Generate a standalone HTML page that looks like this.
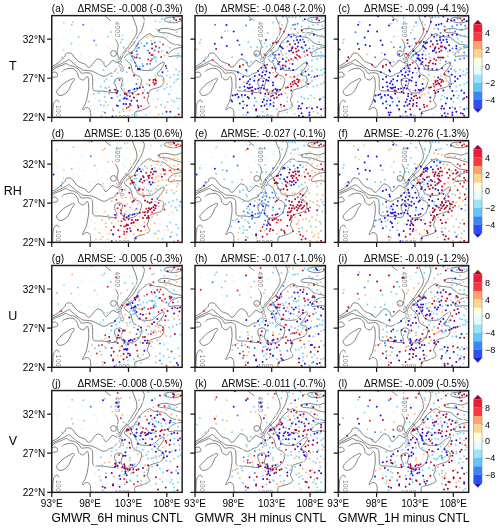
<!DOCTYPE html><html><head><meta charset="utf-8"><style>html,body{margin:0;padding:0;background:#fff;}svg{display:block;}</style></head><body>
<svg width="500" height="529" viewBox="0 0 500 529" font-family="'Liberation Sans', Arial, sans-serif">
<rect width="500" height="529" fill="#fff"/>
<defs>
<g id="cont"><path d="M52.65 -1.00C52.78 -0.73 52.85 -0.07 53.45 0.60C54.05 1.27 55.28 2.23 56.25 3.00C57.22 3.77 58.75 4.83 59.25 5.20M63.45 23.30C63.65 23.60 64.25 24.40 64.65 25.10C65.05 25.80 65.55 26.58 65.85 27.50C66.15 28.42 66.47 29.57 66.45 30.60C66.43 31.63 65.93 32.68 65.75 33.70C65.57 34.72 65.28 35.70 65.35 36.70C65.42 37.70 65.88 38.82 66.15 39.70C66.42 40.58 66.62 41.57 66.95 42.00C67.28 42.43 67.75 42.63 68.15 42.30C68.55 41.97 68.82 40.88 69.35 40.00C69.88 39.12 70.48 38.02 71.35 37.00C72.22 35.98 73.68 34.87 74.55 33.90C75.42 32.93 75.88 32.12 76.55 31.20C77.22 30.28 77.87 29.43 78.55 28.40C79.23 27.37 80.02 26.02 80.65 25.00C81.28 23.98 81.78 23.20 82.35 22.30C82.92 21.40 83.60 20.50 84.05 19.60C84.50 18.70 84.88 17.92 85.05 16.90C85.22 15.88 85.17 14.63 85.05 13.50C84.93 12.37 84.68 11.23 84.35 10.10C84.02 8.97 83.50 7.83 83.05 6.70C82.60 5.57 82.05 4.38 81.65 3.30C81.25 2.22 80.87 0.92 80.65 0.20C80.43 -0.52 80.40 -0.80 80.35 -1.00M-0.65 51.10C-0.38 50.98 0.23 50.73 0.95 50.40C1.67 50.07 2.77 49.60 3.65 49.10C4.53 48.60 5.37 48.07 6.25 47.40C7.13 46.73 8.07 45.93 8.95 45.10C9.83 44.27 10.83 43.12 11.55 42.40C12.27 41.68 12.85 41.45 13.25 40.80C13.65 40.15 13.57 39.05 13.95 38.50C14.33 37.95 14.83 37.67 15.55 37.50C16.27 37.33 17.37 37.25 18.25 37.50C19.13 37.75 20.00 38.17 20.85 39.00C21.70 39.83 22.35 41.33 23.35 42.50C24.35 43.67 25.55 45.13 26.85 46.00C28.15 46.87 29.95 47.20 31.15 47.70C32.35 48.20 33.28 48.37 34.05 49.00C34.82 49.63 35.10 51.08 35.75 51.50C36.40 51.92 37.17 51.92 37.95 51.50C38.73 51.08 39.60 49.98 40.45 49.00C41.30 48.02 42.20 46.53 43.05 45.60C43.90 44.67 44.70 43.68 45.55 43.40C46.40 43.12 47.30 43.53 48.15 43.90C49.00 44.27 49.95 44.75 50.65 45.60C51.35 46.45 51.92 48.13 52.35 49.00C52.78 49.87 52.82 50.52 53.25 50.80C53.68 51.08 54.38 51.00 54.95 50.70C55.52 50.40 56.08 49.53 56.65 49.00C57.22 48.47 57.82 48.10 58.35 47.50C58.88 46.90 59.25 45.82 59.85 45.40C60.45 44.98 61.22 44.82 61.95 45.00C62.68 45.18 63.50 46.18 64.25 46.50C65.00 46.82 65.82 47.02 66.45 46.90C67.08 46.78 67.57 46.28 68.05 45.80C68.53 45.32 68.95 44.75 69.35 44.00C69.75 43.25 70.05 42.08 70.45 41.30C70.85 40.52 71.22 40.05 71.75 39.30C72.28 38.55 73.05 37.55 73.65 36.80C74.25 36.05 74.70 35.43 75.35 34.80C76.00 34.17 76.90 33.63 77.55 33.00C78.20 32.37 78.62 31.65 79.25 31.00C79.88 30.35 80.67 29.98 81.35 29.10C82.03 28.22 82.68 26.83 83.35 25.70C84.02 24.57 84.67 23.43 85.35 22.30C86.03 21.17 86.77 20.03 87.45 18.90C88.13 17.77 88.88 16.63 89.45 15.50C90.02 14.37 90.45 13.23 90.85 12.10C91.25 10.97 91.57 9.83 91.85 8.70C92.13 7.57 92.48 6.32 92.55 5.30C92.62 4.28 92.60 3.45 92.25 2.60C91.90 1.75 90.80 0.80 90.45 0.20C90.10 -0.40 90.20 -0.80 90.15 -1.00M-0.65 53.30C-0.38 53.15 0.02 52.88 0.95 52.40C1.88 51.92 3.62 51.07 4.95 50.40C6.28 49.73 7.62 49.07 8.95 48.40C10.28 47.73 11.85 47.00 12.95 46.40C14.05 45.80 14.78 45.18 15.55 44.80C16.32 44.42 17.00 44.05 17.55 44.10C18.10 44.15 18.40 44.65 18.85 45.10C19.30 45.55 19.70 46.33 20.25 46.80C20.80 47.27 21.33 47.25 22.15 47.90C22.97 48.55 24.08 49.88 25.15 50.70C26.22 51.52 27.55 52.17 28.55 52.80C29.55 53.43 30.02 54.15 31.15 54.50C32.28 54.85 33.93 54.75 35.35 54.90C36.77 55.05 38.23 55.03 39.65 55.40C41.07 55.77 42.58 56.53 43.85 57.10C45.12 57.67 46.12 58.23 47.25 58.80C48.38 59.37 49.52 60.22 50.65 60.50C51.78 60.78 53.05 60.78 54.05 60.50C55.05 60.22 55.77 59.30 56.65 58.80C57.53 58.30 58.48 57.80 59.35 57.50C60.22 57.20 61.18 57.42 61.85 57.00C62.52 56.58 62.80 55.72 63.35 55.00C63.90 54.28 64.85 53.08 65.15 52.70M-0.65 55.50C-0.38 55.32 0.23 54.92 0.95 54.40C1.67 53.88 2.65 52.95 3.65 52.40C4.65 51.85 5.85 51.55 6.95 51.10C8.05 50.65 9.15 50.20 10.25 49.70C11.35 49.20 12.67 48.32 13.55 48.10C14.43 47.88 14.88 48.13 15.55 48.40C16.22 48.67 16.77 49.37 17.55 49.70C18.33 50.03 19.55 50.23 20.25 50.40C20.95 50.57 20.93 50.37 21.75 50.70C22.57 51.03 24.15 51.70 25.15 52.40C26.15 53.10 27.03 54.05 27.75 54.90C28.47 55.75 28.75 57.07 29.45 57.50C30.15 57.93 30.97 57.57 31.95 57.50C32.93 57.43 34.22 57.03 35.35 57.10C36.48 57.17 37.90 57.42 38.75 57.90C39.60 58.38 40.08 58.93 40.45 60.00C40.82 61.07 40.87 62.60 40.95 64.30C41.03 66.00 40.88 68.57 40.95 70.20C41.02 71.83 40.87 73.23 41.35 74.10C41.83 74.97 42.72 75.18 43.85 75.40C44.98 75.62 46.73 75.33 48.15 75.40C49.57 75.47 51.08 75.67 52.35 75.80C53.62 75.93 54.75 76.05 55.75 76.20C56.75 76.35 57.25 76.57 58.35 76.70C59.45 76.83 61.27 77.12 62.35 77.00C63.43 76.88 64.43 76.75 64.85 76.00C65.27 75.25 65.10 73.58 64.85 72.50C64.60 71.42 63.68 70.50 63.35 69.50C63.02 68.50 62.85 67.42 62.85 66.50C62.85 65.58 62.77 64.67 63.35 64.00C63.93 63.33 65.27 62.67 66.35 62.50C67.43 62.33 69.10 62.50 69.85 63.00C70.60 63.50 70.85 64.50 70.85 65.50C70.85 66.50 70.10 67.92 69.85 69.00C69.60 70.08 69.18 71.00 69.35 72.00C69.52 73.00 70.18 74.17 70.85 75.00C71.52 75.83 72.43 76.58 73.35 77.00C74.27 77.42 75.18 77.50 76.35 77.50C77.52 77.50 79.18 77.25 80.35 77.00C81.52 76.75 82.43 76.50 83.35 76.00C84.27 75.50 85.10 74.75 85.85 74.00C86.60 73.25 87.27 72.58 87.85 71.50C88.43 70.42 89.02 68.75 89.35 67.50C89.68 66.25 89.93 64.87 89.85 64.00C89.77 63.13 89.27 62.85 88.85 62.30C88.43 61.75 88.10 61.17 87.35 60.70C86.60 60.23 85.25 60.00 84.35 59.50C83.45 59.00 82.55 58.30 81.95 57.70C81.35 57.10 81.05 56.60 80.75 55.90C80.45 55.20 80.35 54.40 80.15 53.50C79.95 52.60 79.85 51.40 79.55 50.50C79.25 49.60 78.85 48.80 78.35 48.10C77.85 47.40 77.25 46.90 76.55 46.30C75.85 45.70 74.80 45.08 74.15 44.50C73.50 43.92 72.82 43.37 72.65 42.80C72.48 42.23 72.70 41.72 73.15 41.10C73.60 40.48 74.48 39.77 75.35 39.10C76.22 38.43 77.25 37.80 78.35 37.10C79.45 36.40 81.12 35.58 81.95 34.90C82.78 34.22 82.88 33.73 83.35 33.00C83.82 32.27 84.30 31.37 84.75 30.50C85.20 29.63 85.60 28.60 86.05 27.80C86.50 27.00 86.88 26.38 87.45 25.70C88.02 25.02 88.77 24.32 89.45 23.70C90.13 23.08 90.87 22.57 91.55 22.00C92.23 21.43 92.87 20.82 93.55 20.30C94.23 19.78 94.97 19.23 95.65 18.90C96.33 18.57 97.03 18.33 97.65 18.30C98.27 18.27 98.77 18.37 99.35 18.70C99.93 19.03 100.20 19.92 101.15 20.30C102.10 20.68 103.75 20.82 105.05 21.00C106.35 21.18 107.78 21.25 108.95 21.40C110.12 21.55 111.13 21.55 112.05 21.90C112.97 22.25 113.63 22.87 114.45 23.50C115.27 24.13 116.15 25.05 116.95 25.70C117.75 26.35 118.40 26.92 119.25 27.40C120.10 27.88 120.92 28.32 122.05 28.60C123.18 28.88 125.02 28.92 126.05 29.10C127.08 29.28 127.37 29.40 128.25 29.70C129.13 30.00 130.83 30.70 131.35 30.90M73.85 33.00C74.18 33.30 75.10 34.08 75.85 34.80C76.60 35.52 77.73 36.38 78.35 37.30C78.97 38.22 79.05 39.30 79.55 40.30C80.05 41.30 80.75 42.20 81.35 43.30C81.95 44.40 82.55 45.80 83.15 46.90C83.75 48.00 84.45 49.00 84.95 49.90C85.45 50.80 85.55 51.60 86.15 52.30C86.75 53.00 87.75 53.70 88.55 54.10C89.35 54.50 90.15 54.58 90.95 54.70C91.75 54.82 92.45 54.77 93.35 54.80C94.25 54.83 95.18 54.98 96.35 54.90C97.52 54.82 99.27 54.67 100.35 54.30C101.43 53.93 101.85 53.50 102.85 52.70C103.85 51.90 105.27 50.37 106.35 49.50C107.43 48.63 108.43 48.03 109.35 47.50C110.27 46.97 111.35 46.13 111.85 46.30C112.35 46.47 112.60 47.55 112.35 48.50C112.10 49.45 111.02 50.92 110.35 52.00C109.68 53.08 109.10 54.12 108.35 55.00C107.60 55.88 106.32 56.67 105.85 57.30C105.38 57.93 105.38 58.38 105.55 58.80C105.72 59.22 106.12 59.50 106.85 59.80C107.58 60.10 109.15 60.22 109.95 60.60C110.75 60.98 111.30 61.32 111.65 62.10C112.00 62.88 112.17 64.20 112.05 65.30C111.93 66.40 111.42 67.80 110.95 68.70C110.48 69.60 110.10 70.13 109.25 70.70C108.40 71.27 107.20 71.63 105.85 72.10C104.50 72.57 102.47 73.02 101.15 73.50C99.83 73.98 98.65 74.33 97.95 75.00C97.25 75.67 97.13 76.58 96.95 77.50C96.77 78.42 97.12 79.33 96.85 80.50C96.58 81.67 95.35 83.33 95.35 84.50C95.35 85.67 96.43 86.50 96.85 87.50C97.27 88.50 98.10 89.67 97.85 90.50C97.60 91.33 96.27 91.97 95.35 92.50C94.43 93.03 93.43 93.28 92.35 93.70C91.27 94.12 90.02 94.67 88.85 95.00C87.68 95.33 86.30 95.42 85.35 95.70C84.40 95.98 83.55 96.07 83.15 96.70C82.75 97.33 82.98 98.53 82.95 99.50C82.92 100.47 82.95 102.00 82.95 102.50M10.25 56.00C10.47 55.78 11.00 55.08 11.55 54.70C12.10 54.32 12.77 53.98 13.55 53.70C14.33 53.42 15.37 53.17 16.25 53.00C17.13 52.83 17.93 52.67 18.85 52.70C19.77 52.73 20.83 52.75 21.75 53.20C22.67 53.65 23.63 54.55 24.35 55.40C25.07 56.25 25.63 57.25 26.05 58.30C26.47 59.35 26.28 60.77 26.85 61.70C27.42 62.63 28.60 63.47 29.45 63.90C30.30 64.33 31.25 64.52 31.95 64.30C32.65 64.08 33.15 63.17 33.65 62.60C34.15 62.03 34.52 61.05 34.95 60.90C35.38 60.75 35.93 60.93 36.25 61.70C36.57 62.47 36.72 64.03 36.85 65.50C36.98 66.97 37.08 69.00 37.05 70.50C37.02 72.00 36.85 73.00 36.65 74.50C36.45 76.00 36.15 77.83 35.85 79.50C35.55 81.17 35.27 83.00 34.85 84.50C34.43 86.00 33.93 87.25 33.35 88.50C32.77 89.75 31.77 91.08 31.35 92.00C30.93 92.92 30.68 93.75 30.85 94.00C31.02 94.25 31.93 93.78 32.35 93.50C32.77 93.22 32.77 92.55 33.35 92.30C33.93 92.05 35.10 91.80 35.85 92.00C36.60 92.20 37.35 92.75 37.85 93.50C38.35 94.25 38.68 95.50 38.85 96.50C39.02 97.50 38.77 98.50 38.85 99.50C38.93 100.50 39.27 102.00 39.35 102.50M-0.65 56.80C-0.38 56.83 0.35 57.07 0.95 57.00C1.55 56.93 2.28 56.35 2.95 56.40C3.62 56.45 4.45 56.82 4.95 57.30C5.45 57.78 5.88 58.68 5.95 59.30C6.02 59.92 5.73 60.67 5.35 61.00C4.97 61.33 4.27 61.18 3.65 61.30C3.03 61.42 2.37 61.57 1.65 61.70C0.93 61.83 -0.27 62.03 -0.65 62.10M5.35 77.50C4.93 76.78 4.52 76.33 4.85 75.50C5.18 74.67 6.27 73.67 7.35 72.50C8.43 71.33 10.08 69.57 11.35 68.50C12.62 67.43 13.80 66.80 14.95 66.10C16.10 65.40 17.27 64.82 18.25 64.30C19.23 63.78 20.13 63.17 20.85 63.00C21.57 62.83 22.33 62.97 22.55 63.30C22.77 63.63 22.60 64.22 22.15 65.00C21.70 65.78 20.57 66.75 19.85 68.00C19.13 69.25 18.60 71.08 17.85 72.50C17.10 73.92 16.43 75.37 15.35 76.50C14.27 77.63 12.68 78.75 11.35 79.30C10.02 79.85 8.35 80.10 7.35 79.80C6.35 79.50 5.77 78.22 5.35 77.50ZM0.95 102.50C0.95 102.17 0.92 101.85 0.95 100.50C0.98 99.15 1.07 96.18 1.15 94.40C1.23 92.62 1.25 91.03 1.45 89.80C1.65 88.57 1.92 87.80 2.35 87.00C2.78 86.20 3.48 85.38 4.05 85.00C4.62 84.62 5.28 84.60 5.75 84.70C6.22 84.80 6.62 85.22 6.85 85.60C7.08 85.98 7.10 86.77 7.15 87.00M131.35 0.50C131.00 0.50 129.87 0.45 129.25 0.50C128.63 0.55 128.43 0.68 127.65 0.80C126.87 0.92 125.85 1.07 124.55 1.20C123.25 1.33 121.28 1.47 119.85 1.60C118.42 1.73 117.05 1.80 115.95 2.00C114.85 2.20 113.83 2.47 113.25 2.80C112.67 3.13 112.48 3.62 112.45 4.00C112.42 4.38 112.47 4.72 113.05 5.10C113.63 5.48 114.82 5.97 115.95 6.30C117.08 6.63 118.55 6.97 119.85 7.10C121.15 7.23 122.58 7.23 123.75 7.10C124.92 6.97 125.93 6.63 126.85 6.30C127.77 5.97 128.50 5.40 129.25 5.10C130.00 4.80 131.00 4.60 131.35 4.50M131.35 12.20C131.00 12.25 130.12 12.25 129.25 12.50C128.38 12.75 127.20 13.37 126.15 13.70C125.10 14.03 124.13 14.50 122.95 14.50C121.77 14.50 120.35 13.97 119.05 13.70C117.75 13.43 116.45 13.03 115.15 12.90C113.85 12.77 112.42 12.77 111.25 12.90C110.08 13.03 108.98 13.37 108.15 13.70C107.32 14.03 106.47 14.47 106.25 14.90C106.03 15.33 106.25 15.95 106.85 16.30C107.45 16.65 108.68 16.83 109.85 17.00C111.02 17.17 112.60 17.18 113.85 17.30C115.10 17.42 116.18 17.42 117.35 17.70C118.52 17.98 119.68 18.55 120.85 19.00C122.02 19.45 123.10 20.03 124.35 20.40C125.60 20.77 127.18 20.85 128.35 21.20C129.52 21.55 130.85 22.28 131.35 22.50M131.35 31.70C130.52 31.80 127.90 31.97 126.35 32.30C124.80 32.63 123.33 33.10 122.05 33.70C120.77 34.30 119.50 35.15 118.65 35.90C117.80 36.65 117.28 37.43 116.95 38.20C116.62 38.97 116.47 40.03 116.65 40.50C116.83 40.97 117.25 41.00 118.05 41.00C118.85 41.00 120.12 40.63 121.45 40.50C122.78 40.37 124.40 40.15 126.05 40.20C127.70 40.25 130.47 40.70 131.35 40.80" fill="none" stroke="#6b6b6b" stroke-width="0.85" stroke-linejoin="round"/><circle cx="61.75" cy="37.90" r="2.9" fill="none" stroke="#6b6b6b" stroke-width="0.85"/><text transform="translate(65.55,14.00) rotate(90)" font-size="6.3" letter-spacing="0.5" text-anchor="middle" dy="2.27" fill="#7a7a7a">4000</text><text transform="translate(68.65,48.80) rotate(72)" font-size="6.0" letter-spacing="0.5" text-anchor="middle" dy="2.16" fill="#7a7a7a">3000</text><text transform="translate(6.95,95.50) rotate(90)" font-size="6.5" letter-spacing="0.5" text-anchor="middle" dy="2.34" fill="#7a7a7a">100</text><text transform="translate(70.65,100.80) rotate(0)" font-size="6.0" letter-spacing="0.5" text-anchor="middle" dy="2.16" fill="#7a7a7a">1000</text></g>
</defs>
<clipPath id="cp0"><rect x="51.75" y="15.60" width="130.4" height="101.8"/></clipPath>
<g clip-path="url(#cp0)">
<use href="#cont" transform="translate(51.75,15.60)"/>
<g transform="translate(51.75,15.60)"><path fill="#dcf8fd" d="M51.2 8.2a1.0 1.0 0 1 0 2.0 0a1.0 1.0 0 1 0 -2.0 0M16.8 16.3a1.0 1.0 0 1 0 2.0 0a1.0 1.0 0 1 0 -2.0 0M38.2 15.7a1.0 1.0 0 1 0 2.0 0a1.0 1.0 0 1 0 -2.0 0M26.5 29.3a1.0 1.0 0 1 0 2.0 0a1.0 1.0 0 1 0 -2.0 0M55.2 31.6a1.0 1.0 0 1 0 2.0 0a1.0 1.0 0 1 0 -2.0 0M0.5 34.2a1.0 1.0 0 1 0 2.0 0a1.0 1.0 0 1 0 -2.0 0M28.1 38.8a1.0 1.0 0 1 0 2.0 0a1.0 1.0 0 1 0 -2.0 0M36.9 41.7a1.0 1.0 0 1 0 2.0 0a1.0 1.0 0 1 0 -2.0 0M42.2 41.7a1.0 1.0 0 1 0 2.0 0a1.0 1.0 0 1 0 -2.0 0M54.5 39.1a1.0 1.0 0 1 0 2.0 0a1.0 1.0 0 1 0 -2.0 0M48.0 49.5a1.0 1.0 0 1 0 2.0 0a1.0 1.0 0 1 0 -2.0 0M66.8 8.2a1.0 1.0 0 1 0 2.0 0a1.0 1.0 0 1 0 -2.0 0M72.0 18.6a1.0 1.0 0 1 0 2.0 0a1.0 1.0 0 1 0 -2.0 0M74.7 34.2a1.0 1.0 0 1 0 2.0 0a1.0 1.0 0 1 0 -2.0 0M91.6 5.6a1.0 1.0 0 1 0 2.0 0a1.0 1.0 0 1 0 -2.0 0M111.1 9.5a1.0 1.0 0 1 0 2.0 0a1.0 1.0 0 1 0 -2.0 0M118.8 12.1a1.0 1.0 0 1 0 2.0 0a1.0 1.0 0 1 0 -2.0 0M125.3 22.5a1.0 1.0 0 1 0 2.0 0a1.0 1.0 0 1 0 -2.0 0M120.2 26.4a1.0 1.0 0 1 0 2.0 0a1.0 1.0 0 1 0 -2.0 0M114.9 30.3a1.0 1.0 0 1 0 2.0 0a1.0 1.0 0 1 0 -2.0 0M122.8 34.2a1.0 1.0 0 1 0 2.0 0a1.0 1.0 0 1 0 -2.0 0M118.8 45.9a1.0 1.0 0 1 0 2.0 0a1.0 1.0 0 1 0 -2.0 0M72.0 43.3a1.0 1.0 0 1 0 2.0 0a1.0 1.0 0 1 0 -2.0 0M75.9 48.5a1.0 1.0 0 1 0 2.0 0a1.0 1.0 0 1 0 -2.0 0M68.2 39.4a1.0 1.0 0 1 0 2.0 0a1.0 1.0 0 1 0 -2.0 0M56.4 65.1a1.0 1.0 0 1 0 2.0 0a1.0 1.0 0 1 0 -2.0 0M44.8 100.8a1.0 1.0 0 1 0 2.0 0a1.0 1.0 0 1 0 -2.0 0M62.9 87.8a1.0 1.0 0 1 0 2.0 0a1.0 1.0 0 1 0 -2.0 0M38.2 79.4a1.0 1.0 0 1 0 2.0 0a1.0 1.0 0 1 0 -2.0 0M42.2 64.4a1.0 1.0 0 1 0 2.0 0a1.0 1.0 0 1 0 -2.0 0M44.8 59.2a1.0 1.0 0 1 0 2.0 0a1.0 1.0 0 1 0 -2.0 0M38.2 90.4a1.0 1.0 0 1 0 2.0 0a1.0 1.0 0 1 0 -2.0 0M42.2 82.6a1.0 1.0 0 1 0 2.0 0a1.0 1.0 0 1 0 -2.0 0M53.8 93.0a1.0 1.0 0 1 0 2.0 0a1.0 1.0 0 1 0 -2.0 0M44.8 93.0a1.0 1.0 0 1 0 2.0 0a1.0 1.0 0 1 0 -2.0 0M35.7 95.6a1.0 1.0 0 1 0 2.0 0a1.0 1.0 0 1 0 -2.0 0M40.8 70.9a1.0 1.0 0 1 0 2.0 0a1.0 1.0 0 1 0 -2.0 0M118.8 74.8a1.0 1.0 0 1 0 2.0 0a1.0 1.0 0 1 0 -2.0 0M122.8 77.4a1.0 1.0 0 1 0 2.0 0a1.0 1.0 0 1 0 -2.0 0M126.7 69.6a1.0 1.0 0 1 0 2.0 0a1.0 1.0 0 1 0 -2.0 0M107.2 81.3a1.0 1.0 0 1 0 2.0 0a1.0 1.0 0 1 0 -2.0 0M100.7 83.9a1.0 1.0 0 1 0 2.0 0a1.0 1.0 0 1 0 -2.0 0M96.8 89.1a1.0 1.0 0 1 0 2.0 0a1.0 1.0 0 1 0 -2.0 0M118.8 90.4a1.0 1.0 0 1 0 2.0 0a1.0 1.0 0 1 0 -2.0 0M126.7 89.1a1.0 1.0 0 1 0 2.0 0a1.0 1.0 0 1 0 -2.0 0M94.2 56.6a1.0 1.0 0 1 0 2.0 0a1.0 1.0 0 1 0 -2.0 0M116.2 100.8a1.0 1.0 0 1 0 2.0 0a1.0 1.0 0 1 0 -2.0 0M70.4 1.7a1.0 1.0 0 1 0 2.0 0a1.0 1.0 0 1 0 -2.0 0M73.7 3.1a1.0 1.0 0 1 0 2.0 0a1.0 1.0 0 1 0 -2.0 0M96.0 2.0a1.0 1.0 0 1 0 2.0 0a1.0 1.0 0 1 0 -2.0 0M54.8 5.4a1.0 1.0 0 1 0 2.0 0a1.0 1.0 0 1 0 -2.0 0M114.0 11.2a1.0 1.0 0 1 0 2.0 0a1.0 1.0 0 1 0 -2.0 0M8.7 14.5a1.0 1.0 0 1 0 2.0 0a1.0 1.0 0 1 0 -2.0 0M80.3 15.2a1.0 1.0 0 1 0 2.0 0a1.0 1.0 0 1 0 -2.0 0M91.6 14.4a1.0 1.0 0 1 0 2.0 0a1.0 1.0 0 1 0 -2.0 0M86.5 20.0a1.0 1.0 0 1 0 2.0 0a1.0 1.0 0 1 0 -2.0 0M105.6 18.9a1.0 1.0 0 1 0 2.0 0a1.0 1.0 0 1 0 -2.0 0M11.0 23.0a1.0 1.0 0 1 0 2.0 0a1.0 1.0 0 1 0 -2.0 0M75.3 24.6a1.0 1.0 0 1 0 2.0 0a1.0 1.0 0 1 0 -2.0 0M83.2 24.1a1.0 1.0 0 1 0 2.0 0a1.0 1.0 0 1 0 -2.0 0M121.0 30.0a1.0 1.0 0 1 0 2.0 0a1.0 1.0 0 1 0 -2.0 0M70.8 38.6a1.0 1.0 0 1 0 2.0 0a1.0 1.0 0 1 0 -2.0 0M105.9 39.0a1.0 1.0 0 1 0 2.0 0a1.0 1.0 0 1 0 -2.0 0M115.5 39.3a1.0 1.0 0 1 0 2.0 0a1.0 1.0 0 1 0 -2.0 0M63.5 43.3a1.0 1.0 0 1 0 2.0 0a1.0 1.0 0 1 0 -2.0 0M114.8 43.7a1.0 1.0 0 1 0 2.0 0a1.0 1.0 0 1 0 -2.0 0M45.4 52.1a1.0 1.0 0 1 0 2.0 0a1.0 1.0 0 1 0 -2.0 0M55.0 52.3a1.0 1.0 0 1 0 2.0 0a1.0 1.0 0 1 0 -2.0 0M61.0 51.1a1.0 1.0 0 1 0 2.0 0a1.0 1.0 0 1 0 -2.0 0M110.6 53.6a1.0 1.0 0 1 0 2.0 0a1.0 1.0 0 1 0 -2.0 0M45.8 62.5a1.0 1.0 0 1 0 2.0 0a1.0 1.0 0 1 0 -2.0 0M82.4 62.6a1.0 1.0 0 1 0 2.0 0a1.0 1.0 0 1 0 -2.0 0M88.9 62.5a1.0 1.0 0 1 0 2.0 0a1.0 1.0 0 1 0 -2.0 0M74.9 66.2a1.0 1.0 0 1 0 2.0 0a1.0 1.0 0 1 0 -2.0 0M78.7 64.6a1.0 1.0 0 1 0 2.0 0a1.0 1.0 0 1 0 -2.0 0M116.6 64.6a1.0 1.0 0 1 0 2.0 0a1.0 1.0 0 1 0 -2.0 0M124.8 74.3a1.0 1.0 0 1 0 2.0 0a1.0 1.0 0 1 0 -2.0 0M89.1 85.0a1.0 1.0 0 1 0 2.0 0a1.0 1.0 0 1 0 -2.0 0M109.4 84.8a1.0 1.0 0 1 0 2.0 0a1.0 1.0 0 1 0 -2.0 0M124.5 85.6a1.0 1.0 0 1 0 2.0 0a1.0 1.0 0 1 0 -2.0 0M40.7 98.7a1.0 1.0 0 1 0 2.0 0a1.0 1.0 0 1 0 -2.0 0"/><path fill="#fdf8d8" d="M29.2 15.7a1.0 1.0 0 1 0 2.0 0a1.0 1.0 0 1 0 -2.0 0M31.1 30.0a1.0 1.0 0 1 0 2.0 0a1.0 1.0 0 1 0 -2.0 0M5.1 24.1a1.0 1.0 0 1 0 2.0 0a1.0 1.0 0 1 0 -2.0 0M4.5 27.4a1.0 1.0 0 1 0 2.0 0a1.0 1.0 0 1 0 -2.0 0M20.0 32.9a1.0 1.0 0 1 0 2.0 0a1.0 1.0 0 1 0 -2.0 0M46.0 39.1a1.0 1.0 0 1 0 2.0 0a1.0 1.0 0 1 0 -2.0 0M59.7 21.2a1.0 1.0 0 1 0 2.0 0a1.0 1.0 0 1 0 -2.0 0M96.8 8.2a1.0 1.0 0 1 0 2.0 0a1.0 1.0 0 1 0 -2.0 0M60.3 56.6a1.0 1.0 0 1 0 2.0 0a1.0 1.0 0 1 0 -2.0 0M57.8 89.1a1.0 1.0 0 1 0 2.0 0a1.0 1.0 0 1 0 -2.0 0M65.6 18.7a1.0 1.0 0 1 0 2.0 0a1.0 1.0 0 1 0 -2.0 0M37.3 29.6a1.0 1.0 0 1 0 2.0 0a1.0 1.0 0 1 0 -2.0 0M123.2 28.1a1.0 1.0 0 1 0 2.0 0a1.0 1.0 0 1 0 -2.0 0M121.3 56.4a1.0 1.0 0 1 0 2.0 0a1.0 1.0 0 1 0 -2.0 0M41.0 89.0a1.0 1.0 0 1 0 2.0 0a1.0 1.0 0 1 0 -2.0 0M92.2 89.8a1.0 1.0 0 1 0 2.0 0a1.0 1.0 0 1 0 -2.0 0M74.3 95.0a1.0 1.0 0 1 0 2.0 0a1.0 1.0 0 1 0 -2.0 0M97.1 97.9a1.0 1.0 0 1 0 2.0 0a1.0 1.0 0 1 0 -2.0 0"/><path fill="#9fe3f7" d="M53.8 72.9a1.0 1.0 0 1 0 2.0 0a1.0 1.0 0 1 0 -2.0 0M48.7 74.8a1.0 1.0 0 1 0 2.0 0a1.0 1.0 0 1 0 -2.0 0M11.1 7.1a1.0 1.0 0 1 0 2.0 0a1.0 1.0 0 1 0 -2.0 0M102.7 5.6a1.0 1.0 0 1 0 2.0 0a1.0 1.0 0 1 0 -2.0 0M107.2 6.4a1.0 1.0 0 1 0 2.0 0a1.0 1.0 0 1 0 -2.0 0M69.5 19.9a1.0 1.0 0 1 0 2.0 0a1.0 1.0 0 1 0 -2.0 0M111.6 18.5a1.0 1.0 0 1 0 2.0 0a1.0 1.0 0 1 0 -2.0 0M114.8 20.9a1.0 1.0 0 1 0 2.0 0a1.0 1.0 0 1 0 -2.0 0M10.8 34.2a1.0 1.0 0 1 0 2.0 0a1.0 1.0 0 1 0 -2.0 0M64.9 57.7a1.0 1.0 0 1 0 2.0 0a1.0 1.0 0 1 0 -2.0 0M69.7 62.4a1.0 1.0 0 1 0 2.0 0a1.0 1.0 0 1 0 -2.0 0M114.2 60.0a1.0 1.0 0 1 0 2.0 0a1.0 1.0 0 1 0 -2.0 0M60.9 67.1a1.0 1.0 0 1 0 2.0 0a1.0 1.0 0 1 0 -2.0 0M88.9 69.1a1.0 1.0 0 1 0 2.0 0a1.0 1.0 0 1 0 -2.0 0M114.0 72.0a1.0 1.0 0 1 0 2.0 0a1.0 1.0 0 1 0 -2.0 0M104.9 83.4a1.0 1.0 0 1 0 2.0 0a1.0 1.0 0 1 0 -2.0 0M118.9 85.0a1.0 1.0 0 1 0 2.0 0a1.0 1.0 0 1 0 -2.0 0M55.1 89.7a1.0 1.0 0 1 0 2.0 0a1.0 1.0 0 1 0 -2.0 0M79.8 99.2a1.0 1.0 0 1 0 2.0 0a1.0 1.0 0 1 0 -2.0 0M84.0 99.7a1.0 1.0 0 1 0 2.0 0a1.0 1.0 0 1 0 -2.0 0M93.4 99.5a1.0 1.0 0 1 0 2.0 0a1.0 1.0 0 1 0 -2.0 0"/><path fill="#fdd28f" d="M49.9 96.2a1.0 1.0 0 1 0 2.0 0a1.0 1.0 0 1 0 -2.0 0"/><path fill="#80d3f7" d="M19.0 9.1a1.0 1.0 0 1 0 2.0 0a1.0 1.0 0 1 0 -2.0 0M58.4 16.3a1.0 1.0 0 1 0 2.0 0a1.0 1.0 0 1 0 -2.0 0M25.9 21.6a1.0 1.0 0 1 0 2.0 0a1.0 1.0 0 1 0 -2.0 0M18.8 28.0a1.0 1.0 0 1 0 2.0 0a1.0 1.0 0 1 0 -2.0 0M43.4 29.4a1.0 1.0 0 1 0 2.0 0a1.0 1.0 0 1 0 -2.0 0M20.0 40.0a1.0 1.0 0 1 0 2.0 0a1.0 1.0 0 1 0 -2.0 0M51.2 47.2a1.0 1.0 0 1 0 2.0 0a1.0 1.0 0 1 0 -2.0 0M63.6 46.5a1.0 1.0 0 1 0 2.0 0a1.0 1.0 0 1 0 -2.0 0M117.6 5.6a1.0 1.0 0 1 0 2.0 0a1.0 1.0 0 1 0 -2.0 0M113.7 3.0a1.0 1.0 0 1 0 2.0 0a1.0 1.0 0 1 0 -2.0 0M109.1 3.3a1.0 1.0 0 1 0 2.0 0a1.0 1.0 0 1 0 -2.0 0M69.5 23.8a1.0 1.0 0 1 0 2.0 0a1.0 1.0 0 1 0 -2.0 0M68.2 27.0a1.0 1.0 0 1 0 2.0 0a1.0 1.0 0 1 0 -2.0 0M70.8 31.6a1.0 1.0 0 1 0 2.0 0a1.0 1.0 0 1 0 -2.0 0M88.3 27.7a1.0 1.0 0 1 0 2.0 0a1.0 1.0 0 1 0 -2.0 0M84.4 32.9a1.0 1.0 0 1 0 2.0 0a1.0 1.0 0 1 0 -2.0 0M98.7 25.1a1.0 1.0 0 1 0 2.0 0a1.0 1.0 0 1 0 -2.0 0M107.2 26.4a1.0 1.0 0 1 0 2.0 0a1.0 1.0 0 1 0 -2.0 0M109.1 35.5a1.0 1.0 0 1 0 2.0 0a1.0 1.0 0 1 0 -2.0 0M101.3 41.3a1.0 1.0 0 1 0 2.0 0a1.0 1.0 0 1 0 -2.0 0M103.2 41.3a1.0 1.0 0 1 0 2.0 0a1.0 1.0 0 1 0 -2.0 0M101.9 42.6a1.0 1.0 0 1 0 2.0 0a1.0 1.0 0 1 0 -2.0 0M77.9 44.6a1.0 1.0 0 1 0 2.0 0a1.0 1.0 0 1 0 -2.0 0M89.6 48.5a1.0 1.0 0 1 0 2.0 0a1.0 1.0 0 1 0 -2.0 0M110.4 47.2a1.0 1.0 0 1 0 2.0 0a1.0 1.0 0 1 0 -2.0 0M87.0 51.1a1.0 1.0 0 1 0 2.0 0a1.0 1.0 0 1 0 -2.0 0M103.2 45.9a1.0 1.0 0 1 0 2.0 0a1.0 1.0 0 1 0 -2.0 0M124.7 42.0a1.0 1.0 0 1 0 2.0 0a1.0 1.0 0 1 0 -2.0 0M125.3 38.1a1.0 1.0 0 1 0 2.0 0a1.0 1.0 0 1 0 -2.0 0M116.9 32.2a1.0 1.0 0 1 0 2.0 0a1.0 1.0 0 1 0 -2.0 0M127.9 40.7a1.0 1.0 0 1 0 2.0 0a1.0 1.0 0 1 0 -2.0 0M50.6 54.3a1.0 1.0 0 1 0 2.0 0a1.0 1.0 0 1 0 -2.0 0M59.0 60.5a1.0 1.0 0 1 0 2.0 0a1.0 1.0 0 1 0 -2.0 0M53.8 63.7a1.0 1.0 0 1 0 2.0 0a1.0 1.0 0 1 0 -2.0 0M51.9 65.7a1.0 1.0 0 1 0 2.0 0a1.0 1.0 0 1 0 -2.0 0M62.9 65.1a1.0 1.0 0 1 0 2.0 0a1.0 1.0 0 1 0 -2.0 0M48.0 70.9a1.0 1.0 0 1 0 2.0 0a1.0 1.0 0 1 0 -2.0 0M52.5 72.2a1.0 1.0 0 1 0 2.0 0a1.0 1.0 0 1 0 -2.0 0M56.4 71.6a1.0 1.0 0 1 0 2.0 0a1.0 1.0 0 1 0 -2.0 0M63.6 76.1a1.0 1.0 0 1 0 2.0 0a1.0 1.0 0 1 0 -2.0 0M40.8 78.1a1.0 1.0 0 1 0 2.0 0a1.0 1.0 0 1 0 -2.0 0M46.0 77.4a1.0 1.0 0 1 0 2.0 0a1.0 1.0 0 1 0 -2.0 0M56.4 78.1a1.0 1.0 0 1 0 2.0 0a1.0 1.0 0 1 0 -2.0 0M51.9 81.3a1.0 1.0 0 1 0 2.0 0a1.0 1.0 0 1 0 -2.0 0M46.7 85.2a1.0 1.0 0 1 0 2.0 0a1.0 1.0 0 1 0 -2.0 0M48.0 89.1a1.0 1.0 0 1 0 2.0 0a1.0 1.0 0 1 0 -2.0 0M51.2 89.8a1.0 1.0 0 1 0 2.0 0a1.0 1.0 0 1 0 -2.0 0M36.3 85.8a1.0 1.0 0 1 0 2.0 0a1.0 1.0 0 1 0 -2.0 0M60.3 93.7a1.0 1.0 0 1 0 2.0 0a1.0 1.0 0 1 0 -2.0 0M48.7 100.2a1.0 1.0 0 1 0 2.0 0a1.0 1.0 0 1 0 -2.0 0M97.4 54.0a1.0 1.0 0 1 0 2.0 0a1.0 1.0 0 1 0 -2.0 0M100.7 52.7a1.0 1.0 0 1 0 2.0 0a1.0 1.0 0 1 0 -2.0 0M123.4 54.0a1.0 1.0 0 1 0 2.0 0a1.0 1.0 0 1 0 -2.0 0M126.7 55.9a1.0 1.0 0 1 0 2.0 0a1.0 1.0 0 1 0 -2.0 0M105.8 56.6a1.0 1.0 0 1 0 2.0 0a1.0 1.0 0 1 0 -2.0 0M74.0 56.6a1.0 1.0 0 1 0 2.0 0a1.0 1.0 0 1 0 -2.0 0M69.5 55.3a1.0 1.0 0 1 0 2.0 0a1.0 1.0 0 1 0 -2.0 0M69.5 66.4a1.0 1.0 0 1 0 2.0 0a1.0 1.0 0 1 0 -2.0 0M70.1 69.6a1.0 1.0 0 1 0 2.0 0a1.0 1.0 0 1 0 -2.0 0M80.5 74.2a1.0 1.0 0 1 0 2.0 0a1.0 1.0 0 1 0 -2.0 0M72.0 81.3a1.0 1.0 0 1 0 2.0 0a1.0 1.0 0 1 0 -2.0 0M67.5 79.4a1.0 1.0 0 1 0 2.0 0a1.0 1.0 0 1 0 -2.0 0M64.9 80.7a1.0 1.0 0 1 0 2.0 0a1.0 1.0 0 1 0 -2.0 0M67.5 84.6a1.0 1.0 0 1 0 2.0 0a1.0 1.0 0 1 0 -2.0 0M75.3 83.9a1.0 1.0 0 1 0 2.0 0a1.0 1.0 0 1 0 -2.0 0M70.1 93.7a1.0 1.0 0 1 0 2.0 0a1.0 1.0 0 1 0 -2.0 0M70.8 95.6a1.0 1.0 0 1 0 2.0 0a1.0 1.0 0 1 0 -2.0 0M83.1 96.9a1.0 1.0 0 1 0 2.0 0a1.0 1.0 0 1 0 -2.0 0M94.2 68.3a1.0 1.0 0 1 0 2.0 0a1.0 1.0 0 1 0 -2.0 0M91.6 74.8a1.0 1.0 0 1 0 2.0 0a1.0 1.0 0 1 0 -2.0 0M104.6 74.8a1.0 1.0 0 1 0 2.0 0a1.0 1.0 0 1 0 -2.0 0M107.2 60.5a1.0 1.0 0 1 0 2.0 0a1.0 1.0 0 1 0 -2.0 0M111.7 73.5a1.0 1.0 0 1 0 2.0 0a1.0 1.0 0 1 0 -2.0 0M117.6 70.9a1.0 1.0 0 1 0 2.0 0a1.0 1.0 0 1 0 -2.0 0M121.4 67.0a1.0 1.0 0 1 0 2.0 0a1.0 1.0 0 1 0 -2.0 0M123.4 64.4a1.0 1.0 0 1 0 2.0 0a1.0 1.0 0 1 0 -2.0 0M125.3 63.1a1.0 1.0 0 1 0 2.0 0a1.0 1.0 0 1 0 -2.0 0M117.6 61.8a1.0 1.0 0 1 0 2.0 0a1.0 1.0 0 1 0 -2.0 0M121.4 59.2a1.0 1.0 0 1 0 2.0 0a1.0 1.0 0 1 0 -2.0 0M125.3 59.2a1.0 1.0 0 1 0 2.0 0a1.0 1.0 0 1 0 -2.0 0M116.2 78.7a1.0 1.0 0 1 0 2.0 0a1.0 1.0 0 1 0 -2.0 0M124.1 82.6a1.0 1.0 0 1 0 2.0 0a1.0 1.0 0 1 0 -2.0 0M126.7 83.2a1.0 1.0 0 1 0 2.0 0a1.0 1.0 0 1 0 -2.0 0M121.4 85.8a1.0 1.0 0 1 0 2.0 0a1.0 1.0 0 1 0 -2.0 0M114.9 86.5a1.0 1.0 0 1 0 2.0 0a1.0 1.0 0 1 0 -2.0 0M108.4 89.1a1.0 1.0 0 1 0 2.0 0a1.0 1.0 0 1 0 -2.0 0M109.8 98.2a1.0 1.0 0 1 0 2.0 0a1.0 1.0 0 1 0 -2.0 0M125.3 93.0a1.0 1.0 0 1 0 2.0 0a1.0 1.0 0 1 0 -2.0 0M122.8 100.8a1.0 1.0 0 1 0 2.0 0a1.0 1.0 0 1 0 -2.0 0"/><path fill="#fdbb84" d="M20.0 6.6a1.0 1.0 0 1 0 2.0 0a1.0 1.0 0 1 0 -2.0 0M55.2 21.2a1.0 1.0 0 1 0 2.0 0a1.0 1.0 0 1 0 -2.0 0M9.4 41.7a1.0 1.0 0 1 0 2.0 0a1.0 1.0 0 1 0 -2.0 0M120.2 6.3a1.0 1.0 0 1 0 2.0 0a1.0 1.0 0 1 0 -2.0 0M103.9 14.0a1.0 1.0 0 1 0 2.0 0a1.0 1.0 0 1 0 -2.0 0M124.1 16.6a1.0 1.0 0 1 0 2.0 0a1.0 1.0 0 1 0 -2.0 0M77.2 28.4a1.0 1.0 0 1 0 2.0 0a1.0 1.0 0 1 0 -2.0 0M80.5 26.4a1.0 1.0 0 1 0 2.0 0a1.0 1.0 0 1 0 -2.0 0M88.3 16.0a1.0 1.0 0 1 0 2.0 0a1.0 1.0 0 1 0 -2.0 0M94.2 21.2a1.0 1.0 0 1 0 2.0 0a1.0 1.0 0 1 0 -2.0 0M98.1 19.9a1.0 1.0 0 1 0 2.0 0a1.0 1.0 0 1 0 -2.0 0M100.7 21.9a1.0 1.0 0 1 0 2.0 0a1.0 1.0 0 1 0 -2.0 0M111.7 40.0a1.0 1.0 0 1 0 2.0 0a1.0 1.0 0 1 0 -2.0 0M53.2 86.5a1.0 1.0 0 1 0 2.0 0a1.0 1.0 0 1 0 -2.0 0M60.3 95.0a1.0 1.0 0 1 0 2.0 0a1.0 1.0 0 1 0 -2.0 0M70.8 52.1a1.0 1.0 0 1 0 2.0 0a1.0 1.0 0 1 0 -2.0 0M114.9 55.3a1.0 1.0 0 1 0 2.0 0a1.0 1.0 0 1 0 -2.0 0M85.1 63.7a1.0 1.0 0 1 0 2.0 0a1.0 1.0 0 1 0 -2.0 0M71.4 73.5a1.0 1.0 0 1 0 2.0 0a1.0 1.0 0 1 0 -2.0 0M83.8 79.4a1.0 1.0 0 1 0 2.0 0a1.0 1.0 0 1 0 -2.0 0M77.2 95.0a1.0 1.0 0 1 0 2.0 0a1.0 1.0 0 1 0 -2.0 0M66.8 96.9a1.0 1.0 0 1 0 2.0 0a1.0 1.0 0 1 0 -2.0 0M85.7 93.0a1.0 1.0 0 1 0 2.0 0a1.0 1.0 0 1 0 -2.0 0M103.2 60.5a1.0 1.0 0 1 0 2.0 0a1.0 1.0 0 1 0 -2.0 0M109.8 64.4a1.0 1.0 0 1 0 2.0 0a1.0 1.0 0 1 0 -2.0 0M111.1 67.0a1.0 1.0 0 1 0 2.0 0a1.0 1.0 0 1 0 -2.0 0M114.3 68.3a1.0 1.0 0 1 0 2.0 0a1.0 1.0 0 1 0 -2.0 0M103.2 91.7a1.0 1.0 0 1 0 2.0 0a1.0 1.0 0 1 0 -2.0 0M112.3 91.7a1.0 1.0 0 1 0 2.0 0a1.0 1.0 0 1 0 -2.0 0M105.8 98.8a1.0 1.0 0 1 0 2.0 0a1.0 1.0 0 1 0 -2.0 0"/><path fill="#3c8af4" d="M94.2 27.7a1.0 1.0 0 1 0 2.0 0a1.0 1.0 0 1 0 -2.0 0"/><path fill="#3a7ff2" d="M30.5 9.2a1.0 1.0 0 1 0 2.0 0a1.0 1.0 0 1 0 -2.0 0M41.5 24.8a1.0 1.0 0 1 0 2.0 0a1.0 1.0 0 1 0 -2.0 0M121.4 3.3a1.0 1.0 0 1 0 2.0 0a1.0 1.0 0 1 0 -2.0 0M106.5 14.7a1.0 1.0 0 1 0 2.0 0a1.0 1.0 0 1 0 -2.0 0M85.1 28.4a1.0 1.0 0 1 0 2.0 0a1.0 1.0 0 1 0 -2.0 0M83.8 30.3a1.0 1.0 0 1 0 2.0 0a1.0 1.0 0 1 0 -2.0 0M86.3 32.2a1.0 1.0 0 1 0 2.0 0a1.0 1.0 0 1 0 -2.0 0M91.6 30.3a1.0 1.0 0 1 0 2.0 0a1.0 1.0 0 1 0 -2.0 0M101.9 27.0a1.0 1.0 0 1 0 2.0 0a1.0 1.0 0 1 0 -2.0 0M106.5 32.2a1.0 1.0 0 1 0 2.0 0a1.0 1.0 0 1 0 -2.0 0M95.4 34.8a1.0 1.0 0 1 0 2.0 0a1.0 1.0 0 1 0 -2.0 0M101.9 34.8a1.0 1.0 0 1 0 2.0 0a1.0 1.0 0 1 0 -2.0 0M99.3 43.3a1.0 1.0 0 1 0 2.0 0a1.0 1.0 0 1 0 -2.0 0M83.8 35.5a1.0 1.0 0 1 0 2.0 0a1.0 1.0 0 1 0 -2.0 0M84.4 38.8a1.0 1.0 0 1 0 2.0 0a1.0 1.0 0 1 0 -2.0 0M79.8 40.7a1.0 1.0 0 1 0 2.0 0a1.0 1.0 0 1 0 -2.0 0M87.0 42.6a1.0 1.0 0 1 0 2.0 0a1.0 1.0 0 1 0 -2.0 0M82.4 47.2a1.0 1.0 0 1 0 2.0 0a1.0 1.0 0 1 0 -2.0 0M94.2 48.5a1.0 1.0 0 1 0 2.0 0a1.0 1.0 0 1 0 -2.0 0M97.4 48.2a1.0 1.0 0 1 0 2.0 0a1.0 1.0 0 1 0 -2.0 0M90.2 50.4a1.0 1.0 0 1 0 2.0 0a1.0 1.0 0 1 0 -2.0 0M83.1 50.4a1.0 1.0 0 1 0 2.0 0a1.0 1.0 0 1 0 -2.0 0M52.3 97.2a1.0 1.0 0 1 0 2.0 0a1.0 1.0 0 1 0 -2.0 0M86.3 54.0a1.0 1.0 0 1 0 2.0 0a1.0 1.0 0 1 0 -2.0 0M113.7 52.7a1.0 1.0 0 1 0 2.0 0a1.0 1.0 0 1 0 -2.0 0M83.8 68.3a1.0 1.0 0 1 0 2.0 0a1.0 1.0 0 1 0 -2.0 0M77.2 74.8a1.0 1.0 0 1 0 2.0 0a1.0 1.0 0 1 0 -2.0 0M70.8 83.2a1.0 1.0 0 1 0 2.0 0a1.0 1.0 0 1 0 -2.0 0M66.8 85.2a1.0 1.0 0 1 0 2.0 0a1.0 1.0 0 1 0 -2.0 0M65.5 90.4a1.0 1.0 0 1 0 2.0 0a1.0 1.0 0 1 0 -2.0 0"/><path fill="#ee2531" d="M120.8 2.0a1.0 1.0 0 1 0 2.0 0a1.0 1.0 0 1 0 -2.0 0M110.4 29.0a1.0 1.0 0 1 0 2.0 0a1.0 1.0 0 1 0 -2.0 0M105.8 36.1a1.0 1.0 0 1 0 2.0 0a1.0 1.0 0 1 0 -2.0 0M100.0 39.4a1.0 1.0 0 1 0 2.0 0a1.0 1.0 0 1 0 -2.0 0M98.7 39.4a1.0 1.0 0 1 0 2.0 0a1.0 1.0 0 1 0 -2.0 0M108.4 41.3a1.0 1.0 0 1 0 2.0 0a1.0 1.0 0 1 0 -2.0 0M81.8 42.0a1.0 1.0 0 1 0 2.0 0a1.0 1.0 0 1 0 -2.0 0M95.4 43.9a1.0 1.0 0 1 0 2.0 0a1.0 1.0 0 1 0 -2.0 0M98.1 45.2a1.0 1.0 0 1 0 2.0 0a1.0 1.0 0 1 0 -2.0 0M63.6 77.4a1.0 1.0 0 1 0 2.0 0a1.0 1.0 0 1 0 -2.0 0M66.8 64.4a1.0 1.0 0 1 0 2.0 0a1.0 1.0 0 1 0 -2.0 0M90.2 71.6a1.0 1.0 0 1 0 2.0 0a1.0 1.0 0 1 0 -2.0 0M74.7 80.0a1.0 1.0 0 1 0 2.0 0a1.0 1.0 0 1 0 -2.0 0M90.2 77.4a1.0 1.0 0 1 0 2.0 0a1.0 1.0 0 1 0 -2.0 0M94.8 77.4a1.0 1.0 0 1 0 2.0 0a1.0 1.0 0 1 0 -2.0 0M91.6 82.0a1.0 1.0 0 1 0 2.0 0a1.0 1.0 0 1 0 -2.0 0M77.9 89.8a1.0 1.0 0 1 0 2.0 0a1.0 1.0 0 1 0 -2.0 0M75.9 91.1a1.0 1.0 0 1 0 2.0 0a1.0 1.0 0 1 0 -2.0 0M74.0 92.3a1.0 1.0 0 1 0 2.0 0a1.0 1.0 0 1 0 -2.0 0M85.1 89.8a1.0 1.0 0 1 0 2.0 0a1.0 1.0 0 1 0 -2.0 0M88.3 90.4a1.0 1.0 0 1 0 2.0 0a1.0 1.0 0 1 0 -2.0 0M96.8 64.4a1.0 1.0 0 1 0 2.0 0a1.0 1.0 0 1 0 -2.0 0M103.2 67.7a1.0 1.0 0 1 0 2.0 0a1.0 1.0 0 1 0 -2.0 0M96.8 69.6a1.0 1.0 0 1 0 2.0 0a1.0 1.0 0 1 0 -2.0 0"/><path fill="#a8072e" d="M123.4 4.6a1.0 1.0 0 1 0 2.0 0a1.0 1.0 0 1 0 -2.0 0M127.3 3.7a1.0 1.0 0 1 0 2.0 0a1.0 1.0 0 1 0 -2.0 0M99.3 28.4a1.0 1.0 0 1 0 2.0 0a1.0 1.0 0 1 0 -2.0 0M103.2 30.9a1.0 1.0 0 1 0 2.0 0a1.0 1.0 0 1 0 -2.0 0M99.3 32.9a1.0 1.0 0 1 0 2.0 0a1.0 1.0 0 1 0 -2.0 0M96.8 37.4a1.0 1.0 0 1 0 2.0 0a1.0 1.0 0 1 0 -2.0 0M114.3 36.8a1.0 1.0 0 1 0 2.0 0a1.0 1.0 0 1 0 -2.0 0M79.2 37.4a1.0 1.0 0 1 0 2.0 0a1.0 1.0 0 1 0 -2.0 0M83.8 42.0a1.0 1.0 0 1 0 2.0 0a1.0 1.0 0 1 0 -2.0 0M113.0 50.4a1.0 1.0 0 1 0 2.0 0a1.0 1.0 0 1 0 -2.0 0M57.1 74.8a1.0 1.0 0 1 0 2.0 0a1.0 1.0 0 1 0 -2.0 0M76.6 52.1a1.0 1.0 0 1 0 2.0 0a1.0 1.0 0 1 0 -2.0 0M81.2 59.9a1.0 1.0 0 1 0 2.0 0a1.0 1.0 0 1 0 -2.0 0M64.2 77.4a1.0 1.0 0 1 0 2.0 0a1.0 1.0 0 1 0 -2.0 0M72.0 78.1a1.0 1.0 0 1 0 2.0 0a1.0 1.0 0 1 0 -2.0 0M73.3 78.7a1.0 1.0 0 1 0 2.0 0a1.0 1.0 0 1 0 -2.0 0M77.2 80.7a1.0 1.0 0 1 0 2.0 0a1.0 1.0 0 1 0 -2.0 0M79.8 78.1a1.0 1.0 0 1 0 2.0 0a1.0 1.0 0 1 0 -2.0 0M81.2 82.0a1.0 1.0 0 1 0 2.0 0a1.0 1.0 0 1 0 -2.0 0M85.7 78.7a1.0 1.0 0 1 0 2.0 0a1.0 1.0 0 1 0 -2.0 0M100.7 64.4a1.0 1.0 0 1 0 2.0 0a1.0 1.0 0 1 0 -2.0 0M102.6 63.7a1.0 1.0 0 1 0 2.0 0a1.0 1.0 0 1 0 -2.0 0M103.2 65.1a1.0 1.0 0 1 0 2.0 0a1.0 1.0 0 1 0 -2.0 0M100.7 67.0a1.0 1.0 0 1 0 2.0 0a1.0 1.0 0 1 0 -2.0 0M101.9 69.0a1.0 1.0 0 1 0 2.0 0a1.0 1.0 0 1 0 -2.0 0M126.0 98.8a1.0 1.0 0 1 0 2.0 0a1.0 1.0 0 1 0 -2.0 0"/><path fill="#2412d8" d="M62.3 74.2a1.0 1.0 0 1 0 2.0 0a1.0 1.0 0 1 0 -2.0 0M59.0 82.3a1.0 1.0 0 1 0 2.0 0a1.0 1.0 0 1 0 -2.0 0M59.7 100.8a1.0 1.0 0 1 0 2.0 0a1.0 1.0 0 1 0 -2.0 0M85.1 53.4a1.0 1.0 0 1 0 2.0 0a1.0 1.0 0 1 0 -2.0 0M87.0 53.4a1.0 1.0 0 1 0 2.0 0a1.0 1.0 0 1 0 -2.0 0M109.8 56.6a1.0 1.0 0 1 0 2.0 0a1.0 1.0 0 1 0 -2.0 0M84.4 72.9a1.0 1.0 0 1 0 2.0 0a1.0 1.0 0 1 0 -2.0 0M87.0 72.2a1.0 1.0 0 1 0 2.0 0a1.0 1.0 0 1 0 -2.0 0M81.8 73.5a1.0 1.0 0 1 0 2.0 0a1.0 1.0 0 1 0 -2.0 0M75.9 75.5a1.0 1.0 0 1 0 2.0 0a1.0 1.0 0 1 0 -2.0 0M64.9 75.5a1.0 1.0 0 1 0 2.0 0a1.0 1.0 0 1 0 -2.0 0M72.0 82.6a1.0 1.0 0 1 0 2.0 0a1.0 1.0 0 1 0 -2.0 0M74.0 83.2a1.0 1.0 0 1 0 2.0 0a1.0 1.0 0 1 0 -2.0 0M78.6 85.2a1.0 1.0 0 1 0 2.0 0a1.0 1.0 0 1 0 -2.0 0M70.8 88.5a1.0 1.0 0 1 0 2.0 0a1.0 1.0 0 1 0 -2.0 0M73.3 88.5a1.0 1.0 0 1 0 2.0 0a1.0 1.0 0 1 0 -2.0 0M77.2 88.5a1.0 1.0 0 1 0 2.0 0a1.0 1.0 0 1 0 -2.0 0M84.4 85.2a1.0 1.0 0 1 0 2.0 0a1.0 1.0 0 1 0 -2.0 0M85.7 91.7a1.0 1.0 0 1 0 2.0 0a1.0 1.0 0 1 0 -2.0 0M64.2 89.8a1.0 1.0 0 1 0 2.0 0a1.0 1.0 0 1 0 -2.0 0M113.7 96.2a1.0 1.0 0 1 0 2.0 0a1.0 1.0 0 1 0 -2.0 0M117.6 96.2a1.0 1.0 0 1 0 2.0 0a1.0 1.0 0 1 0 -2.0 0"/></g>
</g>
<rect x="51.75" y="15.60" width="130.4" height="101.8" fill="none" stroke="#1a1a1a" stroke-width="1.45"/>
<path d="M47.15 39.09H51.75M47.15 78.25H51.75M47.15 117.40H51.75M51.75 117.40V122.00M90.10 117.40V122.00M128.46 117.40V122.00M166.81 117.40V122.00" stroke="#1a1a1a" stroke-width="1.2" fill="none"/>
<text x="51.85" y="12.10" font-size="10">(a)</text>
<text x="182.65" y="12.10" font-size="10" text-anchor="end">ΔRMSE: -0.008 (-0.3%)</text>
<text x="45.15" y="42.69" font-size="10" text-anchor="end">32°N</text>
<text x="45.15" y="81.85" font-size="10" text-anchor="end">27°N</text>
<text x="45.15" y="121.00" font-size="10" text-anchor="end">22°N</text>
<clipPath id="cp1"><rect x="195.00" y="15.60" width="130.4" height="101.8"/></clipPath>
<g clip-path="url(#cp1)">
<use href="#cont" transform="translate(195.00,15.60)"/>
<g transform="translate(195.00,15.60)"><path fill="#dcf8fd" d="M16.6 16.6a1.0 1.0 0 1 0 2.0 0a1.0 1.0 0 1 0 -2.0 0M58.2 16.0a1.0 1.0 0 1 0 2.0 0a1.0 1.0 0 1 0 -2.0 0M26.3 29.6a1.0 1.0 0 1 0 2.0 0a1.0 1.0 0 1 0 -2.0 0M53.6 86.5a1.0 1.0 0 1 0 2.0 0a1.0 1.0 0 1 0 -2.0 0M56.2 93.0a1.0 1.0 0 1 0 2.0 0a1.0 1.0 0 1 0 -2.0 0M43.2 94.3a1.0 1.0 0 1 0 2.0 0a1.0 1.0 0 1 0 -2.0 0M38.0 89.1a1.0 1.0 0 1 0 2.0 0a1.0 1.0 0 1 0 -2.0 0M40.6 73.5a1.0 1.0 0 1 0 2.0 0a1.0 1.0 0 1 0 -2.0 0M45.8 59.2a1.0 1.0 0 1 0 2.0 0a1.0 1.0 0 1 0 -2.0 0M60.1 68.3a1.0 1.0 0 1 0 2.0 0a1.0 1.0 0 1 0 -2.0 0M97.8 83.9a1.0 1.0 0 1 0 2.0 0a1.0 1.0 0 1 0 -2.0 0M103.0 77.4a1.0 1.0 0 1 0 2.0 0a1.0 1.0 0 1 0 -2.0 0M118.6 77.4a1.0 1.0 0 1 0 2.0 0a1.0 1.0 0 1 0 -2.0 0M122.5 87.8a1.0 1.0 0 1 0 2.0 0a1.0 1.0 0 1 0 -2.0 0M109.5 95.6a1.0 1.0 0 1 0 2.0 0a1.0 1.0 0 1 0 -2.0 0M92.6 93.0a1.0 1.0 0 1 0 2.0 0a1.0 1.0 0 1 0 -2.0 0M119.9 64.4a1.0 1.0 0 1 0 2.0 0a1.0 1.0 0 1 0 -2.0 0M96.5 56.6a1.0 1.0 0 1 0 2.0 0a1.0 1.0 0 1 0 -2.0 0M78.8 3.1a1.0 1.0 0 1 0 2.0 0a1.0 1.0 0 1 0 -2.0 0M46.4 11.1a1.0 1.0 0 1 0 2.0 0a1.0 1.0 0 1 0 -2.0 0M83.0 9.9a1.0 1.0 0 1 0 2.0 0a1.0 1.0 0 1 0 -2.0 0M109.5 16.8a1.0 1.0 0 1 0 2.0 0a1.0 1.0 0 1 0 -2.0 0M119.5 15.1a1.0 1.0 0 1 0 2.0 0a1.0 1.0 0 1 0 -2.0 0M82.6 20.3a1.0 1.0 0 1 0 2.0 0a1.0 1.0 0 1 0 -2.0 0M61.8 23.4a1.0 1.0 0 1 0 2.0 0a1.0 1.0 0 1 0 -2.0 0M74.4 23.7a1.0 1.0 0 1 0 2.0 0a1.0 1.0 0 1 0 -2.0 0M23.5 28.4a1.0 1.0 0 1 0 2.0 0a1.0 1.0 0 1 0 -2.0 0M105.7 38.4a1.0 1.0 0 1 0 2.0 0a1.0 1.0 0 1 0 -2.0 0M31.1 43.4a1.0 1.0 0 1 0 2.0 0a1.0 1.0 0 1 0 -2.0 0M66.2 44.1a1.0 1.0 0 1 0 2.0 0a1.0 1.0 0 1 0 -2.0 0M71.1 42.7a1.0 1.0 0 1 0 2.0 0a1.0 1.0 0 1 0 -2.0 0M42.8 47.9a1.0 1.0 0 1 0 2.0 0a1.0 1.0 0 1 0 -2.0 0M61.8 47.3a1.0 1.0 0 1 0 2.0 0a1.0 1.0 0 1 0 -2.0 0M65.7 47.2a1.0 1.0 0 1 0 2.0 0a1.0 1.0 0 1 0 -2.0 0M78.8 48.3a1.0 1.0 0 1 0 2.0 0a1.0 1.0 0 1 0 -2.0 0M102.7 48.2a1.0 1.0 0 1 0 2.0 0a1.0 1.0 0 1 0 -2.0 0M121.1 47.1a1.0 1.0 0 1 0 2.0 0a1.0 1.0 0 1 0 -2.0 0M107.0 51.3a1.0 1.0 0 1 0 2.0 0a1.0 1.0 0 1 0 -2.0 0M119.3 52.1a1.0 1.0 0 1 0 2.0 0a1.0 1.0 0 1 0 -2.0 0M125.1 51.6a1.0 1.0 0 1 0 2.0 0a1.0 1.0 0 1 0 -2.0 0M93.7 57.4a1.0 1.0 0 1 0 2.0 0a1.0 1.0 0 1 0 -2.0 0M118.6 56.6a1.0 1.0 0 1 0 2.0 0a1.0 1.0 0 1 0 -2.0 0M41.7 60.2a1.0 1.0 0 1 0 2.0 0a1.0 1.0 0 1 0 -2.0 0M107.8 60.8a1.0 1.0 0 1 0 2.0 0a1.0 1.0 0 1 0 -2.0 0M126.0 62.0a1.0 1.0 0 1 0 2.0 0a1.0 1.0 0 1 0 -2.0 0M75.2 65.0a1.0 1.0 0 1 0 2.0 0a1.0 1.0 0 1 0 -2.0 0M87.6 65.1a1.0 1.0 0 1 0 2.0 0a1.0 1.0 0 1 0 -2.0 0M91.6 67.0a1.0 1.0 0 1 0 2.0 0a1.0 1.0 0 1 0 -2.0 0M45.7 74.4a1.0 1.0 0 1 0 2.0 0a1.0 1.0 0 1 0 -2.0 0M87.3 75.2a1.0 1.0 0 1 0 2.0 0a1.0 1.0 0 1 0 -2.0 0M92.5 74.3a1.0 1.0 0 1 0 2.0 0a1.0 1.0 0 1 0 -2.0 0M92.9 78.8a1.0 1.0 0 1 0 2.0 0a1.0 1.0 0 1 0 -2.0 0M101.9 80.6a1.0 1.0 0 1 0 2.0 0a1.0 1.0 0 1 0 -2.0 0M123.1 80.8a1.0 1.0 0 1 0 2.0 0a1.0 1.0 0 1 0 -2.0 0M115.1 85.5a1.0 1.0 0 1 0 2.0 0a1.0 1.0 0 1 0 -2.0 0M125.6 87.4a1.0 1.0 0 1 0 2.0 0a1.0 1.0 0 1 0 -2.0 0M96.4 93.7a1.0 1.0 0 1 0 2.0 0a1.0 1.0 0 1 0 -2.0 0M41.2 98.9a1.0 1.0 0 1 0 2.0 0a1.0 1.0 0 1 0 -2.0 0M59.1 97.8a1.0 1.0 0 1 0 2.0 0a1.0 1.0 0 1 0 -2.0 0M65.1 99.3a1.0 1.0 0 1 0 2.0 0a1.0 1.0 0 1 0 -2.0 0M87.0 97.4a1.0 1.0 0 1 0 2.0 0a1.0 1.0 0 1 0 -2.0 0M110.4 99.6a1.0 1.0 0 1 0 2.0 0a1.0 1.0 0 1 0 -2.0 0"/><path fill="#fdf8d8" d="M28.2 38.8a1.0 1.0 0 1 0 2.0 0a1.0 1.0 0 1 0 -2.0 0M41.9 41.7a1.0 1.0 0 1 0 2.0 0a1.0 1.0 0 1 0 -2.0 0M54.9 21.2a1.0 1.0 0 1 0 2.0 0a1.0 1.0 0 1 0 -2.0 0M59.4 21.2a1.0 1.0 0 1 0 2.0 0a1.0 1.0 0 1 0 -2.0 0M65.7 6.6a1.0 1.0 0 1 0 2.0 0a1.0 1.0 0 1 0 -2.0 0M120.4 26.0a1.0 1.0 0 1 0 2.0 0a1.0 1.0 0 1 0 -2.0 0M124.2 23.6a1.0 1.0 0 1 0 2.0 0a1.0 1.0 0 1 0 -2.0 0M64.3 29.3a1.0 1.0 0 1 0 2.0 0a1.0 1.0 0 1 0 -2.0 0M78.9 29.8a1.0 1.0 0 1 0 2.0 0a1.0 1.0 0 1 0 -2.0 0M63.5 32.7a1.0 1.0 0 1 0 2.0 0a1.0 1.0 0 1 0 -2.0 0M124.3 46.9a1.0 1.0 0 1 0 2.0 0a1.0 1.0 0 1 0 -2.0 0M72.5 69.7a1.0 1.0 0 1 0 2.0 0a1.0 1.0 0 1 0 -2.0 0M121.2 75.6a1.0 1.0 0 1 0 2.0 0a1.0 1.0 0 1 0 -2.0 0M120.2 80.1a1.0 1.0 0 1 0 2.0 0a1.0 1.0 0 1 0 -2.0 0M114.0 88.8a1.0 1.0 0 1 0 2.0 0a1.0 1.0 0 1 0 -2.0 0"/><path fill="#9fe3f7" d="M65.3 9.7a1.0 1.0 0 1 0 2.0 0a1.0 1.0 0 1 0 -2.0 0M31.9 15.1a1.0 1.0 0 1 0 2.0 0a1.0 1.0 0 1 0 -2.0 0M112.2 25.0a1.0 1.0 0 1 0 2.0 0a1.0 1.0 0 1 0 -2.0 0M74.3 29.7a1.0 1.0 0 1 0 2.0 0a1.0 1.0 0 1 0 -2.0 0M115.8 51.1a1.0 1.0 0 1 0 2.0 0a1.0 1.0 0 1 0 -2.0 0M55.8 58.1a1.0 1.0 0 1 0 2.0 0a1.0 1.0 0 1 0 -2.0 0M56.6 62.3a1.0 1.0 0 1 0 2.0 0a1.0 1.0 0 1 0 -2.0 0M105.5 70.2a1.0 1.0 0 1 0 2.0 0a1.0 1.0 0 1 0 -2.0 0M73.7 75.4a1.0 1.0 0 1 0 2.0 0a1.0 1.0 0 1 0 -2.0 0M88.8 93.7a1.0 1.0 0 1 0 2.0 0a1.0 1.0 0 1 0 -2.0 0M47.0 99.5a1.0 1.0 0 1 0 2.0 0a1.0 1.0 0 1 0 -2.0 0M91.0 96.9a1.0 1.0 0 1 0 2.0 0a1.0 1.0 0 1 0 -2.0 0M98.6 98.5a1.0 1.0 0 1 0 2.0 0a1.0 1.0 0 1 0 -2.0 0"/><path fill="#80d3f7" d="M29.2 15.7a1.0 1.0 0 1 0 2.0 0a1.0 1.0 0 1 0 -2.0 0M3.9 27.4a1.0 1.0 0 1 0 2.0 0a1.0 1.0 0 1 0 -2.0 0M52.3 26.4a1.0 1.0 0 1 0 2.0 0a1.0 1.0 0 1 0 -2.0 0M54.9 31.6a1.0 1.0 0 1 0 2.0 0a1.0 1.0 0 1 0 -2.0 0M61.1 31.3a1.0 1.0 0 1 0 2.0 0a1.0 1.0 0 1 0 -2.0 0M36.1 41.7a1.0 1.0 0 1 0 2.0 0a1.0 1.0 0 1 0 -2.0 0M54.9 46.2a1.0 1.0 0 1 0 2.0 0a1.0 1.0 0 1 0 -2.0 0M63.4 12.1a1.0 1.0 0 1 0 2.0 0a1.0 1.0 0 1 0 -2.0 0M93.2 1.7a1.0 1.0 0 1 0 2.0 0a1.0 1.0 0 1 0 -2.0 0M96.5 1.4a1.0 1.0 0 1 0 2.0 0a1.0 1.0 0 1 0 -2.0 0M99.8 1.7a1.0 1.0 0 1 0 2.0 0a1.0 1.0 0 1 0 -2.0 0M104.3 1.0a1.0 1.0 0 1 0 2.0 0a1.0 1.0 0 1 0 -2.0 0M106.9 5.0a1.0 1.0 0 1 0 2.0 0a1.0 1.0 0 1 0 -2.0 0M112.8 5.0a1.0 1.0 0 1 0 2.0 0a1.0 1.0 0 1 0 -2.0 0M116.0 4.3a1.0 1.0 0 1 0 2.0 0a1.0 1.0 0 1 0 -2.0 0M125.8 3.0a1.0 1.0 0 1 0 2.0 0a1.0 1.0 0 1 0 -2.0 0M127.7 5.6a1.0 1.0 0 1 0 2.0 0a1.0 1.0 0 1 0 -2.0 0M77.0 6.9a1.0 1.0 0 1 0 2.0 0a1.0 1.0 0 1 0 -2.0 0M83.5 6.9a1.0 1.0 0 1 0 2.0 0a1.0 1.0 0 1 0 -2.0 0M91.9 6.3a1.0 1.0 0 1 0 2.0 0a1.0 1.0 0 1 0 -2.0 0M105.6 10.8a1.0 1.0 0 1 0 2.0 0a1.0 1.0 0 1 0 -2.0 0M112.8 11.4a1.0 1.0 0 1 0 2.0 0a1.0 1.0 0 1 0 -2.0 0M117.3 9.5a1.0 1.0 0 1 0 2.0 0a1.0 1.0 0 1 0 -2.0 0M121.9 8.8a1.0 1.0 0 1 0 2.0 0a1.0 1.0 0 1 0 -2.0 0M126.4 10.2a1.0 1.0 0 1 0 2.0 0a1.0 1.0 0 1 0 -2.0 0M71.8 17.3a1.0 1.0 0 1 0 2.0 0a1.0 1.0 0 1 0 -2.0 0M101.7 17.3a1.0 1.0 0 1 0 2.0 0a1.0 1.0 0 1 0 -2.0 0M110.8 14.0a1.0 1.0 0 1 0 2.0 0a1.0 1.0 0 1 0 -2.0 0M122.5 14.0a1.0 1.0 0 1 0 2.0 0a1.0 1.0 0 1 0 -2.0 0M116.0 16.0a1.0 1.0 0 1 0 2.0 0a1.0 1.0 0 1 0 -2.0 0M109.5 19.9a1.0 1.0 0 1 0 2.0 0a1.0 1.0 0 1 0 -2.0 0M113.4 19.2a1.0 1.0 0 1 0 2.0 0a1.0 1.0 0 1 0 -2.0 0M121.2 20.5a1.0 1.0 0 1 0 2.0 0a1.0 1.0 0 1 0 -2.0 0M125.8 19.9a1.0 1.0 0 1 0 2.0 0a1.0 1.0 0 1 0 -2.0 0M87.4 27.0a1.0 1.0 0 1 0 2.0 0a1.0 1.0 0 1 0 -2.0 0M90.6 26.4a1.0 1.0 0 1 0 2.0 0a1.0 1.0 0 1 0 -2.0 0M117.3 30.3a1.0 1.0 0 1 0 2.0 0a1.0 1.0 0 1 0 -2.0 0M117.3 32.9a1.0 1.0 0 1 0 2.0 0a1.0 1.0 0 1 0 -2.0 0M121.2 32.2a1.0 1.0 0 1 0 2.0 0a1.0 1.0 0 1 0 -2.0 0M125.1 30.9a1.0 1.0 0 1 0 2.0 0a1.0 1.0 0 1 0 -2.0 0M127.7 30.3a1.0 1.0 0 1 0 2.0 0a1.0 1.0 0 1 0 -2.0 0M66.6 31.6a1.0 1.0 0 1 0 2.0 0a1.0 1.0 0 1 0 -2.0 0M70.5 30.9a1.0 1.0 0 1 0 2.0 0a1.0 1.0 0 1 0 -2.0 0M80.9 34.8a1.0 1.0 0 1 0 2.0 0a1.0 1.0 0 1 0 -2.0 0M84.8 35.5a1.0 1.0 0 1 0 2.0 0a1.0 1.0 0 1 0 -2.0 0M108.9 40.7a1.0 1.0 0 1 0 2.0 0a1.0 1.0 0 1 0 -2.0 0M90.0 38.1a1.0 1.0 0 1 0 2.0 0a1.0 1.0 0 1 0 -2.0 0M74.4 39.4a1.0 1.0 0 1 0 2.0 0a1.0 1.0 0 1 0 -2.0 0M74.4 40.7a1.0 1.0 0 1 0 2.0 0a1.0 1.0 0 1 0 -2.0 0M90.6 42.0a1.0 1.0 0 1 0 2.0 0a1.0 1.0 0 1 0 -2.0 0M97.1 44.6a1.0 1.0 0 1 0 2.0 0a1.0 1.0 0 1 0 -2.0 0M101.7 44.6a1.0 1.0 0 1 0 2.0 0a1.0 1.0 0 1 0 -2.0 0M118.6 40.7a1.0 1.0 0 1 0 2.0 0a1.0 1.0 0 1 0 -2.0 0M121.2 43.3a1.0 1.0 0 1 0 2.0 0a1.0 1.0 0 1 0 -2.0 0M125.1 42.0a1.0 1.0 0 1 0 2.0 0a1.0 1.0 0 1 0 -2.0 0M126.4 39.4a1.0 1.0 0 1 0 2.0 0a1.0 1.0 0 1 0 -2.0 0M119.9 36.8a1.0 1.0 0 1 0 2.0 0a1.0 1.0 0 1 0 -2.0 0M116.0 44.6a1.0 1.0 0 1 0 2.0 0a1.0 1.0 0 1 0 -2.0 0M125.1 36.8a1.0 1.0 0 1 0 2.0 0a1.0 1.0 0 1 0 -2.0 0M123.1 26.4a1.0 1.0 0 1 0 2.0 0a1.0 1.0 0 1 0 -2.0 0M65.3 25.1a1.0 1.0 0 1 0 2.0 0a1.0 1.0 0 1 0 -2.0 0M51.0 55.9a1.0 1.0 0 1 0 2.0 0a1.0 1.0 0 1 0 -2.0 0M47.8 66.7a1.0 1.0 0 1 0 2.0 0a1.0 1.0 0 1 0 -2.0 0M62.7 76.1a1.0 1.0 0 1 0 2.0 0a1.0 1.0 0 1 0 -2.0 0M41.9 82.6a1.0 1.0 0 1 0 2.0 0a1.0 1.0 0 1 0 -2.0 0M46.4 81.3a1.0 1.0 0 1 0 2.0 0a1.0 1.0 0 1 0 -2.0 0M48.4 89.1a1.0 1.0 0 1 0 2.0 0a1.0 1.0 0 1 0 -2.0 0M60.1 85.8a1.0 1.0 0 1 0 2.0 0a1.0 1.0 0 1 0 -2.0 0M50.3 99.5a1.0 1.0 0 1 0 2.0 0a1.0 1.0 0 1 0 -2.0 0M90.0 52.1a1.0 1.0 0 1 0 2.0 0a1.0 1.0 0 1 0 -2.0 0M100.4 54.0a1.0 1.0 0 1 0 2.0 0a1.0 1.0 0 1 0 -2.0 0M105.6 54.6a1.0 1.0 0 1 0 2.0 0a1.0 1.0 0 1 0 -2.0 0M112.1 53.4a1.0 1.0 0 1 0 2.0 0a1.0 1.0 0 1 0 -2.0 0M116.0 55.3a1.0 1.0 0 1 0 2.0 0a1.0 1.0 0 1 0 -2.0 0M121.2 54.0a1.0 1.0 0 1 0 2.0 0a1.0 1.0 0 1 0 -2.0 0M125.1 54.6a1.0 1.0 0 1 0 2.0 0a1.0 1.0 0 1 0 -2.0 0M127.7 53.4a1.0 1.0 0 1 0 2.0 0a1.0 1.0 0 1 0 -2.0 0M101.7 59.9a1.0 1.0 0 1 0 2.0 0a1.0 1.0 0 1 0 -2.0 0M106.9 57.2a1.0 1.0 0 1 0 2.0 0a1.0 1.0 0 1 0 -2.0 0M110.8 60.5a1.0 1.0 0 1 0 2.0 0a1.0 1.0 0 1 0 -2.0 0M115.4 61.8a1.0 1.0 0 1 0 2.0 0a1.0 1.0 0 1 0 -2.0 0M123.8 59.9a1.0 1.0 0 1 0 2.0 0a1.0 1.0 0 1 0 -2.0 0M126.4 59.2a1.0 1.0 0 1 0 2.0 0a1.0 1.0 0 1 0 -2.0 0M128.4 57.2a1.0 1.0 0 1 0 2.0 0a1.0 1.0 0 1 0 -2.0 0M109.5 66.4a1.0 1.0 0 1 0 2.0 0a1.0 1.0 0 1 0 -2.0 0M110.8 70.9a1.0 1.0 0 1 0 2.0 0a1.0 1.0 0 1 0 -2.0 0M116.0 65.7a1.0 1.0 0 1 0 2.0 0a1.0 1.0 0 1 0 -2.0 0M117.3 70.9a1.0 1.0 0 1 0 2.0 0a1.0 1.0 0 1 0 -2.0 0M121.2 69.6a1.0 1.0 0 1 0 2.0 0a1.0 1.0 0 1 0 -2.0 0M125.1 68.3a1.0 1.0 0 1 0 2.0 0a1.0 1.0 0 1 0 -2.0 0M127.7 67.0a1.0 1.0 0 1 0 2.0 0a1.0 1.0 0 1 0 -2.0 0M69.2 80.7a1.0 1.0 0 1 0 2.0 0a1.0 1.0 0 1 0 -2.0 0M72.4 82.6a1.0 1.0 0 1 0 2.0 0a1.0 1.0 0 1 0 -2.0 0M73.8 90.4a1.0 1.0 0 1 0 2.0 0a1.0 1.0 0 1 0 -2.0 0M91.3 82.0a1.0 1.0 0 1 0 2.0 0a1.0 1.0 0 1 0 -2.0 0M95.2 89.1a1.0 1.0 0 1 0 2.0 0a1.0 1.0 0 1 0 -2.0 0M101.7 86.5a1.0 1.0 0 1 0 2.0 0a1.0 1.0 0 1 0 -2.0 0M105.6 81.3a1.0 1.0 0 1 0 2.0 0a1.0 1.0 0 1 0 -2.0 0M108.2 82.6a1.0 1.0 0 1 0 2.0 0a1.0 1.0 0 1 0 -2.0 0M112.1 83.2a1.0 1.0 0 1 0 2.0 0a1.0 1.0 0 1 0 -2.0 0M114.7 80.0a1.0 1.0 0 1 0 2.0 0a1.0 1.0 0 1 0 -2.0 0M125.1 82.6a1.0 1.0 0 1 0 2.0 0a1.0 1.0 0 1 0 -2.0 0M127.7 81.3a1.0 1.0 0 1 0 2.0 0a1.0 1.0 0 1 0 -2.0 0M113.4 91.7a1.0 1.0 0 1 0 2.0 0a1.0 1.0 0 1 0 -2.0 0M121.9 97.6a1.0 1.0 0 1 0 2.0 0a1.0 1.0 0 1 0 -2.0 0M125.1 100.2a1.0 1.0 0 1 0 2.0 0a1.0 1.0 0 1 0 -2.0 0M66.6 96.2a1.0 1.0 0 1 0 2.0 0a1.0 1.0 0 1 0 -2.0 0M71.8 98.8a1.0 1.0 0 1 0 2.0 0a1.0 1.0 0 1 0 -2.0 0M80.9 93.7a1.0 1.0 0 1 0 2.0 0a1.0 1.0 0 1 0 -2.0 0"/><path fill="#fdbb84" d="M4.8 24.2a1.0 1.0 0 1 0 2.0 0a1.0 1.0 0 1 0 -2.0 0M0.6 33.9a1.0 1.0 0 1 0 2.0 0a1.0 1.0 0 1 0 -2.0 0M9.4 41.7a1.0 1.0 0 1 0 2.0 0a1.0 1.0 0 1 0 -2.0 0M19.8 40.0a1.0 1.0 0 1 0 2.0 0a1.0 1.0 0 1 0 -2.0 0M86.1 9.5a1.0 1.0 0 1 0 2.0 0a1.0 1.0 0 1 0 -2.0 0M95.2 12.8a1.0 1.0 0 1 0 2.0 0a1.0 1.0 0 1 0 -2.0 0M68.6 27.7a1.0 1.0 0 1 0 2.0 0a1.0 1.0 0 1 0 -2.0 0M91.3 30.9a1.0 1.0 0 1 0 2.0 0a1.0 1.0 0 1 0 -2.0 0M74.4 35.5a1.0 1.0 0 1 0 2.0 0a1.0 1.0 0 1 0 -2.0 0M82.2 34.2a1.0 1.0 0 1 0 2.0 0a1.0 1.0 0 1 0 -2.0 0M86.8 39.4a1.0 1.0 0 1 0 2.0 0a1.0 1.0 0 1 0 -2.0 0M85.4 37.4a1.0 1.0 0 1 0 2.0 0a1.0 1.0 0 1 0 -2.0 0M67.9 38.1a1.0 1.0 0 1 0 2.0 0a1.0 1.0 0 1 0 -2.0 0M83.5 42.6a1.0 1.0 0 1 0 2.0 0a1.0 1.0 0 1 0 -2.0 0M88.1 49.1a1.0 1.0 0 1 0 2.0 0a1.0 1.0 0 1 0 -2.0 0M93.9 47.8a1.0 1.0 0 1 0 2.0 0a1.0 1.0 0 1 0 -2.0 0M112.8 50.4a1.0 1.0 0 1 0 2.0 0a1.0 1.0 0 1 0 -2.0 0M77.0 57.2a1.0 1.0 0 1 0 2.0 0a1.0 1.0 0 1 0 -2.0 0M84.8 63.1a1.0 1.0 0 1 0 2.0 0a1.0 1.0 0 1 0 -2.0 0M93.9 61.1a1.0 1.0 0 1 0 2.0 0a1.0 1.0 0 1 0 -2.0 0M95.9 61.8a1.0 1.0 0 1 0 2.0 0a1.0 1.0 0 1 0 -2.0 0M104.3 65.7a1.0 1.0 0 1 0 2.0 0a1.0 1.0 0 1 0 -2.0 0M106.9 64.4a1.0 1.0 0 1 0 2.0 0a1.0 1.0 0 1 0 -2.0 0M114.1 67.7a1.0 1.0 0 1 0 2.0 0a1.0 1.0 0 1 0 -2.0 0M86.8 72.2a1.0 1.0 0 1 0 2.0 0a1.0 1.0 0 1 0 -2.0 0M89.4 77.4a1.0 1.0 0 1 0 2.0 0a1.0 1.0 0 1 0 -2.0 0M85.4 91.7a1.0 1.0 0 1 0 2.0 0a1.0 1.0 0 1 0 -2.0 0M91.3 85.8a1.0 1.0 0 1 0 2.0 0a1.0 1.0 0 1 0 -2.0 0M118.6 82.6a1.0 1.0 0 1 0 2.0 0a1.0 1.0 0 1 0 -2.0 0M127.7 93.0a1.0 1.0 0 1 0 2.0 0a1.0 1.0 0 1 0 -2.0 0M117.3 96.2a1.0 1.0 0 1 0 2.0 0a1.0 1.0 0 1 0 -2.0 0M82.9 97.6a1.0 1.0 0 1 0 2.0 0a1.0 1.0 0 1 0 -2.0 0"/><path fill="#3c8af4" d="M54.2 4.3a1.0 1.0 0 1 0 2.0 0a1.0 1.0 0 1 0 -2.0 0M19.2 9.2a1.0 1.0 0 1 0 2.0 0a1.0 1.0 0 1 0 -2.0 0M50.0 9.8a1.0 1.0 0 1 0 2.0 0a1.0 1.0 0 1 0 -2.0 0M43.5 29.4a1.0 1.0 0 1 0 2.0 0a1.0 1.0 0 1 0 -2.0 0M60.1 38.8a1.0 1.0 0 1 0 2.0 0a1.0 1.0 0 1 0 -2.0 0M8.1 45.2a1.0 1.0 0 1 0 2.0 0a1.0 1.0 0 1 0 -2.0 0M51.0 47.2a1.0 1.0 0 1 0 2.0 0a1.0 1.0 0 1 0 -2.0 0M86.8 1.0a1.0 1.0 0 1 0 2.0 0a1.0 1.0 0 1 0 -2.0 0M97.1 9.5a1.0 1.0 0 1 0 2.0 0a1.0 1.0 0 1 0 -2.0 0M99.1 8.8a1.0 1.0 0 1 0 2.0 0a1.0 1.0 0 1 0 -2.0 0M101.7 8.2a1.0 1.0 0 1 0 2.0 0a1.0 1.0 0 1 0 -2.0 0M99.1 13.4a1.0 1.0 0 1 0 2.0 0a1.0 1.0 0 1 0 -2.0 0M97.8 19.9a1.0 1.0 0 1 0 2.0 0a1.0 1.0 0 1 0 -2.0 0M100.4 21.9a1.0 1.0 0 1 0 2.0 0a1.0 1.0 0 1 0 -2.0 0M97.8 25.1a1.0 1.0 0 1 0 2.0 0a1.0 1.0 0 1 0 -2.0 0M106.9 23.8a1.0 1.0 0 1 0 2.0 0a1.0 1.0 0 1 0 -2.0 0M106.9 32.9a1.0 1.0 0 1 0 2.0 0a1.0 1.0 0 1 0 -2.0 0M113.4 32.9a1.0 1.0 0 1 0 2.0 0a1.0 1.0 0 1 0 -2.0 0M79.6 39.4a1.0 1.0 0 1 0 2.0 0a1.0 1.0 0 1 0 -2.0 0M77.0 38.8a1.0 1.0 0 1 0 2.0 0a1.0 1.0 0 1 0 -2.0 0M78.3 42.6a1.0 1.0 0 1 0 2.0 0a1.0 1.0 0 1 0 -2.0 0M77.0 45.2a1.0 1.0 0 1 0 2.0 0a1.0 1.0 0 1 0 -2.0 0M43.8 71.6a1.0 1.0 0 1 0 2.0 0a1.0 1.0 0 1 0 -2.0 0M49.1 74.5a1.0 1.0 0 1 0 2.0 0a1.0 1.0 0 1 0 -2.0 0M58.8 82.3a1.0 1.0 0 1 0 2.0 0a1.0 1.0 0 1 0 -2.0 0M58.2 89.8a1.0 1.0 0 1 0 2.0 0a1.0 1.0 0 1 0 -2.0 0M77.6 74.2a1.0 1.0 0 1 0 2.0 0a1.0 1.0 0 1 0 -2.0 0M77.6 87.2a1.0 1.0 0 1 0 2.0 0a1.0 1.0 0 1 0 -2.0 0M70.5 88.5a1.0 1.0 0 1 0 2.0 0a1.0 1.0 0 1 0 -2.0 0"/><path fill="#ee2531" d="M16.6 44.6a1.0 1.0 0 1 0 2.0 0a1.0 1.0 0 1 0 -2.0 0M33.1 49.1a1.0 1.0 0 1 0 2.0 0a1.0 1.0 0 1 0 -2.0 0M47.1 49.1a1.0 1.0 0 1 0 2.0 0a1.0 1.0 0 1 0 -2.0 0M121.2 2.3a1.0 1.0 0 1 0 2.0 0a1.0 1.0 0 1 0 -2.0 0M84.8 13.4a1.0 1.0 0 1 0 2.0 0a1.0 1.0 0 1 0 -2.0 0M88.1 16.0a1.0 1.0 0 1 0 2.0 0a1.0 1.0 0 1 0 -2.0 0M82.2 25.7a1.0 1.0 0 1 0 2.0 0a1.0 1.0 0 1 0 -2.0 0M114.7 36.8a1.0 1.0 0 1 0 2.0 0a1.0 1.0 0 1 0 -2.0 0M101.1 39.4a1.0 1.0 0 1 0 2.0 0a1.0 1.0 0 1 0 -2.0 0M100.4 42.6a1.0 1.0 0 1 0 2.0 0a1.0 1.0 0 1 0 -2.0 0M104.3 42.0a1.0 1.0 0 1 0 2.0 0a1.0 1.0 0 1 0 -2.0 0M108.2 36.1a1.0 1.0 0 1 0 2.0 0a1.0 1.0 0 1 0 -2.0 0M111.4 39.4a1.0 1.0 0 1 0 2.0 0a1.0 1.0 0 1 0 -2.0 0M69.2 39.4a1.0 1.0 0 1 0 2.0 0a1.0 1.0 0 1 0 -2.0 0M92.6 44.6a1.0 1.0 0 1 0 2.0 0a1.0 1.0 0 1 0 -2.0 0M95.2 43.3a1.0 1.0 0 1 0 2.0 0a1.0 1.0 0 1 0 -2.0 0M71.1 49.1a1.0 1.0 0 1 0 2.0 0a1.0 1.0 0 1 0 -2.0 0M43.8 51.7a1.0 1.0 0 1 0 2.0 0a1.0 1.0 0 1 0 -2.0 0M90.0 59.2a1.0 1.0 0 1 0 2.0 0a1.0 1.0 0 1 0 -2.0 0M90.0 72.2a1.0 1.0 0 1 0 2.0 0a1.0 1.0 0 1 0 -2.0 0M94.6 68.3a1.0 1.0 0 1 0 2.0 0a1.0 1.0 0 1 0 -2.0 0M100.4 68.3a1.0 1.0 0 1 0 2.0 0a1.0 1.0 0 1 0 -2.0 0M97.1 69.0a1.0 1.0 0 1 0 2.0 0a1.0 1.0 0 1 0 -2.0 0"/><path fill="#a8072e" d="M20.1 33.3a1.0 1.0 0 1 0 2.0 0a1.0 1.0 0 1 0 -2.0 0M43.8 50.4a1.0 1.0 0 1 0 2.0 0a1.0 1.0 0 1 0 -2.0 0M123.1 5.0a1.0 1.0 0 1 0 2.0 0a1.0 1.0 0 1 0 -2.0 0M105.6 14.7a1.0 1.0 0 1 0 2.0 0a1.0 1.0 0 1 0 -2.0 0M77.0 27.7a1.0 1.0 0 1 0 2.0 0a1.0 1.0 0 1 0 -2.0 0M80.2 27.0a1.0 1.0 0 1 0 2.0 0a1.0 1.0 0 1 0 -2.0 0M99.1 28.4a1.0 1.0 0 1 0 2.0 0a1.0 1.0 0 1 0 -2.0 0M93.9 29.0a1.0 1.0 0 1 0 2.0 0a1.0 1.0 0 1 0 -2.0 0M95.9 32.9a1.0 1.0 0 1 0 2.0 0a1.0 1.0 0 1 0 -2.0 0M99.8 32.9a1.0 1.0 0 1 0 2.0 0a1.0 1.0 0 1 0 -2.0 0M97.1 36.8a1.0 1.0 0 1 0 2.0 0a1.0 1.0 0 1 0 -2.0 0M100.4 36.1a1.0 1.0 0 1 0 2.0 0a1.0 1.0 0 1 0 -2.0 0M102.4 34.8a1.0 1.0 0 1 0 2.0 0a1.0 1.0 0 1 0 -2.0 0M103.0 40.7a1.0 1.0 0 1 0 2.0 0a1.0 1.0 0 1 0 -2.0 0M99.1 42.0a1.0 1.0 0 1 0 2.0 0a1.0 1.0 0 1 0 -2.0 0M86.8 49.8a1.0 1.0 0 1 0 2.0 0a1.0 1.0 0 1 0 -2.0 0M89.4 50.4a1.0 1.0 0 1 0 2.0 0a1.0 1.0 0 1 0 -2.0 0M55.6 74.8a1.0 1.0 0 1 0 2.0 0a1.0 1.0 0 1 0 -2.0 0M56.8 75.1a1.0 1.0 0 1 0 2.0 0a1.0 1.0 0 1 0 -2.0 0M60.1 95.0a1.0 1.0 0 1 0 2.0 0a1.0 1.0 0 1 0 -2.0 0M76.4 52.1a1.0 1.0 0 1 0 2.0 0a1.0 1.0 0 1 0 -2.0 0M80.9 59.9a1.0 1.0 0 1 0 2.0 0a1.0 1.0 0 1 0 -2.0 0M79.6 61.1a1.0 1.0 0 1 0 2.0 0a1.0 1.0 0 1 0 -2.0 0M98.4 61.1a1.0 1.0 0 1 0 2.0 0a1.0 1.0 0 1 0 -2.0 0M105.6 58.6a1.0 1.0 0 1 0 2.0 0a1.0 1.0 0 1 0 -2.0 0M71.1 74.2a1.0 1.0 0 1 0 2.0 0a1.0 1.0 0 1 0 -2.0 0M76.4 75.5a1.0 1.0 0 1 0 2.0 0a1.0 1.0 0 1 0 -2.0 0M84.1 74.2a1.0 1.0 0 1 0 2.0 0a1.0 1.0 0 1 0 -2.0 0M91.9 71.6a1.0 1.0 0 1 0 2.0 0a1.0 1.0 0 1 0 -2.0 0M96.5 66.4a1.0 1.0 0 1 0 2.0 0a1.0 1.0 0 1 0 -2.0 0M98.4 65.1a1.0 1.0 0 1 0 2.0 0a1.0 1.0 0 1 0 -2.0 0M101.1 63.7a1.0 1.0 0 1 0 2.0 0a1.0 1.0 0 1 0 -2.0 0M103.0 64.4a1.0 1.0 0 1 0 2.0 0a1.0 1.0 0 1 0 -2.0 0M102.4 66.4a1.0 1.0 0 1 0 2.0 0a1.0 1.0 0 1 0 -2.0 0M99.1 67.7a1.0 1.0 0 1 0 2.0 0a1.0 1.0 0 1 0 -2.0 0M95.2 70.9a1.0 1.0 0 1 0 2.0 0a1.0 1.0 0 1 0 -2.0 0M101.7 70.2a1.0 1.0 0 1 0 2.0 0a1.0 1.0 0 1 0 -2.0 0M112.1 68.3a1.0 1.0 0 1 0 2.0 0a1.0 1.0 0 1 0 -2.0 0M95.2 74.8a1.0 1.0 0 1 0 2.0 0a1.0 1.0 0 1 0 -2.0 0M64.6 77.4a1.0 1.0 0 1 0 2.0 0a1.0 1.0 0 1 0 -2.0 0M72.4 78.7a1.0 1.0 0 1 0 2.0 0a1.0 1.0 0 1 0 -2.0 0M75.1 80.7a1.0 1.0 0 1 0 2.0 0a1.0 1.0 0 1 0 -2.0 0M80.2 78.1a1.0 1.0 0 1 0 2.0 0a1.0 1.0 0 1 0 -2.0 0M82.9 79.4a1.0 1.0 0 1 0 2.0 0a1.0 1.0 0 1 0 -2.0 0M78.3 82.6a1.0 1.0 0 1 0 2.0 0a1.0 1.0 0 1 0 -2.0 0M80.9 82.0a1.0 1.0 0 1 0 2.0 0a1.0 1.0 0 1 0 -2.0 0M71.1 93.7a1.0 1.0 0 1 0 2.0 0a1.0 1.0 0 1 0 -2.0 0M84.8 89.1a1.0 1.0 0 1 0 2.0 0a1.0 1.0 0 1 0 -2.0 0M88.1 90.4a1.0 1.0 0 1 0 2.0 0a1.0 1.0 0 1 0 -2.0 0"/><path fill="#2412d8" d="M30.5 9.5a1.0 1.0 0 1 0 2.0 0a1.0 1.0 0 1 0 -2.0 0M37.7 16.0a1.0 1.0 0 1 0 2.0 0a1.0 1.0 0 1 0 -2.0 0M25.7 21.9a1.0 1.0 0 1 0 2.0 0a1.0 1.0 0 1 0 -2.0 0M41.6 24.8a1.0 1.0 0 1 0 2.0 0a1.0 1.0 0 1 0 -2.0 0M18.8 28.1a1.0 1.0 0 1 0 2.0 0a1.0 1.0 0 1 0 -2.0 0M30.8 30.3a1.0 1.0 0 1 0 2.0 0a1.0 1.0 0 1 0 -2.0 0M45.8 39.0a1.0 1.0 0 1 0 2.0 0a1.0 1.0 0 1 0 -2.0 0M108.9 3.7a1.0 1.0 0 1 0 2.0 0a1.0 1.0 0 1 0 -2.0 0M120.6 3.7a1.0 1.0 0 1 0 2.0 0a1.0 1.0 0 1 0 -2.0 0M92.6 19.2a1.0 1.0 0 1 0 2.0 0a1.0 1.0 0 1 0 -2.0 0M95.2 21.2a1.0 1.0 0 1 0 2.0 0a1.0 1.0 0 1 0 -2.0 0M104.3 20.5a1.0 1.0 0 1 0 2.0 0a1.0 1.0 0 1 0 -2.0 0M117.9 19.2a1.0 1.0 0 1 0 2.0 0a1.0 1.0 0 1 0 -2.0 0M69.9 24.4a1.0 1.0 0 1 0 2.0 0a1.0 1.0 0 1 0 -2.0 0M84.1 30.3a1.0 1.0 0 1 0 2.0 0a1.0 1.0 0 1 0 -2.0 0M85.4 31.6a1.0 1.0 0 1 0 2.0 0a1.0 1.0 0 1 0 -2.0 0M86.8 32.9a1.0 1.0 0 1 0 2.0 0a1.0 1.0 0 1 0 -2.0 0M91.9 25.7a1.0 1.0 0 1 0 2.0 0a1.0 1.0 0 1 0 -2.0 0M101.1 24.4a1.0 1.0 0 1 0 2.0 0a1.0 1.0 0 1 0 -2.0 0M104.3 24.4a1.0 1.0 0 1 0 2.0 0a1.0 1.0 0 1 0 -2.0 0M108.2 26.4a1.0 1.0 0 1 0 2.0 0a1.0 1.0 0 1 0 -2.0 0M102.4 27.0a1.0 1.0 0 1 0 2.0 0a1.0 1.0 0 1 0 -2.0 0M96.5 31.6a1.0 1.0 0 1 0 2.0 0a1.0 1.0 0 1 0 -2.0 0M101.7 30.9a1.0 1.0 0 1 0 2.0 0a1.0 1.0 0 1 0 -2.0 0M105.6 31.6a1.0 1.0 0 1 0 2.0 0a1.0 1.0 0 1 0 -2.0 0M109.5 29.6a1.0 1.0 0 1 0 2.0 0a1.0 1.0 0 1 0 -2.0 0M110.8 34.8a1.0 1.0 0 1 0 2.0 0a1.0 1.0 0 1 0 -2.0 0M93.2 35.5a1.0 1.0 0 1 0 2.0 0a1.0 1.0 0 1 0 -2.0 0M95.2 34.8a1.0 1.0 0 1 0 2.0 0a1.0 1.0 0 1 0 -2.0 0M82.9 38.8a1.0 1.0 0 1 0 2.0 0a1.0 1.0 0 1 0 -2.0 0M86.8 43.3a1.0 1.0 0 1 0 2.0 0a1.0 1.0 0 1 0 -2.0 0M90.0 45.9a1.0 1.0 0 1 0 2.0 0a1.0 1.0 0 1 0 -2.0 0M83.5 46.5a1.0 1.0 0 1 0 2.0 0a1.0 1.0 0 1 0 -2.0 0M82.2 48.5a1.0 1.0 0 1 0 2.0 0a1.0 1.0 0 1 0 -2.0 0M68.6 49.8a1.0 1.0 0 1 0 2.0 0a1.0 1.0 0 1 0 -2.0 0M96.5 48.5a1.0 1.0 0 1 0 2.0 0a1.0 1.0 0 1 0 -2.0 0M110.8 47.8a1.0 1.0 0 1 0 2.0 0a1.0 1.0 0 1 0 -2.0 0M50.3 54.3a1.0 1.0 0 1 0 2.0 0a1.0 1.0 0 1 0 -2.0 0M41.9 56.6a1.0 1.0 0 1 0 2.0 0a1.0 1.0 0 1 0 -2.0 0M62.1 55.3a1.0 1.0 0 1 0 2.0 0a1.0 1.0 0 1 0 -2.0 0M63.4 59.2a1.0 1.0 0 1 0 2.0 0a1.0 1.0 0 1 0 -2.0 0M58.8 60.5a1.0 1.0 0 1 0 2.0 0a1.0 1.0 0 1 0 -2.0 0M47.1 61.1a1.0 1.0 0 1 0 2.0 0a1.0 1.0 0 1 0 -2.0 0M43.8 63.7a1.0 1.0 0 1 0 2.0 0a1.0 1.0 0 1 0 -2.0 0M54.2 63.7a1.0 1.0 0 1 0 2.0 0a1.0 1.0 0 1 0 -2.0 0M58.2 65.1a1.0 1.0 0 1 0 2.0 0a1.0 1.0 0 1 0 -2.0 0M62.7 64.4a1.0 1.0 0 1 0 2.0 0a1.0 1.0 0 1 0 -2.0 0M52.3 65.7a1.0 1.0 0 1 0 2.0 0a1.0 1.0 0 1 0 -2.0 0M51.0 67.7a1.0 1.0 0 1 0 2.0 0a1.0 1.0 0 1 0 -2.0 0M53.6 69.0a1.0 1.0 0 1 0 2.0 0a1.0 1.0 0 1 0 -2.0 0M51.7 72.2a1.0 1.0 0 1 0 2.0 0a1.0 1.0 0 1 0 -2.0 0M48.4 70.9a1.0 1.0 0 1 0 2.0 0a1.0 1.0 0 1 0 -2.0 0M56.2 71.6a1.0 1.0 0 1 0 2.0 0a1.0 1.0 0 1 0 -2.0 0M52.9 72.9a1.0 1.0 0 1 0 2.0 0a1.0 1.0 0 1 0 -2.0 0M54.2 72.2a1.0 1.0 0 1 0 2.0 0a1.0 1.0 0 1 0 -2.0 0M59.4 73.5a1.0 1.0 0 1 0 2.0 0a1.0 1.0 0 1 0 -2.0 0M62.1 72.9a1.0 1.0 0 1 0 2.0 0a1.0 1.0 0 1 0 -2.0 0M56.2 78.1a1.0 1.0 0 1 0 2.0 0a1.0 1.0 0 1 0 -2.0 0M36.7 80.0a1.0 1.0 0 1 0 2.0 0a1.0 1.0 0 1 0 -2.0 0M39.3 79.4a1.0 1.0 0 1 0 2.0 0a1.0 1.0 0 1 0 -2.0 0M41.2 78.7a1.0 1.0 0 1 0 2.0 0a1.0 1.0 0 1 0 -2.0 0M42.6 81.3a1.0 1.0 0 1 0 2.0 0a1.0 1.0 0 1 0 -2.0 0M45.8 79.4a1.0 1.0 0 1 0 2.0 0a1.0 1.0 0 1 0 -2.0 0M49.1 79.4a1.0 1.0 0 1 0 2.0 0a1.0 1.0 0 1 0 -2.0 0M51.7 81.3a1.0 1.0 0 1 0 2.0 0a1.0 1.0 0 1 0 -2.0 0M52.9 82.6a1.0 1.0 0 1 0 2.0 0a1.0 1.0 0 1 0 -2.0 0M35.4 84.6a1.0 1.0 0 1 0 2.0 0a1.0 1.0 0 1 0 -2.0 0M36.1 85.8a1.0 1.0 0 1 0 2.0 0a1.0 1.0 0 1 0 -2.0 0M43.8 87.8a1.0 1.0 0 1 0 2.0 0a1.0 1.0 0 1 0 -2.0 0M47.1 85.8a1.0 1.0 0 1 0 2.0 0a1.0 1.0 0 1 0 -2.0 0M51.0 89.8a1.0 1.0 0 1 0 2.0 0a1.0 1.0 0 1 0 -2.0 0M47.1 92.3a1.0 1.0 0 1 0 2.0 0a1.0 1.0 0 1 0 -2.0 0M60.1 93.7a1.0 1.0 0 1 0 2.0 0a1.0 1.0 0 1 0 -2.0 0M51.7 96.9a1.0 1.0 0 1 0 2.0 0a1.0 1.0 0 1 0 -2.0 0M61.4 100.8a1.0 1.0 0 1 0 2.0 0a1.0 1.0 0 1 0 -2.0 0M65.3 52.1a1.0 1.0 0 1 0 2.0 0a1.0 1.0 0 1 0 -2.0 0M69.9 52.1a1.0 1.0 0 1 0 2.0 0a1.0 1.0 0 1 0 -2.0 0M79.6 53.0a1.0 1.0 0 1 0 2.0 0a1.0 1.0 0 1 0 -2.0 0M84.8 53.7a1.0 1.0 0 1 0 2.0 0a1.0 1.0 0 1 0 -2.0 0M86.8 52.7a1.0 1.0 0 1 0 2.0 0a1.0 1.0 0 1 0 -2.0 0M93.2 53.0a1.0 1.0 0 1 0 2.0 0a1.0 1.0 0 1 0 -2.0 0M97.1 54.3a1.0 1.0 0 1 0 2.0 0a1.0 1.0 0 1 0 -2.0 0M109.5 55.9a1.0 1.0 0 1 0 2.0 0a1.0 1.0 0 1 0 -2.0 0M66.6 56.6a1.0 1.0 0 1 0 2.0 0a1.0 1.0 0 1 0 -2.0 0M70.5 55.9a1.0 1.0 0 1 0 2.0 0a1.0 1.0 0 1 0 -2.0 0M73.8 57.2a1.0 1.0 0 1 0 2.0 0a1.0 1.0 0 1 0 -2.0 0M112.8 59.2a1.0 1.0 0 1 0 2.0 0a1.0 1.0 0 1 0 -2.0 0M118.6 61.1a1.0 1.0 0 1 0 2.0 0a1.0 1.0 0 1 0 -2.0 0M121.2 60.5a1.0 1.0 0 1 0 2.0 0a1.0 1.0 0 1 0 -2.0 0M65.9 60.5a1.0 1.0 0 1 0 2.0 0a1.0 1.0 0 1 0 -2.0 0M69.2 59.2a1.0 1.0 0 1 0 2.0 0a1.0 1.0 0 1 0 -2.0 0M73.1 61.8a1.0 1.0 0 1 0 2.0 0a1.0 1.0 0 1 0 -2.0 0M67.2 65.7a1.0 1.0 0 1 0 2.0 0a1.0 1.0 0 1 0 -2.0 0M70.5 64.4a1.0 1.0 0 1 0 2.0 0a1.0 1.0 0 1 0 -2.0 0M72.4 65.1a1.0 1.0 0 1 0 2.0 0a1.0 1.0 0 1 0 -2.0 0M77.0 67.0a1.0 1.0 0 1 0 2.0 0a1.0 1.0 0 1 0 -2.0 0M77.0 69.6a1.0 1.0 0 1 0 2.0 0a1.0 1.0 0 1 0 -2.0 0M66.6 69.6a1.0 1.0 0 1 0 2.0 0a1.0 1.0 0 1 0 -2.0 0M65.3 72.2a1.0 1.0 0 1 0 2.0 0a1.0 1.0 0 1 0 -2.0 0M67.9 72.9a1.0 1.0 0 1 0 2.0 0a1.0 1.0 0 1 0 -2.0 0M79.6 73.5a1.0 1.0 0 1 0 2.0 0a1.0 1.0 0 1 0 -2.0 0M80.9 74.8a1.0 1.0 0 1 0 2.0 0a1.0 1.0 0 1 0 -2.0 0M81.6 74.2a1.0 1.0 0 1 0 2.0 0a1.0 1.0 0 1 0 -2.0 0M69.2 78.1a1.0 1.0 0 1 0 2.0 0a1.0 1.0 0 1 0 -2.0 0M77.0 80.0a1.0 1.0 0 1 0 2.0 0a1.0 1.0 0 1 0 -2.0 0M85.4 78.7a1.0 1.0 0 1 0 2.0 0a1.0 1.0 0 1 0 -2.0 0M66.6 86.5a1.0 1.0 0 1 0 2.0 0a1.0 1.0 0 1 0 -2.0 0M67.9 83.9a1.0 1.0 0 1 0 2.0 0a1.0 1.0 0 1 0 -2.0 0M71.1 85.2a1.0 1.0 0 1 0 2.0 0a1.0 1.0 0 1 0 -2.0 0M74.4 84.6a1.0 1.0 0 1 0 2.0 0a1.0 1.0 0 1 0 -2.0 0M74.4 88.5a1.0 1.0 0 1 0 2.0 0a1.0 1.0 0 1 0 -2.0 0M68.6 89.8a1.0 1.0 0 1 0 2.0 0a1.0 1.0 0 1 0 -2.0 0M65.3 90.4a1.0 1.0 0 1 0 2.0 0a1.0 1.0 0 1 0 -2.0 0M77.6 90.4a1.0 1.0 0 1 0 2.0 0a1.0 1.0 0 1 0 -2.0 0M123.8 83.9a1.0 1.0 0 1 0 2.0 0a1.0 1.0 0 1 0 -2.0 0M106.2 87.8a1.0 1.0 0 1 0 2.0 0a1.0 1.0 0 1 0 -2.0 0M103.0 90.4a1.0 1.0 0 1 0 2.0 0a1.0 1.0 0 1 0 -2.0 0M102.4 93.0a1.0 1.0 0 1 0 2.0 0a1.0 1.0 0 1 0 -2.0 0M104.9 93.0a1.0 1.0 0 1 0 2.0 0a1.0 1.0 0 1 0 -2.0 0M110.8 92.3a1.0 1.0 0 1 0 2.0 0a1.0 1.0 0 1 0 -2.0 0M116.0 93.0a1.0 1.0 0 1 0 2.0 0a1.0 1.0 0 1 0 -2.0 0M121.2 91.7a1.0 1.0 0 1 0 2.0 0a1.0 1.0 0 1 0 -2.0 0M125.1 93.7a1.0 1.0 0 1 0 2.0 0a1.0 1.0 0 1 0 -2.0 0M105.6 97.6a1.0 1.0 0 1 0 2.0 0a1.0 1.0 0 1 0 -2.0 0M113.4 96.9a1.0 1.0 0 1 0 2.0 0a1.0 1.0 0 1 0 -2.0 0M103.0 100.2a1.0 1.0 0 1 0 2.0 0a1.0 1.0 0 1 0 -2.0 0M106.9 100.8a1.0 1.0 0 1 0 2.0 0a1.0 1.0 0 1 0 -2.0 0M113.4 99.5a1.0 1.0 0 1 0 2.0 0a1.0 1.0 0 1 0 -2.0 0"/></g>
</g>
<rect x="195.00" y="15.60" width="130.4" height="101.8" fill="none" stroke="#1a1a1a" stroke-width="1.45"/>
<path d="M190.40 39.09H195.00M190.40 78.25H195.00M190.40 117.40H195.00M195.00 117.40V122.00M233.35 117.40V122.00M271.71 117.40V122.00M310.06 117.40V122.00" stroke="#1a1a1a" stroke-width="1.2" fill="none"/>
<text x="195.10" y="12.10" font-size="10">(b)</text>
<text x="325.90" y="12.10" font-size="10" text-anchor="end">ΔRMSE: -0.048 (-2.0%)</text>
<clipPath id="cp2"><rect x="338.25" y="15.60" width="130.4" height="101.8"/></clipPath>
<g clip-path="url(#cp2)">
<use href="#cont" transform="translate(338.25,15.60)"/>
<g transform="translate(338.25,15.60)"><path fill="#dcf8fd" d="M57.9 16.0a1.0 1.0 0 1 0 2.0 0a1.0 1.0 0 1 0 -2.0 0M59.2 21.2a1.0 1.0 0 1 0 2.0 0a1.0 1.0 0 1 0 -2.0 0M41.6 41.7a1.0 1.0 0 1 0 2.0 0a1.0 1.0 0 1 0 -2.0 0M66.0 5.2a1.0 1.0 0 1 0 2.0 0a1.0 1.0 0 1 0 -2.0 0M77.9 10.5a1.0 1.0 0 1 0 2.0 0a1.0 1.0 0 1 0 -2.0 0M22.4 25.0a1.0 1.0 0 1 0 2.0 0a1.0 1.0 0 1 0 -2.0 0M119.9 25.3a1.0 1.0 0 1 0 2.0 0a1.0 1.0 0 1 0 -2.0 0M63.7 37.1a1.0 1.0 0 1 0 2.0 0a1.0 1.0 0 1 0 -2.0 0M101.3 39.4a1.0 1.0 0 1 0 2.0 0a1.0 1.0 0 1 0 -2.0 0M106.6 38.9a1.0 1.0 0 1 0 2.0 0a1.0 1.0 0 1 0 -2.0 0M106.6 43.0a1.0 1.0 0 1 0 2.0 0a1.0 1.0 0 1 0 -2.0 0M59.1 52.2a1.0 1.0 0 1 0 2.0 0a1.0 1.0 0 1 0 -2.0 0M82.5 57.6a1.0 1.0 0 1 0 2.0 0a1.0 1.0 0 1 0 -2.0 0M88.9 56.5a1.0 1.0 0 1 0 2.0 0a1.0 1.0 0 1 0 -2.0 0M96.2 57.7a1.0 1.0 0 1 0 2.0 0a1.0 1.0 0 1 0 -2.0 0M42.5 60.2a1.0 1.0 0 1 0 2.0 0a1.0 1.0 0 1 0 -2.0 0M58.9 69.1a1.0 1.0 0 1 0 2.0 0a1.0 1.0 0 1 0 -2.0 0M55.8 84.7a1.0 1.0 0 1 0 2.0 0a1.0 1.0 0 1 0 -2.0 0M96.8 94.5a1.0 1.0 0 1 0 2.0 0a1.0 1.0 0 1 0 -2.0 0M63.3 97.3a1.0 1.0 0 1 0 2.0 0a1.0 1.0 0 1 0 -2.0 0M86.8 97.4a1.0 1.0 0 1 0 2.0 0a1.0 1.0 0 1 0 -2.0 0M93.7 99.1a1.0 1.0 0 1 0 2.0 0a1.0 1.0 0 1 0 -2.0 0"/><path fill="#fdf8d8" d="M57.9 27.7a1.0 1.0 0 1 0 2.0 0a1.0 1.0 0 1 0 -2.0 0M69.6 12.1a1.0 1.0 0 1 0 2.0 0a1.0 1.0 0 1 0 -2.0 0M80.1 18.7a1.0 1.0 0 1 0 2.0 0a1.0 1.0 0 1 0 -2.0 0M72.8 25.9a1.0 1.0 0 1 0 2.0 0a1.0 1.0 0 1 0 -2.0 0M29.2 34.6a1.0 1.0 0 1 0 2.0 0a1.0 1.0 0 1 0 -2.0 0M123.5 33.3a1.0 1.0 0 1 0 2.0 0a1.0 1.0 0 1 0 -2.0 0M123.2 62.4a1.0 1.0 0 1 0 2.0 0a1.0 1.0 0 1 0 -2.0 0M87.8 65.5a1.0 1.0 0 1 0 2.0 0a1.0 1.0 0 1 0 -2.0 0M92.5 65.4a1.0 1.0 0 1 0 2.0 0a1.0 1.0 0 1 0 -2.0 0"/><path fill="#9fe3f7" d="M73.5 14.3a1.0 1.0 0 1 0 2.0 0a1.0 1.0 0 1 0 -2.0 0M72.7 29.7a1.0 1.0 0 1 0 2.0 0a1.0 1.0 0 1 0 -2.0 0M42.7 37.5a1.0 1.0 0 1 0 2.0 0a1.0 1.0 0 1 0 -2.0 0M114.8 39.3a1.0 1.0 0 1 0 2.0 0a1.0 1.0 0 1 0 -2.0 0M100.8 47.8a1.0 1.0 0 1 0 2.0 0a1.0 1.0 0 1 0 -2.0 0M117.1 75.4a1.0 1.0 0 1 0 2.0 0a1.0 1.0 0 1 0 -2.0 0M74.3 99.3a1.0 1.0 0 1 0 2.0 0a1.0 1.0 0 1 0 -2.0 0"/><path fill="#80d3f7" d="M20.2 6.6a1.0 1.0 0 1 0 2.0 0a1.0 1.0 0 1 0 -2.0 0M51.4 8.2a1.0 1.0 0 1 0 2.0 0a1.0 1.0 0 1 0 -2.0 0M4.6 24.2a1.0 1.0 0 1 0 2.0 0a1.0 1.0 0 1 0 -2.0 0M52.1 26.4a1.0 1.0 0 1 0 2.0 0a1.0 1.0 0 1 0 -2.0 0M54.6 46.2a1.0 1.0 0 1 0 2.0 0a1.0 1.0 0 1 0 -2.0 0M64.4 2.3a1.0 1.0 0 1 0 2.0 0a1.0 1.0 0 1 0 -2.0 0M96.2 1.4a1.0 1.0 0 1 0 2.0 0a1.0 1.0 0 1 0 -2.0 0M99.5 2.0a1.0 1.0 0 1 0 2.0 0a1.0 1.0 0 1 0 -2.0 0M83.2 6.9a1.0 1.0 0 1 0 2.0 0a1.0 1.0 0 1 0 -2.0 0M71.6 17.3a1.0 1.0 0 1 0 2.0 0a1.0 1.0 0 1 0 -2.0 0M110.6 14.0a1.0 1.0 0 1 0 2.0 0a1.0 1.0 0 1 0 -2.0 0M67.6 8.2a1.0 1.0 0 1 0 2.0 0a1.0 1.0 0 1 0 -2.0 0M120.9 20.5a1.0 1.0 0 1 0 2.0 0a1.0 1.0 0 1 0 -2.0 0M125.5 19.9a1.0 1.0 0 1 0 2.0 0a1.0 1.0 0 1 0 -2.0 0M120.9 32.2a1.0 1.0 0 1 0 2.0 0a1.0 1.0 0 1 0 -2.0 0M127.4 30.3a1.0 1.0 0 1 0 2.0 0a1.0 1.0 0 1 0 -2.0 0M66.4 31.6a1.0 1.0 0 1 0 2.0 0a1.0 1.0 0 1 0 -2.0 0M80.6 34.8a1.0 1.0 0 1 0 2.0 0a1.0 1.0 0 1 0 -2.0 0M84.6 35.5a1.0 1.0 0 1 0 2.0 0a1.0 1.0 0 1 0 -2.0 0M108.6 40.7a1.0 1.0 0 1 0 2.0 0a1.0 1.0 0 1 0 -2.0 0M89.8 38.1a1.0 1.0 0 1 0 2.0 0a1.0 1.0 0 1 0 -2.0 0M74.1 40.7a1.0 1.0 0 1 0 2.0 0a1.0 1.0 0 1 0 -2.0 0M90.4 42.0a1.0 1.0 0 1 0 2.0 0a1.0 1.0 0 1 0 -2.0 0M101.4 44.6a1.0 1.0 0 1 0 2.0 0a1.0 1.0 0 1 0 -2.0 0M118.4 40.7a1.0 1.0 0 1 0 2.0 0a1.0 1.0 0 1 0 -2.0 0M126.1 39.4a1.0 1.0 0 1 0 2.0 0a1.0 1.0 0 1 0 -2.0 0M119.6 36.8a1.0 1.0 0 1 0 2.0 0a1.0 1.0 0 1 0 -2.0 0M122.9 26.4a1.0 1.0 0 1 0 2.0 0a1.0 1.0 0 1 0 -2.0 0M113.1 23.8a1.0 1.0 0 1 0 2.0 0a1.0 1.0 0 1 0 -2.0 0M118.4 23.1a1.0 1.0 0 1 0 2.0 0a1.0 1.0 0 1 0 -2.0 0M46.2 80.7a1.0 1.0 0 1 0 2.0 0a1.0 1.0 0 1 0 -2.0 0M58.6 82.3a1.0 1.0 0 1 0 2.0 0a1.0 1.0 0 1 0 -2.0 0M48.1 89.1a1.0 1.0 0 1 0 2.0 0a1.0 1.0 0 1 0 -2.0 0M115.1 54.3a1.0 1.0 0 1 0 2.0 0a1.0 1.0 0 1 0 -2.0 0M116.4 55.9a1.0 1.0 0 1 0 2.0 0a1.0 1.0 0 1 0 -2.0 0M120.9 54.0a1.0 1.0 0 1 0 2.0 0a1.0 1.0 0 1 0 -2.0 0M124.2 55.3a1.0 1.0 0 1 0 2.0 0a1.0 1.0 0 1 0 -2.0 0M127.4 53.4a1.0 1.0 0 1 0 2.0 0a1.0 1.0 0 1 0 -2.0 0M77.4 57.2a1.0 1.0 0 1 0 2.0 0a1.0 1.0 0 1 0 -2.0 0M89.8 59.2a1.0 1.0 0 1 0 2.0 0a1.0 1.0 0 1 0 -2.0 0M101.4 59.9a1.0 1.0 0 1 0 2.0 0a1.0 1.0 0 1 0 -2.0 0M110.6 60.5a1.0 1.0 0 1 0 2.0 0a1.0 1.0 0 1 0 -2.0 0M123.6 59.2a1.0 1.0 0 1 0 2.0 0a1.0 1.0 0 1 0 -2.0 0M126.1 59.2a1.0 1.0 0 1 0 2.0 0a1.0 1.0 0 1 0 -2.0 0M128.1 57.2a1.0 1.0 0 1 0 2.0 0a1.0 1.0 0 1 0 -2.0 0M109.2 67.0a1.0 1.0 0 1 0 2.0 0a1.0 1.0 0 1 0 -2.0 0M113.8 67.7a1.0 1.0 0 1 0 2.0 0a1.0 1.0 0 1 0 -2.0 0M117.1 70.9a1.0 1.0 0 1 0 2.0 0a1.0 1.0 0 1 0 -2.0 0M120.9 69.6a1.0 1.0 0 1 0 2.0 0a1.0 1.0 0 1 0 -2.0 0M124.9 68.3a1.0 1.0 0 1 0 2.0 0a1.0 1.0 0 1 0 -2.0 0M127.4 67.0a1.0 1.0 0 1 0 2.0 0a1.0 1.0 0 1 0 -2.0 0M89.1 77.4a1.0 1.0 0 1 0 2.0 0a1.0 1.0 0 1 0 -2.0 0M102.8 80.0a1.0 1.0 0 1 0 2.0 0a1.0 1.0 0 1 0 -2.0 0M105.4 81.3a1.0 1.0 0 1 0 2.0 0a1.0 1.0 0 1 0 -2.0 0M101.4 83.9a1.0 1.0 0 1 0 2.0 0a1.0 1.0 0 1 0 -2.0 0M118.4 82.6a1.0 1.0 0 1 0 2.0 0a1.0 1.0 0 1 0 -2.0 0M113.1 91.7a1.0 1.0 0 1 0 2.0 0a1.0 1.0 0 1 0 -2.0 0M127.4 93.0a1.0 1.0 0 1 0 2.0 0a1.0 1.0 0 1 0 -2.0 0M119.6 80.0a1.0 1.0 0 1 0 2.0 0a1.0 1.0 0 1 0 -2.0 0M111.2 72.9a1.0 1.0 0 1 0 2.0 0a1.0 1.0 0 1 0 -2.0 0"/><path fill="#fdbb84" d="M54.6 21.2a1.0 1.0 0 1 0 2.0 0a1.0 1.0 0 1 0 -2.0 0M3.7 27.4a1.0 1.0 0 1 0 2.0 0a1.0 1.0 0 1 0 -2.0 0M28.0 38.8a1.0 1.0 0 1 0 2.0 0a1.0 1.0 0 1 0 -2.0 0M19.6 40.0a1.0 1.0 0 1 0 2.0 0a1.0 1.0 0 1 0 -2.0 0M85.9 9.5a1.0 1.0 0 1 0 2.0 0a1.0 1.0 0 1 0 -2.0 0M94.9 12.8a1.0 1.0 0 1 0 2.0 0a1.0 1.0 0 1 0 -2.0 0M74.8 10.8a1.0 1.0 0 1 0 2.0 0a1.0 1.0 0 1 0 -2.0 0M81.9 33.5a1.0 1.0 0 1 0 2.0 0a1.0 1.0 0 1 0 -2.0 0M108.6 36.1a1.0 1.0 0 1 0 2.0 0a1.0 1.0 0 1 0 -2.0 0M113.8 36.8a1.0 1.0 0 1 0 2.0 0a1.0 1.0 0 1 0 -2.0 0M86.5 39.4a1.0 1.0 0 1 0 2.0 0a1.0 1.0 0 1 0 -2.0 0M112.5 50.4a1.0 1.0 0 1 0 2.0 0a1.0 1.0 0 1 0 -2.0 0M59.9 95.0a1.0 1.0 0 1 0 2.0 0a1.0 1.0 0 1 0 -2.0 0M105.4 54.6a1.0 1.0 0 1 0 2.0 0a1.0 1.0 0 1 0 -2.0 0M84.6 63.1a1.0 1.0 0 1 0 2.0 0a1.0 1.0 0 1 0 -2.0 0M94.9 61.1a1.0 1.0 0 1 0 2.0 0a1.0 1.0 0 1 0 -2.0 0M106.6 62.4a1.0 1.0 0 1 0 2.0 0a1.0 1.0 0 1 0 -2.0 0M70.9 74.2a1.0 1.0 0 1 0 2.0 0a1.0 1.0 0 1 0 -2.0 0M107.3 65.1a1.0 1.0 0 1 0 2.0 0a1.0 1.0 0 1 0 -2.0 0M80.0 78.1a1.0 1.0 0 1 0 2.0 0a1.0 1.0 0 1 0 -2.0 0M82.6 79.4a1.0 1.0 0 1 0 2.0 0a1.0 1.0 0 1 0 -2.0 0M85.2 78.7a1.0 1.0 0 1 0 2.0 0a1.0 1.0 0 1 0 -2.0 0M120.9 91.7a1.0 1.0 0 1 0 2.0 0a1.0 1.0 0 1 0 -2.0 0M114.4 86.5a1.0 1.0 0 1 0 2.0 0a1.0 1.0 0 1 0 -2.0 0"/><path fill="#3c8af4" d="M16.3 16.6a1.0 1.0 0 1 0 2.0 0a1.0 1.0 0 1 0 -2.0 0M54.6 31.6a1.0 1.0 0 1 0 2.0 0a1.0 1.0 0 1 0 -2.0 0M60.9 31.3a1.0 1.0 0 1 0 2.0 0a1.0 1.0 0 1 0 -2.0 0M35.8 41.7a1.0 1.0 0 1 0 2.0 0a1.0 1.0 0 1 0 -2.0 0M63.1 12.1a1.0 1.0 0 1 0 2.0 0a1.0 1.0 0 1 0 -2.0 0M93.0 1.7a1.0 1.0 0 1 0 2.0 0a1.0 1.0 0 1 0 -2.0 0M118.4 3.0a1.0 1.0 0 1 0 2.0 0a1.0 1.0 0 1 0 -2.0 0M76.8 6.9a1.0 1.0 0 1 0 2.0 0a1.0 1.0 0 1 0 -2.0 0M98.9 13.4a1.0 1.0 0 1 0 2.0 0a1.0 1.0 0 1 0 -2.0 0M105.4 10.8a1.0 1.0 0 1 0 2.0 0a1.0 1.0 0 1 0 -2.0 0M113.1 10.8a1.0 1.0 0 1 0 2.0 0a1.0 1.0 0 1 0 -2.0 0M117.7 9.5a1.0 1.0 0 1 0 2.0 0a1.0 1.0 0 1 0 -2.0 0M121.6 8.8a1.0 1.0 0 1 0 2.0 0a1.0 1.0 0 1 0 -2.0 0M126.1 10.2a1.0 1.0 0 1 0 2.0 0a1.0 1.0 0 1 0 -2.0 0M101.4 17.3a1.0 1.0 0 1 0 2.0 0a1.0 1.0 0 1 0 -2.0 0M122.2 14.0a1.0 1.0 0 1 0 2.0 0a1.0 1.0 0 1 0 -2.0 0M115.8 16.0a1.0 1.0 0 1 0 2.0 0a1.0 1.0 0 1 0 -2.0 0M97.6 19.9a1.0 1.0 0 1 0 2.0 0a1.0 1.0 0 1 0 -2.0 0M75.4 23.1a1.0 1.0 0 1 0 2.0 0a1.0 1.0 0 1 0 -2.0 0M113.1 32.9a1.0 1.0 0 1 0 2.0 0a1.0 1.0 0 1 0 -2.0 0M124.9 30.9a1.0 1.0 0 1 0 2.0 0a1.0 1.0 0 1 0 -2.0 0M74.1 39.4a1.0 1.0 0 1 0 2.0 0a1.0 1.0 0 1 0 -2.0 0M76.8 45.2a1.0 1.0 0 1 0 2.0 0a1.0 1.0 0 1 0 -2.0 0M106.6 45.9a1.0 1.0 0 1 0 2.0 0a1.0 1.0 0 1 0 -2.0 0M110.6 47.8a1.0 1.0 0 1 0 2.0 0a1.0 1.0 0 1 0 -2.0 0M120.9 43.3a1.0 1.0 0 1 0 2.0 0a1.0 1.0 0 1 0 -2.0 0M124.9 42.6a1.0 1.0 0 1 0 2.0 0a1.0 1.0 0 1 0 -2.0 0M115.8 44.6a1.0 1.0 0 1 0 2.0 0a1.0 1.0 0 1 0 -2.0 0M124.9 36.8a1.0 1.0 0 1 0 2.0 0a1.0 1.0 0 1 0 -2.0 0M41.6 82.6a1.0 1.0 0 1 0 2.0 0a1.0 1.0 0 1 0 -2.0 0M53.4 86.5a1.0 1.0 0 1 0 2.0 0a1.0 1.0 0 1 0 -2.0 0M85.2 53.4a1.0 1.0 0 1 0 2.0 0a1.0 1.0 0 1 0 -2.0 0M111.9 53.4a1.0 1.0 0 1 0 2.0 0a1.0 1.0 0 1 0 -2.0 0M123.6 83.9a1.0 1.0 0 1 0 2.0 0a1.0 1.0 0 1 0 -2.0 0"/><path fill="#ee2531" d="M120.9 3.0a1.0 1.0 0 1 0 2.0 0a1.0 1.0 0 1 0 -2.0 0M84.6 13.4a1.0 1.0 0 1 0 2.0 0a1.0 1.0 0 1 0 -2.0 0M87.8 16.0a1.0 1.0 0 1 0 2.0 0a1.0 1.0 0 1 0 -2.0 0M68.3 27.7a1.0 1.0 0 1 0 2.0 0a1.0 1.0 0 1 0 -2.0 0M81.9 25.7a1.0 1.0 0 1 0 2.0 0a1.0 1.0 0 1 0 -2.0 0M91.1 30.9a1.0 1.0 0 1 0 2.0 0a1.0 1.0 0 1 0 -2.0 0M68.9 39.4a1.0 1.0 0 1 0 2.0 0a1.0 1.0 0 1 0 -2.0 0M86.5 43.3a1.0 1.0 0 1 0 2.0 0a1.0 1.0 0 1 0 -2.0 0M94.9 43.3a1.0 1.0 0 1 0 2.0 0a1.0 1.0 0 1 0 -2.0 0M96.9 44.6a1.0 1.0 0 1 0 2.0 0a1.0 1.0 0 1 0 -2.0 0M73.5 47.2a1.0 1.0 0 1 0 2.0 0a1.0 1.0 0 1 0 -2.0 0M43.6 51.7a1.0 1.0 0 1 0 2.0 0a1.0 1.0 0 1 0 -2.0 0M96.2 65.1a1.0 1.0 0 1 0 2.0 0a1.0 1.0 0 1 0 -2.0 0M94.3 68.3a1.0 1.0 0 1 0 2.0 0a1.0 1.0 0 1 0 -2.0 0M94.9 70.9a1.0 1.0 0 1 0 2.0 0a1.0 1.0 0 1 0 -2.0 0M104.1 65.7a1.0 1.0 0 1 0 2.0 0a1.0 1.0 0 1 0 -2.0 0M111.9 68.3a1.0 1.0 0 1 0 2.0 0a1.0 1.0 0 1 0 -2.0 0M87.8 90.4a1.0 1.0 0 1 0 2.0 0a1.0 1.0 0 1 0 -2.0 0M91.1 85.8a1.0 1.0 0 1 0 2.0 0a1.0 1.0 0 1 0 -2.0 0M108.6 98.2a1.0 1.0 0 1 0 2.0 0a1.0 1.0 0 1 0 -2.0 0"/><path fill="#a8072e" d="M19.8 33.3a1.0 1.0 0 1 0 2.0 0a1.0 1.0 0 1 0 -2.0 0M0.3 33.9a1.0 1.0 0 1 0 2.0 0a1.0 1.0 0 1 0 -2.0 0M9.1 41.7a1.0 1.0 0 1 0 2.0 0a1.0 1.0 0 1 0 -2.0 0M7.9 45.2a1.0 1.0 0 1 0 2.0 0a1.0 1.0 0 1 0 -2.0 0M32.8 49.1a1.0 1.0 0 1 0 2.0 0a1.0 1.0 0 1 0 -2.0 0M43.6 50.4a1.0 1.0 0 1 0 2.0 0a1.0 1.0 0 1 0 -2.0 0M46.9 49.1a1.0 1.0 0 1 0 2.0 0a1.0 1.0 0 1 0 -2.0 0M122.9 5.0a1.0 1.0 0 1 0 2.0 0a1.0 1.0 0 1 0 -2.0 0M105.4 14.7a1.0 1.0 0 1 0 2.0 0a1.0 1.0 0 1 0 -2.0 0M76.8 27.7a1.0 1.0 0 1 0 2.0 0a1.0 1.0 0 1 0 -2.0 0M80.0 27.0a1.0 1.0 0 1 0 2.0 0a1.0 1.0 0 1 0 -2.0 0M98.2 28.4a1.0 1.0 0 1 0 2.0 0a1.0 1.0 0 1 0 -2.0 0M93.6 29.0a1.0 1.0 0 1 0 2.0 0a1.0 1.0 0 1 0 -2.0 0M96.2 31.6a1.0 1.0 0 1 0 2.0 0a1.0 1.0 0 1 0 -2.0 0M99.5 32.9a1.0 1.0 0 1 0 2.0 0a1.0 1.0 0 1 0 -2.0 0M101.4 30.9a1.0 1.0 0 1 0 2.0 0a1.0 1.0 0 1 0 -2.0 0M102.8 30.9a1.0 1.0 0 1 0 2.0 0a1.0 1.0 0 1 0 -2.0 0M96.9 36.8a1.0 1.0 0 1 0 2.0 0a1.0 1.0 0 1 0 -2.0 0M100.1 36.1a1.0 1.0 0 1 0 2.0 0a1.0 1.0 0 1 0 -2.0 0M102.1 34.8a1.0 1.0 0 1 0 2.0 0a1.0 1.0 0 1 0 -2.0 0M100.8 42.0a1.0 1.0 0 1 0 2.0 0a1.0 1.0 0 1 0 -2.0 0M102.8 42.0a1.0 1.0 0 1 0 2.0 0a1.0 1.0 0 1 0 -2.0 0M98.9 42.0a1.0 1.0 0 1 0 2.0 0a1.0 1.0 0 1 0 -2.0 0M104.1 42.0a1.0 1.0 0 1 0 2.0 0a1.0 1.0 0 1 0 -2.0 0M67.0 38.1a1.0 1.0 0 1 0 2.0 0a1.0 1.0 0 1 0 -2.0 0M91.1 45.2a1.0 1.0 0 1 0 2.0 0a1.0 1.0 0 1 0 -2.0 0M89.8 47.2a1.0 1.0 0 1 0 2.0 0a1.0 1.0 0 1 0 -2.0 0M70.9 49.1a1.0 1.0 0 1 0 2.0 0a1.0 1.0 0 1 0 -2.0 0M86.5 49.8a1.0 1.0 0 1 0 2.0 0a1.0 1.0 0 1 0 -2.0 0M89.1 50.4a1.0 1.0 0 1 0 2.0 0a1.0 1.0 0 1 0 -2.0 0M93.6 47.8a1.0 1.0 0 1 0 2.0 0a1.0 1.0 0 1 0 -2.0 0M55.3 74.8a1.0 1.0 0 1 0 2.0 0a1.0 1.0 0 1 0 -2.0 0M56.6 75.1a1.0 1.0 0 1 0 2.0 0a1.0 1.0 0 1 0 -2.0 0M76.1 52.7a1.0 1.0 0 1 0 2.0 0a1.0 1.0 0 1 0 -2.0 0M80.6 59.9a1.0 1.0 0 1 0 2.0 0a1.0 1.0 0 1 0 -2.0 0M105.4 58.6a1.0 1.0 0 1 0 2.0 0a1.0 1.0 0 1 0 -2.0 0M89.8 72.2a1.0 1.0 0 1 0 2.0 0a1.0 1.0 0 1 0 -2.0 0M91.7 71.6a1.0 1.0 0 1 0 2.0 0a1.0 1.0 0 1 0 -2.0 0M96.2 66.4a1.0 1.0 0 1 0 2.0 0a1.0 1.0 0 1 0 -2.0 0M98.2 65.1a1.0 1.0 0 1 0 2.0 0a1.0 1.0 0 1 0 -2.0 0M100.8 63.7a1.0 1.0 0 1 0 2.0 0a1.0 1.0 0 1 0 -2.0 0M102.8 64.4a1.0 1.0 0 1 0 2.0 0a1.0 1.0 0 1 0 -2.0 0M102.1 66.4a1.0 1.0 0 1 0 2.0 0a1.0 1.0 0 1 0 -2.0 0M100.1 68.3a1.0 1.0 0 1 0 2.0 0a1.0 1.0 0 1 0 -2.0 0M98.9 67.7a1.0 1.0 0 1 0 2.0 0a1.0 1.0 0 1 0 -2.0 0M96.9 69.0a1.0 1.0 0 1 0 2.0 0a1.0 1.0 0 1 0 -2.0 0M101.4 70.2a1.0 1.0 0 1 0 2.0 0a1.0 1.0 0 1 0 -2.0 0M94.9 74.8a1.0 1.0 0 1 0 2.0 0a1.0 1.0 0 1 0 -2.0 0M64.4 77.4a1.0 1.0 0 1 0 2.0 0a1.0 1.0 0 1 0 -2.0 0M72.2 78.7a1.0 1.0 0 1 0 2.0 0a1.0 1.0 0 1 0 -2.0 0M74.8 80.7a1.0 1.0 0 1 0 2.0 0a1.0 1.0 0 1 0 -2.0 0M76.8 80.0a1.0 1.0 0 1 0 2.0 0a1.0 1.0 0 1 0 -2.0 0M78.1 82.6a1.0 1.0 0 1 0 2.0 0a1.0 1.0 0 1 0 -2.0 0M80.6 82.0a1.0 1.0 0 1 0 2.0 0a1.0 1.0 0 1 0 -2.0 0M74.1 84.6a1.0 1.0 0 1 0 2.0 0a1.0 1.0 0 1 0 -2.0 0M73.5 90.4a1.0 1.0 0 1 0 2.0 0a1.0 1.0 0 1 0 -2.0 0M70.9 93.7a1.0 1.0 0 1 0 2.0 0a1.0 1.0 0 1 0 -2.0 0M77.4 90.4a1.0 1.0 0 1 0 2.0 0a1.0 1.0 0 1 0 -2.0 0M84.6 89.1a1.0 1.0 0 1 0 2.0 0a1.0 1.0 0 1 0 -2.0 0M85.2 91.7a1.0 1.0 0 1 0 2.0 0a1.0 1.0 0 1 0 -2.0 0M124.9 82.6a1.0 1.0 0 1 0 2.0 0a1.0 1.0 0 1 0 -2.0 0M124.9 100.2a1.0 1.0 0 1 0 2.0 0a1.0 1.0 0 1 0 -2.0 0M123.6 98.2a1.0 1.0 0 1 0 2.0 0a1.0 1.0 0 1 0 -2.0 0"/><path fill="#2412d8" d="M38.8 0.7a1.0 1.0 0 1 0 2.0 0a1.0 1.0 0 1 0 -2.0 0M54.0 4.3a1.0 1.0 0 1 0 2.0 0a1.0 1.0 0 1 0 -2.0 0M18.9 9.2a1.0 1.0 0 1 0 2.0 0a1.0 1.0 0 1 0 -2.0 0M30.6 9.5a1.0 1.0 0 1 0 2.0 0a1.0 1.0 0 1 0 -2.0 0M49.7 9.8a1.0 1.0 0 1 0 2.0 0a1.0 1.0 0 1 0 -2.0 0M28.9 15.7a1.0 1.0 0 1 0 2.0 0a1.0 1.0 0 1 0 -2.0 0M37.8 16.0a1.0 1.0 0 1 0 2.0 0a1.0 1.0 0 1 0 -2.0 0M25.4 21.9a1.0 1.0 0 1 0 2.0 0a1.0 1.0 0 1 0 -2.0 0M41.4 24.8a1.0 1.0 0 1 0 2.0 0a1.0 1.0 0 1 0 -2.0 0M18.5 28.1a1.0 1.0 0 1 0 2.0 0a1.0 1.0 0 1 0 -2.0 0M26.3 29.4a1.0 1.0 0 1 0 2.0 0a1.0 1.0 0 1 0 -2.0 0M30.6 30.3a1.0 1.0 0 1 0 2.0 0a1.0 1.0 0 1 0 -2.0 0M43.2 29.4a1.0 1.0 0 1 0 2.0 0a1.0 1.0 0 1 0 -2.0 0M45.6 39.0a1.0 1.0 0 1 0 2.0 0a1.0 1.0 0 1 0 -2.0 0M59.9 38.8a1.0 1.0 0 1 0 2.0 0a1.0 1.0 0 1 0 -2.0 0M50.8 47.2a1.0 1.0 0 1 0 2.0 0a1.0 1.0 0 1 0 -2.0 0M85.9 1.0a1.0 1.0 0 1 0 2.0 0a1.0 1.0 0 1 0 -2.0 0M104.1 1.0a1.0 1.0 0 1 0 2.0 0a1.0 1.0 0 1 0 -2.0 0M108.6 3.7a1.0 1.0 0 1 0 2.0 0a1.0 1.0 0 1 0 -2.0 0M111.9 5.0a1.0 1.0 0 1 0 2.0 0a1.0 1.0 0 1 0 -2.0 0M115.1 4.3a1.0 1.0 0 1 0 2.0 0a1.0 1.0 0 1 0 -2.0 0M124.9 3.7a1.0 1.0 0 1 0 2.0 0a1.0 1.0 0 1 0 -2.0 0M127.4 5.6a1.0 1.0 0 1 0 2.0 0a1.0 1.0 0 1 0 -2.0 0M107.9 5.6a1.0 1.0 0 1 0 2.0 0a1.0 1.0 0 1 0 -2.0 0M91.7 6.3a1.0 1.0 0 1 0 2.0 0a1.0 1.0 0 1 0 -2.0 0M96.9 9.5a1.0 1.0 0 1 0 2.0 0a1.0 1.0 0 1 0 -2.0 0M99.5 8.8a1.0 1.0 0 1 0 2.0 0a1.0 1.0 0 1 0 -2.0 0M102.1 8.2a1.0 1.0 0 1 0 2.0 0a1.0 1.0 0 1 0 -2.0 0M92.4 19.2a1.0 1.0 0 1 0 2.0 0a1.0 1.0 0 1 0 -2.0 0M94.9 21.2a1.0 1.0 0 1 0 2.0 0a1.0 1.0 0 1 0 -2.0 0M100.8 21.9a1.0 1.0 0 1 0 2.0 0a1.0 1.0 0 1 0 -2.0 0M104.1 20.5a1.0 1.0 0 1 0 2.0 0a1.0 1.0 0 1 0 -2.0 0M109.2 19.9a1.0 1.0 0 1 0 2.0 0a1.0 1.0 0 1 0 -2.0 0M113.1 19.2a1.0 1.0 0 1 0 2.0 0a1.0 1.0 0 1 0 -2.0 0M117.7 19.2a1.0 1.0 0 1 0 2.0 0a1.0 1.0 0 1 0 -2.0 0M68.3 24.4a1.0 1.0 0 1 0 2.0 0a1.0 1.0 0 1 0 -2.0 0M84.6 26.4a1.0 1.0 0 1 0 2.0 0a1.0 1.0 0 1 0 -2.0 0M86.5 27.7a1.0 1.0 0 1 0 2.0 0a1.0 1.0 0 1 0 -2.0 0M87.8 27.0a1.0 1.0 0 1 0 2.0 0a1.0 1.0 0 1 0 -2.0 0M83.9 30.3a1.0 1.0 0 1 0 2.0 0a1.0 1.0 0 1 0 -2.0 0M85.2 31.6a1.0 1.0 0 1 0 2.0 0a1.0 1.0 0 1 0 -2.0 0M86.5 32.9a1.0 1.0 0 1 0 2.0 0a1.0 1.0 0 1 0 -2.0 0M91.7 25.7a1.0 1.0 0 1 0 2.0 0a1.0 1.0 0 1 0 -2.0 0M97.6 25.1a1.0 1.0 0 1 0 2.0 0a1.0 1.0 0 1 0 -2.0 0M100.8 24.4a1.0 1.0 0 1 0 2.0 0a1.0 1.0 0 1 0 -2.0 0M104.1 24.4a1.0 1.0 0 1 0 2.0 0a1.0 1.0 0 1 0 -2.0 0M107.3 23.8a1.0 1.0 0 1 0 2.0 0a1.0 1.0 0 1 0 -2.0 0M107.9 26.4a1.0 1.0 0 1 0 2.0 0a1.0 1.0 0 1 0 -2.0 0M102.1 27.0a1.0 1.0 0 1 0 2.0 0a1.0 1.0 0 1 0 -2.0 0M95.6 32.9a1.0 1.0 0 1 0 2.0 0a1.0 1.0 0 1 0 -2.0 0M105.4 31.6a1.0 1.0 0 1 0 2.0 0a1.0 1.0 0 1 0 -2.0 0M106.6 32.9a1.0 1.0 0 1 0 2.0 0a1.0 1.0 0 1 0 -2.0 0M109.9 29.6a1.0 1.0 0 1 0 2.0 0a1.0 1.0 0 1 0 -2.0 0M110.6 34.8a1.0 1.0 0 1 0 2.0 0a1.0 1.0 0 1 0 -2.0 0M117.1 30.3a1.0 1.0 0 1 0 2.0 0a1.0 1.0 0 1 0 -2.0 0M117.1 32.9a1.0 1.0 0 1 0 2.0 0a1.0 1.0 0 1 0 -2.0 0M70.2 30.9a1.0 1.0 0 1 0 2.0 0a1.0 1.0 0 1 0 -2.0 0M74.1 35.5a1.0 1.0 0 1 0 2.0 0a1.0 1.0 0 1 0 -2.0 0M93.6 35.5a1.0 1.0 0 1 0 2.0 0a1.0 1.0 0 1 0 -2.0 0M94.9 34.8a1.0 1.0 0 1 0 2.0 0a1.0 1.0 0 1 0 -2.0 0M83.2 38.8a1.0 1.0 0 1 0 2.0 0a1.0 1.0 0 1 0 -2.0 0M79.4 39.4a1.0 1.0 0 1 0 2.0 0a1.0 1.0 0 1 0 -2.0 0M76.8 38.1a1.0 1.0 0 1 0 2.0 0a1.0 1.0 0 1 0 -2.0 0M78.1 42.6a1.0 1.0 0 1 0 2.0 0a1.0 1.0 0 1 0 -2.0 0M83.2 42.6a1.0 1.0 0 1 0 2.0 0a1.0 1.0 0 1 0 -2.0 0M83.2 46.5a1.0 1.0 0 1 0 2.0 0a1.0 1.0 0 1 0 -2.0 0M81.9 48.5a1.0 1.0 0 1 0 2.0 0a1.0 1.0 0 1 0 -2.0 0M68.3 49.8a1.0 1.0 0 1 0 2.0 0a1.0 1.0 0 1 0 -2.0 0M96.2 48.5a1.0 1.0 0 1 0 2.0 0a1.0 1.0 0 1 0 -2.0 0M79.4 43.3a1.0 1.0 0 1 0 2.0 0a1.0 1.0 0 1 0 -2.0 0M80.6 44.6a1.0 1.0 0 1 0 2.0 0a1.0 1.0 0 1 0 -2.0 0M50.1 54.3a1.0 1.0 0 1 0 2.0 0a1.0 1.0 0 1 0 -2.0 0M50.8 55.9a1.0 1.0 0 1 0 2.0 0a1.0 1.0 0 1 0 -2.0 0M41.6 56.6a1.0 1.0 0 1 0 2.0 0a1.0 1.0 0 1 0 -2.0 0M61.8 55.3a1.0 1.0 0 1 0 2.0 0a1.0 1.0 0 1 0 -2.0 0M63.1 59.2a1.0 1.0 0 1 0 2.0 0a1.0 1.0 0 1 0 -2.0 0M58.6 60.5a1.0 1.0 0 1 0 2.0 0a1.0 1.0 0 1 0 -2.0 0M46.9 61.1a1.0 1.0 0 1 0 2.0 0a1.0 1.0 0 1 0 -2.0 0M43.6 63.7a1.0 1.0 0 1 0 2.0 0a1.0 1.0 0 1 0 -2.0 0M54.0 63.7a1.0 1.0 0 1 0 2.0 0a1.0 1.0 0 1 0 -2.0 0M57.9 65.1a1.0 1.0 0 1 0 2.0 0a1.0 1.0 0 1 0 -2.0 0M62.4 64.4a1.0 1.0 0 1 0 2.0 0a1.0 1.0 0 1 0 -2.0 0M52.1 65.7a1.0 1.0 0 1 0 2.0 0a1.0 1.0 0 1 0 -2.0 0M47.5 66.7a1.0 1.0 0 1 0 2.0 0a1.0 1.0 0 1 0 -2.0 0M50.8 67.7a1.0 1.0 0 1 0 2.0 0a1.0 1.0 0 1 0 -2.0 0M53.4 69.0a1.0 1.0 0 1 0 2.0 0a1.0 1.0 0 1 0 -2.0 0M51.4 72.2a1.0 1.0 0 1 0 2.0 0a1.0 1.0 0 1 0 -2.0 0M48.1 70.9a1.0 1.0 0 1 0 2.0 0a1.0 1.0 0 1 0 -2.0 0M43.6 71.6a1.0 1.0 0 1 0 2.0 0a1.0 1.0 0 1 0 -2.0 0M55.9 71.6a1.0 1.0 0 1 0 2.0 0a1.0 1.0 0 1 0 -2.0 0M52.7 72.9a1.0 1.0 0 1 0 2.0 0a1.0 1.0 0 1 0 -2.0 0M54.0 72.2a1.0 1.0 0 1 0 2.0 0a1.0 1.0 0 1 0 -2.0 0M59.2 73.5a1.0 1.0 0 1 0 2.0 0a1.0 1.0 0 1 0 -2.0 0M61.8 72.9a1.0 1.0 0 1 0 2.0 0a1.0 1.0 0 1 0 -2.0 0M62.4 76.1a1.0 1.0 0 1 0 2.0 0a1.0 1.0 0 1 0 -2.0 0M48.8 74.5a1.0 1.0 0 1 0 2.0 0a1.0 1.0 0 1 0 -2.0 0M55.9 78.1a1.0 1.0 0 1 0 2.0 0a1.0 1.0 0 1 0 -2.0 0M36.4 80.0a1.0 1.0 0 1 0 2.0 0a1.0 1.0 0 1 0 -2.0 0M39.1 79.4a1.0 1.0 0 1 0 2.0 0a1.0 1.0 0 1 0 -2.0 0M41.0 78.7a1.0 1.0 0 1 0 2.0 0a1.0 1.0 0 1 0 -2.0 0M42.3 81.3a1.0 1.0 0 1 0 2.0 0a1.0 1.0 0 1 0 -2.0 0M45.6 79.4a1.0 1.0 0 1 0 2.0 0a1.0 1.0 0 1 0 -2.0 0M48.8 79.4a1.0 1.0 0 1 0 2.0 0a1.0 1.0 0 1 0 -2.0 0M51.4 81.3a1.0 1.0 0 1 0 2.0 0a1.0 1.0 0 1 0 -2.0 0M52.7 82.6a1.0 1.0 0 1 0 2.0 0a1.0 1.0 0 1 0 -2.0 0M35.1 84.6a1.0 1.0 0 1 0 2.0 0a1.0 1.0 0 1 0 -2.0 0M35.8 85.8a1.0 1.0 0 1 0 2.0 0a1.0 1.0 0 1 0 -2.0 0M43.6 87.8a1.0 1.0 0 1 0 2.0 0a1.0 1.0 0 1 0 -2.0 0M46.9 85.8a1.0 1.0 0 1 0 2.0 0a1.0 1.0 0 1 0 -2.0 0M50.8 89.8a1.0 1.0 0 1 0 2.0 0a1.0 1.0 0 1 0 -2.0 0M57.9 89.8a1.0 1.0 0 1 0 2.0 0a1.0 1.0 0 1 0 -2.0 0M59.9 85.8a1.0 1.0 0 1 0 2.0 0a1.0 1.0 0 1 0 -2.0 0M46.9 92.3a1.0 1.0 0 1 0 2.0 0a1.0 1.0 0 1 0 -2.0 0M59.9 93.7a1.0 1.0 0 1 0 2.0 0a1.0 1.0 0 1 0 -2.0 0M51.4 96.9a1.0 1.0 0 1 0 2.0 0a1.0 1.0 0 1 0 -2.0 0M49.4 96.9a1.0 1.0 0 1 0 2.0 0a1.0 1.0 0 1 0 -2.0 0M50.1 99.5a1.0 1.0 0 1 0 2.0 0a1.0 1.0 0 1 0 -2.0 0M61.1 100.8a1.0 1.0 0 1 0 2.0 0a1.0 1.0 0 1 0 -2.0 0M65.1 52.7a1.0 1.0 0 1 0 2.0 0a1.0 1.0 0 1 0 -2.0 0M69.6 52.7a1.0 1.0 0 1 0 2.0 0a1.0 1.0 0 1 0 -2.0 0M80.0 53.0a1.0 1.0 0 1 0 2.0 0a1.0 1.0 0 1 0 -2.0 0M89.1 53.0a1.0 1.0 0 1 0 2.0 0a1.0 1.0 0 1 0 -2.0 0M93.0 53.4a1.0 1.0 0 1 0 2.0 0a1.0 1.0 0 1 0 -2.0 0M97.6 54.0a1.0 1.0 0 1 0 2.0 0a1.0 1.0 0 1 0 -2.0 0M102.8 52.7a1.0 1.0 0 1 0 2.0 0a1.0 1.0 0 1 0 -2.0 0M109.2 55.9a1.0 1.0 0 1 0 2.0 0a1.0 1.0 0 1 0 -2.0 0M66.4 56.6a1.0 1.0 0 1 0 2.0 0a1.0 1.0 0 1 0 -2.0 0M70.2 55.9a1.0 1.0 0 1 0 2.0 0a1.0 1.0 0 1 0 -2.0 0M73.5 57.2a1.0 1.0 0 1 0 2.0 0a1.0 1.0 0 1 0 -2.0 0M80.0 61.1a1.0 1.0 0 1 0 2.0 0a1.0 1.0 0 1 0 -2.0 0M98.9 61.8a1.0 1.0 0 1 0 2.0 0a1.0 1.0 0 1 0 -2.0 0M112.5 59.2a1.0 1.0 0 1 0 2.0 0a1.0 1.0 0 1 0 -2.0 0M115.8 61.1a1.0 1.0 0 1 0 2.0 0a1.0 1.0 0 1 0 -2.0 0M118.4 63.1a1.0 1.0 0 1 0 2.0 0a1.0 1.0 0 1 0 -2.0 0M120.9 60.5a1.0 1.0 0 1 0 2.0 0a1.0 1.0 0 1 0 -2.0 0M65.7 60.5a1.0 1.0 0 1 0 2.0 0a1.0 1.0 0 1 0 -2.0 0M68.9 59.2a1.0 1.0 0 1 0 2.0 0a1.0 1.0 0 1 0 -2.0 0M72.9 61.8a1.0 1.0 0 1 0 2.0 0a1.0 1.0 0 1 0 -2.0 0M67.0 65.7a1.0 1.0 0 1 0 2.0 0a1.0 1.0 0 1 0 -2.0 0M70.2 64.4a1.0 1.0 0 1 0 2.0 0a1.0 1.0 0 1 0 -2.0 0M72.2 65.1a1.0 1.0 0 1 0 2.0 0a1.0 1.0 0 1 0 -2.0 0M76.8 67.0a1.0 1.0 0 1 0 2.0 0a1.0 1.0 0 1 0 -2.0 0M76.8 69.6a1.0 1.0 0 1 0 2.0 0a1.0 1.0 0 1 0 -2.0 0M66.4 69.6a1.0 1.0 0 1 0 2.0 0a1.0 1.0 0 1 0 -2.0 0M65.1 72.2a1.0 1.0 0 1 0 2.0 0a1.0 1.0 0 1 0 -2.0 0M67.6 72.9a1.0 1.0 0 1 0 2.0 0a1.0 1.0 0 1 0 -2.0 0M76.1 74.8a1.0 1.0 0 1 0 2.0 0a1.0 1.0 0 1 0 -2.0 0M79.4 74.2a1.0 1.0 0 1 0 2.0 0a1.0 1.0 0 1 0 -2.0 0M80.6 74.8a1.0 1.0 0 1 0 2.0 0a1.0 1.0 0 1 0 -2.0 0M81.9 74.2a1.0 1.0 0 1 0 2.0 0a1.0 1.0 0 1 0 -2.0 0M83.2 68.3a1.0 1.0 0 1 0 2.0 0a1.0 1.0 0 1 0 -2.0 0M83.9 72.9a1.0 1.0 0 1 0 2.0 0a1.0 1.0 0 1 0 -2.0 0M110.6 70.9a1.0 1.0 0 1 0 2.0 0a1.0 1.0 0 1 0 -2.0 0M115.8 65.7a1.0 1.0 0 1 0 2.0 0a1.0 1.0 0 1 0 -2.0 0M68.9 78.1a1.0 1.0 0 1 0 2.0 0a1.0 1.0 0 1 0 -2.0 0M68.9 80.7a1.0 1.0 0 1 0 2.0 0a1.0 1.0 0 1 0 -2.0 0M72.2 82.6a1.0 1.0 0 1 0 2.0 0a1.0 1.0 0 1 0 -2.0 0M66.4 86.5a1.0 1.0 0 1 0 2.0 0a1.0 1.0 0 1 0 -2.0 0M67.6 83.9a1.0 1.0 0 1 0 2.0 0a1.0 1.0 0 1 0 -2.0 0M70.9 85.2a1.0 1.0 0 1 0 2.0 0a1.0 1.0 0 1 0 -2.0 0M74.1 88.5a1.0 1.0 0 1 0 2.0 0a1.0 1.0 0 1 0 -2.0 0M77.4 87.2a1.0 1.0 0 1 0 2.0 0a1.0 1.0 0 1 0 -2.0 0M70.2 88.5a1.0 1.0 0 1 0 2.0 0a1.0 1.0 0 1 0 -2.0 0M68.3 89.8a1.0 1.0 0 1 0 2.0 0a1.0 1.0 0 1 0 -2.0 0M65.1 90.4a1.0 1.0 0 1 0 2.0 0a1.0 1.0 0 1 0 -2.0 0M91.1 82.0a1.0 1.0 0 1 0 2.0 0a1.0 1.0 0 1 0 -2.0 0M96.2 77.4a1.0 1.0 0 1 0 2.0 0a1.0 1.0 0 1 0 -2.0 0M98.9 76.1a1.0 1.0 0 1 0 2.0 0a1.0 1.0 0 1 0 -2.0 0M107.9 82.6a1.0 1.0 0 1 0 2.0 0a1.0 1.0 0 1 0 -2.0 0M111.9 83.2a1.0 1.0 0 1 0 2.0 0a1.0 1.0 0 1 0 -2.0 0M114.4 80.0a1.0 1.0 0 1 0 2.0 0a1.0 1.0 0 1 0 -2.0 0M127.4 81.3a1.0 1.0 0 1 0 2.0 0a1.0 1.0 0 1 0 -2.0 0M106.6 87.8a1.0 1.0 0 1 0 2.0 0a1.0 1.0 0 1 0 -2.0 0M102.8 90.4a1.0 1.0 0 1 0 2.0 0a1.0 1.0 0 1 0 -2.0 0M102.1 93.0a1.0 1.0 0 1 0 2.0 0a1.0 1.0 0 1 0 -2.0 0M104.7 93.0a1.0 1.0 0 1 0 2.0 0a1.0 1.0 0 1 0 -2.0 0M110.6 92.3a1.0 1.0 0 1 0 2.0 0a1.0 1.0 0 1 0 -2.0 0M115.8 93.0a1.0 1.0 0 1 0 2.0 0a1.0 1.0 0 1 0 -2.0 0M124.9 93.7a1.0 1.0 0 1 0 2.0 0a1.0 1.0 0 1 0 -2.0 0M105.4 97.6a1.0 1.0 0 1 0 2.0 0a1.0 1.0 0 1 0 -2.0 0M113.1 96.9a1.0 1.0 0 1 0 2.0 0a1.0 1.0 0 1 0 -2.0 0M117.1 96.2a1.0 1.0 0 1 0 2.0 0a1.0 1.0 0 1 0 -2.0 0M121.6 97.6a1.0 1.0 0 1 0 2.0 0a1.0 1.0 0 1 0 -2.0 0M102.8 100.2a1.0 1.0 0 1 0 2.0 0a1.0 1.0 0 1 0 -2.0 0M106.6 100.8a1.0 1.0 0 1 0 2.0 0a1.0 1.0 0 1 0 -2.0 0M113.1 99.5a1.0 1.0 0 1 0 2.0 0a1.0 1.0 0 1 0 -2.0 0M66.4 96.2a1.0 1.0 0 1 0 2.0 0a1.0 1.0 0 1 0 -2.0 0M71.6 98.8a1.0 1.0 0 1 0 2.0 0a1.0 1.0 0 1 0 -2.0 0M80.6 93.7a1.0 1.0 0 1 0 2.0 0a1.0 1.0 0 1 0 -2.0 0M82.6 97.6a1.0 1.0 0 1 0 2.0 0a1.0 1.0 0 1 0 -2.0 0M122.2 74.8a1.0 1.0 0 1 0 2.0 0a1.0 1.0 0 1 0 -2.0 0M124.9 77.4a1.0 1.0 0 1 0 2.0 0a1.0 1.0 0 1 0 -2.0 0M104.1 74.8a1.0 1.0 0 1 0 2.0 0a1.0 1.0 0 1 0 -2.0 0M113.1 75.5a1.0 1.0 0 1 0 2.0 0a1.0 1.0 0 1 0 -2.0 0"/></g>
</g>
<rect x="338.25" y="15.60" width="130.4" height="101.8" fill="none" stroke="#1a1a1a" stroke-width="1.45"/>
<path d="M333.65 39.09H338.25M333.65 78.25H338.25M333.65 117.40H338.25M338.25 117.40V122.00M376.60 117.40V122.00M414.96 117.40V122.00M453.31 117.40V122.00" stroke="#1a1a1a" stroke-width="1.2" fill="none"/>
<text x="338.35" y="12.10" font-size="10">(c)</text>
<text x="469.15" y="12.10" font-size="10" text-anchor="end">ΔRMSE: -0.099 (-4.1%)</text>
<text x="12.8" y="69.80" font-size="12.5" text-anchor="middle">T</text>
<path d="M473.6 24.30L477.80 20.00L482.0 24.30Z" fill="#a3002a"/><rect x="473.6" y="24.30" width="8.40" height="8.44" fill="#ee1b34"/><rect x="473.6" y="32.69" width="8.40" height="8.44" fill="#f43b3e"/><rect x="473.6" y="41.08" width="8.40" height="8.44" fill="#fca66a"/><rect x="473.6" y="49.47" width="8.40" height="8.44" fill="#fdd591"/><rect x="473.6" y="57.86" width="8.40" height="8.44" fill="#fffde2"/><rect x="473.6" y="66.25" width="8.40" height="8.44" fill="#e4fbff"/><rect x="473.6" y="74.64" width="8.40" height="8.44" fill="#9ae5f8"/><rect x="473.6" y="83.03" width="8.40" height="8.44" fill="#66c6f7"/><rect x="473.6" y="91.42" width="8.40" height="8.44" fill="#3a86f5"/><rect x="473.6" y="99.81" width="8.40" height="8.44" fill="#2a4ff3"/><path d="M473.6 108.20L477.80 112.60L482.0 108.20Z" fill="#1f0fd6"/>
<path d="M473.6 24.30L477.80 20.00L482.0 24.30V108.20L477.80 112.60L473.6 108.20Z" fill="none" stroke="#777" stroke-width="0.5"/>
<path d="M482.0 32.69h1.6" stroke="#999" stroke-width="0.7"/>
<text x="484.9" y="35.94" font-size="9">4</text>
<path d="M482.0 49.47h1.6" stroke="#999" stroke-width="0.7"/>
<text x="484.9" y="52.72" font-size="9">2</text>
<path d="M482.0 66.25h1.6" stroke="#999" stroke-width="0.7"/>
<text x="484.9" y="69.50" font-size="9">0</text>
<path d="M482.0 83.03h1.6" stroke="#999" stroke-width="0.7"/>
<text x="484.9" y="86.28" font-size="9">−2</text>
<path d="M482.0 99.81h1.6" stroke="#999" stroke-width="0.7"/>
<text x="484.9" y="103.06" font-size="9">−4</text>
<clipPath id="cp3"><rect x="51.75" y="140.55" width="130.4" height="101.8"/></clipPath>
<g clip-path="url(#cp3)">
<use href="#cont" transform="translate(51.75,140.55)"/>
<g transform="translate(51.75,140.55)"><path fill="#dcf8fd" d="M29.4 15.8a1.0 1.0 0 1 0 2.0 0a1.0 1.0 0 1 0 -2.0 0M25.9 21.9a1.0 1.0 0 1 0 2.0 0a1.0 1.0 0 1 0 -2.0 0M5.1 24.2a1.0 1.0 0 1 0 2.0 0a1.0 1.0 0 1 0 -2.0 0M4.2 27.5a1.0 1.0 0 1 0 2.0 0a1.0 1.0 0 1 0 -2.0 0M26.5 29.7a1.0 1.0 0 1 0 2.0 0a1.0 1.0 0 1 0 -2.0 0M31.1 30.3a1.0 1.0 0 1 0 2.0 0a1.0 1.0 0 1 0 -2.0 0M20.3 33.3a1.0 1.0 0 1 0 2.0 0a1.0 1.0 0 1 0 -2.0 0M28.5 38.8a1.0 1.0 0 1 0 2.0 0a1.0 1.0 0 1 0 -2.0 0M36.3 41.8a1.0 1.0 0 1 0 2.0 0a1.0 1.0 0 1 0 -2.0 0M42.2 41.8a1.0 1.0 0 1 0 2.0 0a1.0 1.0 0 1 0 -2.0 0M46.0 39.1a1.0 1.0 0 1 0 2.0 0a1.0 1.0 0 1 0 -2.0 0M55.2 31.6a1.0 1.0 0 1 0 2.0 0a1.0 1.0 0 1 0 -2.0 0M44.1 29.4a1.0 1.0 0 1 0 2.0 0a1.0 1.0 0 1 0 -2.0 0M54.5 38.8a1.0 1.0 0 1 0 2.0 0a1.0 1.0 0 1 0 -2.0 0M51.2 47.2a1.0 1.0 0 1 0 2.0 0a1.0 1.0 0 1 0 -2.0 0M96.8 8.2a1.0 1.0 0 1 0 2.0 0a1.0 1.0 0 1 0 -2.0 0M72.0 26.4a1.0 1.0 0 1 0 2.0 0a1.0 1.0 0 1 0 -2.0 0M43.4 71.6a1.0 1.0 0 1 0 2.0 0a1.0 1.0 0 1 0 -2.0 0M38.2 79.4a1.0 1.0 0 1 0 2.0 0a1.0 1.0 0 1 0 -2.0 0M42.2 82.6a1.0 1.0 0 1 0 2.0 0a1.0 1.0 0 1 0 -2.0 0M35.7 85.9a1.0 1.0 0 1 0 2.0 0a1.0 1.0 0 1 0 -2.0 0M107.2 83.9a1.0 1.0 0 1 0 2.0 0a1.0 1.0 0 1 0 -2.0 0M111.1 89.1a1.0 1.0 0 1 0 2.0 0a1.0 1.0 0 1 0 -2.0 0M116.2 74.8a1.0 1.0 0 1 0 2.0 0a1.0 1.0 0 1 0 -2.0 0M121.4 73.5a1.0 1.0 0 1 0 2.0 0a1.0 1.0 0 1 0 -2.0 0M64.1 2.5a1.0 1.0 0 1 0 2.0 0a1.0 1.0 0 1 0 -2.0 0M74.7 7.3a1.0 1.0 0 1 0 2.0 0a1.0 1.0 0 1 0 -2.0 0M73.9 18.6a1.0 1.0 0 1 0 2.0 0a1.0 1.0 0 1 0 -2.0 0M80.2 19.3a1.0 1.0 0 1 0 2.0 0a1.0 1.0 0 1 0 -2.0 0M107.7 21.3a1.0 1.0 0 1 0 2.0 0a1.0 1.0 0 1 0 -2.0 0M70.4 23.5a1.0 1.0 0 1 0 2.0 0a1.0 1.0 0 1 0 -2.0 0M106.8 27.7a1.0 1.0 0 1 0 2.0 0a1.0 1.0 0 1 0 -2.0 0M87.3 59.9a1.0 1.0 0 1 0 2.0 0a1.0 1.0 0 1 0 -2.0 0M105.7 70.8a1.0 1.0 0 1 0 2.0 0a1.0 1.0 0 1 0 -2.0 0M97.4 80.0a1.0 1.0 0 1 0 2.0 0a1.0 1.0 0 1 0 -2.0 0M97.4 93.3a1.0 1.0 0 1 0 2.0 0a1.0 1.0 0 1 0 -2.0 0M111.8 94.9a1.0 1.0 0 1 0 2.0 0a1.0 1.0 0 1 0 -2.0 0"/><path fill="#fdf8d8" d="M30.5 9.3a1.0 1.0 0 1 0 2.0 0a1.0 1.0 0 1 0 -2.0 0M16.8 16.7a1.0 1.0 0 1 0 2.0 0a1.0 1.0 0 1 0 -2.0 0M52.5 26.4a1.0 1.0 0 1 0 2.0 0a1.0 1.0 0 1 0 -2.0 0M58.4 16.0a1.0 1.0 0 1 0 2.0 0a1.0 1.0 0 1 0 -2.0 0M55.2 46.2a1.0 1.0 0 1 0 2.0 0a1.0 1.0 0 1 0 -2.0 0M77.2 13.4a1.0 1.0 0 1 0 2.0 0a1.0 1.0 0 1 0 -2.0 0M85.1 8.2a1.0 1.0 0 1 0 2.0 0a1.0 1.0 0 1 0 -2.0 0M90.2 16.0a1.0 1.0 0 1 0 2.0 0a1.0 1.0 0 1 0 -2.0 0M118.8 12.1a1.0 1.0 0 1 0 2.0 0a1.0 1.0 0 1 0 -2.0 0M74.7 31.6a1.0 1.0 0 1 0 2.0 0a1.0 1.0 0 1 0 -2.0 0M50.6 54.3a1.0 1.0 0 1 0 2.0 0a1.0 1.0 0 1 0 -2.0 0M52.5 65.8a1.0 1.0 0 1 0 2.0 0a1.0 1.0 0 1 0 -2.0 0M48.0 89.1a1.0 1.0 0 1 0 2.0 0a1.0 1.0 0 1 0 -2.0 0M46.0 77.4a1.0 1.0 0 1 0 2.0 0a1.0 1.0 0 1 0 -2.0 0M51.2 89.8a1.0 1.0 0 1 0 2.0 0a1.0 1.0 0 1 0 -2.0 0M53.8 93.0a1.0 1.0 0 1 0 2.0 0a1.0 1.0 0 1 0 -2.0 0M108.4 77.4a1.0 1.0 0 1 0 2.0 0a1.0 1.0 0 1 0 -2.0 0M113.7 80.0a1.0 1.0 0 1 0 2.0 0a1.0 1.0 0 1 0 -2.0 0M98.1 83.9a1.0 1.0 0 1 0 2.0 0a1.0 1.0 0 1 0 -2.0 0M100.7 96.9a1.0 1.0 0 1 0 2.0 0a1.0 1.0 0 1 0 -2.0 0M87.9 1.3a1.0 1.0 0 1 0 2.0 0a1.0 1.0 0 1 0 -2.0 0M64.3 5.2a1.0 1.0 0 1 0 2.0 0a1.0 1.0 0 1 0 -2.0 0M120.7 7.7a1.0 1.0 0 1 0 2.0 0a1.0 1.0 0 1 0 -2.0 0M38.4 11.2a1.0 1.0 0 1 0 2.0 0a1.0 1.0 0 1 0 -2.0 0M61.8 10.0a1.0 1.0 0 1 0 2.0 0a1.0 1.0 0 1 0 -2.0 0M70.2 16.5a1.0 1.0 0 1 0 2.0 0a1.0 1.0 0 1 0 -2.0 0M28.1 20.0a1.0 1.0 0 1 0 2.0 0a1.0 1.0 0 1 0 -2.0 0M88.9 20.0a1.0 1.0 0 1 0 2.0 0a1.0 1.0 0 1 0 -2.0 0M79.5 24.2a1.0 1.0 0 1 0 2.0 0a1.0 1.0 0 1 0 -2.0 0M87.0 25.1a1.0 1.0 0 1 0 2.0 0a1.0 1.0 0 1 0 -2.0 0M66.4 34.3a1.0 1.0 0 1 0 2.0 0a1.0 1.0 0 1 0 -2.0 0M116.5 44.4a1.0 1.0 0 1 0 2.0 0a1.0 1.0 0 1 0 -2.0 0M126.2 49.0a1.0 1.0 0 1 0 2.0 0a1.0 1.0 0 1 0 -2.0 0M95.7 56.2a1.0 1.0 0 1 0 2.0 0a1.0 1.0 0 1 0 -2.0 0M124.4 56.2a1.0 1.0 0 1 0 2.0 0a1.0 1.0 0 1 0 -2.0 0M69.3 60.9a1.0 1.0 0 1 0 2.0 0a1.0 1.0 0 1 0 -2.0 0M41.3 65.1a1.0 1.0 0 1 0 2.0 0a1.0 1.0 0 1 0 -2.0 0M79.0 69.3a1.0 1.0 0 1 0 2.0 0a1.0 1.0 0 1 0 -2.0 0M40.7 75.4a1.0 1.0 0 1 0 2.0 0a1.0 1.0 0 1 0 -2.0 0M118.6 76.0a1.0 1.0 0 1 0 2.0 0a1.0 1.0 0 1 0 -2.0 0M63.9 83.5a1.0 1.0 0 1 0 2.0 0a1.0 1.0 0 1 0 -2.0 0M103.3 89.8a1.0 1.0 0 1 0 2.0 0a1.0 1.0 0 1 0 -2.0 0M40.7 93.1a1.0 1.0 0 1 0 2.0 0a1.0 1.0 0 1 0 -2.0 0M77.3 94.2a1.0 1.0 0 1 0 2.0 0a1.0 1.0 0 1 0 -2.0 0M93.1 93.1a1.0 1.0 0 1 0 2.0 0a1.0 1.0 0 1 0 -2.0 0M107.4 92.8a1.0 1.0 0 1 0 2.0 0a1.0 1.0 0 1 0 -2.0 0"/><path fill="#fdd28f" d="M36.4 1.7a1.0 1.0 0 1 0 2.0 0a1.0 1.0 0 1 0 -2.0 0M74.9 2.7a1.0 1.0 0 1 0 2.0 0a1.0 1.0 0 1 0 -2.0 0M98.1 4.9a1.0 1.0 0 1 0 2.0 0a1.0 1.0 0 1 0 -2.0 0M3.9 9.6a1.0 1.0 0 1 0 2.0 0a1.0 1.0 0 1 0 -2.0 0M87.2 10.3a1.0 1.0 0 1 0 2.0 0a1.0 1.0 0 1 0 -2.0 0M110.7 15.7a1.0 1.0 0 1 0 2.0 0a1.0 1.0 0 1 0 -2.0 0M11.1 29.4a1.0 1.0 0 1 0 2.0 0a1.0 1.0 0 1 0 -2.0 0M10.8 37.7a1.0 1.0 0 1 0 2.0 0a1.0 1.0 0 1 0 -2.0 0M101.5 39.0a1.0 1.0 0 1 0 2.0 0a1.0 1.0 0 1 0 -2.0 0M50.5 43.1a1.0 1.0 0 1 0 2.0 0a1.0 1.0 0 1 0 -2.0 0M123.4 50.7a1.0 1.0 0 1 0 2.0 0a1.0 1.0 0 1 0 -2.0 0M82.8 57.1a1.0 1.0 0 1 0 2.0 0a1.0 1.0 0 1 0 -2.0 0M109.4 60.8a1.0 1.0 0 1 0 2.0 0a1.0 1.0 0 1 0 -2.0 0M52.3 71.3a1.0 1.0 0 1 0 2.0 0a1.0 1.0 0 1 0 -2.0 0M73.7 70.7a1.0 1.0 0 1 0 2.0 0a1.0 1.0 0 1 0 -2.0 0M118.9 72.0a1.0 1.0 0 1 0 2.0 0a1.0 1.0 0 1 0 -2.0 0M86.5 76.5a1.0 1.0 0 1 0 2.0 0a1.0 1.0 0 1 0 -2.0 0M82.5 85.3a1.0 1.0 0 1 0 2.0 0a1.0 1.0 0 1 0 -2.0 0M42.7 88.1a1.0 1.0 0 1 0 2.0 0a1.0 1.0 0 1 0 -2.0 0M93.0 89.7a1.0 1.0 0 1 0 2.0 0a1.0 1.0 0 1 0 -2.0 0M115.4 89.7a1.0 1.0 0 1 0 2.0 0a1.0 1.0 0 1 0 -2.0 0M57.0 93.2a1.0 1.0 0 1 0 2.0 0a1.0 1.0 0 1 0 -2.0 0M43.1 98.9a1.0 1.0 0 1 0 2.0 0a1.0 1.0 0 1 0 -2.0 0M54.8 98.7a1.0 1.0 0 1 0 2.0 0a1.0 1.0 0 1 0 -2.0 0M72.7 97.6a1.0 1.0 0 1 0 2.0 0a1.0 1.0 0 1 0 -2.0 0M105.4 97.9a1.0 1.0 0 1 0 2.0 0a1.0 1.0 0 1 0 -2.0 0"/><path fill="#80d3f7" d="M41.9 24.9a1.0 1.0 0 1 0 2.0 0a1.0 1.0 0 1 0 -2.0 0M19.0 28.1a1.0 1.0 0 1 0 2.0 0a1.0 1.0 0 1 0 -2.0 0M9.4 41.8a1.0 1.0 0 1 0 2.0 0a1.0 1.0 0 1 0 -2.0 0M63.6 12.1a1.0 1.0 0 1 0 2.0 0a1.0 1.0 0 1 0 -2.0 0M72.0 3.0a1.0 1.0 0 1 0 2.0 0a1.0 1.0 0 1 0 -2.0 0M68.2 7.6a1.0 1.0 0 1 0 2.0 0a1.0 1.0 0 1 0 -2.0 0M108.4 5.0a1.0 1.0 0 1 0 2.0 0a1.0 1.0 0 1 0 -2.0 0M92.2 25.8a1.0 1.0 0 1 0 2.0 0a1.0 1.0 0 1 0 -2.0 0M101.9 27.1a1.0 1.0 0 1 0 2.0 0a1.0 1.0 0 1 0 -2.0 0M90.2 29.0a1.0 1.0 0 1 0 2.0 0a1.0 1.0 0 1 0 -2.0 0M94.2 39.4a1.0 1.0 0 1 0 2.0 0a1.0 1.0 0 1 0 -2.0 0M96.1 43.3a1.0 1.0 0 1 0 2.0 0a1.0 1.0 0 1 0 -2.0 0M84.4 34.2a1.0 1.0 0 1 0 2.0 0a1.0 1.0 0 1 0 -2.0 0M81.8 38.1a1.0 1.0 0 1 0 2.0 0a1.0 1.0 0 1 0 -2.0 0M83.8 38.1a1.0 1.0 0 1 0 2.0 0a1.0 1.0 0 1 0 -2.0 0M83.1 44.0a1.0 1.0 0 1 0 2.0 0a1.0 1.0 0 1 0 -2.0 0M81.8 45.3a1.0 1.0 0 1 0 2.0 0a1.0 1.0 0 1 0 -2.0 0M85.7 47.2a1.0 1.0 0 1 0 2.0 0a1.0 1.0 0 1 0 -2.0 0M72.0 49.8a1.0 1.0 0 1 0 2.0 0a1.0 1.0 0 1 0 -2.0 0M94.2 49.2a1.0 1.0 0 1 0 2.0 0a1.0 1.0 0 1 0 -2.0 0M96.1 50.5a1.0 1.0 0 1 0 2.0 0a1.0 1.0 0 1 0 -2.0 0M103.2 48.5a1.0 1.0 0 1 0 2.0 0a1.0 1.0 0 1 0 -2.0 0M125.3 43.3a1.0 1.0 0 1 0 2.0 0a1.0 1.0 0 1 0 -2.0 0M113.7 44.6a1.0 1.0 0 1 0 2.0 0a1.0 1.0 0 1 0 -2.0 0M62.3 65.1a1.0 1.0 0 1 0 2.0 0a1.0 1.0 0 1 0 -2.0 0M56.4 78.1a1.0 1.0 0 1 0 2.0 0a1.0 1.0 0 1 0 -2.0 0M113.7 52.1a1.0 1.0 0 1 0 2.0 0a1.0 1.0 0 1 0 -2.0 0M121.4 52.8a1.0 1.0 0 1 0 2.0 0a1.0 1.0 0 1 0 -2.0 0M113.0 63.8a1.0 1.0 0 1 0 2.0 0a1.0 1.0 0 1 0 -2.0 0M116.2 61.8a1.0 1.0 0 1 0 2.0 0a1.0 1.0 0 1 0 -2.0 0M120.2 60.5a1.0 1.0 0 1 0 2.0 0a1.0 1.0 0 1 0 -2.0 0M124.1 59.2a1.0 1.0 0 1 0 2.0 0a1.0 1.0 0 1 0 -2.0 0M118.8 65.8a1.0 1.0 0 1 0 2.0 0a1.0 1.0 0 1 0 -2.0 0M122.8 67.0a1.0 1.0 0 1 0 2.0 0a1.0 1.0 0 1 0 -2.0 0M126.7 65.1a1.0 1.0 0 1 0 2.0 0a1.0 1.0 0 1 0 -2.0 0M124.1 69.6a1.0 1.0 0 1 0 2.0 0a1.0 1.0 0 1 0 -2.0 0M77.2 67.0a1.0 1.0 0 1 0 2.0 0a1.0 1.0 0 1 0 -2.0 0M105.8 65.8a1.0 1.0 0 1 0 2.0 0a1.0 1.0 0 1 0 -2.0 0M105.8 90.4a1.0 1.0 0 1 0 2.0 0a1.0 1.0 0 1 0 -2.0 0M117.6 82.0a1.0 1.0 0 1 0 2.0 0a1.0 1.0 0 1 0 -2.0 0M123.4 83.9a1.0 1.0 0 1 0 2.0 0a1.0 1.0 0 1 0 -2.0 0M114.3 85.9a1.0 1.0 0 1 0 2.0 0a1.0 1.0 0 1 0 -2.0 0M125.3 87.8a1.0 1.0 0 1 0 2.0 0a1.0 1.0 0 1 0 -2.0 0M118.8 91.8a1.0 1.0 0 1 0 2.0 0a1.0 1.0 0 1 0 -2.0 0M124.1 94.3a1.0 1.0 0 1 0 2.0 0a1.0 1.0 0 1 0 -2.0 0M121.4 100.8a1.0 1.0 0 1 0 2.0 0a1.0 1.0 0 1 0 -2.0 0M101.9 93.0a1.0 1.0 0 1 0 2.0 0a1.0 1.0 0 1 0 -2.0 0M109.8 98.2a1.0 1.0 0 1 0 2.0 0a1.0 1.0 0 1 0 -2.0 0"/><path fill="#fdbb84" d="M20.7 6.7a1.0 1.0 0 1 0 2.0 0a1.0 1.0 0 1 0 -2.0 0M49.9 9.8a1.0 1.0 0 1 0 2.0 0a1.0 1.0 0 1 0 -2.0 0M51.9 8.2a1.0 1.0 0 1 0 2.0 0a1.0 1.0 0 1 0 -2.0 0M55.2 21.2a1.0 1.0 0 1 0 2.0 0a1.0 1.0 0 1 0 -2.0 0M59.7 21.2a1.0 1.0 0 1 0 2.0 0a1.0 1.0 0 1 0 -2.0 0M113.7 5.6a1.0 1.0 0 1 0 2.0 0a1.0 1.0 0 1 0 -2.0 0M116.2 3.0a1.0 1.0 0 1 0 2.0 0a1.0 1.0 0 1 0 -2.0 0M118.8 3.7a1.0 1.0 0 1 0 2.0 0a1.0 1.0 0 1 0 -2.0 0M117.6 4.3a1.0 1.0 0 1 0 2.0 0a1.0 1.0 0 1 0 -2.0 0M105.2 19.9a1.0 1.0 0 1 0 2.0 0a1.0 1.0 0 1 0 -2.0 0M111.1 18.6a1.0 1.0 0 1 0 2.0 0a1.0 1.0 0 1 0 -2.0 0M113.7 19.9a1.0 1.0 0 1 0 2.0 0a1.0 1.0 0 1 0 -2.0 0M117.6 19.3a1.0 1.0 0 1 0 2.0 0a1.0 1.0 0 1 0 -2.0 0M121.4 18.0a1.0 1.0 0 1 0 2.0 0a1.0 1.0 0 1 0 -2.0 0M125.3 18.6a1.0 1.0 0 1 0 2.0 0a1.0 1.0 0 1 0 -2.0 0M125.3 23.8a1.0 1.0 0 1 0 2.0 0a1.0 1.0 0 1 0 -2.0 0M121.4 25.1a1.0 1.0 0 1 0 2.0 0a1.0 1.0 0 1 0 -2.0 0M116.2 25.1a1.0 1.0 0 1 0 2.0 0a1.0 1.0 0 1 0 -2.0 0M108.4 24.5a1.0 1.0 0 1 0 2.0 0a1.0 1.0 0 1 0 -2.0 0M104.6 23.8a1.0 1.0 0 1 0 2.0 0a1.0 1.0 0 1 0 -2.0 0M97.4 19.9a1.0 1.0 0 1 0 2.0 0a1.0 1.0 0 1 0 -2.0 0M98.7 25.1a1.0 1.0 0 1 0 2.0 0a1.0 1.0 0 1 0 -2.0 0M94.2 27.8a1.0 1.0 0 1 0 2.0 0a1.0 1.0 0 1 0 -2.0 0M101.9 42.0a1.0 1.0 0 1 0 2.0 0a1.0 1.0 0 1 0 -2.0 0M103.2 36.8a1.0 1.0 0 1 0 2.0 0a1.0 1.0 0 1 0 -2.0 0M105.8 35.5a1.0 1.0 0 1 0 2.0 0a1.0 1.0 0 1 0 -2.0 0M108.4 33.6a1.0 1.0 0 1 0 2.0 0a1.0 1.0 0 1 0 -2.0 0M113.0 32.9a1.0 1.0 0 1 0 2.0 0a1.0 1.0 0 1 0 -2.0 0M116.2 30.3a1.0 1.0 0 1 0 2.0 0a1.0 1.0 0 1 0 -2.0 0M118.8 31.6a1.0 1.0 0 1 0 2.0 0a1.0 1.0 0 1 0 -2.0 0M121.4 30.3a1.0 1.0 0 1 0 2.0 0a1.0 1.0 0 1 0 -2.0 0M126.7 31.6a1.0 1.0 0 1 0 2.0 0a1.0 1.0 0 1 0 -2.0 0M126.7 35.5a1.0 1.0 0 1 0 2.0 0a1.0 1.0 0 1 0 -2.0 0M122.8 35.5a1.0 1.0 0 1 0 2.0 0a1.0 1.0 0 1 0 -2.0 0M120.2 33.6a1.0 1.0 0 1 0 2.0 0a1.0 1.0 0 1 0 -2.0 0M116.9 36.8a1.0 1.0 0 1 0 2.0 0a1.0 1.0 0 1 0 -2.0 0M113.7 39.4a1.0 1.0 0 1 0 2.0 0a1.0 1.0 0 1 0 -2.0 0M109.8 39.4a1.0 1.0 0 1 0 2.0 0a1.0 1.0 0 1 0 -2.0 0M105.8 40.8a1.0 1.0 0 1 0 2.0 0a1.0 1.0 0 1 0 -2.0 0M105.2 45.3a1.0 1.0 0 1 0 2.0 0a1.0 1.0 0 1 0 -2.0 0M91.6 47.2a1.0 1.0 0 1 0 2.0 0a1.0 1.0 0 1 0 -2.0 0M69.5 40.1a1.0 1.0 0 1 0 2.0 0a1.0 1.0 0 1 0 -2.0 0M66.8 44.6a1.0 1.0 0 1 0 2.0 0a1.0 1.0 0 1 0 -2.0 0M75.9 38.1a1.0 1.0 0 1 0 2.0 0a1.0 1.0 0 1 0 -2.0 0M77.2 35.5a1.0 1.0 0 1 0 2.0 0a1.0 1.0 0 1 0 -2.0 0M98.7 50.5a1.0 1.0 0 1 0 2.0 0a1.0 1.0 0 1 0 -2.0 0M109.1 47.2a1.0 1.0 0 1 0 2.0 0a1.0 1.0 0 1 0 -2.0 0M113.7 49.8a1.0 1.0 0 1 0 2.0 0a1.0 1.0 0 1 0 -2.0 0M118.8 42.0a1.0 1.0 0 1 0 2.0 0a1.0 1.0 0 1 0 -2.0 0M121.4 39.4a1.0 1.0 0 1 0 2.0 0a1.0 1.0 0 1 0 -2.0 0M127.9 40.8a1.0 1.0 0 1 0 2.0 0a1.0 1.0 0 1 0 -2.0 0M118.8 49.8a1.0 1.0 0 1 0 2.0 0a1.0 1.0 0 1 0 -2.0 0M124.1 45.9a1.0 1.0 0 1 0 2.0 0a1.0 1.0 0 1 0 -2.0 0M62.9 55.3a1.0 1.0 0 1 0 2.0 0a1.0 1.0 0 1 0 -2.0 0M59.0 60.5a1.0 1.0 0 1 0 2.0 0a1.0 1.0 0 1 0 -2.0 0M55.2 74.8a1.0 1.0 0 1 0 2.0 0a1.0 1.0 0 1 0 -2.0 0M63.6 76.1a1.0 1.0 0 1 0 2.0 0a1.0 1.0 0 1 0 -2.0 0M49.3 79.4a1.0 1.0 0 1 0 2.0 0a1.0 1.0 0 1 0 -2.0 0M53.2 82.6a1.0 1.0 0 1 0 2.0 0a1.0 1.0 0 1 0 -2.0 0M59.0 82.4a1.0 1.0 0 1 0 2.0 0a1.0 1.0 0 1 0 -2.0 0M53.2 86.5a1.0 1.0 0 1 0 2.0 0a1.0 1.0 0 1 0 -2.0 0M46.7 92.4a1.0 1.0 0 1 0 2.0 0a1.0 1.0 0 1 0 -2.0 0M60.3 95.0a1.0 1.0 0 1 0 2.0 0a1.0 1.0 0 1 0 -2.0 0M49.9 96.3a1.0 1.0 0 1 0 2.0 0a1.0 1.0 0 1 0 -2.0 0M48.0 98.9a1.0 1.0 0 1 0 2.0 0a1.0 1.0 0 1 0 -2.0 0M85.7 53.4a1.0 1.0 0 1 0 2.0 0a1.0 1.0 0 1 0 -2.0 0M90.2 52.8a1.0 1.0 0 1 0 2.0 0a1.0 1.0 0 1 0 -2.0 0M96.8 52.8a1.0 1.0 0 1 0 2.0 0a1.0 1.0 0 1 0 -2.0 0M107.2 54.0a1.0 1.0 0 1 0 2.0 0a1.0 1.0 0 1 0 -2.0 0M69.5 57.3a1.0 1.0 0 1 0 2.0 0a1.0 1.0 0 1 0 -2.0 0M73.3 56.6a1.0 1.0 0 1 0 2.0 0a1.0 1.0 0 1 0 -2.0 0M77.9 57.3a1.0 1.0 0 1 0 2.0 0a1.0 1.0 0 1 0 -2.0 0M85.1 63.1a1.0 1.0 0 1 0 2.0 0a1.0 1.0 0 1 0 -2.0 0M103.2 61.2a1.0 1.0 0 1 0 2.0 0a1.0 1.0 0 1 0 -2.0 0M109.8 65.8a1.0 1.0 0 1 0 2.0 0a1.0 1.0 0 1 0 -2.0 0M74.7 63.8a1.0 1.0 0 1 0 2.0 0a1.0 1.0 0 1 0 -2.0 0M82.4 69.6a1.0 1.0 0 1 0 2.0 0a1.0 1.0 0 1 0 -2.0 0M99.3 76.8a1.0 1.0 0 1 0 2.0 0a1.0 1.0 0 1 0 -2.0 0M104.6 74.8a1.0 1.0 0 1 0 2.0 0a1.0 1.0 0 1 0 -2.0 0M65.5 80.7a1.0 1.0 0 1 0 2.0 0a1.0 1.0 0 1 0 -2.0 0M85.7 90.4a1.0 1.0 0 1 0 2.0 0a1.0 1.0 0 1 0 -2.0 0M91.6 82.0a1.0 1.0 0 1 0 2.0 0a1.0 1.0 0 1 0 -2.0 0M87.7 93.7a1.0 1.0 0 1 0 2.0 0a1.0 1.0 0 1 0 -2.0 0M81.2 93.7a1.0 1.0 0 1 0 2.0 0a1.0 1.0 0 1 0 -2.0 0M101.9 82.6a1.0 1.0 0 1 0 2.0 0a1.0 1.0 0 1 0 -2.0 0M103.2 93.0a1.0 1.0 0 1 0 2.0 0a1.0 1.0 0 1 0 -2.0 0M96.8 90.4a1.0 1.0 0 1 0 2.0 0a1.0 1.0 0 1 0 -2.0 0"/><path fill="#3c8af4" d="M38.0 15.8a1.0 1.0 0 1 0 2.0 0a1.0 1.0 0 1 0 -2.0 0M8.4 45.3a1.0 1.0 0 1 0 2.0 0a1.0 1.0 0 1 0 -2.0 0M106.5 14.8a1.0 1.0 0 1 0 2.0 0a1.0 1.0 0 1 0 -2.0 0M85.1 28.4a1.0 1.0 0 1 0 2.0 0a1.0 1.0 0 1 0 -2.0 0M82.4 47.2a1.0 1.0 0 1 0 2.0 0a1.0 1.0 0 1 0 -2.0 0M104.6 57.9a1.0 1.0 0 1 0 2.0 0a1.0 1.0 0 1 0 -2.0 0M127.9 61.2a1.0 1.0 0 1 0 2.0 0a1.0 1.0 0 1 0 -2.0 0M83.8 68.3a1.0 1.0 0 1 0 2.0 0a1.0 1.0 0 1 0 -2.0 0M72.0 73.5a1.0 1.0 0 1 0 2.0 0a1.0 1.0 0 1 0 -2.0 0M77.2 74.2a1.0 1.0 0 1 0 2.0 0a1.0 1.0 0 1 0 -2.0 0M84.4 72.9a1.0 1.0 0 1 0 2.0 0a1.0 1.0 0 1 0 -2.0 0M117.6 96.3a1.0 1.0 0 1 0 2.0 0a1.0 1.0 0 1 0 -2.0 0"/><path fill="#ee2531" d="M38.9 0.7a1.0 1.0 0 1 0 2.0 0a1.0 1.0 0 1 0 -2.0 0M125.3 3.7a1.0 1.0 0 1 0 2.0 0a1.0 1.0 0 1 0 -2.0 0M127.9 5.0a1.0 1.0 0 1 0 2.0 0a1.0 1.0 0 1 0 -2.0 0M120.8 2.0a1.0 1.0 0 1 0 2.0 0a1.0 1.0 0 1 0 -2.0 0M93.5 32.3a1.0 1.0 0 1 0 2.0 0a1.0 1.0 0 1 0 -2.0 0M99.3 37.5a1.0 1.0 0 1 0 2.0 0a1.0 1.0 0 1 0 -2.0 0M90.2 35.5a1.0 1.0 0 1 0 2.0 0a1.0 1.0 0 1 0 -2.0 0M89.6 42.0a1.0 1.0 0 1 0 2.0 0a1.0 1.0 0 1 0 -2.0 0M110.4 28.4a1.0 1.0 0 1 0 2.0 0a1.0 1.0 0 1 0 -2.0 0M112.3 29.7a1.0 1.0 0 1 0 2.0 0a1.0 1.0 0 1 0 -2.0 0M111.7 33.6a1.0 1.0 0 1 0 2.0 0a1.0 1.0 0 1 0 -2.0 0M117.6 29.7a1.0 1.0 0 1 0 2.0 0a1.0 1.0 0 1 0 -2.0 0M125.3 28.4a1.0 1.0 0 1 0 2.0 0a1.0 1.0 0 1 0 -2.0 0M77.9 43.3a1.0 1.0 0 1 0 2.0 0a1.0 1.0 0 1 0 -2.0 0M90.2 49.2a1.0 1.0 0 1 0 2.0 0a1.0 1.0 0 1 0 -2.0 0M63.6 59.2a1.0 1.0 0 1 0 2.0 0a1.0 1.0 0 1 0 -2.0 0M62.9 77.4a1.0 1.0 0 1 0 2.0 0a1.0 1.0 0 1 0 -2.0 0M58.4 89.8a1.0 1.0 0 1 0 2.0 0a1.0 1.0 0 1 0 -2.0 0M64.9 52.8a1.0 1.0 0 1 0 2.0 0a1.0 1.0 0 1 0 -2.0 0M90.9 56.0a1.0 1.0 0 1 0 2.0 0a1.0 1.0 0 1 0 -2.0 0M105.8 62.5a1.0 1.0 0 1 0 2.0 0a1.0 1.0 0 1 0 -2.0 0M66.8 64.4a1.0 1.0 0 1 0 2.0 0a1.0 1.0 0 1 0 -2.0 0M68.2 69.6a1.0 1.0 0 1 0 2.0 0a1.0 1.0 0 1 0 -2.0 0M64.9 67.7a1.0 1.0 0 1 0 2.0 0a1.0 1.0 0 1 0 -2.0 0M68.2 72.9a1.0 1.0 0 1 0 2.0 0a1.0 1.0 0 1 0 -2.0 0M90.2 71.6a1.0 1.0 0 1 0 2.0 0a1.0 1.0 0 1 0 -2.0 0M93.5 68.3a1.0 1.0 0 1 0 2.0 0a1.0 1.0 0 1 0 -2.0 0M99.3 71.6a1.0 1.0 0 1 0 2.0 0a1.0 1.0 0 1 0 -2.0 0M111.7 69.0a1.0 1.0 0 1 0 2.0 0a1.0 1.0 0 1 0 -2.0 0M72.0 79.4a1.0 1.0 0 1 0 2.0 0a1.0 1.0 0 1 0 -2.0 0M81.2 82.0a1.0 1.0 0 1 0 2.0 0a1.0 1.0 0 1 0 -2.0 0M68.8 80.7a1.0 1.0 0 1 0 2.0 0a1.0 1.0 0 1 0 -2.0 0M68.2 85.2a1.0 1.0 0 1 0 2.0 0a1.0 1.0 0 1 0 -2.0 0M71.4 85.9a1.0 1.0 0 1 0 2.0 0a1.0 1.0 0 1 0 -2.0 0M77.2 87.8a1.0 1.0 0 1 0 2.0 0a1.0 1.0 0 1 0 -2.0 0M71.4 91.1a1.0 1.0 0 1 0 2.0 0a1.0 1.0 0 1 0 -2.0 0M88.3 90.4a1.0 1.0 0 1 0 2.0 0a1.0 1.0 0 1 0 -2.0 0M71.4 93.7a1.0 1.0 0 1 0 2.0 0a1.0 1.0 0 1 0 -2.0 0M125.3 100.2a1.0 1.0 0 1 0 2.0 0a1.0 1.0 0 1 0 -2.0 0"/><path fill="#a8072e" d="M121.4 3.0a1.0 1.0 0 1 0 2.0 0a1.0 1.0 0 1 0 -2.0 0M123.4 5.0a1.0 1.0 0 1 0 2.0 0a1.0 1.0 0 1 0 -2.0 0M101.3 31.0a1.0 1.0 0 1 0 2.0 0a1.0 1.0 0 1 0 -2.0 0M103.2 31.0a1.0 1.0 0 1 0 2.0 0a1.0 1.0 0 1 0 -2.0 0M98.1 31.6a1.0 1.0 0 1 0 2.0 0a1.0 1.0 0 1 0 -2.0 0M96.8 34.9a1.0 1.0 0 1 0 2.0 0a1.0 1.0 0 1 0 -2.0 0M95.4 35.5a1.0 1.0 0 1 0 2.0 0a1.0 1.0 0 1 0 -2.0 0M100.0 33.6a1.0 1.0 0 1 0 2.0 0a1.0 1.0 0 1 0 -2.0 0M96.1 37.5a1.0 1.0 0 1 0 2.0 0a1.0 1.0 0 1 0 -2.0 0M91.6 40.1a1.0 1.0 0 1 0 2.0 0a1.0 1.0 0 1 0 -2.0 0M109.1 36.2a1.0 1.0 0 1 0 2.0 0a1.0 1.0 0 1 0 -2.0 0M111.1 29.7a1.0 1.0 0 1 0 2.0 0a1.0 1.0 0 1 0 -2.0 0M82.4 34.9a1.0 1.0 0 1 0 2.0 0a1.0 1.0 0 1 0 -2.0 0M79.2 40.1a1.0 1.0 0 1 0 2.0 0a1.0 1.0 0 1 0 -2.0 0M79.8 42.0a1.0 1.0 0 1 0 2.0 0a1.0 1.0 0 1 0 -2.0 0M81.2 42.0a1.0 1.0 0 1 0 2.0 0a1.0 1.0 0 1 0 -2.0 0M87.0 48.5a1.0 1.0 0 1 0 2.0 0a1.0 1.0 0 1 0 -2.0 0M85.7 49.8a1.0 1.0 0 1 0 2.0 0a1.0 1.0 0 1 0 -2.0 0M69.5 49.2a1.0 1.0 0 1 0 2.0 0a1.0 1.0 0 1 0 -2.0 0M61.0 86.3a1.0 1.0 0 1 0 2.0 0a1.0 1.0 0 1 0 -2.0 0M76.6 52.1a1.0 1.0 0 1 0 2.0 0a1.0 1.0 0 1 0 -2.0 0M81.2 59.9a1.0 1.0 0 1 0 2.0 0a1.0 1.0 0 1 0 -2.0 0M79.8 61.2a1.0 1.0 0 1 0 2.0 0a1.0 1.0 0 1 0 -2.0 0M92.2 59.9a1.0 1.0 0 1 0 2.0 0a1.0 1.0 0 1 0 -2.0 0M94.8 61.2a1.0 1.0 0 1 0 2.0 0a1.0 1.0 0 1 0 -2.0 0M96.8 62.5a1.0 1.0 0 1 0 2.0 0a1.0 1.0 0 1 0 -2.0 0M98.7 61.8a1.0 1.0 0 1 0 2.0 0a1.0 1.0 0 1 0 -2.0 0M99.3 58.6a1.0 1.0 0 1 0 2.0 0a1.0 1.0 0 1 0 -2.0 0M72.0 65.1a1.0 1.0 0 1 0 2.0 0a1.0 1.0 0 1 0 -2.0 0M92.2 71.6a1.0 1.0 0 1 0 2.0 0a1.0 1.0 0 1 0 -2.0 0M96.1 67.7a1.0 1.0 0 1 0 2.0 0a1.0 1.0 0 1 0 -2.0 0M97.4 69.0a1.0 1.0 0 1 0 2.0 0a1.0 1.0 0 1 0 -2.0 0M98.7 67.7a1.0 1.0 0 1 0 2.0 0a1.0 1.0 0 1 0 -2.0 0M100.7 66.4a1.0 1.0 0 1 0 2.0 0a1.0 1.0 0 1 0 -2.0 0M101.9 64.4a1.0 1.0 0 1 0 2.0 0a1.0 1.0 0 1 0 -2.0 0M103.2 65.1a1.0 1.0 0 1 0 2.0 0a1.0 1.0 0 1 0 -2.0 0M102.6 67.7a1.0 1.0 0 1 0 2.0 0a1.0 1.0 0 1 0 -2.0 0M101.3 69.6a1.0 1.0 0 1 0 2.0 0a1.0 1.0 0 1 0 -2.0 0M95.4 70.3a1.0 1.0 0 1 0 2.0 0a1.0 1.0 0 1 0 -2.0 0M94.8 71.6a1.0 1.0 0 1 0 2.0 0a1.0 1.0 0 1 0 -2.0 0M92.2 74.8a1.0 1.0 0 1 0 2.0 0a1.0 1.0 0 1 0 -2.0 0M95.4 75.5a1.0 1.0 0 1 0 2.0 0a1.0 1.0 0 1 0 -2.0 0M96.1 77.4a1.0 1.0 0 1 0 2.0 0a1.0 1.0 0 1 0 -2.0 0M94.2 77.4a1.0 1.0 0 1 0 2.0 0a1.0 1.0 0 1 0 -2.0 0M71.4 75.5a1.0 1.0 0 1 0 2.0 0a1.0 1.0 0 1 0 -2.0 0M74.0 76.8a1.0 1.0 0 1 0 2.0 0a1.0 1.0 0 1 0 -2.0 0M75.9 78.8a1.0 1.0 0 1 0 2.0 0a1.0 1.0 0 1 0 -2.0 0M79.2 79.4a1.0 1.0 0 1 0 2.0 0a1.0 1.0 0 1 0 -2.0 0M83.1 79.4a1.0 1.0 0 1 0 2.0 0a1.0 1.0 0 1 0 -2.0 0M85.1 79.4a1.0 1.0 0 1 0 2.0 0a1.0 1.0 0 1 0 -2.0 0M90.2 77.4a1.0 1.0 0 1 0 2.0 0a1.0 1.0 0 1 0 -2.0 0M80.5 82.0a1.0 1.0 0 1 0 2.0 0a1.0 1.0 0 1 0 -2.0 0M78.6 82.6a1.0 1.0 0 1 0 2.0 0a1.0 1.0 0 1 0 -2.0 0M74.0 83.9a1.0 1.0 0 1 0 2.0 0a1.0 1.0 0 1 0 -2.0 0M73.3 85.2a1.0 1.0 0 1 0 2.0 0a1.0 1.0 0 1 0 -2.0 0M75.3 84.6a1.0 1.0 0 1 0 2.0 0a1.0 1.0 0 1 0 -2.0 0M74.7 88.5a1.0 1.0 0 1 0 2.0 0a1.0 1.0 0 1 0 -2.0 0M74.0 91.1a1.0 1.0 0 1 0 2.0 0a1.0 1.0 0 1 0 -2.0 0M65.5 89.8a1.0 1.0 0 1 0 2.0 0a1.0 1.0 0 1 0 -2.0 0M66.8 96.3a1.0 1.0 0 1 0 2.0 0a1.0 1.0 0 1 0 -2.0 0M85.1 89.1a1.0 1.0 0 1 0 2.0 0a1.0 1.0 0 1 0 -2.0 0M91.6 85.9a1.0 1.0 0 1 0 2.0 0a1.0 1.0 0 1 0 -2.0 0"/><path fill="#2412d8" d="M0.8 34.0a1.0 1.0 0 1 0 2.0 0a1.0 1.0 0 1 0 -2.0 0M84.4 30.3a1.0 1.0 0 1 0 2.0 0a1.0 1.0 0 1 0 -2.0 0M87.0 28.4a1.0 1.0 0 1 0 2.0 0a1.0 1.0 0 1 0 -2.0 0M88.3 31.0a1.0 1.0 0 1 0 2.0 0a1.0 1.0 0 1 0 -2.0 0M99.3 28.4a1.0 1.0 0 1 0 2.0 0a1.0 1.0 0 1 0 -2.0 0M90.9 36.8a1.0 1.0 0 1 0 2.0 0a1.0 1.0 0 1 0 -2.0 0M88.3 38.8a1.0 1.0 0 1 0 2.0 0a1.0 1.0 0 1 0 -2.0 0M87.0 40.8a1.0 1.0 0 1 0 2.0 0a1.0 1.0 0 1 0 -2.0 0M96.8 41.4a1.0 1.0 0 1 0 2.0 0a1.0 1.0 0 1 0 -2.0 0M100.0 42.0a1.0 1.0 0 1 0 2.0 0a1.0 1.0 0 1 0 -2.0 0M98.1 44.0a1.0 1.0 0 1 0 2.0 0a1.0 1.0 0 1 0 -2.0 0M62.3 74.2a1.0 1.0 0 1 0 2.0 0a1.0 1.0 0 1 0 -2.0 0M60.3 93.7a1.0 1.0 0 1 0 2.0 0a1.0 1.0 0 1 0 -2.0 0M59.0 100.8a1.0 1.0 0 1 0 2.0 0a1.0 1.0 0 1 0 -2.0 0M75.9 75.5a1.0 1.0 0 1 0 2.0 0a1.0 1.0 0 1 0 -2.0 0M79.8 74.2a1.0 1.0 0 1 0 2.0 0a1.0 1.0 0 1 0 -2.0 0M81.8 73.5a1.0 1.0 0 1 0 2.0 0a1.0 1.0 0 1 0 -2.0 0M87.0 72.2a1.0 1.0 0 1 0 2.0 0a1.0 1.0 0 1 0 -2.0 0M70.8 78.1a1.0 1.0 0 1 0 2.0 0a1.0 1.0 0 1 0 -2.0 0M77.9 90.4a1.0 1.0 0 1 0 2.0 0a1.0 1.0 0 1 0 -2.0 0M83.1 97.6a1.0 1.0 0 1 0 2.0 0a1.0 1.0 0 1 0 -2.0 0"/></g>
</g>
<rect x="51.75" y="140.55" width="130.4" height="101.8" fill="none" stroke="#1a1a1a" stroke-width="1.45"/>
<path d="M47.15 164.04H51.75M47.15 203.20H51.75M47.15 242.35H51.75M51.75 242.35V246.95M90.10 242.35V246.95M128.46 242.35V246.95M166.81 242.35V246.95" stroke="#1a1a1a" stroke-width="1.2" fill="none"/>
<text x="51.85" y="137.05" font-size="10">(d)</text>
<text x="182.65" y="137.05" font-size="10" text-anchor="end">ΔRMSE: 0.135 (0.6%)</text>
<text x="45.15" y="167.64" font-size="10" text-anchor="end">32°N</text>
<text x="45.15" y="206.80" font-size="10" text-anchor="end">27°N</text>
<text x="45.15" y="245.95" font-size="10" text-anchor="end">22°N</text>
<clipPath id="cp4"><rect x="195.00" y="140.55" width="130.4" height="101.8"/></clipPath>
<g clip-path="url(#cp4)">
<use href="#cont" transform="translate(195.00,140.55)"/>
<g transform="translate(195.00,140.55)"><path fill="#dcf8fd" d="M19.2 9.3a1.0 1.0 0 1 0 2.0 0a1.0 1.0 0 1 0 -2.0 0M30.5 9.5a1.0 1.0 0 1 0 2.0 0a1.0 1.0 0 1 0 -2.0 0M29.2 15.8a1.0 1.0 0 1 0 2.0 0a1.0 1.0 0 1 0 -2.0 0M16.6 16.7a1.0 1.0 0 1 0 2.0 0a1.0 1.0 0 1 0 -2.0 0M58.2 16.0a1.0 1.0 0 1 0 2.0 0a1.0 1.0 0 1 0 -2.0 0M4.8 24.2a1.0 1.0 0 1 0 2.0 0a1.0 1.0 0 1 0 -2.0 0M43.5 29.4a1.0 1.0 0 1 0 2.0 0a1.0 1.0 0 1 0 -2.0 0M52.3 26.4a1.0 1.0 0 1 0 2.0 0a1.0 1.0 0 1 0 -2.0 0M54.2 38.8a1.0 1.0 0 1 0 2.0 0a1.0 1.0 0 1 0 -2.0 0M41.9 41.8a1.0 1.0 0 1 0 2.0 0a1.0 1.0 0 1 0 -2.0 0M77.0 13.4a1.0 1.0 0 1 0 2.0 0a1.0 1.0 0 1 0 -2.0 0M71.8 19.9a1.0 1.0 0 1 0 2.0 0a1.0 1.0 0 1 0 -2.0 0M90.0 17.3a1.0 1.0 0 1 0 2.0 0a1.0 1.0 0 1 0 -2.0 0M100.4 19.9a1.0 1.0 0 1 0 2.0 0a1.0 1.0 0 1 0 -2.0 0M118.6 9.5a1.0 1.0 0 1 0 2.0 0a1.0 1.0 0 1 0 -2.0 0M123.8 10.8a1.0 1.0 0 1 0 2.0 0a1.0 1.0 0 1 0 -2.0 0M116.0 43.3a1.0 1.0 0 1 0 2.0 0a1.0 1.0 0 1 0 -2.0 0M109.5 47.2a1.0 1.0 0 1 0 2.0 0a1.0 1.0 0 1 0 -2.0 0M60.1 85.9a1.0 1.0 0 1 0 2.0 0a1.0 1.0 0 1 0 -2.0 0M56.2 93.0a1.0 1.0 0 1 0 2.0 0a1.0 1.0 0 1 0 -2.0 0M74.0 2.3a1.0 1.0 0 1 0 2.0 0a1.0 1.0 0 1 0 -2.0 0M110.4 1.5a1.0 1.0 0 1 0 2.0 0a1.0 1.0 0 1 0 -2.0 0M60.7 7.3a1.0 1.0 0 1 0 2.0 0a1.0 1.0 0 1 0 -2.0 0M63.6 6.0a1.0 1.0 0 1 0 2.0 0a1.0 1.0 0 1 0 -2.0 0M98.3 13.7a1.0 1.0 0 1 0 2.0 0a1.0 1.0 0 1 0 -2.0 0M69.5 18.3a1.0 1.0 0 1 0 2.0 0a1.0 1.0 0 1 0 -2.0 0M10.2 24.0a1.0 1.0 0 1 0 2.0 0a1.0 1.0 0 1 0 -2.0 0M64.2 24.3a1.0 1.0 0 1 0 2.0 0a1.0 1.0 0 1 0 -2.0 0M82.8 24.8a1.0 1.0 0 1 0 2.0 0a1.0 1.0 0 1 0 -2.0 0M87.3 24.0a1.0 1.0 0 1 0 2.0 0a1.0 1.0 0 1 0 -2.0 0M56.7 42.7a1.0 1.0 0 1 0 2.0 0a1.0 1.0 0 1 0 -2.0 0M66.2 41.7a1.0 1.0 0 1 0 2.0 0a1.0 1.0 0 1 0 -2.0 0M72.9 47.9a1.0 1.0 0 1 0 2.0 0a1.0 1.0 0 1 0 -2.0 0M56.1 53.0a1.0 1.0 0 1 0 2.0 0a1.0 1.0 0 1 0 -2.0 0M41.4 55.4a1.0 1.0 0 1 0 2.0 0a1.0 1.0 0 1 0 -2.0 0M118.5 58.0a1.0 1.0 0 1 0 2.0 0a1.0 1.0 0 1 0 -2.0 0M78.8 64.8a1.0 1.0 0 1 0 2.0 0a1.0 1.0 0 1 0 -2.0 0M74.2 69.4a1.0 1.0 0 1 0 2.0 0a1.0 1.0 0 1 0 -2.0 0M100.8 73.7a1.0 1.0 0 1 0 2.0 0a1.0 1.0 0 1 0 -2.0 0M87.4 83.8a1.0 1.0 0 1 0 2.0 0a1.0 1.0 0 1 0 -2.0 0M57.0 88.4a1.0 1.0 0 1 0 2.0 0a1.0 1.0 0 1 0 -2.0 0M116.3 88.4a1.0 1.0 0 1 0 2.0 0a1.0 1.0 0 1 0 -2.0 0M93.7 93.8a1.0 1.0 0 1 0 2.0 0a1.0 1.0 0 1 0 -2.0 0M89.0 97.1a1.0 1.0 0 1 0 2.0 0a1.0 1.0 0 1 0 -2.0 0M102.6 97.3a1.0 1.0 0 1 0 2.0 0a1.0 1.0 0 1 0 -2.0 0"/><path fill="#fdf8d8" d="M54.9 21.2a1.0 1.0 0 1 0 2.0 0a1.0 1.0 0 1 0 -2.0 0M59.4 21.2a1.0 1.0 0 1 0 2.0 0a1.0 1.0 0 1 0 -2.0 0M57.5 27.8a1.0 1.0 0 1 0 2.0 0a1.0 1.0 0 1 0 -2.0 0M105.5 2.2a1.0 1.0 0 1 0 2.0 0a1.0 1.0 0 1 0 -2.0 0M8.8 7.2a1.0 1.0 0 1 0 2.0 0a1.0 1.0 0 1 0 -2.0 0M82.3 9.8a1.0 1.0 0 1 0 2.0 0a1.0 1.0 0 1 0 -2.0 0M51.8 14.1a1.0 1.0 0 1 0 2.0 0a1.0 1.0 0 1 0 -2.0 0M70.5 28.2a1.0 1.0 0 1 0 2.0 0a1.0 1.0 0 1 0 -2.0 0M73.3 29.3a1.0 1.0 0 1 0 2.0 0a1.0 1.0 0 1 0 -2.0 0M9.1 38.6a1.0 1.0 0 1 0 2.0 0a1.0 1.0 0 1 0 -2.0 0M74.0 42.9a1.0 1.0 0 1 0 2.0 0a1.0 1.0 0 1 0 -2.0 0M64.1 46.6a1.0 1.0 0 1 0 2.0 0a1.0 1.0 0 1 0 -2.0 0M124.1 46.0a1.0 1.0 0 1 0 2.0 0a1.0 1.0 0 1 0 -2.0 0M60.1 70.4a1.0 1.0 0 1 0 2.0 0a1.0 1.0 0 1 0 -2.0 0M88.0 76.1a1.0 1.0 0 1 0 2.0 0a1.0 1.0 0 1 0 -2.0 0M97.0 79.4a1.0 1.0 0 1 0 2.0 0a1.0 1.0 0 1 0 -2.0 0M116.5 80.4a1.0 1.0 0 1 0 2.0 0a1.0 1.0 0 1 0 -2.0 0M84.4 94.8a1.0 1.0 0 1 0 2.0 0a1.0 1.0 0 1 0 -2.0 0M93.8 96.5a1.0 1.0 0 1 0 2.0 0a1.0 1.0 0 1 0 -2.0 0"/><path fill="#fdd28f" d="M114.2 11.5a1.0 1.0 0 1 0 2.0 0a1.0 1.0 0 1 0 -2.0 0M110.8 24.2a1.0 1.0 0 1 0 2.0 0a1.0 1.0 0 1 0 -2.0 0M106.3 50.8a1.0 1.0 0 1 0 2.0 0a1.0 1.0 0 1 0 -2.0 0M111.3 50.9a1.0 1.0 0 1 0 2.0 0a1.0 1.0 0 1 0 -2.0 0M54.7 60.6a1.0 1.0 0 1 0 2.0 0a1.0 1.0 0 1 0 -2.0 0M121.2 74.5a1.0 1.0 0 1 0 2.0 0a1.0 1.0 0 1 0 -2.0 0M68.5 90.2a1.0 1.0 0 1 0 2.0 0a1.0 1.0 0 1 0 -2.0 0M42.4 92.3a1.0 1.0 0 1 0 2.0 0a1.0 1.0 0 1 0 -2.0 0M100.7 93.1a1.0 1.0 0 1 0 2.0 0a1.0 1.0 0 1 0 -2.0 0M42.1 98.6a1.0 1.0 0 1 0 2.0 0a1.0 1.0 0 1 0 -2.0 0M60.8 97.7a1.0 1.0 0 1 0 2.0 0a1.0 1.0 0 1 0 -2.0 0"/><path fill="#80d3f7" d="M54.2 4.3a1.0 1.0 0 1 0 2.0 0a1.0 1.0 0 1 0 -2.0 0M25.7 21.9a1.0 1.0 0 1 0 2.0 0a1.0 1.0 0 1 0 -2.0 0M3.9 27.5a1.0 1.0 0 1 0 2.0 0a1.0 1.0 0 1 0 -2.0 0M26.6 29.4a1.0 1.0 0 1 0 2.0 0a1.0 1.0 0 1 0 -2.0 0M54.9 31.6a1.0 1.0 0 1 0 2.0 0a1.0 1.0 0 1 0 -2.0 0M61.1 31.4a1.0 1.0 0 1 0 2.0 0a1.0 1.0 0 1 0 -2.0 0M20.1 33.3a1.0 1.0 0 1 0 2.0 0a1.0 1.0 0 1 0 -2.0 0M28.2 38.8a1.0 1.0 0 1 0 2.0 0a1.0 1.0 0 1 0 -2.0 0M36.1 41.8a1.0 1.0 0 1 0 2.0 0a1.0 1.0 0 1 0 -2.0 0M45.8 39.1a1.0 1.0 0 1 0 2.0 0a1.0 1.0 0 1 0 -2.0 0M43.8 50.5a1.0 1.0 0 1 0 2.0 0a1.0 1.0 0 1 0 -2.0 0M47.1 49.2a1.0 1.0 0 1 0 2.0 0a1.0 1.0 0 1 0 -2.0 0M51.0 47.2a1.0 1.0 0 1 0 2.0 0a1.0 1.0 0 1 0 -2.0 0M54.9 46.2a1.0 1.0 0 1 0 2.0 0a1.0 1.0 0 1 0 -2.0 0M63.4 12.1a1.0 1.0 0 1 0 2.0 0a1.0 1.0 0 1 0 -2.0 0M86.8 1.1a1.0 1.0 0 1 0 2.0 0a1.0 1.0 0 1 0 -2.0 0M93.2 1.8a1.0 1.0 0 1 0 2.0 0a1.0 1.0 0 1 0 -2.0 0M96.5 1.5a1.0 1.0 0 1 0 2.0 0a1.0 1.0 0 1 0 -2.0 0M99.1 1.8a1.0 1.0 0 1 0 2.0 0a1.0 1.0 0 1 0 -2.0 0M108.2 5.0a1.0 1.0 0 1 0 2.0 0a1.0 1.0 0 1 0 -2.0 0M112.8 5.0a1.0 1.0 0 1 0 2.0 0a1.0 1.0 0 1 0 -2.0 0M83.5 6.9a1.0 1.0 0 1 0 2.0 0a1.0 1.0 0 1 0 -2.0 0M86.1 8.9a1.0 1.0 0 1 0 2.0 0a1.0 1.0 0 1 0 -2.0 0M91.9 6.3a1.0 1.0 0 1 0 2.0 0a1.0 1.0 0 1 0 -2.0 0M97.1 9.5a1.0 1.0 0 1 0 2.0 0a1.0 1.0 0 1 0 -2.0 0M99.1 8.9a1.0 1.0 0 1 0 2.0 0a1.0 1.0 0 1 0 -2.0 0M101.7 8.2a1.0 1.0 0 1 0 2.0 0a1.0 1.0 0 1 0 -2.0 0M110.8 14.1a1.0 1.0 0 1 0 2.0 0a1.0 1.0 0 1 0 -2.0 0M113.4 19.3a1.0 1.0 0 1 0 2.0 0a1.0 1.0 0 1 0 -2.0 0M91.9 26.4a1.0 1.0 0 1 0 2.0 0a1.0 1.0 0 1 0 -2.0 0M94.6 21.2a1.0 1.0 0 1 0 2.0 0a1.0 1.0 0 1 0 -2.0 0M106.9 26.4a1.0 1.0 0 1 0 2.0 0a1.0 1.0 0 1 0 -2.0 0M99.1 28.4a1.0 1.0 0 1 0 2.0 0a1.0 1.0 0 1 0 -2.0 0M93.2 43.3a1.0 1.0 0 1 0 2.0 0a1.0 1.0 0 1 0 -2.0 0M81.6 33.6a1.0 1.0 0 1 0 2.0 0a1.0 1.0 0 1 0 -2.0 0M86.1 42.7a1.0 1.0 0 1 0 2.0 0a1.0 1.0 0 1 0 -2.0 0M103.0 45.9a1.0 1.0 0 1 0 2.0 0a1.0 1.0 0 1 0 -2.0 0M105.6 44.0a1.0 1.0 0 1 0 2.0 0a1.0 1.0 0 1 0 -2.0 0M125.1 43.3a1.0 1.0 0 1 0 2.0 0a1.0 1.0 0 1 0 -2.0 0M66.6 31.6a1.0 1.0 0 1 0 2.0 0a1.0 1.0 0 1 0 -2.0 0M69.2 24.5a1.0 1.0 0 1 0 2.0 0a1.0 1.0 0 1 0 -2.0 0M69.9 31.6a1.0 1.0 0 1 0 2.0 0a1.0 1.0 0 1 0 -2.0 0M71.8 36.8a1.0 1.0 0 1 0 2.0 0a1.0 1.0 0 1 0 -2.0 0M50.3 54.3a1.0 1.0 0 1 0 2.0 0a1.0 1.0 0 1 0 -2.0 0M51.0 56.0a1.0 1.0 0 1 0 2.0 0a1.0 1.0 0 1 0 -2.0 0M43.8 51.7a1.0 1.0 0 1 0 2.0 0a1.0 1.0 0 1 0 -2.0 0M58.8 60.5a1.0 1.0 0 1 0 2.0 0a1.0 1.0 0 1 0 -2.0 0M47.1 61.2a1.0 1.0 0 1 0 2.0 0a1.0 1.0 0 1 0 -2.0 0M51.0 67.7a1.0 1.0 0 1 0 2.0 0a1.0 1.0 0 1 0 -2.0 0M53.6 69.0a1.0 1.0 0 1 0 2.0 0a1.0 1.0 0 1 0 -2.0 0M52.9 72.9a1.0 1.0 0 1 0 2.0 0a1.0 1.0 0 1 0 -2.0 0M49.1 74.6a1.0 1.0 0 1 0 2.0 0a1.0 1.0 0 1 0 -2.0 0M36.7 80.0a1.0 1.0 0 1 0 2.0 0a1.0 1.0 0 1 0 -2.0 0M39.3 79.4a1.0 1.0 0 1 0 2.0 0a1.0 1.0 0 1 0 -2.0 0M41.2 78.8a1.0 1.0 0 1 0 2.0 0a1.0 1.0 0 1 0 -2.0 0M45.8 77.4a1.0 1.0 0 1 0 2.0 0a1.0 1.0 0 1 0 -2.0 0M49.1 79.4a1.0 1.0 0 1 0 2.0 0a1.0 1.0 0 1 0 -2.0 0M51.7 81.3a1.0 1.0 0 1 0 2.0 0a1.0 1.0 0 1 0 -2.0 0M52.9 82.6a1.0 1.0 0 1 0 2.0 0a1.0 1.0 0 1 0 -2.0 0M58.8 82.4a1.0 1.0 0 1 0 2.0 0a1.0 1.0 0 1 0 -2.0 0M35.4 85.9a1.0 1.0 0 1 0 2.0 0a1.0 1.0 0 1 0 -2.0 0M43.8 87.8a1.0 1.0 0 1 0 2.0 0a1.0 1.0 0 1 0 -2.0 0M47.1 85.9a1.0 1.0 0 1 0 2.0 0a1.0 1.0 0 1 0 -2.0 0M48.4 89.1a1.0 1.0 0 1 0 2.0 0a1.0 1.0 0 1 0 -2.0 0M51.0 89.8a1.0 1.0 0 1 0 2.0 0a1.0 1.0 0 1 0 -2.0 0M47.1 92.4a1.0 1.0 0 1 0 2.0 0a1.0 1.0 0 1 0 -2.0 0M51.7 96.9a1.0 1.0 0 1 0 2.0 0a1.0 1.0 0 1 0 -2.0 0M80.2 53.0a1.0 1.0 0 1 0 2.0 0a1.0 1.0 0 1 0 -2.0 0M82.9 57.3a1.0 1.0 0 1 0 2.0 0a1.0 1.0 0 1 0 -2.0 0M77.0 69.6a1.0 1.0 0 1 0 2.0 0a1.0 1.0 0 1 0 -2.0 0M82.9 97.6a1.0 1.0 0 1 0 2.0 0a1.0 1.0 0 1 0 -2.0 0M123.8 81.3a1.0 1.0 0 1 0 2.0 0a1.0 1.0 0 1 0 -2.0 0M126.4 70.9a1.0 1.0 0 1 0 2.0 0a1.0 1.0 0 1 0 -2.0 0M114.7 85.9a1.0 1.0 0 1 0 2.0 0a1.0 1.0 0 1 0 -2.0 0M106.2 87.2a1.0 1.0 0 1 0 2.0 0a1.0 1.0 0 1 0 -2.0 0M125.1 90.4a1.0 1.0 0 1 0 2.0 0a1.0 1.0 0 1 0 -2.0 0M121.2 64.4a1.0 1.0 0 1 0 2.0 0a1.0 1.0 0 1 0 -2.0 0M126.4 61.8a1.0 1.0 0 1 0 2.0 0a1.0 1.0 0 1 0 -2.0 0M127.7 64.4a1.0 1.0 0 1 0 2.0 0a1.0 1.0 0 1 0 -2.0 0"/><path fill="#fdbb84" d="M20.4 6.7a1.0 1.0 0 1 0 2.0 0a1.0 1.0 0 1 0 -2.0 0M50.0 9.8a1.0 1.0 0 1 0 2.0 0a1.0 1.0 0 1 0 -2.0 0M116.0 3.7a1.0 1.0 0 1 0 2.0 0a1.0 1.0 0 1 0 -2.0 0M117.3 5.0a1.0 1.0 0 1 0 2.0 0a1.0 1.0 0 1 0 -2.0 0M95.2 12.8a1.0 1.0 0 1 0 2.0 0a1.0 1.0 0 1 0 -2.0 0M103.0 14.1a1.0 1.0 0 1 0 2.0 0a1.0 1.0 0 1 0 -2.0 0M121.2 18.0a1.0 1.0 0 1 0 2.0 0a1.0 1.0 0 1 0 -2.0 0M123.8 16.7a1.0 1.0 0 1 0 2.0 0a1.0 1.0 0 1 0 -2.0 0M117.9 19.3a1.0 1.0 0 1 0 2.0 0a1.0 1.0 0 1 0 -2.0 0M121.2 25.1a1.0 1.0 0 1 0 2.0 0a1.0 1.0 0 1 0 -2.0 0M116.0 23.2a1.0 1.0 0 1 0 2.0 0a1.0 1.0 0 1 0 -2.0 0M77.6 45.9a1.0 1.0 0 1 0 2.0 0a1.0 1.0 0 1 0 -2.0 0M105.6 35.5a1.0 1.0 0 1 0 2.0 0a1.0 1.0 0 1 0 -2.0 0M108.2 31.6a1.0 1.0 0 1 0 2.0 0a1.0 1.0 0 1 0 -2.0 0M116.0 30.3a1.0 1.0 0 1 0 2.0 0a1.0 1.0 0 1 0 -2.0 0M119.2 31.6a1.0 1.0 0 1 0 2.0 0a1.0 1.0 0 1 0 -2.0 0M116.6 36.8a1.0 1.0 0 1 0 2.0 0a1.0 1.0 0 1 0 -2.0 0M113.4 39.4a1.0 1.0 0 1 0 2.0 0a1.0 1.0 0 1 0 -2.0 0M119.9 42.0a1.0 1.0 0 1 0 2.0 0a1.0 1.0 0 1 0 -2.0 0M125.1 35.5a1.0 1.0 0 1 0 2.0 0a1.0 1.0 0 1 0 -2.0 0M125.1 39.4a1.0 1.0 0 1 0 2.0 0a1.0 1.0 0 1 0 -2.0 0M123.1 31.6a1.0 1.0 0 1 0 2.0 0a1.0 1.0 0 1 0 -2.0 0M108.9 42.0a1.0 1.0 0 1 0 2.0 0a1.0 1.0 0 1 0 -2.0 0M121.2 45.9a1.0 1.0 0 1 0 2.0 0a1.0 1.0 0 1 0 -2.0 0M49.7 96.3a1.0 1.0 0 1 0 2.0 0a1.0 1.0 0 1 0 -2.0 0M85.4 53.4a1.0 1.0 0 1 0 2.0 0a1.0 1.0 0 1 0 -2.0 0M89.4 53.0a1.0 1.0 0 1 0 2.0 0a1.0 1.0 0 1 0 -2.0 0M96.5 52.8a1.0 1.0 0 1 0 2.0 0a1.0 1.0 0 1 0 -2.0 0M99.1 52.8a1.0 1.0 0 1 0 2.0 0a1.0 1.0 0 1 0 -2.0 0M109.5 56.0a1.0 1.0 0 1 0 2.0 0a1.0 1.0 0 1 0 -2.0 0M113.4 52.8a1.0 1.0 0 1 0 2.0 0a1.0 1.0 0 1 0 -2.0 0M121.2 54.0a1.0 1.0 0 1 0 2.0 0a1.0 1.0 0 1 0 -2.0 0M126.4 54.7a1.0 1.0 0 1 0 2.0 0a1.0 1.0 0 1 0 -2.0 0M109.5 61.8a1.0 1.0 0 1 0 2.0 0a1.0 1.0 0 1 0 -2.0 0M114.1 60.5a1.0 1.0 0 1 0 2.0 0a1.0 1.0 0 1 0 -2.0 0M117.3 61.8a1.0 1.0 0 1 0 2.0 0a1.0 1.0 0 1 0 -2.0 0M121.2 60.5a1.0 1.0 0 1 0 2.0 0a1.0 1.0 0 1 0 -2.0 0M125.1 59.2a1.0 1.0 0 1 0 2.0 0a1.0 1.0 0 1 0 -2.0 0M99.1 76.8a1.0 1.0 0 1 0 2.0 0a1.0 1.0 0 1 0 -2.0 0M80.9 93.7a1.0 1.0 0 1 0 2.0 0a1.0 1.0 0 1 0 -2.0 0M77.0 79.4a1.0 1.0 0 1 0 2.0 0a1.0 1.0 0 1 0 -2.0 0M101.7 82.6a1.0 1.0 0 1 0 2.0 0a1.0 1.0 0 1 0 -2.0 0M100.4 83.9a1.0 1.0 0 1 0 2.0 0a1.0 1.0 0 1 0 -2.0 0M103.0 80.0a1.0 1.0 0 1 0 2.0 0a1.0 1.0 0 1 0 -2.0 0M106.9 78.8a1.0 1.0 0 1 0 2.0 0a1.0 1.0 0 1 0 -2.0 0M110.1 78.1a1.0 1.0 0 1 0 2.0 0a1.0 1.0 0 1 0 -2.0 0M113.4 80.7a1.0 1.0 0 1 0 2.0 0a1.0 1.0 0 1 0 -2.0 0M116.0 76.8a1.0 1.0 0 1 0 2.0 0a1.0 1.0 0 1 0 -2.0 0M119.9 79.4a1.0 1.0 0 1 0 2.0 0a1.0 1.0 0 1 0 -2.0 0M125.1 83.3a1.0 1.0 0 1 0 2.0 0a1.0 1.0 0 1 0 -2.0 0M123.1 65.8a1.0 1.0 0 1 0 2.0 0a1.0 1.0 0 1 0 -2.0 0M119.9 86.5a1.0 1.0 0 1 0 2.0 0a1.0 1.0 0 1 0 -2.0 0M103.0 87.8a1.0 1.0 0 1 0 2.0 0a1.0 1.0 0 1 0 -2.0 0M110.8 90.4a1.0 1.0 0 1 0 2.0 0a1.0 1.0 0 1 0 -2.0 0M116.0 91.8a1.0 1.0 0 1 0 2.0 0a1.0 1.0 0 1 0 -2.0 0M118.6 94.3a1.0 1.0 0 1 0 2.0 0a1.0 1.0 0 1 0 -2.0 0M122.5 93.0a1.0 1.0 0 1 0 2.0 0a1.0 1.0 0 1 0 -2.0 0M117.3 96.3a1.0 1.0 0 1 0 2.0 0a1.0 1.0 0 1 0 -2.0 0M122.5 96.9a1.0 1.0 0 1 0 2.0 0a1.0 1.0 0 1 0 -2.0 0M114.1 100.2a1.0 1.0 0 1 0 2.0 0a1.0 1.0 0 1 0 -2.0 0M121.2 100.8a1.0 1.0 0 1 0 2.0 0a1.0 1.0 0 1 0 -2.0 0"/><path fill="#3c8af4" d="M41.6 24.9a1.0 1.0 0 1 0 2.0 0a1.0 1.0 0 1 0 -2.0 0M30.8 30.3a1.0 1.0 0 1 0 2.0 0a1.0 1.0 0 1 0 -2.0 0M9.4 41.8a1.0 1.0 0 1 0 2.0 0a1.0 1.0 0 1 0 -2.0 0M68.6 7.6a1.0 1.0 0 1 0 2.0 0a1.0 1.0 0 1 0 -2.0 0M105.6 14.8a1.0 1.0 0 1 0 2.0 0a1.0 1.0 0 1 0 -2.0 0M77.0 27.8a1.0 1.0 0 1 0 2.0 0a1.0 1.0 0 1 0 -2.0 0M86.8 28.4a1.0 1.0 0 1 0 2.0 0a1.0 1.0 0 1 0 -2.0 0M97.8 25.1a1.0 1.0 0 1 0 2.0 0a1.0 1.0 0 1 0 -2.0 0M104.3 24.5a1.0 1.0 0 1 0 2.0 0a1.0 1.0 0 1 0 -2.0 0M84.1 38.1a1.0 1.0 0 1 0 2.0 0a1.0 1.0 0 1 0 -2.0 0M69.9 39.4a1.0 1.0 0 1 0 2.0 0a1.0 1.0 0 1 0 -2.0 0M70.5 44.6a1.0 1.0 0 1 0 2.0 0a1.0 1.0 0 1 0 -2.0 0M82.2 47.9a1.0 1.0 0 1 0 2.0 0a1.0 1.0 0 1 0 -2.0 0M62.1 55.3a1.0 1.0 0 1 0 2.0 0a1.0 1.0 0 1 0 -2.0 0M63.4 59.2a1.0 1.0 0 1 0 2.0 0a1.0 1.0 0 1 0 -2.0 0M62.7 64.4a1.0 1.0 0 1 0 2.0 0a1.0 1.0 0 1 0 -2.0 0M52.3 65.8a1.0 1.0 0 1 0 2.0 0a1.0 1.0 0 1 0 -2.0 0M47.8 70.9a1.0 1.0 0 1 0 2.0 0a1.0 1.0 0 1 0 -2.0 0M51.7 72.2a1.0 1.0 0 1 0 2.0 0a1.0 1.0 0 1 0 -2.0 0M56.2 71.6a1.0 1.0 0 1 0 2.0 0a1.0 1.0 0 1 0 -2.0 0M59.4 73.5a1.0 1.0 0 1 0 2.0 0a1.0 1.0 0 1 0 -2.0 0M62.1 72.9a1.0 1.0 0 1 0 2.0 0a1.0 1.0 0 1 0 -2.0 0M62.7 76.1a1.0 1.0 0 1 0 2.0 0a1.0 1.0 0 1 0 -2.0 0M56.2 78.1a1.0 1.0 0 1 0 2.0 0a1.0 1.0 0 1 0 -2.0 0M53.6 86.5a1.0 1.0 0 1 0 2.0 0a1.0 1.0 0 1 0 -2.0 0M61.4 100.8a1.0 1.0 0 1 0 2.0 0a1.0 1.0 0 1 0 -2.0 0M65.3 52.1a1.0 1.0 0 1 0 2.0 0a1.0 1.0 0 1 0 -2.0 0M69.9 52.1a1.0 1.0 0 1 0 2.0 0a1.0 1.0 0 1 0 -2.0 0M76.4 52.1a1.0 1.0 0 1 0 2.0 0a1.0 1.0 0 1 0 -2.0 0M66.6 56.6a1.0 1.0 0 1 0 2.0 0a1.0 1.0 0 1 0 -2.0 0M70.5 56.0a1.0 1.0 0 1 0 2.0 0a1.0 1.0 0 1 0 -2.0 0M73.8 57.3a1.0 1.0 0 1 0 2.0 0a1.0 1.0 0 1 0 -2.0 0M77.6 57.3a1.0 1.0 0 1 0 2.0 0a1.0 1.0 0 1 0 -2.0 0M90.0 59.2a1.0 1.0 0 1 0 2.0 0a1.0 1.0 0 1 0 -2.0 0M106.9 59.2a1.0 1.0 0 1 0 2.0 0a1.0 1.0 0 1 0 -2.0 0M65.9 60.5a1.0 1.0 0 1 0 2.0 0a1.0 1.0 0 1 0 -2.0 0M69.2 59.2a1.0 1.0 0 1 0 2.0 0a1.0 1.0 0 1 0 -2.0 0M72.4 61.2a1.0 1.0 0 1 0 2.0 0a1.0 1.0 0 1 0 -2.0 0M65.9 64.4a1.0 1.0 0 1 0 2.0 0a1.0 1.0 0 1 0 -2.0 0M70.5 64.4a1.0 1.0 0 1 0 2.0 0a1.0 1.0 0 1 0 -2.0 0M72.4 65.1a1.0 1.0 0 1 0 2.0 0a1.0 1.0 0 1 0 -2.0 0M77.0 67.0a1.0 1.0 0 1 0 2.0 0a1.0 1.0 0 1 0 -2.0 0M66.6 69.6a1.0 1.0 0 1 0 2.0 0a1.0 1.0 0 1 0 -2.0 0M65.3 72.2a1.0 1.0 0 1 0 2.0 0a1.0 1.0 0 1 0 -2.0 0M71.1 75.5a1.0 1.0 0 1 0 2.0 0a1.0 1.0 0 1 0 -2.0 0M83.5 68.3a1.0 1.0 0 1 0 2.0 0a1.0 1.0 0 1 0 -2.0 0M86.8 72.2a1.0 1.0 0 1 0 2.0 0a1.0 1.0 0 1 0 -2.0 0M90.0 65.1a1.0 1.0 0 1 0 2.0 0a1.0 1.0 0 1 0 -2.0 0M114.1 67.0a1.0 1.0 0 1 0 2.0 0a1.0 1.0 0 1 0 -2.0 0M69.2 80.0a1.0 1.0 0 1 0 2.0 0a1.0 1.0 0 1 0 -2.0 0M74.4 84.6a1.0 1.0 0 1 0 2.0 0a1.0 1.0 0 1 0 -2.0 0M67.9 83.9a1.0 1.0 0 1 0 2.0 0a1.0 1.0 0 1 0 -2.0 0M70.5 88.5a1.0 1.0 0 1 0 2.0 0a1.0 1.0 0 1 0 -2.0 0M103.0 91.1a1.0 1.0 0 1 0 2.0 0a1.0 1.0 0 1 0 -2.0 0"/><path fill="#ee2531" d="M113.4 5.6a1.0 1.0 0 1 0 2.0 0a1.0 1.0 0 1 0 -2.0 0M127.7 5.0a1.0 1.0 0 1 0 2.0 0a1.0 1.0 0 1 0 -2.0 0M125.1 23.8a1.0 1.0 0 1 0 2.0 0a1.0 1.0 0 1 0 -2.0 0M84.8 49.2a1.0 1.0 0 1 0 2.0 0a1.0 1.0 0 1 0 -2.0 0M110.1 29.0a1.0 1.0 0 1 0 2.0 0a1.0 1.0 0 1 0 -2.0 0M112.1 32.9a1.0 1.0 0 1 0 2.0 0a1.0 1.0 0 1 0 -2.0 0M79.6 61.2a1.0 1.0 0 1 0 2.0 0a1.0 1.0 0 1 0 -2.0 0M91.3 56.0a1.0 1.0 0 1 0 2.0 0a1.0 1.0 0 1 0 -2.0 0M101.7 56.6a1.0 1.0 0 1 0 2.0 0a1.0 1.0 0 1 0 -2.0 0M76.4 74.8a1.0 1.0 0 1 0 2.0 0a1.0 1.0 0 1 0 -2.0 0M84.8 79.4a1.0 1.0 0 1 0 2.0 0a1.0 1.0 0 1 0 -2.0 0M82.2 79.4a1.0 1.0 0 1 0 2.0 0a1.0 1.0 0 1 0 -2.0 0M80.2 78.1a1.0 1.0 0 1 0 2.0 0a1.0 1.0 0 1 0 -2.0 0M71.8 80.7a1.0 1.0 0 1 0 2.0 0a1.0 1.0 0 1 0 -2.0 0M66.6 86.5a1.0 1.0 0 1 0 2.0 0a1.0 1.0 0 1 0 -2.0 0M73.8 90.4a1.0 1.0 0 1 0 2.0 0a1.0 1.0 0 1 0 -2.0 0M64.6 90.4a1.0 1.0 0 1 0 2.0 0a1.0 1.0 0 1 0 -2.0 0M71.1 93.7a1.0 1.0 0 1 0 2.0 0a1.0 1.0 0 1 0 -2.0 0M80.9 82.0a1.0 1.0 0 1 0 2.0 0a1.0 1.0 0 1 0 -2.0 0M97.1 90.4a1.0 1.0 0 1 0 2.0 0a1.0 1.0 0 1 0 -2.0 0M106.9 95.6a1.0 1.0 0 1 0 2.0 0a1.0 1.0 0 1 0 -2.0 0"/><path fill="#a8072e" d="M38.7 0.7a1.0 1.0 0 1 0 2.0 0a1.0 1.0 0 1 0 -2.0 0M51.7 8.2a1.0 1.0 0 1 0 2.0 0a1.0 1.0 0 1 0 -2.0 0M118.6 3.0a1.0 1.0 0 1 0 2.0 0a1.0 1.0 0 1 0 -2.0 0M121.2 2.0a1.0 1.0 0 1 0 2.0 0a1.0 1.0 0 1 0 -2.0 0M123.1 5.0a1.0 1.0 0 1 0 2.0 0a1.0 1.0 0 1 0 -2.0 0M125.1 3.7a1.0 1.0 0 1 0 2.0 0a1.0 1.0 0 1 0 -2.0 0M97.1 31.6a1.0 1.0 0 1 0 2.0 0a1.0 1.0 0 1 0 -2.0 0M93.2 32.3a1.0 1.0 0 1 0 2.0 0a1.0 1.0 0 1 0 -2.0 0M99.1 31.0a1.0 1.0 0 1 0 2.0 0a1.0 1.0 0 1 0 -2.0 0M101.7 31.0a1.0 1.0 0 1 0 2.0 0a1.0 1.0 0 1 0 -2.0 0M103.0 31.0a1.0 1.0 0 1 0 2.0 0a1.0 1.0 0 1 0 -2.0 0M95.9 34.9a1.0 1.0 0 1 0 2.0 0a1.0 1.0 0 1 0 -2.0 0M95.2 35.5a1.0 1.0 0 1 0 2.0 0a1.0 1.0 0 1 0 -2.0 0M99.8 33.6a1.0 1.0 0 1 0 2.0 0a1.0 1.0 0 1 0 -2.0 0M97.8 35.5a1.0 1.0 0 1 0 2.0 0a1.0 1.0 0 1 0 -2.0 0M103.0 34.9a1.0 1.0 0 1 0 2.0 0a1.0 1.0 0 1 0 -2.0 0M100.4 37.5a1.0 1.0 0 1 0 2.0 0a1.0 1.0 0 1 0 -2.0 0M96.5 37.5a1.0 1.0 0 1 0 2.0 0a1.0 1.0 0 1 0 -2.0 0M91.3 42.0a1.0 1.0 0 1 0 2.0 0a1.0 1.0 0 1 0 -2.0 0M93.9 40.8a1.0 1.0 0 1 0 2.0 0a1.0 1.0 0 1 0 -2.0 0M97.8 40.1a1.0 1.0 0 1 0 2.0 0a1.0 1.0 0 1 0 -2.0 0M95.2 44.6a1.0 1.0 0 1 0 2.0 0a1.0 1.0 0 1 0 -2.0 0M90.0 44.6a1.0 1.0 0 1 0 2.0 0a1.0 1.0 0 1 0 -2.0 0M90.6 45.9a1.0 1.0 0 1 0 2.0 0a1.0 1.0 0 1 0 -2.0 0M87.4 48.5a1.0 1.0 0 1 0 2.0 0a1.0 1.0 0 1 0 -2.0 0M91.3 49.2a1.0 1.0 0 1 0 2.0 0a1.0 1.0 0 1 0 -2.0 0M82.2 34.9a1.0 1.0 0 1 0 2.0 0a1.0 1.0 0 1 0 -2.0 0M80.9 35.5a1.0 1.0 0 1 0 2.0 0a1.0 1.0 0 1 0 -2.0 0M78.3 39.4a1.0 1.0 0 1 0 2.0 0a1.0 1.0 0 1 0 -2.0 0M80.2 42.0a1.0 1.0 0 1 0 2.0 0a1.0 1.0 0 1 0 -2.0 0M81.6 42.7a1.0 1.0 0 1 0 2.0 0a1.0 1.0 0 1 0 -2.0 0M78.9 42.7a1.0 1.0 0 1 0 2.0 0a1.0 1.0 0 1 0 -2.0 0M101.7 39.4a1.0 1.0 0 1 0 2.0 0a1.0 1.0 0 1 0 -2.0 0M108.9 36.2a1.0 1.0 0 1 0 2.0 0a1.0 1.0 0 1 0 -2.0 0M114.1 35.5a1.0 1.0 0 1 0 2.0 0a1.0 1.0 0 1 0 -2.0 0M126.4 28.4a1.0 1.0 0 1 0 2.0 0a1.0 1.0 0 1 0 -2.0 0M60.1 95.0a1.0 1.0 0 1 0 2.0 0a1.0 1.0 0 1 0 -2.0 0M104.3 53.4a1.0 1.0 0 1 0 2.0 0a1.0 1.0 0 1 0 -2.0 0M106.9 54.7a1.0 1.0 0 1 0 2.0 0a1.0 1.0 0 1 0 -2.0 0M80.9 59.9a1.0 1.0 0 1 0 2.0 0a1.0 1.0 0 1 0 -2.0 0M93.2 60.5a1.0 1.0 0 1 0 2.0 0a1.0 1.0 0 1 0 -2.0 0M95.9 61.2a1.0 1.0 0 1 0 2.0 0a1.0 1.0 0 1 0 -2.0 0M99.1 58.6a1.0 1.0 0 1 0 2.0 0a1.0 1.0 0 1 0 -2.0 0M103.0 61.2a1.0 1.0 0 1 0 2.0 0a1.0 1.0 0 1 0 -2.0 0M105.6 61.8a1.0 1.0 0 1 0 2.0 0a1.0 1.0 0 1 0 -2.0 0M91.9 71.6a1.0 1.0 0 1 0 2.0 0a1.0 1.0 0 1 0 -2.0 0M93.2 67.7a1.0 1.0 0 1 0 2.0 0a1.0 1.0 0 1 0 -2.0 0M95.9 67.7a1.0 1.0 0 1 0 2.0 0a1.0 1.0 0 1 0 -2.0 0M94.6 64.4a1.0 1.0 0 1 0 2.0 0a1.0 1.0 0 1 0 -2.0 0M97.1 65.1a1.0 1.0 0 1 0 2.0 0a1.0 1.0 0 1 0 -2.0 0M98.4 67.7a1.0 1.0 0 1 0 2.0 0a1.0 1.0 0 1 0 -2.0 0M100.4 66.4a1.0 1.0 0 1 0 2.0 0a1.0 1.0 0 1 0 -2.0 0M101.7 64.4a1.0 1.0 0 1 0 2.0 0a1.0 1.0 0 1 0 -2.0 0M103.0 61.8a1.0 1.0 0 1 0 2.0 0a1.0 1.0 0 1 0 -2.0 0M103.6 65.8a1.0 1.0 0 1 0 2.0 0a1.0 1.0 0 1 0 -2.0 0M102.4 67.7a1.0 1.0 0 1 0 2.0 0a1.0 1.0 0 1 0 -2.0 0M101.1 69.6a1.0 1.0 0 1 0 2.0 0a1.0 1.0 0 1 0 -2.0 0M104.9 64.4a1.0 1.0 0 1 0 2.0 0a1.0 1.0 0 1 0 -2.0 0M105.6 68.3a1.0 1.0 0 1 0 2.0 0a1.0 1.0 0 1 0 -2.0 0M106.9 67.0a1.0 1.0 0 1 0 2.0 0a1.0 1.0 0 1 0 -2.0 0M108.2 65.1a1.0 1.0 0 1 0 2.0 0a1.0 1.0 0 1 0 -2.0 0M109.5 71.6a1.0 1.0 0 1 0 2.0 0a1.0 1.0 0 1 0 -2.0 0M112.1 68.3a1.0 1.0 0 1 0 2.0 0a1.0 1.0 0 1 0 -2.0 0M112.8 70.3a1.0 1.0 0 1 0 2.0 0a1.0 1.0 0 1 0 -2.0 0M110.8 63.1a1.0 1.0 0 1 0 2.0 0a1.0 1.0 0 1 0 -2.0 0M95.2 70.3a1.0 1.0 0 1 0 2.0 0a1.0 1.0 0 1 0 -2.0 0M93.9 71.6a1.0 1.0 0 1 0 2.0 0a1.0 1.0 0 1 0 -2.0 0M91.9 74.8a1.0 1.0 0 1 0 2.0 0a1.0 1.0 0 1 0 -2.0 0M95.2 75.5a1.0 1.0 0 1 0 2.0 0a1.0 1.0 0 1 0 -2.0 0M94.6 77.4a1.0 1.0 0 1 0 2.0 0a1.0 1.0 0 1 0 -2.0 0M97.8 74.2a1.0 1.0 0 1 0 2.0 0a1.0 1.0 0 1 0 -2.0 0M104.3 74.8a1.0 1.0 0 1 0 2.0 0a1.0 1.0 0 1 0 -2.0 0M93.9 79.4a1.0 1.0 0 1 0 2.0 0a1.0 1.0 0 1 0 -2.0 0M91.3 85.2a1.0 1.0 0 1 0 2.0 0a1.0 1.0 0 1 0 -2.0 0M88.1 90.4a1.0 1.0 0 1 0 2.0 0a1.0 1.0 0 1 0 -2.0 0M88.7 92.4a1.0 1.0 0 1 0 2.0 0a1.0 1.0 0 1 0 -2.0 0M85.4 89.1a1.0 1.0 0 1 0 2.0 0a1.0 1.0 0 1 0 -2.0 0M78.3 78.8a1.0 1.0 0 1 0 2.0 0a1.0 1.0 0 1 0 -2.0 0M76.4 79.4a1.0 1.0 0 1 0 2.0 0a1.0 1.0 0 1 0 -2.0 0M73.1 78.8a1.0 1.0 0 1 0 2.0 0a1.0 1.0 0 1 0 -2.0 0M73.8 83.9a1.0 1.0 0 1 0 2.0 0a1.0 1.0 0 1 0 -2.0 0M74.4 88.5a1.0 1.0 0 1 0 2.0 0a1.0 1.0 0 1 0 -2.0 0M77.0 89.8a1.0 1.0 0 1 0 2.0 0a1.0 1.0 0 1 0 -2.0 0M66.6 96.3a1.0 1.0 0 1 0 2.0 0a1.0 1.0 0 1 0 -2.0 0M121.2 69.6a1.0 1.0 0 1 0 2.0 0a1.0 1.0 0 1 0 -2.0 0M104.3 94.3a1.0 1.0 0 1 0 2.0 0a1.0 1.0 0 1 0 -2.0 0M105.6 98.9a1.0 1.0 0 1 0 2.0 0a1.0 1.0 0 1 0 -2.0 0M109.5 98.2a1.0 1.0 0 1 0 2.0 0a1.0 1.0 0 1 0 -2.0 0M125.1 100.2a1.0 1.0 0 1 0 2.0 0a1.0 1.0 0 1 0 -2.0 0"/><path fill="#2412d8" d="M37.7 16.0a1.0 1.0 0 1 0 2.0 0a1.0 1.0 0 1 0 -2.0 0M18.8 28.1a1.0 1.0 0 1 0 2.0 0a1.0 1.0 0 1 0 -2.0 0M0.6 34.0a1.0 1.0 0 1 0 2.0 0a1.0 1.0 0 1 0 -2.0 0M8.1 45.3a1.0 1.0 0 1 0 2.0 0a1.0 1.0 0 1 0 -2.0 0M87.4 27.1a1.0 1.0 0 1 0 2.0 0a1.0 1.0 0 1 0 -2.0 0M88.7 27.8a1.0 1.0 0 1 0 2.0 0a1.0 1.0 0 1 0 -2.0 0M101.7 27.1a1.0 1.0 0 1 0 2.0 0a1.0 1.0 0 1 0 -2.0 0M93.9 29.0a1.0 1.0 0 1 0 2.0 0a1.0 1.0 0 1 0 -2.0 0M91.3 36.8a1.0 1.0 0 1 0 2.0 0a1.0 1.0 0 1 0 -2.0 0M88.1 38.8a1.0 1.0 0 1 0 2.0 0a1.0 1.0 0 1 0 -2.0 0M89.4 40.8a1.0 1.0 0 1 0 2.0 0a1.0 1.0 0 1 0 -2.0 0M95.9 41.4a1.0 1.0 0 1 0 2.0 0a1.0 1.0 0 1 0 -2.0 0M99.8 42.0a1.0 1.0 0 1 0 2.0 0a1.0 1.0 0 1 0 -2.0 0M97.8 44.0a1.0 1.0 0 1 0 2.0 0a1.0 1.0 0 1 0 -2.0 0M84.8 34.2a1.0 1.0 0 1 0 2.0 0a1.0 1.0 0 1 0 -2.0 0M54.2 63.8a1.0 1.0 0 1 0 2.0 0a1.0 1.0 0 1 0 -2.0 0M58.2 65.1a1.0 1.0 0 1 0 2.0 0a1.0 1.0 0 1 0 -2.0 0M55.6 74.8a1.0 1.0 0 1 0 2.0 0a1.0 1.0 0 1 0 -2.0 0M56.8 75.1a1.0 1.0 0 1 0 2.0 0a1.0 1.0 0 1 0 -2.0 0M42.6 81.3a1.0 1.0 0 1 0 2.0 0a1.0 1.0 0 1 0 -2.0 0M60.1 93.7a1.0 1.0 0 1 0 2.0 0a1.0 1.0 0 1 0 -2.0 0M49.7 99.5a1.0 1.0 0 1 0 2.0 0a1.0 1.0 0 1 0 -2.0 0M67.2 65.8a1.0 1.0 0 1 0 2.0 0a1.0 1.0 0 1 0 -2.0 0M68.6 72.9a1.0 1.0 0 1 0 2.0 0a1.0 1.0 0 1 0 -2.0 0M79.6 74.2a1.0 1.0 0 1 0 2.0 0a1.0 1.0 0 1 0 -2.0 0M81.6 73.5a1.0 1.0 0 1 0 2.0 0a1.0 1.0 0 1 0 -2.0 0M71.1 84.6a1.0 1.0 0 1 0 2.0 0a1.0 1.0 0 1 0 -2.0 0M72.4 82.6a1.0 1.0 0 1 0 2.0 0a1.0 1.0 0 1 0 -2.0 0"/></g>
</g>
<rect x="195.00" y="140.55" width="130.4" height="101.8" fill="none" stroke="#1a1a1a" stroke-width="1.45"/>
<path d="M190.40 164.04H195.00M190.40 203.20H195.00M190.40 242.35H195.00M195.00 242.35V246.95M233.35 242.35V246.95M271.71 242.35V246.95M310.06 242.35V246.95" stroke="#1a1a1a" stroke-width="1.2" fill="none"/>
<text x="195.10" y="137.05" font-size="10">(e)</text>
<text x="325.90" y="137.05" font-size="10" text-anchor="end">ΔRMSE: -0.027 (-0.1%)</text>
<clipPath id="cp5"><rect x="338.25" y="140.55" width="130.4" height="101.8"/></clipPath>
<g clip-path="url(#cp5)">
<use href="#cont" transform="translate(338.25,140.55)"/>
<g transform="translate(338.25,140.55)"><path fill="#dcf8fd" d="M20.2 6.7a1.0 1.0 0 1 0 2.0 0a1.0 1.0 0 1 0 -2.0 0M30.2 9.5a1.0 1.0 0 1 0 2.0 0a1.0 1.0 0 1 0 -2.0 0M52.1 26.4a1.0 1.0 0 1 0 2.0 0a1.0 1.0 0 1 0 -2.0 0M59.2 21.2a1.0 1.0 0 1 0 2.0 0a1.0 1.0 0 1 0 -2.0 0M79.4 10.8a1.0 1.0 0 1 0 2.0 0a1.0 1.0 0 1 0 -2.0 0M71.6 10.8a1.0 1.0 0 1 0 2.0 0a1.0 1.0 0 1 0 -2.0 0M89.8 13.4a1.0 1.0 0 1 0 2.0 0a1.0 1.0 0 1 0 -2.0 0M106.6 19.9a1.0 1.0 0 1 0 2.0 0a1.0 1.0 0 1 0 -2.0 0M122.2 12.1a1.0 1.0 0 1 0 2.0 0a1.0 1.0 0 1 0 -2.0 0M120.9 26.4a1.0 1.0 0 1 0 2.0 0a1.0 1.0 0 1 0 -2.0 0M48.1 89.1a1.0 1.0 0 1 0 2.0 0a1.0 1.0 0 1 0 -2.0 0M83.4 5.5a1.0 1.0 0 1 0 2.0 0a1.0 1.0 0 1 0 -2.0 0M125.9 10.1a1.0 1.0 0 1 0 2.0 0a1.0 1.0 0 1 0 -2.0 0M61.7 15.6a1.0 1.0 0 1 0 2.0 0a1.0 1.0 0 1 0 -2.0 0M32.1 38.6a1.0 1.0 0 1 0 2.0 0a1.0 1.0 0 1 0 -2.0 0M119.3 38.1a1.0 1.0 0 1 0 2.0 0a1.0 1.0 0 1 0 -2.0 0M64.9 43.9a1.0 1.0 0 1 0 2.0 0a1.0 1.0 0 1 0 -2.0 0M45.4 46.2a1.0 1.0 0 1 0 2.0 0a1.0 1.0 0 1 0 -2.0 0M60.6 50.9a1.0 1.0 0 1 0 2.0 0a1.0 1.0 0 1 0 -2.0 0M96.9 53.2a1.0 1.0 0 1 0 2.0 0a1.0 1.0 0 1 0 -2.0 0M124.1 51.7a1.0 1.0 0 1 0 2.0 0a1.0 1.0 0 1 0 -2.0 0M83.9 61.9a1.0 1.0 0 1 0 2.0 0a1.0 1.0 0 1 0 -2.0 0M120.7 61.6a1.0 1.0 0 1 0 2.0 0a1.0 1.0 0 1 0 -2.0 0M72.9 72.0a1.0 1.0 0 1 0 2.0 0a1.0 1.0 0 1 0 -2.0 0M114.8 74.0a1.0 1.0 0 1 0 2.0 0a1.0 1.0 0 1 0 -2.0 0M120.4 75.3a1.0 1.0 0 1 0 2.0 0a1.0 1.0 0 1 0 -2.0 0M96.9 79.7a1.0 1.0 0 1 0 2.0 0a1.0 1.0 0 1 0 -2.0 0M42.5 84.7a1.0 1.0 0 1 0 2.0 0a1.0 1.0 0 1 0 -2.0 0M88.4 85.4a1.0 1.0 0 1 0 2.0 0a1.0 1.0 0 1 0 -2.0 0"/><path fill="#fdf8d8" d="M57.9 16.0a1.0 1.0 0 1 0 2.0 0a1.0 1.0 0 1 0 -2.0 0M84.3 2.5a1.0 1.0 0 1 0 2.0 0a1.0 1.0 0 1 0 -2.0 0M109.6 6.7a1.0 1.0 0 1 0 2.0 0a1.0 1.0 0 1 0 -2.0 0M80.1 28.3a1.0 1.0 0 1 0 2.0 0a1.0 1.0 0 1 0 -2.0 0M73.0 42.4a1.0 1.0 0 1 0 2.0 0a1.0 1.0 0 1 0 -2.0 0M68.8 46.6a1.0 1.0 0 1 0 2.0 0a1.0 1.0 0 1 0 -2.0 0M46.2 56.3a1.0 1.0 0 1 0 2.0 0a1.0 1.0 0 1 0 -2.0 0M83.1 64.6a1.0 1.0 0 1 0 2.0 0a1.0 1.0 0 1 0 -2.0 0M123.5 65.2a1.0 1.0 0 1 0 2.0 0a1.0 1.0 0 1 0 -2.0 0M63.5 69.0a1.0 1.0 0 1 0 2.0 0a1.0 1.0 0 1 0 -2.0 0M102.4 72.0a1.0 1.0 0 1 0 2.0 0a1.0 1.0 0 1 0 -2.0 0M105.6 79.1a1.0 1.0 0 1 0 2.0 0a1.0 1.0 0 1 0 -2.0 0M105.4 85.2a1.0 1.0 0 1 0 2.0 0a1.0 1.0 0 1 0 -2.0 0M43.4 94.9a1.0 1.0 0 1 0 2.0 0a1.0 1.0 0 1 0 -2.0 0M56.1 93.6a1.0 1.0 0 1 0 2.0 0a1.0 1.0 0 1 0 -2.0 0M83.3 94.4a1.0 1.0 0 1 0 2.0 0a1.0 1.0 0 1 0 -2.0 0M110.2 94.3a1.0 1.0 0 1 0 2.0 0a1.0 1.0 0 1 0 -2.0 0"/><path fill="#fdd28f" d="M14.7 5.7a1.0 1.0 0 1 0 2.0 0a1.0 1.0 0 1 0 -2.0 0M24.4 4.6a1.0 1.0 0 1 0 2.0 0a1.0 1.0 0 1 0 -2.0 0M19.6 18.7a1.0 1.0 0 1 0 2.0 0a1.0 1.0 0 1 0 -2.0 0M78.5 24.2a1.0 1.0 0 1 0 2.0 0a1.0 1.0 0 1 0 -2.0 0M65.8 38.4a1.0 1.0 0 1 0 2.0 0a1.0 1.0 0 1 0 -2.0 0M74.3 36.7a1.0 1.0 0 1 0 2.0 0a1.0 1.0 0 1 0 -2.0 0M6.6 42.9a1.0 1.0 0 1 0 2.0 0a1.0 1.0 0 1 0 -2.0 0M64.7 49.0a1.0 1.0 0 1 0 2.0 0a1.0 1.0 0 1 0 -2.0 0M64.8 83.6a1.0 1.0 0 1 0 2.0 0a1.0 1.0 0 1 0 -2.0 0M74.6 98.0a1.0 1.0 0 1 0 2.0 0a1.0 1.0 0 1 0 -2.0 0M98.4 96.8a1.0 1.0 0 1 0 2.0 0a1.0 1.0 0 1 0 -2.0 0"/><path fill="#80d3f7" d="M16.3 16.7a1.0 1.0 0 1 0 2.0 0a1.0 1.0 0 1 0 -2.0 0M4.6 24.2a1.0 1.0 0 1 0 2.0 0a1.0 1.0 0 1 0 -2.0 0M3.7 27.5a1.0 1.0 0 1 0 2.0 0a1.0 1.0 0 1 0 -2.0 0M43.2 29.4a1.0 1.0 0 1 0 2.0 0a1.0 1.0 0 1 0 -2.0 0M54.6 31.6a1.0 1.0 0 1 0 2.0 0a1.0 1.0 0 1 0 -2.0 0M60.9 31.4a1.0 1.0 0 1 0 2.0 0a1.0 1.0 0 1 0 -2.0 0M35.8 41.8a1.0 1.0 0 1 0 2.0 0a1.0 1.0 0 1 0 -2.0 0M41.6 41.8a1.0 1.0 0 1 0 2.0 0a1.0 1.0 0 1 0 -2.0 0M45.6 39.1a1.0 1.0 0 1 0 2.0 0a1.0 1.0 0 1 0 -2.0 0M59.9 38.8a1.0 1.0 0 1 0 2.0 0a1.0 1.0 0 1 0 -2.0 0M50.8 47.2a1.0 1.0 0 1 0 2.0 0a1.0 1.0 0 1 0 -2.0 0M63.1 12.1a1.0 1.0 0 1 0 2.0 0a1.0 1.0 0 1 0 -2.0 0M71.6 3.0a1.0 1.0 0 1 0 2.0 0a1.0 1.0 0 1 0 -2.0 0M86.5 1.1a1.0 1.0 0 1 0 2.0 0a1.0 1.0 0 1 0 -2.0 0M93.0 1.8a1.0 1.0 0 1 0 2.0 0a1.0 1.0 0 1 0 -2.0 0M96.2 1.5a1.0 1.0 0 1 0 2.0 0a1.0 1.0 0 1 0 -2.0 0M99.5 2.0a1.0 1.0 0 1 0 2.0 0a1.0 1.0 0 1 0 -2.0 0M107.9 4.3a1.0 1.0 0 1 0 2.0 0a1.0 1.0 0 1 0 -2.0 0M114.4 5.6a1.0 1.0 0 1 0 2.0 0a1.0 1.0 0 1 0 -2.0 0M76.8 6.9a1.0 1.0 0 1 0 2.0 0a1.0 1.0 0 1 0 -2.0 0M85.2 7.6a1.0 1.0 0 1 0 2.0 0a1.0 1.0 0 1 0 -2.0 0M85.9 9.5a1.0 1.0 0 1 0 2.0 0a1.0 1.0 0 1 0 -2.0 0M91.7 6.3a1.0 1.0 0 1 0 2.0 0a1.0 1.0 0 1 0 -2.0 0M99.5 8.9a1.0 1.0 0 1 0 2.0 0a1.0 1.0 0 1 0 -2.0 0M102.1 8.2a1.0 1.0 0 1 0 2.0 0a1.0 1.0 0 1 0 -2.0 0M115.8 16.0a1.0 1.0 0 1 0 2.0 0a1.0 1.0 0 1 0 -2.0 0M125.5 18.6a1.0 1.0 0 1 0 2.0 0a1.0 1.0 0 1 0 -2.0 0M84.6 13.4a1.0 1.0 0 1 0 2.0 0a1.0 1.0 0 1 0 -2.0 0M87.8 16.0a1.0 1.0 0 1 0 2.0 0a1.0 1.0 0 1 0 -2.0 0M71.6 17.3a1.0 1.0 0 1 0 2.0 0a1.0 1.0 0 1 0 -2.0 0M104.1 23.8a1.0 1.0 0 1 0 2.0 0a1.0 1.0 0 1 0 -2.0 0M68.9 24.5a1.0 1.0 0 1 0 2.0 0a1.0 1.0 0 1 0 -2.0 0M75.4 23.2a1.0 1.0 0 1 0 2.0 0a1.0 1.0 0 1 0 -2.0 0M67.6 27.8a1.0 1.0 0 1 0 2.0 0a1.0 1.0 0 1 0 -2.0 0M69.6 31.6a1.0 1.0 0 1 0 2.0 0a1.0 1.0 0 1 0 -2.0 0M66.4 31.6a1.0 1.0 0 1 0 2.0 0a1.0 1.0 0 1 0 -2.0 0M120.9 31.6a1.0 1.0 0 1 0 2.0 0a1.0 1.0 0 1 0 -2.0 0M89.8 40.8a1.0 1.0 0 1 0 2.0 0a1.0 1.0 0 1 0 -2.0 0M84.6 44.0a1.0 1.0 0 1 0 2.0 0a1.0 1.0 0 1 0 -2.0 0M76.8 44.6a1.0 1.0 0 1 0 2.0 0a1.0 1.0 0 1 0 -2.0 0M126.8 48.5a1.0 1.0 0 1 0 2.0 0a1.0 1.0 0 1 0 -2.0 0M41.6 56.6a1.0 1.0 0 1 0 2.0 0a1.0 1.0 0 1 0 -2.0 0M43.6 63.8a1.0 1.0 0 1 0 2.0 0a1.0 1.0 0 1 0 -2.0 0M47.5 66.8a1.0 1.0 0 1 0 2.0 0a1.0 1.0 0 1 0 -2.0 0M50.8 67.7a1.0 1.0 0 1 0 2.0 0a1.0 1.0 0 1 0 -2.0 0M43.6 71.6a1.0 1.0 0 1 0 2.0 0a1.0 1.0 0 1 0 -2.0 0M62.4 76.1a1.0 1.0 0 1 0 2.0 0a1.0 1.0 0 1 0 -2.0 0M39.1 79.4a1.0 1.0 0 1 0 2.0 0a1.0 1.0 0 1 0 -2.0 0M46.2 80.7a1.0 1.0 0 1 0 2.0 0a1.0 1.0 0 1 0 -2.0 0M48.8 79.4a1.0 1.0 0 1 0 2.0 0a1.0 1.0 0 1 0 -2.0 0M58.6 82.4a1.0 1.0 0 1 0 2.0 0a1.0 1.0 0 1 0 -2.0 0M46.9 85.9a1.0 1.0 0 1 0 2.0 0a1.0 1.0 0 1 0 -2.0 0M50.8 89.8a1.0 1.0 0 1 0 2.0 0a1.0 1.0 0 1 0 -2.0 0M57.9 89.8a1.0 1.0 0 1 0 2.0 0a1.0 1.0 0 1 0 -2.0 0M51.4 96.9a1.0 1.0 0 1 0 2.0 0a1.0 1.0 0 1 0 -2.0 0M50.1 99.5a1.0 1.0 0 1 0 2.0 0a1.0 1.0 0 1 0 -2.0 0M80.0 53.0a1.0 1.0 0 1 0 2.0 0a1.0 1.0 0 1 0 -2.0 0M85.2 53.4a1.0 1.0 0 1 0 2.0 0a1.0 1.0 0 1 0 -2.0 0M106.6 54.7a1.0 1.0 0 1 0 2.0 0a1.0 1.0 0 1 0 -2.0 0M113.1 53.4a1.0 1.0 0 1 0 2.0 0a1.0 1.0 0 1 0 -2.0 0M82.6 56.6a1.0 1.0 0 1 0 2.0 0a1.0 1.0 0 1 0 -2.0 0M83.9 57.9a1.0 1.0 0 1 0 2.0 0a1.0 1.0 0 1 0 -2.0 0M94.9 61.2a1.0 1.0 0 1 0 2.0 0a1.0 1.0 0 1 0 -2.0 0M76.8 69.6a1.0 1.0 0 1 0 2.0 0a1.0 1.0 0 1 0 -2.0 0M86.5 72.2a1.0 1.0 0 1 0 2.0 0a1.0 1.0 0 1 0 -2.0 0M91.1 71.6a1.0 1.0 0 1 0 2.0 0a1.0 1.0 0 1 0 -2.0 0M94.9 64.4a1.0 1.0 0 1 0 2.0 0a1.0 1.0 0 1 0 -2.0 0M120.9 82.6a1.0 1.0 0 1 0 2.0 0a1.0 1.0 0 1 0 -2.0 0M106.0 87.8a1.0 1.0 0 1 0 2.0 0a1.0 1.0 0 1 0 -2.0 0M115.8 91.8a1.0 1.0 0 1 0 2.0 0a1.0 1.0 0 1 0 -2.0 0M122.2 93.0a1.0 1.0 0 1 0 2.0 0a1.0 1.0 0 1 0 -2.0 0M124.9 90.4a1.0 1.0 0 1 0 2.0 0a1.0 1.0 0 1 0 -2.0 0M126.1 69.6a1.0 1.0 0 1 0 2.0 0a1.0 1.0 0 1 0 -2.0 0M126.1 64.4a1.0 1.0 0 1 0 2.0 0a1.0 1.0 0 1 0 -2.0 0M102.8 91.8a1.0 1.0 0 1 0 2.0 0a1.0 1.0 0 1 0 -2.0 0"/><path fill="#fdbb84" d="M49.7 9.8a1.0 1.0 0 1 0 2.0 0a1.0 1.0 0 1 0 -2.0 0M51.4 8.2a1.0 1.0 0 1 0 2.0 0a1.0 1.0 0 1 0 -2.0 0M54.6 21.2a1.0 1.0 0 1 0 2.0 0a1.0 1.0 0 1 0 -2.0 0M16.3 44.6a1.0 1.0 0 1 0 2.0 0a1.0 1.0 0 1 0 -2.0 0M117.1 3.7a1.0 1.0 0 1 0 2.0 0a1.0 1.0 0 1 0 -2.0 0M118.4 4.3a1.0 1.0 0 1 0 2.0 0a1.0 1.0 0 1 0 -2.0 0M94.9 12.8a1.0 1.0 0 1 0 2.0 0a1.0 1.0 0 1 0 -2.0 0M98.9 13.4a1.0 1.0 0 1 0 2.0 0a1.0 1.0 0 1 0 -2.0 0M102.8 14.1a1.0 1.0 0 1 0 2.0 0a1.0 1.0 0 1 0 -2.0 0M108.6 14.1a1.0 1.0 0 1 0 2.0 0a1.0 1.0 0 1 0 -2.0 0M110.6 16.0a1.0 1.0 0 1 0 2.0 0a1.0 1.0 0 1 0 -2.0 0M120.9 18.0a1.0 1.0 0 1 0 2.0 0a1.0 1.0 0 1 0 -2.0 0M107.9 24.5a1.0 1.0 0 1 0 2.0 0a1.0 1.0 0 1 0 -2.0 0M113.1 23.2a1.0 1.0 0 1 0 2.0 0a1.0 1.0 0 1 0 -2.0 0M105.4 27.8a1.0 1.0 0 1 0 2.0 0a1.0 1.0 0 1 0 -2.0 0M111.9 30.3a1.0 1.0 0 1 0 2.0 0a1.0 1.0 0 1 0 -2.0 0M80.6 38.8a1.0 1.0 0 1 0 2.0 0a1.0 1.0 0 1 0 -2.0 0M79.4 39.4a1.0 1.0 0 1 0 2.0 0a1.0 1.0 0 1 0 -2.0 0M108.6 42.0a1.0 1.0 0 1 0 2.0 0a1.0 1.0 0 1 0 -2.0 0M114.4 42.0a1.0 1.0 0 1 0 2.0 0a1.0 1.0 0 1 0 -2.0 0M115.8 45.3a1.0 1.0 0 1 0 2.0 0a1.0 1.0 0 1 0 -2.0 0M107.9 47.2a1.0 1.0 0 1 0 2.0 0a1.0 1.0 0 1 0 -2.0 0M115.8 54.7a1.0 1.0 0 1 0 2.0 0a1.0 1.0 0 1 0 -2.0 0M120.9 52.8a1.0 1.0 0 1 0 2.0 0a1.0 1.0 0 1 0 -2.0 0M127.4 56.6a1.0 1.0 0 1 0 2.0 0a1.0 1.0 0 1 0 -2.0 0M117.1 61.8a1.0 1.0 0 1 0 2.0 0a1.0 1.0 0 1 0 -2.0 0M123.6 60.5a1.0 1.0 0 1 0 2.0 0a1.0 1.0 0 1 0 -2.0 0M98.9 76.8a1.0 1.0 0 1 0 2.0 0a1.0 1.0 0 1 0 -2.0 0M85.2 89.1a1.0 1.0 0 1 0 2.0 0a1.0 1.0 0 1 0 -2.0 0M84.6 79.4a1.0 1.0 0 1 0 2.0 0a1.0 1.0 0 1 0 -2.0 0M80.0 78.1a1.0 1.0 0 1 0 2.0 0a1.0 1.0 0 1 0 -2.0 0M76.8 89.8a1.0 1.0 0 1 0 2.0 0a1.0 1.0 0 1 0 -2.0 0M80.6 93.7a1.0 1.0 0 1 0 2.0 0a1.0 1.0 0 1 0 -2.0 0M108.6 78.1a1.0 1.0 0 1 0 2.0 0a1.0 1.0 0 1 0 -2.0 0M112.5 75.5a1.0 1.0 0 1 0 2.0 0a1.0 1.0 0 1 0 -2.0 0M117.1 78.8a1.0 1.0 0 1 0 2.0 0a1.0 1.0 0 1 0 -2.0 0M123.6 79.4a1.0 1.0 0 1 0 2.0 0a1.0 1.0 0 1 0 -2.0 0M114.4 85.9a1.0 1.0 0 1 0 2.0 0a1.0 1.0 0 1 0 -2.0 0M119.6 86.5a1.0 1.0 0 1 0 2.0 0a1.0 1.0 0 1 0 -2.0 0M102.8 87.8a1.0 1.0 0 1 0 2.0 0a1.0 1.0 0 1 0 -2.0 0M109.9 90.4a1.0 1.0 0 1 0 2.0 0a1.0 1.0 0 1 0 -2.0 0M118.4 94.3a1.0 1.0 0 1 0 2.0 0a1.0 1.0 0 1 0 -2.0 0M122.2 97.6a1.0 1.0 0 1 0 2.0 0a1.0 1.0 0 1 0 -2.0 0M113.8 100.2a1.0 1.0 0 1 0 2.0 0a1.0 1.0 0 1 0 -2.0 0M120.9 100.8a1.0 1.0 0 1 0 2.0 0a1.0 1.0 0 1 0 -2.0 0M119.6 65.8a1.0 1.0 0 1 0 2.0 0a1.0 1.0 0 1 0 -2.0 0"/><path fill="#3c8af4" d="M18.9 9.3a1.0 1.0 0 1 0 2.0 0a1.0 1.0 0 1 0 -2.0 0M19.8 33.3a1.0 1.0 0 1 0 2.0 0a1.0 1.0 0 1 0 -2.0 0M28.0 38.8a1.0 1.0 0 1 0 2.0 0a1.0 1.0 0 1 0 -2.0 0M54.6 46.2a1.0 1.0 0 1 0 2.0 0a1.0 1.0 0 1 0 -2.0 0M96.9 9.5a1.0 1.0 0 1 0 2.0 0a1.0 1.0 0 1 0 -2.0 0M92.4 19.3a1.0 1.0 0 1 0 2.0 0a1.0 1.0 0 1 0 -2.0 0M97.6 19.9a1.0 1.0 0 1 0 2.0 0a1.0 1.0 0 1 0 -2.0 0M81.9 26.4a1.0 1.0 0 1 0 2.0 0a1.0 1.0 0 1 0 -2.0 0M87.8 31.0a1.0 1.0 0 1 0 2.0 0a1.0 1.0 0 1 0 -2.0 0M97.6 25.1a1.0 1.0 0 1 0 2.0 0a1.0 1.0 0 1 0 -2.0 0M83.2 41.4a1.0 1.0 0 1 0 2.0 0a1.0 1.0 0 1 0 -2.0 0M95.6 41.4a1.0 1.0 0 1 0 2.0 0a1.0 1.0 0 1 0 -2.0 0M74.8 39.4a1.0 1.0 0 1 0 2.0 0a1.0 1.0 0 1 0 -2.0 0M68.9 43.3a1.0 1.0 0 1 0 2.0 0a1.0 1.0 0 1 0 -2.0 0M36.4 80.0a1.0 1.0 0 1 0 2.0 0a1.0 1.0 0 1 0 -2.0 0M41.0 78.8a1.0 1.0 0 1 0 2.0 0a1.0 1.0 0 1 0 -2.0 0M35.1 85.9a1.0 1.0 0 1 0 2.0 0a1.0 1.0 0 1 0 -2.0 0M102.8 91.1a1.0 1.0 0 1 0 2.0 0a1.0 1.0 0 1 0 -2.0 0"/><path fill="#ee2531" d="M124.9 3.7a1.0 1.0 0 1 0 2.0 0a1.0 1.0 0 1 0 -2.0 0M118.4 23.8a1.0 1.0 0 1 0 2.0 0a1.0 1.0 0 1 0 -2.0 0M124.9 23.8a1.0 1.0 0 1 0 2.0 0a1.0 1.0 0 1 0 -2.0 0M120.9 25.1a1.0 1.0 0 1 0 2.0 0a1.0 1.0 0 1 0 -2.0 0M102.8 34.9a1.0 1.0 0 1 0 2.0 0a1.0 1.0 0 1 0 -2.0 0M93.6 31.6a1.0 1.0 0 1 0 2.0 0a1.0 1.0 0 1 0 -2.0 0M110.6 34.9a1.0 1.0 0 1 0 2.0 0a1.0 1.0 0 1 0 -2.0 0M109.2 37.5a1.0 1.0 0 1 0 2.0 0a1.0 1.0 0 1 0 -2.0 0M124.9 31.0a1.0 1.0 0 1 0 2.0 0a1.0 1.0 0 1 0 -2.0 0M120.3 35.5a1.0 1.0 0 1 0 2.0 0a1.0 1.0 0 1 0 -2.0 0M126.1 39.4a1.0 1.0 0 1 0 2.0 0a1.0 1.0 0 1 0 -2.0 0M83.9 38.1a1.0 1.0 0 1 0 2.0 0a1.0 1.0 0 1 0 -2.0 0M89.8 36.2a1.0 1.0 0 1 0 2.0 0a1.0 1.0 0 1 0 -2.0 0M105.4 43.3a1.0 1.0 0 1 0 2.0 0a1.0 1.0 0 1 0 -2.0 0M118.4 40.8a1.0 1.0 0 1 0 2.0 0a1.0 1.0 0 1 0 -2.0 0M120.9 43.3a1.0 1.0 0 1 0 2.0 0a1.0 1.0 0 1 0 -2.0 0M124.9 42.0a1.0 1.0 0 1 0 2.0 0a1.0 1.0 0 1 0 -2.0 0M123.6 45.9a1.0 1.0 0 1 0 2.0 0a1.0 1.0 0 1 0 -2.0 0M110.6 49.8a1.0 1.0 0 1 0 2.0 0a1.0 1.0 0 1 0 -2.0 0M49.4 96.3a1.0 1.0 0 1 0 2.0 0a1.0 1.0 0 1 0 -2.0 0M109.2 60.5a1.0 1.0 0 1 0 2.0 0a1.0 1.0 0 1 0 -2.0 0M113.8 61.2a1.0 1.0 0 1 0 2.0 0a1.0 1.0 0 1 0 -2.0 0M120.3 57.3a1.0 1.0 0 1 0 2.0 0a1.0 1.0 0 1 0 -2.0 0M113.8 67.0a1.0 1.0 0 1 0 2.0 0a1.0 1.0 0 1 0 -2.0 0M115.8 65.1a1.0 1.0 0 1 0 2.0 0a1.0 1.0 0 1 0 -2.0 0"/><path fill="#a8072e" d="M38.4 0.7a1.0 1.0 0 1 0 2.0 0a1.0 1.0 0 1 0 -2.0 0M120.9 2.0a1.0 1.0 0 1 0 2.0 0a1.0 1.0 0 1 0 -2.0 0M122.9 5.0a1.0 1.0 0 1 0 2.0 0a1.0 1.0 0 1 0 -2.0 0M127.4 5.6a1.0 1.0 0 1 0 2.0 0a1.0 1.0 0 1 0 -2.0 0M84.6 31.6a1.0 1.0 0 1 0 2.0 0a1.0 1.0 0 1 0 -2.0 0M98.9 28.4a1.0 1.0 0 1 0 2.0 0a1.0 1.0 0 1 0 -2.0 0M101.4 27.1a1.0 1.0 0 1 0 2.0 0a1.0 1.0 0 1 0 -2.0 0M102.8 31.0a1.0 1.0 0 1 0 2.0 0a1.0 1.0 0 1 0 -2.0 0M100.8 31.0a1.0 1.0 0 1 0 2.0 0a1.0 1.0 0 1 0 -2.0 0M96.2 31.6a1.0 1.0 0 1 0 2.0 0a1.0 1.0 0 1 0 -2.0 0M95.6 33.6a1.0 1.0 0 1 0 2.0 0a1.0 1.0 0 1 0 -2.0 0M99.5 32.9a1.0 1.0 0 1 0 2.0 0a1.0 1.0 0 1 0 -2.0 0M94.9 35.5a1.0 1.0 0 1 0 2.0 0a1.0 1.0 0 1 0 -2.0 0M98.2 34.9a1.0 1.0 0 1 0 2.0 0a1.0 1.0 0 1 0 -2.0 0M100.1 35.5a1.0 1.0 0 1 0 2.0 0a1.0 1.0 0 1 0 -2.0 0M107.9 32.3a1.0 1.0 0 1 0 2.0 0a1.0 1.0 0 1 0 -2.0 0M109.9 29.0a1.0 1.0 0 1 0 2.0 0a1.0 1.0 0 1 0 -2.0 0M113.8 32.9a1.0 1.0 0 1 0 2.0 0a1.0 1.0 0 1 0 -2.0 0M113.8 38.8a1.0 1.0 0 1 0 2.0 0a1.0 1.0 0 1 0 -2.0 0M116.4 29.7a1.0 1.0 0 1 0 2.0 0a1.0 1.0 0 1 0 -2.0 0M118.4 31.6a1.0 1.0 0 1 0 2.0 0a1.0 1.0 0 1 0 -2.0 0M117.1 32.9a1.0 1.0 0 1 0 2.0 0a1.0 1.0 0 1 0 -2.0 0M127.4 30.3a1.0 1.0 0 1 0 2.0 0a1.0 1.0 0 1 0 -2.0 0M124.9 37.5a1.0 1.0 0 1 0 2.0 0a1.0 1.0 0 1 0 -2.0 0M81.9 34.2a1.0 1.0 0 1 0 2.0 0a1.0 1.0 0 1 0 -2.0 0M81.3 35.5a1.0 1.0 0 1 0 2.0 0a1.0 1.0 0 1 0 -2.0 0M82.6 33.6a1.0 1.0 0 1 0 2.0 0a1.0 1.0 0 1 0 -2.0 0M78.1 42.7a1.0 1.0 0 1 0 2.0 0a1.0 1.0 0 1 0 -2.0 0M80.0 42.0a1.0 1.0 0 1 0 2.0 0a1.0 1.0 0 1 0 -2.0 0M81.3 42.7a1.0 1.0 0 1 0 2.0 0a1.0 1.0 0 1 0 -2.0 0M93.0 40.8a1.0 1.0 0 1 0 2.0 0a1.0 1.0 0 1 0 -2.0 0M98.9 38.1a1.0 1.0 0 1 0 2.0 0a1.0 1.0 0 1 0 -2.0 0M100.1 39.4a1.0 1.0 0 1 0 2.0 0a1.0 1.0 0 1 0 -2.0 0M101.4 40.8a1.0 1.0 0 1 0 2.0 0a1.0 1.0 0 1 0 -2.0 0M99.5 42.0a1.0 1.0 0 1 0 2.0 0a1.0 1.0 0 1 0 -2.0 0M98.2 43.3a1.0 1.0 0 1 0 2.0 0a1.0 1.0 0 1 0 -2.0 0M96.2 44.6a1.0 1.0 0 1 0 2.0 0a1.0 1.0 0 1 0 -2.0 0M91.7 44.6a1.0 1.0 0 1 0 2.0 0a1.0 1.0 0 1 0 -2.0 0M89.1 45.9a1.0 1.0 0 1 0 2.0 0a1.0 1.0 0 1 0 -2.0 0M85.9 49.2a1.0 1.0 0 1 0 2.0 0a1.0 1.0 0 1 0 -2.0 0M90.4 48.5a1.0 1.0 0 1 0 2.0 0a1.0 1.0 0 1 0 -2.0 0M93.6 47.2a1.0 1.0 0 1 0 2.0 0a1.0 1.0 0 1 0 -2.0 0M102.8 45.9a1.0 1.0 0 1 0 2.0 0a1.0 1.0 0 1 0 -2.0 0M118.4 49.8a1.0 1.0 0 1 0 2.0 0a1.0 1.0 0 1 0 -2.0 0M102.8 49.8a1.0 1.0 0 1 0 2.0 0a1.0 1.0 0 1 0 -2.0 0M59.9 95.0a1.0 1.0 0 1 0 2.0 0a1.0 1.0 0 1 0 -2.0 0M93.0 53.4a1.0 1.0 0 1 0 2.0 0a1.0 1.0 0 1 0 -2.0 0M100.1 52.8a1.0 1.0 0 1 0 2.0 0a1.0 1.0 0 1 0 -2.0 0M104.1 53.4a1.0 1.0 0 1 0 2.0 0a1.0 1.0 0 1 0 -2.0 0M109.2 56.0a1.0 1.0 0 1 0 2.0 0a1.0 1.0 0 1 0 -2.0 0M125.5 54.0a1.0 1.0 0 1 0 2.0 0a1.0 1.0 0 1 0 -2.0 0M91.1 56.0a1.0 1.0 0 1 0 2.0 0a1.0 1.0 0 1 0 -2.0 0M98.9 58.6a1.0 1.0 0 1 0 2.0 0a1.0 1.0 0 1 0 -2.0 0M102.8 61.2a1.0 1.0 0 1 0 2.0 0a1.0 1.0 0 1 0 -2.0 0M106.6 61.8a1.0 1.0 0 1 0 2.0 0a1.0 1.0 0 1 0 -2.0 0M126.1 58.6a1.0 1.0 0 1 0 2.0 0a1.0 1.0 0 1 0 -2.0 0M76.1 74.8a1.0 1.0 0 1 0 2.0 0a1.0 1.0 0 1 0 -2.0 0M81.3 73.5a1.0 1.0 0 1 0 2.0 0a1.0 1.0 0 1 0 -2.0 0M93.6 67.7a1.0 1.0 0 1 0 2.0 0a1.0 1.0 0 1 0 -2.0 0M95.6 69.0a1.0 1.0 0 1 0 2.0 0a1.0 1.0 0 1 0 -2.0 0M97.6 65.8a1.0 1.0 0 1 0 2.0 0a1.0 1.0 0 1 0 -2.0 0M99.5 67.0a1.0 1.0 0 1 0 2.0 0a1.0 1.0 0 1 0 -2.0 0M101.4 64.4a1.0 1.0 0 1 0 2.0 0a1.0 1.0 0 1 0 -2.0 0M102.8 62.5a1.0 1.0 0 1 0 2.0 0a1.0 1.0 0 1 0 -2.0 0M103.4 65.8a1.0 1.0 0 1 0 2.0 0a1.0 1.0 0 1 0 -2.0 0M102.1 67.7a1.0 1.0 0 1 0 2.0 0a1.0 1.0 0 1 0 -2.0 0M100.8 69.6a1.0 1.0 0 1 0 2.0 0a1.0 1.0 0 1 0 -2.0 0M104.7 64.4a1.0 1.0 0 1 0 2.0 0a1.0 1.0 0 1 0 -2.0 0M105.4 68.3a1.0 1.0 0 1 0 2.0 0a1.0 1.0 0 1 0 -2.0 0M106.6 67.0a1.0 1.0 0 1 0 2.0 0a1.0 1.0 0 1 0 -2.0 0M107.9 65.1a1.0 1.0 0 1 0 2.0 0a1.0 1.0 0 1 0 -2.0 0M109.2 71.6a1.0 1.0 0 1 0 2.0 0a1.0 1.0 0 1 0 -2.0 0M110.6 68.3a1.0 1.0 0 1 0 2.0 0a1.0 1.0 0 1 0 -2.0 0M112.5 70.3a1.0 1.0 0 1 0 2.0 0a1.0 1.0 0 1 0 -2.0 0M110.6 63.1a1.0 1.0 0 1 0 2.0 0a1.0 1.0 0 1 0 -2.0 0M112.5 63.8a1.0 1.0 0 1 0 2.0 0a1.0 1.0 0 1 0 -2.0 0M94.9 70.3a1.0 1.0 0 1 0 2.0 0a1.0 1.0 0 1 0 -2.0 0M93.6 71.6a1.0 1.0 0 1 0 2.0 0a1.0 1.0 0 1 0 -2.0 0M91.7 74.8a1.0 1.0 0 1 0 2.0 0a1.0 1.0 0 1 0 -2.0 0M94.9 75.5a1.0 1.0 0 1 0 2.0 0a1.0 1.0 0 1 0 -2.0 0M94.3 77.4a1.0 1.0 0 1 0 2.0 0a1.0 1.0 0 1 0 -2.0 0M97.6 74.2a1.0 1.0 0 1 0 2.0 0a1.0 1.0 0 1 0 -2.0 0M104.1 74.8a1.0 1.0 0 1 0 2.0 0a1.0 1.0 0 1 0 -2.0 0M93.6 79.4a1.0 1.0 0 1 0 2.0 0a1.0 1.0 0 1 0 -2.0 0M91.1 82.0a1.0 1.0 0 1 0 2.0 0a1.0 1.0 0 1 0 -2.0 0M91.1 85.2a1.0 1.0 0 1 0 2.0 0a1.0 1.0 0 1 0 -2.0 0M87.8 90.4a1.0 1.0 0 1 0 2.0 0a1.0 1.0 0 1 0 -2.0 0M88.4 92.4a1.0 1.0 0 1 0 2.0 0a1.0 1.0 0 1 0 -2.0 0M72.9 78.8a1.0 1.0 0 1 0 2.0 0a1.0 1.0 0 1 0 -2.0 0M71.6 80.7a1.0 1.0 0 1 0 2.0 0a1.0 1.0 0 1 0 -2.0 0M73.5 83.9a1.0 1.0 0 1 0 2.0 0a1.0 1.0 0 1 0 -2.0 0M74.1 84.6a1.0 1.0 0 1 0 2.0 0a1.0 1.0 0 1 0 -2.0 0M74.1 88.5a1.0 1.0 0 1 0 2.0 0a1.0 1.0 0 1 0 -2.0 0M73.5 90.4a1.0 1.0 0 1 0 2.0 0a1.0 1.0 0 1 0 -2.0 0M70.9 93.7a1.0 1.0 0 1 0 2.0 0a1.0 1.0 0 1 0 -2.0 0M66.4 96.3a1.0 1.0 0 1 0 2.0 0a1.0 1.0 0 1 0 -2.0 0M96.2 90.4a1.0 1.0 0 1 0 2.0 0a1.0 1.0 0 1 0 -2.0 0M101.4 79.4a1.0 1.0 0 1 0 2.0 0a1.0 1.0 0 1 0 -2.0 0M102.8 82.6a1.0 1.0 0 1 0 2.0 0a1.0 1.0 0 1 0 -2.0 0M106.6 82.0a1.0 1.0 0 1 0 2.0 0a1.0 1.0 0 1 0 -2.0 0M124.9 83.3a1.0 1.0 0 1 0 2.0 0a1.0 1.0 0 1 0 -2.0 0M104.1 94.3a1.0 1.0 0 1 0 2.0 0a1.0 1.0 0 1 0 -2.0 0M106.6 95.6a1.0 1.0 0 1 0 2.0 0a1.0 1.0 0 1 0 -2.0 0M105.4 98.9a1.0 1.0 0 1 0 2.0 0a1.0 1.0 0 1 0 -2.0 0M109.2 98.2a1.0 1.0 0 1 0 2.0 0a1.0 1.0 0 1 0 -2.0 0M124.9 100.2a1.0 1.0 0 1 0 2.0 0a1.0 1.0 0 1 0 -2.0 0"/><path fill="#2412d8" d="M54.0 4.3a1.0 1.0 0 1 0 2.0 0a1.0 1.0 0 1 0 -2.0 0M28.9 15.8a1.0 1.0 0 1 0 2.0 0a1.0 1.0 0 1 0 -2.0 0M37.5 16.0a1.0 1.0 0 1 0 2.0 0a1.0 1.0 0 1 0 -2.0 0M25.4 21.9a1.0 1.0 0 1 0 2.0 0a1.0 1.0 0 1 0 -2.0 0M41.4 24.9a1.0 1.0 0 1 0 2.0 0a1.0 1.0 0 1 0 -2.0 0M18.5 28.1a1.0 1.0 0 1 0 2.0 0a1.0 1.0 0 1 0 -2.0 0M26.3 29.4a1.0 1.0 0 1 0 2.0 0a1.0 1.0 0 1 0 -2.0 0M30.6 30.3a1.0 1.0 0 1 0 2.0 0a1.0 1.0 0 1 0 -2.0 0M0.3 34.0a1.0 1.0 0 1 0 2.0 0a1.0 1.0 0 1 0 -2.0 0M9.1 41.8a1.0 1.0 0 1 0 2.0 0a1.0 1.0 0 1 0 -2.0 0M7.9 45.3a1.0 1.0 0 1 0 2.0 0a1.0 1.0 0 1 0 -2.0 0M43.6 50.5a1.0 1.0 0 1 0 2.0 0a1.0 1.0 0 1 0 -2.0 0M46.9 49.2a1.0 1.0 0 1 0 2.0 0a1.0 1.0 0 1 0 -2.0 0M111.9 5.0a1.0 1.0 0 1 0 2.0 0a1.0 1.0 0 1 0 -2.0 0M68.3 7.6a1.0 1.0 0 1 0 2.0 0a1.0 1.0 0 1 0 -2.0 0M94.9 21.2a1.0 1.0 0 1 0 2.0 0a1.0 1.0 0 1 0 -2.0 0M100.8 21.9a1.0 1.0 0 1 0 2.0 0a1.0 1.0 0 1 0 -2.0 0M76.8 27.8a1.0 1.0 0 1 0 2.0 0a1.0 1.0 0 1 0 -2.0 0M81.3 25.8a1.0 1.0 0 1 0 2.0 0a1.0 1.0 0 1 0 -2.0 0M84.6 28.4a1.0 1.0 0 1 0 2.0 0a1.0 1.0 0 1 0 -2.0 0M86.5 27.8a1.0 1.0 0 1 0 2.0 0a1.0 1.0 0 1 0 -2.0 0M87.8 27.1a1.0 1.0 0 1 0 2.0 0a1.0 1.0 0 1 0 -2.0 0M88.4 28.4a1.0 1.0 0 1 0 2.0 0a1.0 1.0 0 1 0 -2.0 0M86.5 30.3a1.0 1.0 0 1 0 2.0 0a1.0 1.0 0 1 0 -2.0 0M91.7 26.4a1.0 1.0 0 1 0 2.0 0a1.0 1.0 0 1 0 -2.0 0M93.6 29.0a1.0 1.0 0 1 0 2.0 0a1.0 1.0 0 1 0 -2.0 0M85.2 39.4a1.0 1.0 0 1 0 2.0 0a1.0 1.0 0 1 0 -2.0 0M87.8 36.8a1.0 1.0 0 1 0 2.0 0a1.0 1.0 0 1 0 -2.0 0M91.7 39.4a1.0 1.0 0 1 0 2.0 0a1.0 1.0 0 1 0 -2.0 0M88.4 43.3a1.0 1.0 0 1 0 2.0 0a1.0 1.0 0 1 0 -2.0 0M69.6 39.4a1.0 1.0 0 1 0 2.0 0a1.0 1.0 0 1 0 -2.0 0M74.1 45.3a1.0 1.0 0 1 0 2.0 0a1.0 1.0 0 1 0 -2.0 0M72.9 47.2a1.0 1.0 0 1 0 2.0 0a1.0 1.0 0 1 0 -2.0 0M68.9 49.2a1.0 1.0 0 1 0 2.0 0a1.0 1.0 0 1 0 -2.0 0M82.6 46.6a1.0 1.0 0 1 0 2.0 0a1.0 1.0 0 1 0 -2.0 0M81.9 48.5a1.0 1.0 0 1 0 2.0 0a1.0 1.0 0 1 0 -2.0 0M96.2 48.5a1.0 1.0 0 1 0 2.0 0a1.0 1.0 0 1 0 -2.0 0M98.9 49.8a1.0 1.0 0 1 0 2.0 0a1.0 1.0 0 1 0 -2.0 0M50.1 54.3a1.0 1.0 0 1 0 2.0 0a1.0 1.0 0 1 0 -2.0 0M50.8 56.0a1.0 1.0 0 1 0 2.0 0a1.0 1.0 0 1 0 -2.0 0M61.8 55.3a1.0 1.0 0 1 0 2.0 0a1.0 1.0 0 1 0 -2.0 0M63.1 59.2a1.0 1.0 0 1 0 2.0 0a1.0 1.0 0 1 0 -2.0 0M58.6 60.5a1.0 1.0 0 1 0 2.0 0a1.0 1.0 0 1 0 -2.0 0M46.9 61.2a1.0 1.0 0 1 0 2.0 0a1.0 1.0 0 1 0 -2.0 0M54.0 63.8a1.0 1.0 0 1 0 2.0 0a1.0 1.0 0 1 0 -2.0 0M57.9 65.1a1.0 1.0 0 1 0 2.0 0a1.0 1.0 0 1 0 -2.0 0M62.4 64.4a1.0 1.0 0 1 0 2.0 0a1.0 1.0 0 1 0 -2.0 0M52.1 65.8a1.0 1.0 0 1 0 2.0 0a1.0 1.0 0 1 0 -2.0 0M53.4 69.0a1.0 1.0 0 1 0 2.0 0a1.0 1.0 0 1 0 -2.0 0M51.4 72.2a1.0 1.0 0 1 0 2.0 0a1.0 1.0 0 1 0 -2.0 0M48.1 70.9a1.0 1.0 0 1 0 2.0 0a1.0 1.0 0 1 0 -2.0 0M55.9 71.6a1.0 1.0 0 1 0 2.0 0a1.0 1.0 0 1 0 -2.0 0M52.7 72.9a1.0 1.0 0 1 0 2.0 0a1.0 1.0 0 1 0 -2.0 0M54.0 72.2a1.0 1.0 0 1 0 2.0 0a1.0 1.0 0 1 0 -2.0 0M55.3 74.8a1.0 1.0 0 1 0 2.0 0a1.0 1.0 0 1 0 -2.0 0M56.6 75.1a1.0 1.0 0 1 0 2.0 0a1.0 1.0 0 1 0 -2.0 0M59.2 73.5a1.0 1.0 0 1 0 2.0 0a1.0 1.0 0 1 0 -2.0 0M61.8 72.9a1.0 1.0 0 1 0 2.0 0a1.0 1.0 0 1 0 -2.0 0M48.8 74.6a1.0 1.0 0 1 0 2.0 0a1.0 1.0 0 1 0 -2.0 0M55.9 78.1a1.0 1.0 0 1 0 2.0 0a1.0 1.0 0 1 0 -2.0 0M42.3 81.3a1.0 1.0 0 1 0 2.0 0a1.0 1.0 0 1 0 -2.0 0M45.6 77.4a1.0 1.0 0 1 0 2.0 0a1.0 1.0 0 1 0 -2.0 0M51.4 81.3a1.0 1.0 0 1 0 2.0 0a1.0 1.0 0 1 0 -2.0 0M52.7 82.6a1.0 1.0 0 1 0 2.0 0a1.0 1.0 0 1 0 -2.0 0M43.6 87.8a1.0 1.0 0 1 0 2.0 0a1.0 1.0 0 1 0 -2.0 0M53.4 86.5a1.0 1.0 0 1 0 2.0 0a1.0 1.0 0 1 0 -2.0 0M59.9 93.7a1.0 1.0 0 1 0 2.0 0a1.0 1.0 0 1 0 -2.0 0M61.1 100.8a1.0 1.0 0 1 0 2.0 0a1.0 1.0 0 1 0 -2.0 0M65.1 52.1a1.0 1.0 0 1 0 2.0 0a1.0 1.0 0 1 0 -2.0 0M69.6 52.1a1.0 1.0 0 1 0 2.0 0a1.0 1.0 0 1 0 -2.0 0M76.1 52.1a1.0 1.0 0 1 0 2.0 0a1.0 1.0 0 1 0 -2.0 0M66.4 56.6a1.0 1.0 0 1 0 2.0 0a1.0 1.0 0 1 0 -2.0 0M70.2 56.0a1.0 1.0 0 1 0 2.0 0a1.0 1.0 0 1 0 -2.0 0M73.5 57.3a1.0 1.0 0 1 0 2.0 0a1.0 1.0 0 1 0 -2.0 0M77.4 57.3a1.0 1.0 0 1 0 2.0 0a1.0 1.0 0 1 0 -2.0 0M80.6 59.9a1.0 1.0 0 1 0 2.0 0a1.0 1.0 0 1 0 -2.0 0M79.4 61.2a1.0 1.0 0 1 0 2.0 0a1.0 1.0 0 1 0 -2.0 0M89.8 59.2a1.0 1.0 0 1 0 2.0 0a1.0 1.0 0 1 0 -2.0 0M93.0 60.5a1.0 1.0 0 1 0 2.0 0a1.0 1.0 0 1 0 -2.0 0M105.4 57.9a1.0 1.0 0 1 0 2.0 0a1.0 1.0 0 1 0 -2.0 0M65.7 60.5a1.0 1.0 0 1 0 2.0 0a1.0 1.0 0 1 0 -2.0 0M68.9 59.2a1.0 1.0 0 1 0 2.0 0a1.0 1.0 0 1 0 -2.0 0M72.2 61.2a1.0 1.0 0 1 0 2.0 0a1.0 1.0 0 1 0 -2.0 0M74.8 63.1a1.0 1.0 0 1 0 2.0 0a1.0 1.0 0 1 0 -2.0 0M67.0 65.8a1.0 1.0 0 1 0 2.0 0a1.0 1.0 0 1 0 -2.0 0M65.7 64.4a1.0 1.0 0 1 0 2.0 0a1.0 1.0 0 1 0 -2.0 0M70.2 64.4a1.0 1.0 0 1 0 2.0 0a1.0 1.0 0 1 0 -2.0 0M72.2 65.1a1.0 1.0 0 1 0 2.0 0a1.0 1.0 0 1 0 -2.0 0M76.8 67.0a1.0 1.0 0 1 0 2.0 0a1.0 1.0 0 1 0 -2.0 0M66.4 69.6a1.0 1.0 0 1 0 2.0 0a1.0 1.0 0 1 0 -2.0 0M65.1 72.2a1.0 1.0 0 1 0 2.0 0a1.0 1.0 0 1 0 -2.0 0M68.3 72.9a1.0 1.0 0 1 0 2.0 0a1.0 1.0 0 1 0 -2.0 0M70.9 75.5a1.0 1.0 0 1 0 2.0 0a1.0 1.0 0 1 0 -2.0 0M79.4 74.2a1.0 1.0 0 1 0 2.0 0a1.0 1.0 0 1 0 -2.0 0M83.2 68.3a1.0 1.0 0 1 0 2.0 0a1.0 1.0 0 1 0 -2.0 0M89.8 65.1a1.0 1.0 0 1 0 2.0 0a1.0 1.0 0 1 0 -2.0 0M96.9 65.1a1.0 1.0 0 1 0 2.0 0a1.0 1.0 0 1 0 -2.0 0M81.9 79.4a1.0 1.0 0 1 0 2.0 0a1.0 1.0 0 1 0 -2.0 0M78.1 78.8a1.0 1.0 0 1 0 2.0 0a1.0 1.0 0 1 0 -2.0 0M76.1 79.4a1.0 1.0 0 1 0 2.0 0a1.0 1.0 0 1 0 -2.0 0M68.9 80.0a1.0 1.0 0 1 0 2.0 0a1.0 1.0 0 1 0 -2.0 0M70.9 84.6a1.0 1.0 0 1 0 2.0 0a1.0 1.0 0 1 0 -2.0 0M72.2 82.6a1.0 1.0 0 1 0 2.0 0a1.0 1.0 0 1 0 -2.0 0M67.6 83.9a1.0 1.0 0 1 0 2.0 0a1.0 1.0 0 1 0 -2.0 0M70.9 88.5a1.0 1.0 0 1 0 2.0 0a1.0 1.0 0 1 0 -2.0 0M64.4 90.4a1.0 1.0 0 1 0 2.0 0a1.0 1.0 0 1 0 -2.0 0M82.6 97.6a1.0 1.0 0 1 0 2.0 0a1.0 1.0 0 1 0 -2.0 0M85.9 83.3a1.0 1.0 0 1 0 2.0 0a1.0 1.0 0 1 0 -2.0 0M117.1 96.3a1.0 1.0 0 1 0 2.0 0a1.0 1.0 0 1 0 -2.0 0M122.2 68.3a1.0 1.0 0 1 0 2.0 0a1.0 1.0 0 1 0 -2.0 0"/></g>
</g>
<rect x="338.25" y="140.55" width="130.4" height="101.8" fill="none" stroke="#1a1a1a" stroke-width="1.45"/>
<path d="M333.65 164.04H338.25M333.65 203.20H338.25M333.65 242.35H338.25M338.25 242.35V246.95M376.60 242.35V246.95M414.96 242.35V246.95M453.31 242.35V246.95" stroke="#1a1a1a" stroke-width="1.2" fill="none"/>
<text x="338.35" y="137.05" font-size="10">(f)</text>
<text x="469.15" y="137.05" font-size="10" text-anchor="end">ΔRMSE: -0.276 (-1.3%)</text>
<text x="12.8" y="194.75" font-size="12.5" text-anchor="middle">RH</text>
<path d="M473.6 149.25L477.80 144.95L482.0 149.25Z" fill="#a3002a"/><rect x="473.6" y="149.25" width="8.40" height="8.44" fill="#ee1b34"/><rect x="473.6" y="157.64" width="8.40" height="8.44" fill="#f43b3e"/><rect x="473.6" y="166.03" width="8.40" height="8.44" fill="#fca66a"/><rect x="473.6" y="174.42" width="8.40" height="8.44" fill="#fdd591"/><rect x="473.6" y="182.81" width="8.40" height="8.44" fill="#fffde2"/><rect x="473.6" y="191.20" width="8.40" height="8.44" fill="#e4fbff"/><rect x="473.6" y="199.59" width="8.40" height="8.44" fill="#9ae5f8"/><rect x="473.6" y="207.98" width="8.40" height="8.44" fill="#66c6f7"/><rect x="473.6" y="216.37" width="8.40" height="8.44" fill="#3a86f5"/><rect x="473.6" y="224.76" width="8.40" height="8.44" fill="#2a4ff3"/><path d="M473.6 233.15L477.80 237.55L482.0 233.15Z" fill="#1f0fd6"/>
<path d="M473.6 149.25L477.80 144.95L482.0 149.25V233.15L477.80 237.55L473.6 233.15Z" fill="none" stroke="#777" stroke-width="0.5"/>
<path d="M482.0 157.64h1.6" stroke="#999" stroke-width="0.7"/>
<text x="484.9" y="160.89" font-size="9">4</text>
<path d="M482.0 174.42h1.6" stroke="#999" stroke-width="0.7"/>
<text x="484.9" y="177.67" font-size="9">2</text>
<path d="M482.0 191.20h1.6" stroke="#999" stroke-width="0.7"/>
<text x="484.9" y="194.45" font-size="9">0</text>
<path d="M482.0 207.98h1.6" stroke="#999" stroke-width="0.7"/>
<text x="484.9" y="211.23" font-size="9">−2</text>
<path d="M482.0 224.76h1.6" stroke="#999" stroke-width="0.7"/>
<text x="484.9" y="228.01" font-size="9">−4</text>
<clipPath id="cp6"><rect x="51.75" y="265.50" width="130.4" height="101.8"/></clipPath>
<g clip-path="url(#cp6)">
<use href="#cont" transform="translate(51.75,265.50)"/>
<g transform="translate(51.75,265.50)"><path fill="#dcf8fd" d="M16.7 16.4a1.0 1.0 0 1 0 2.0 0a1.0 1.0 0 1 0 -2.0 0M29.3 16.0a1.0 1.0 0 1 0 2.0 0a1.0 1.0 0 1 0 -2.0 0M37.8 16.0a1.0 1.0 0 1 0 2.0 0a1.0 1.0 0 1 0 -2.0 0M43.8 29.6a1.0 1.0 0 1 0 2.0 0a1.0 1.0 0 1 0 -2.0 0M26.4 29.6a1.0 1.0 0 1 0 2.0 0a1.0 1.0 0 1 0 -2.0 0M0.9 34.1a1.0 1.0 0 1 0 2.0 0a1.0 1.0 0 1 0 -2.0 0M28.0 38.7a1.0 1.0 0 1 0 2.0 0a1.0 1.0 0 1 0 -2.0 0M35.9 41.7a1.0 1.0 0 1 0 2.0 0a1.0 1.0 0 1 0 -2.0 0M41.8 41.7a1.0 1.0 0 1 0 2.0 0a1.0 1.0 0 1 0 -2.0 0M45.8 38.8a1.0 1.0 0 1 0 2.0 0a1.0 1.0 0 1 0 -2.0 0M95.4 12.9a1.0 1.0 0 1 0 2.0 0a1.0 1.0 0 1 0 -2.0 0M77.2 10.9a1.0 1.0 0 1 0 2.0 0a1.0 1.0 0 1 0 -2.0 0M87.7 13.5a1.0 1.0 0 1 0 2.0 0a1.0 1.0 0 1 0 -2.0 0M90.2 5.7a1.0 1.0 0 1 0 2.0 0a1.0 1.0 0 1 0 -2.0 0M107.2 39.5a1.0 1.0 0 1 0 2.0 0a1.0 1.0 0 1 0 -2.0 0M118.8 26.5a1.0 1.0 0 1 0 2.0 0a1.0 1.0 0 1 0 -2.0 0M124.1 26.5a1.0 1.0 0 1 0 2.0 0a1.0 1.0 0 1 0 -2.0 0M72.0 33.0a1.0 1.0 0 1 0 2.0 0a1.0 1.0 0 1 0 -2.0 0M44.8 98.3a1.0 1.0 0 1 0 2.0 0a1.0 1.0 0 1 0 -2.0 0M46.0 71.0a1.0 1.0 0 1 0 2.0 0a1.0 1.0 0 1 0 -2.0 0M43.4 64.5a1.0 1.0 0 1 0 2.0 0a1.0 1.0 0 1 0 -2.0 0M53.8 64.5a1.0 1.0 0 1 0 2.0 0a1.0 1.0 0 1 0 -2.0 0M38.2 90.5a1.0 1.0 0 1 0 2.0 0a1.0 1.0 0 1 0 -2.0 0M55.2 91.8a1.0 1.0 0 1 0 2.0 0a1.0 1.0 0 1 0 -2.0 0M120.2 80.1a1.0 1.0 0 1 0 2.0 0a1.0 1.0 0 1 0 -2.0 0M100.7 82.7a1.0 1.0 0 1 0 2.0 0a1.0 1.0 0 1 0 -2.0 0M108.4 82.7a1.0 1.0 0 1 0 2.0 0a1.0 1.0 0 1 0 -2.0 0M113.7 77.5a1.0 1.0 0 1 0 2.0 0a1.0 1.0 0 1 0 -2.0 0M98.1 90.5a1.0 1.0 0 1 0 2.0 0a1.0 1.0 0 1 0 -2.0 0M109.8 74.9a1.0 1.0 0 1 0 2.0 0a1.0 1.0 0 1 0 -2.0 0M122.8 87.9a1.0 1.0 0 1 0 2.0 0a1.0 1.0 0 1 0 -2.0 0M33.6 2.3a1.0 1.0 0 1 0 2.0 0a1.0 1.0 0 1 0 -2.0 0M84.4 3.0a1.0 1.0 0 1 0 2.0 0a1.0 1.0 0 1 0 -2.0 0M72.8 10.2a1.0 1.0 0 1 0 2.0 0a1.0 1.0 0 1 0 -2.0 0M119.8 10.4a1.0 1.0 0 1 0 2.0 0a1.0 1.0 0 1 0 -2.0 0M102.5 20.4a1.0 1.0 0 1 0 2.0 0a1.0 1.0 0 1 0 -2.0 0M92.4 24.1a1.0 1.0 0 1 0 2.0 0a1.0 1.0 0 1 0 -2.0 0M64.5 29.5a1.0 1.0 0 1 0 2.0 0a1.0 1.0 0 1 0 -2.0 0M49.7 32.8a1.0 1.0 0 1 0 2.0 0a1.0 1.0 0 1 0 -2.0 0M65.0 35.0a1.0 1.0 0 1 0 2.0 0a1.0 1.0 0 1 0 -2.0 0M1.5 38.6a1.0 1.0 0 1 0 2.0 0a1.0 1.0 0 1 0 -2.0 0M61.1 39.4a1.0 1.0 0 1 0 2.0 0a1.0 1.0 0 1 0 -2.0 0M101.7 46.8a1.0 1.0 0 1 0 2.0 0a1.0 1.0 0 1 0 -2.0 0M115.1 49.0a1.0 1.0 0 1 0 2.0 0a1.0 1.0 0 1 0 -2.0 0M119.2 51.5a1.0 1.0 0 1 0 2.0 0a1.0 1.0 0 1 0 -2.0 0M101.0 62.0a1.0 1.0 0 1 0 2.0 0a1.0 1.0 0 1 0 -2.0 0M64.3 66.6a1.0 1.0 0 1 0 2.0 0a1.0 1.0 0 1 0 -2.0 0M56.7 68.9a1.0 1.0 0 1 0 2.0 0a1.0 1.0 0 1 0 -2.0 0M43.3 73.8a1.0 1.0 0 1 0 2.0 0a1.0 1.0 0 1 0 -2.0 0M101.4 74.3a1.0 1.0 0 1 0 2.0 0a1.0 1.0 0 1 0 -2.0 0M120.4 75.7a1.0 1.0 0 1 0 2.0 0a1.0 1.0 0 1 0 -2.0 0M125.0 75.5a1.0 1.0 0 1 0 2.0 0a1.0 1.0 0 1 0 -2.0 0M116.6 78.3a1.0 1.0 0 1 0 2.0 0a1.0 1.0 0 1 0 -2.0 0M126.0 78.9a1.0 1.0 0 1 0 2.0 0a1.0 1.0 0 1 0 -2.0 0M45.9 83.7a1.0 1.0 0 1 0 2.0 0a1.0 1.0 0 1 0 -2.0 0M52.1 94.4a1.0 1.0 0 1 0 2.0 0a1.0 1.0 0 1 0 -2.0 0M113.9 93.2a1.0 1.0 0 1 0 2.0 0a1.0 1.0 0 1 0 -2.0 0M56.9 99.6a1.0 1.0 0 1 0 2.0 0a1.0 1.0 0 1 0 -2.0 0M70.8 97.1a1.0 1.0 0 1 0 2.0 0a1.0 1.0 0 1 0 -2.0 0M78.8 99.4a1.0 1.0 0 1 0 2.0 0a1.0 1.0 0 1 0 -2.0 0"/><path fill="#fdf8d8" d="M30.6 9.4a1.0 1.0 0 1 0 2.0 0a1.0 1.0 0 1 0 -2.0 0M20.0 33.2a1.0 1.0 0 1 0 2.0 0a1.0 1.0 0 1 0 -2.0 0M55.0 31.2a1.0 1.0 0 1 0 2.0 0a1.0 1.0 0 1 0 -2.0 0M46.2 5.2a1.0 1.0 0 1 0 2.0 0a1.0 1.0 0 1 0 -2.0 0M83.2 15.8a1.0 1.0 0 1 0 2.0 0a1.0 1.0 0 1 0 -2.0 0M69.8 20.0a1.0 1.0 0 1 0 2.0 0a1.0 1.0 0 1 0 -2.0 0M83.4 20.0a1.0 1.0 0 1 0 2.0 0a1.0 1.0 0 1 0 -2.0 0M65.2 24.2a1.0 1.0 0 1 0 2.0 0a1.0 1.0 0 1 0 -2.0 0M111.1 25.6a1.0 1.0 0 1 0 2.0 0a1.0 1.0 0 1 0 -2.0 0M47.8 52.0a1.0 1.0 0 1 0 2.0 0a1.0 1.0 0 1 0 -2.0 0M51.6 51.1a1.0 1.0 0 1 0 2.0 0a1.0 1.0 0 1 0 -2.0 0M73.9 53.5a1.0 1.0 0 1 0 2.0 0a1.0 1.0 0 1 0 -2.0 0M96.5 57.3a1.0 1.0 0 1 0 2.0 0a1.0 1.0 0 1 0 -2.0 0M64.6 61.8a1.0 1.0 0 1 0 2.0 0a1.0 1.0 0 1 0 -2.0 0M84.2 60.2a1.0 1.0 0 1 0 2.0 0a1.0 1.0 0 1 0 -2.0 0M91.7 60.1a1.0 1.0 0 1 0 2.0 0a1.0 1.0 0 1 0 -2.0 0M115.5 65.9a1.0 1.0 0 1 0 2.0 0a1.0 1.0 0 1 0 -2.0 0M69.0 70.2a1.0 1.0 0 1 0 2.0 0a1.0 1.0 0 1 0 -2.0 0M103.0 70.5a1.0 1.0 0 1 0 2.0 0a1.0 1.0 0 1 0 -2.0 0M77.9 82.8a1.0 1.0 0 1 0 2.0 0a1.0 1.0 0 1 0 -2.0 0M88.7 85.4a1.0 1.0 0 1 0 2.0 0a1.0 1.0 0 1 0 -2.0 0M121.2 83.9a1.0 1.0 0 1 0 2.0 0a1.0 1.0 0 1 0 -2.0 0M40.3 87.3a1.0 1.0 0 1 0 2.0 0a1.0 1.0 0 1 0 -2.0 0M46.1 90.4a1.0 1.0 0 1 0 2.0 0a1.0 1.0 0 1 0 -2.0 0M65.5 93.3a1.0 1.0 0 1 0 2.0 0a1.0 1.0 0 1 0 -2.0 0"/><path fill="#9fe3f7" d="M111.7 10.2a1.0 1.0 0 1 0 2.0 0a1.0 1.0 0 1 0 -2.0 0M11.2 19.6a1.0 1.0 0 1 0 2.0 0a1.0 1.0 0 1 0 -2.0 0M74.6 24.6a1.0 1.0 0 1 0 2.0 0a1.0 1.0 0 1 0 -2.0 0M89.2 23.0a1.0 1.0 0 1 0 2.0 0a1.0 1.0 0 1 0 -2.0 0M5.6 38.3a1.0 1.0 0 1 0 2.0 0a1.0 1.0 0 1 0 -2.0 0M70.1 37.5a1.0 1.0 0 1 0 2.0 0a1.0 1.0 0 1 0 -2.0 0M54.9 47.3a1.0 1.0 0 1 0 2.0 0a1.0 1.0 0 1 0 -2.0 0M100.8 51.1a1.0 1.0 0 1 0 2.0 0a1.0 1.0 0 1 0 -2.0 0M48.0 57.0a1.0 1.0 0 1 0 2.0 0a1.0 1.0 0 1 0 -2.0 0M74.8 60.1a1.0 1.0 0 1 0 2.0 0a1.0 1.0 0 1 0 -2.0 0M98.3 80.8a1.0 1.0 0 1 0 2.0 0a1.0 1.0 0 1 0 -2.0 0M111.4 79.1a1.0 1.0 0 1 0 2.0 0a1.0 1.0 0 1 0 -2.0 0M75.1 95.1a1.0 1.0 0 1 0 2.0 0a1.0 1.0 0 1 0 -2.0 0M88.3 97.4a1.0 1.0 0 1 0 2.0 0a1.0 1.0 0 1 0 -2.0 0"/><path fill="#80d3f7" d="M51.7 8.1a1.0 1.0 0 1 0 2.0 0a1.0 1.0 0 1 0 -2.0 0M58.3 16.4a1.0 1.0 0 1 0 2.0 0a1.0 1.0 0 1 0 -2.0 0M25.3 21.9a1.0 1.0 0 1 0 2.0 0a1.0 1.0 0 1 0 -2.0 0M4.2 27.5a1.0 1.0 0 1 0 2.0 0a1.0 1.0 0 1 0 -2.0 0M20.0 40.2a1.0 1.0 0 1 0 2.0 0a1.0 1.0 0 1 0 -2.0 0M51.0 47.3a1.0 1.0 0 1 0 2.0 0a1.0 1.0 0 1 0 -2.0 0M108.4 5.1a1.0 1.0 0 1 0 2.0 0a1.0 1.0 0 1 0 -2.0 0M113.0 2.4a1.0 1.0 0 1 0 2.0 0a1.0 1.0 0 1 0 -2.0 0M120.2 3.8a1.0 1.0 0 1 0 2.0 0a1.0 1.0 0 1 0 -2.0 0M123.4 5.1a1.0 1.0 0 1 0 2.0 0a1.0 1.0 0 1 0 -2.0 0M118.8 5.7a1.0 1.0 0 1 0 2.0 0a1.0 1.0 0 1 0 -2.0 0M99.3 8.9a1.0 1.0 0 1 0 2.0 0a1.0 1.0 0 1 0 -2.0 0M72.0 17.4a1.0 1.0 0 1 0 2.0 0a1.0 1.0 0 1 0 -2.0 0M79.8 18.1a1.0 1.0 0 1 0 2.0 0a1.0 1.0 0 1 0 -2.0 0M107.2 14.8a1.0 1.0 0 1 0 2.0 0a1.0 1.0 0 1 0 -2.0 0M116.2 15.4a1.0 1.0 0 1 0 2.0 0a1.0 1.0 0 1 0 -2.0 0M92.8 19.4a1.0 1.0 0 1 0 2.0 0a1.0 1.0 0 1 0 -2.0 0M113.7 23.2a1.0 1.0 0 1 0 2.0 0a1.0 1.0 0 1 0 -2.0 0M121.4 24.6a1.0 1.0 0 1 0 2.0 0a1.0 1.0 0 1 0 -2.0 0M91.6 30.4a1.0 1.0 0 1 0 2.0 0a1.0 1.0 0 1 0 -2.0 0M87.0 34.3a1.0 1.0 0 1 0 2.0 0a1.0 1.0 0 1 0 -2.0 0M78.6 35.6a1.0 1.0 0 1 0 2.0 0a1.0 1.0 0 1 0 -2.0 0M77.2 39.5a1.0 1.0 0 1 0 2.0 0a1.0 1.0 0 1 0 -2.0 0M87.7 38.9a1.0 1.0 0 1 0 2.0 0a1.0 1.0 0 1 0 -2.0 0M90.2 36.9a1.0 1.0 0 1 0 2.0 0a1.0 1.0 0 1 0 -2.0 0M94.2 36.9a1.0 1.0 0 1 0 2.0 0a1.0 1.0 0 1 0 -2.0 0M96.8 34.9a1.0 1.0 0 1 0 2.0 0a1.0 1.0 0 1 0 -2.0 0M101.9 35.6a1.0 1.0 0 1 0 2.0 0a1.0 1.0 0 1 0 -2.0 0M103.2 31.1a1.0 1.0 0 1 0 2.0 0a1.0 1.0 0 1 0 -2.0 0M105.8 33.0a1.0 1.0 0 1 0 2.0 0a1.0 1.0 0 1 0 -2.0 0M102.6 38.2a1.0 1.0 0 1 0 2.0 0a1.0 1.0 0 1 0 -2.0 0M103.2 40.8a1.0 1.0 0 1 0 2.0 0a1.0 1.0 0 1 0 -2.0 0M79.8 45.4a1.0 1.0 0 1 0 2.0 0a1.0 1.0 0 1 0 -2.0 0M77.2 45.4a1.0 1.0 0 1 0 2.0 0a1.0 1.0 0 1 0 -2.0 0M81.2 48.6a1.0 1.0 0 1 0 2.0 0a1.0 1.0 0 1 0 -2.0 0M79.2 49.2a1.0 1.0 0 1 0 2.0 0a1.0 1.0 0 1 0 -2.0 0M121.4 32.4a1.0 1.0 0 1 0 2.0 0a1.0 1.0 0 1 0 -2.0 0M116.2 39.5a1.0 1.0 0 1 0 2.0 0a1.0 1.0 0 1 0 -2.0 0M67.5 45.4a1.0 1.0 0 1 0 2.0 0a1.0 1.0 0 1 0 -2.0 0M50.6 54.4a1.0 1.0 0 1 0 2.0 0a1.0 1.0 0 1 0 -2.0 0M63.6 59.3a1.0 1.0 0 1 0 2.0 0a1.0 1.0 0 1 0 -2.0 0M58.4 65.1a1.0 1.0 0 1 0 2.0 0a1.0 1.0 0 1 0 -2.0 0M56.4 78.1a1.0 1.0 0 1 0 2.0 0a1.0 1.0 0 1 0 -2.0 0M42.2 82.7a1.0 1.0 0 1 0 2.0 0a1.0 1.0 0 1 0 -2.0 0M53.2 82.7a1.0 1.0 0 1 0 2.0 0a1.0 1.0 0 1 0 -2.0 0M47.3 85.9a1.0 1.0 0 1 0 2.0 0a1.0 1.0 0 1 0 -2.0 0M65.5 52.8a1.0 1.0 0 1 0 2.0 0a1.0 1.0 0 1 0 -2.0 0M85.7 53.4a1.0 1.0 0 1 0 2.0 0a1.0 1.0 0 1 0 -2.0 0M109.1 54.8a1.0 1.0 0 1 0 2.0 0a1.0 1.0 0 1 0 -2.0 0M115.6 54.8a1.0 1.0 0 1 0 2.0 0a1.0 1.0 0 1 0 -2.0 0M126.7 54.1a1.0 1.0 0 1 0 2.0 0a1.0 1.0 0 1 0 -2.0 0M66.8 56.7a1.0 1.0 0 1 0 2.0 0a1.0 1.0 0 1 0 -2.0 0M70.1 56.1a1.0 1.0 0 1 0 2.0 0a1.0 1.0 0 1 0 -2.0 0M77.2 56.7a1.0 1.0 0 1 0 2.0 0a1.0 1.0 0 1 0 -2.0 0M81.2 58.6a1.0 1.0 0 1 0 2.0 0a1.0 1.0 0 1 0 -2.0 0M91.6 56.1a1.0 1.0 0 1 0 2.0 0a1.0 1.0 0 1 0 -2.0 0M94.8 60.6a1.0 1.0 0 1 0 2.0 0a1.0 1.0 0 1 0 -2.0 0M107.2 59.3a1.0 1.0 0 1 0 2.0 0a1.0 1.0 0 1 0 -2.0 0M116.2 61.9a1.0 1.0 0 1 0 2.0 0a1.0 1.0 0 1 0 -2.0 0M120.2 61.2a1.0 1.0 0 1 0 2.0 0a1.0 1.0 0 1 0 -2.0 0M124.1 59.3a1.0 1.0 0 1 0 2.0 0a1.0 1.0 0 1 0 -2.0 0M127.3 58.0a1.0 1.0 0 1 0 2.0 0a1.0 1.0 0 1 0 -2.0 0M81.2 61.9a1.0 1.0 0 1 0 2.0 0a1.0 1.0 0 1 0 -2.0 0M87.0 65.8a1.0 1.0 0 1 0 2.0 0a1.0 1.0 0 1 0 -2.0 0M89.6 65.8a1.0 1.0 0 1 0 2.0 0a1.0 1.0 0 1 0 -2.0 0M95.4 69.1a1.0 1.0 0 1 0 2.0 0a1.0 1.0 0 1 0 -2.0 0M98.7 65.8a1.0 1.0 0 1 0 2.0 0a1.0 1.0 0 1 0 -2.0 0M101.9 65.1a1.0 1.0 0 1 0 2.0 0a1.0 1.0 0 1 0 -2.0 0M117.6 71.0a1.0 1.0 0 1 0 2.0 0a1.0 1.0 0 1 0 -2.0 0M127.9 69.1a1.0 1.0 0 1 0 2.0 0a1.0 1.0 0 1 0 -2.0 0M87.7 76.9a1.0 1.0 0 1 0 2.0 0a1.0 1.0 0 1 0 -2.0 0M73.3 79.4a1.0 1.0 0 1 0 2.0 0a1.0 1.0 0 1 0 -2.0 0M69.5 80.1a1.0 1.0 0 1 0 2.0 0a1.0 1.0 0 1 0 -2.0 0M90.2 89.2a1.0 1.0 0 1 0 2.0 0a1.0 1.0 0 1 0 -2.0 0M81.2 93.8a1.0 1.0 0 1 0 2.0 0a1.0 1.0 0 1 0 -2.0 0M83.1 97.6a1.0 1.0 0 1 0 2.0 0a1.0 1.0 0 1 0 -2.0 0M104.6 74.9a1.0 1.0 0 1 0 2.0 0a1.0 1.0 0 1 0 -2.0 0M107.2 87.9a1.0 1.0 0 1 0 2.0 0a1.0 1.0 0 1 0 -2.0 0M111.1 90.5a1.0 1.0 0 1 0 2.0 0a1.0 1.0 0 1 0 -2.0 0M114.9 84.0a1.0 1.0 0 1 0 2.0 0a1.0 1.0 0 1 0 -2.0 0M125.3 82.7a1.0 1.0 0 1 0 2.0 0a1.0 1.0 0 1 0 -2.0 0M116.2 91.8a1.0 1.0 0 1 0 2.0 0a1.0 1.0 0 1 0 -2.0 0M121.4 93.1a1.0 1.0 0 1 0 2.0 0a1.0 1.0 0 1 0 -2.0 0M103.2 97.0a1.0 1.0 0 1 0 2.0 0a1.0 1.0 0 1 0 -2.0 0M109.1 98.3a1.0 1.0 0 1 0 2.0 0a1.0 1.0 0 1 0 -2.0 0"/><path fill="#fdbb84" d="M38.5 0.8a1.0 1.0 0 1 0 2.0 0a1.0 1.0 0 1 0 -2.0 0M19.4 9.0a1.0 1.0 0 1 0 2.0 0a1.0 1.0 0 1 0 -2.0 0M49.7 9.8a1.0 1.0 0 1 0 2.0 0a1.0 1.0 0 1 0 -2.0 0M41.8 25.0a1.0 1.0 0 1 0 2.0 0a1.0 1.0 0 1 0 -2.0 0M18.7 28.1a1.0 1.0 0 1 0 2.0 0a1.0 1.0 0 1 0 -2.0 0M33.2 49.4a1.0 1.0 0 1 0 2.0 0a1.0 1.0 0 1 0 -2.0 0M117.6 5.1a1.0 1.0 0 1 0 2.0 0a1.0 1.0 0 1 0 -2.0 0M101.3 8.3a1.0 1.0 0 1 0 2.0 0a1.0 1.0 0 1 0 -2.0 0M123.4 10.2a1.0 1.0 0 1 0 2.0 0a1.0 1.0 0 1 0 -2.0 0M124.1 16.8a1.0 1.0 0 1 0 2.0 0a1.0 1.0 0 1 0 -2.0 0M113.0 19.4a1.0 1.0 0 1 0 2.0 0a1.0 1.0 0 1 0 -2.0 0M117.6 19.4a1.0 1.0 0 1 0 2.0 0a1.0 1.0 0 1 0 -2.0 0M68.2 27.8a1.0 1.0 0 1 0 2.0 0a1.0 1.0 0 1 0 -2.0 0M99.3 28.4a1.0 1.0 0 1 0 2.0 0a1.0 1.0 0 1 0 -2.0 0M85.7 32.4a1.0 1.0 0 1 0 2.0 0a1.0 1.0 0 1 0 -2.0 0M86.3 35.6a1.0 1.0 0 1 0 2.0 0a1.0 1.0 0 1 0 -2.0 0M111.1 36.2a1.0 1.0 0 1 0 2.0 0a1.0 1.0 0 1 0 -2.0 0M88.3 44.1a1.0 1.0 0 1 0 2.0 0a1.0 1.0 0 1 0 -2.0 0M86.3 43.4a1.0 1.0 0 1 0 2.0 0a1.0 1.0 0 1 0 -2.0 0M93.5 48.6a1.0 1.0 0 1 0 2.0 0a1.0 1.0 0 1 0 -2.0 0M111.7 43.4a1.0 1.0 0 1 0 2.0 0a1.0 1.0 0 1 0 -2.0 0M125.3 36.2a1.0 1.0 0 1 0 2.0 0a1.0 1.0 0 1 0 -2.0 0M125.3 49.9a1.0 1.0 0 1 0 2.0 0a1.0 1.0 0 1 0 -2.0 0M72.7 49.2a1.0 1.0 0 1 0 2.0 0a1.0 1.0 0 1 0 -2.0 0M52.5 72.9a1.0 1.0 0 1 0 2.0 0a1.0 1.0 0 1 0 -2.0 0M49.3 74.6a1.0 1.0 0 1 0 2.0 0a1.0 1.0 0 1 0 -2.0 0M39.5 79.4a1.0 1.0 0 1 0 2.0 0a1.0 1.0 0 1 0 -2.0 0M51.9 81.4a1.0 1.0 0 1 0 2.0 0a1.0 1.0 0 1 0 -2.0 0M36.3 85.9a1.0 1.0 0 1 0 2.0 0a1.0 1.0 0 1 0 -2.0 0M48.7 89.2a1.0 1.0 0 1 0 2.0 0a1.0 1.0 0 1 0 -2.0 0M49.9 96.4a1.0 1.0 0 1 0 2.0 0a1.0 1.0 0 1 0 -2.0 0M49.9 99.6a1.0 1.0 0 1 0 2.0 0a1.0 1.0 0 1 0 -2.0 0M70.8 52.1a1.0 1.0 0 1 0 2.0 0a1.0 1.0 0 1 0 -2.0 0M98.1 54.1a1.0 1.0 0 1 0 2.0 0a1.0 1.0 0 1 0 -2.0 0M121.4 53.4a1.0 1.0 0 1 0 2.0 0a1.0 1.0 0 1 0 -2.0 0M74.0 57.4a1.0 1.0 0 1 0 2.0 0a1.0 1.0 0 1 0 -2.0 0M96.8 61.2a1.0 1.0 0 1 0 2.0 0a1.0 1.0 0 1 0 -2.0 0M103.2 60.6a1.0 1.0 0 1 0 2.0 0a1.0 1.0 0 1 0 -2.0 0M105.8 61.9a1.0 1.0 0 1 0 2.0 0a1.0 1.0 0 1 0 -2.0 0M112.3 59.9a1.0 1.0 0 1 0 2.0 0a1.0 1.0 0 1 0 -2.0 0M77.2 67.1a1.0 1.0 0 1 0 2.0 0a1.0 1.0 0 1 0 -2.0 0M103.2 67.1a1.0 1.0 0 1 0 2.0 0a1.0 1.0 0 1 0 -2.0 0M105.8 65.8a1.0 1.0 0 1 0 2.0 0a1.0 1.0 0 1 0 -2.0 0M107.8 66.4a1.0 1.0 0 1 0 2.0 0a1.0 1.0 0 1 0 -2.0 0M111.1 68.4a1.0 1.0 0 1 0 2.0 0a1.0 1.0 0 1 0 -2.0 0M113.7 70.4a1.0 1.0 0 1 0 2.0 0a1.0 1.0 0 1 0 -2.0 0M79.8 78.1a1.0 1.0 0 1 0 2.0 0a1.0 1.0 0 1 0 -2.0 0M67.5 81.4a1.0 1.0 0 1 0 2.0 0a1.0 1.0 0 1 0 -2.0 0M68.2 90.5a1.0 1.0 0 1 0 2.0 0a1.0 1.0 0 1 0 -2.0 0M64.9 89.9a1.0 1.0 0 1 0 2.0 0a1.0 1.0 0 1 0 -2.0 0M85.7 89.2a1.0 1.0 0 1 0 2.0 0a1.0 1.0 0 1 0 -2.0 0M87.7 93.1a1.0 1.0 0 1 0 2.0 0a1.0 1.0 0 1 0 -2.0 0M99.3 76.2a1.0 1.0 0 1 0 2.0 0a1.0 1.0 0 1 0 -2.0 0M103.2 91.1a1.0 1.0 0 1 0 2.0 0a1.0 1.0 0 1 0 -2.0 0M126.7 90.5a1.0 1.0 0 1 0 2.0 0a1.0 1.0 0 1 0 -2.0 0M117.6 96.4a1.0 1.0 0 1 0 2.0 0a1.0 1.0 0 1 0 -2.0 0M121.4 100.9a1.0 1.0 0 1 0 2.0 0a1.0 1.0 0 1 0 -2.0 0"/><path fill="#3c8af4" d="M106.5 26.5a1.0 1.0 0 1 0 2.0 0a1.0 1.0 0 1 0 -2.0 0M75.9 38.2a1.0 1.0 0 1 0 2.0 0a1.0 1.0 0 1 0 -2.0 0M74.7 39.5a1.0 1.0 0 1 0 2.0 0a1.0 1.0 0 1 0 -2.0 0M83.1 42.1a1.0 1.0 0 1 0 2.0 0a1.0 1.0 0 1 0 -2.0 0M85.1 39.5a1.0 1.0 0 1 0 2.0 0a1.0 1.0 0 1 0 -2.0 0M99.3 35.6a1.0 1.0 0 1 0 2.0 0a1.0 1.0 0 1 0 -2.0 0M113.7 36.9a1.0 1.0 0 1 0 2.0 0a1.0 1.0 0 1 0 -2.0 0M101.3 40.1a1.0 1.0 0 1 0 2.0 0a1.0 1.0 0 1 0 -2.0 0M91.6 42.1a1.0 1.0 0 1 0 2.0 0a1.0 1.0 0 1 0 -2.0 0M82.4 44.7a1.0 1.0 0 1 0 2.0 0a1.0 1.0 0 1 0 -2.0 0M59.0 60.6a1.0 1.0 0 1 0 2.0 0a1.0 1.0 0 1 0 -2.0 0M55.2 75.9a1.0 1.0 0 1 0 2.0 0a1.0 1.0 0 1 0 -2.0 0M62.3 76.2a1.0 1.0 0 1 0 2.0 0a1.0 1.0 0 1 0 -2.0 0M46.0 80.1a1.0 1.0 0 1 0 2.0 0a1.0 1.0 0 1 0 -2.0 0M93.5 64.5a1.0 1.0 0 1 0 2.0 0a1.0 1.0 0 1 0 -2.0 0M83.8 68.4a1.0 1.0 0 1 0 2.0 0a1.0 1.0 0 1 0 -2.0 0M85.1 72.3a1.0 1.0 0 1 0 2.0 0a1.0 1.0 0 1 0 -2.0 0M71.4 77.5a1.0 1.0 0 1 0 2.0 0a1.0 1.0 0 1 0 -2.0 0M85.1 91.1a1.0 1.0 0 1 0 2.0 0a1.0 1.0 0 1 0 -2.0 0M107.2 78.1a1.0 1.0 0 1 0 2.0 0a1.0 1.0 0 1 0 -2.0 0M107.2 95.1a1.0 1.0 0 1 0 2.0 0a1.0 1.0 0 1 0 -2.0 0"/><path fill="#ee2531" d="M55.0 21.3a1.0 1.0 0 1 0 2.0 0a1.0 1.0 0 1 0 -2.0 0M8.5 45.4a1.0 1.0 0 1 0 2.0 0a1.0 1.0 0 1 0 -2.0 0M63.6 12.0a1.0 1.0 0 1 0 2.0 0a1.0 1.0 0 1 0 -2.0 0M97.4 3.1a1.0 1.0 0 1 0 2.0 0a1.0 1.0 0 1 0 -2.0 0M125.3 3.8a1.0 1.0 0 1 0 2.0 0a1.0 1.0 0 1 0 -2.0 0M111.7 15.4a1.0 1.0 0 1 0 2.0 0a1.0 1.0 0 1 0 -2.0 0M100.7 16.8a1.0 1.0 0 1 0 2.0 0a1.0 1.0 0 1 0 -2.0 0M104.6 24.6a1.0 1.0 0 1 0 2.0 0a1.0 1.0 0 1 0 -2.0 0M107.8 23.9a1.0 1.0 0 1 0 2.0 0a1.0 1.0 0 1 0 -2.0 0M98.7 26.5a1.0 1.0 0 1 0 2.0 0a1.0 1.0 0 1 0 -2.0 0M110.4 29.1a1.0 1.0 0 1 0 2.0 0a1.0 1.0 0 1 0 -2.0 0M94.2 29.1a1.0 1.0 0 1 0 2.0 0a1.0 1.0 0 1 0 -2.0 0M109.1 34.9a1.0 1.0 0 1 0 2.0 0a1.0 1.0 0 1 0 -2.0 0M112.3 33.6a1.0 1.0 0 1 0 2.0 0a1.0 1.0 0 1 0 -2.0 0M98.1 42.8a1.0 1.0 0 1 0 2.0 0a1.0 1.0 0 1 0 -2.0 0M95.4 43.4a1.0 1.0 0 1 0 2.0 0a1.0 1.0 0 1 0 -2.0 0M105.8 46.6a1.0 1.0 0 1 0 2.0 0a1.0 1.0 0 1 0 -2.0 0M122.1 42.1a1.0 1.0 0 1 0 2.0 0a1.0 1.0 0 1 0 -2.0 0M69.5 40.1a1.0 1.0 0 1 0 2.0 0a1.0 1.0 0 1 0 -2.0 0M52.5 69.7a1.0 1.0 0 1 0 2.0 0a1.0 1.0 0 1 0 -2.0 0M57.1 75.2a1.0 1.0 0 1 0 2.0 0a1.0 1.0 0 1 0 -2.0 0M49.3 79.4a1.0 1.0 0 1 0 2.0 0a1.0 1.0 0 1 0 -2.0 0M44.1 87.9a1.0 1.0 0 1 0 2.0 0a1.0 1.0 0 1 0 -2.0 0M60.3 93.8a1.0 1.0 0 1 0 2.0 0a1.0 1.0 0 1 0 -2.0 0M112.3 54.8a1.0 1.0 0 1 0 2.0 0a1.0 1.0 0 1 0 -2.0 0M110.4 61.9a1.0 1.0 0 1 0 2.0 0a1.0 1.0 0 1 0 -2.0 0M98.1 68.4a1.0 1.0 0 1 0 2.0 0a1.0 1.0 0 1 0 -2.0 0M100.7 67.1a1.0 1.0 0 1 0 2.0 0a1.0 1.0 0 1 0 -2.0 0M109.8 64.5a1.0 1.0 0 1 0 2.0 0a1.0 1.0 0 1 0 -2.0 0M66.8 72.3a1.0 1.0 0 1 0 2.0 0a1.0 1.0 0 1 0 -2.0 0M90.2 71.6a1.0 1.0 0 1 0 2.0 0a1.0 1.0 0 1 0 -2.0 0M96.8 78.1a1.0 1.0 0 1 0 2.0 0a1.0 1.0 0 1 0 -2.0 0M69.5 80.8a1.0 1.0 0 1 0 2.0 0a1.0 1.0 0 1 0 -2.0 0M66.8 85.3a1.0 1.0 0 1 0 2.0 0a1.0 1.0 0 1 0 -2.0 0M77.2 88.6a1.0 1.0 0 1 0 2.0 0a1.0 1.0 0 1 0 -2.0 0M84.4 85.3a1.0 1.0 0 1 0 2.0 0a1.0 1.0 0 1 0 -2.0 0M118.8 85.9a1.0 1.0 0 1 0 2.0 0a1.0 1.0 0 1 0 -2.0 0M113.7 100.2a1.0 1.0 0 1 0 2.0 0a1.0 1.0 0 1 0 -2.0 0"/><path fill="#a8072e" d="M121.4 2.1a1.0 1.0 0 1 0 2.0 0a1.0 1.0 0 1 0 -2.0 0M127.9 3.8a1.0 1.0 0 1 0 2.0 0a1.0 1.0 0 1 0 -2.0 0M97.8 20.0a1.0 1.0 0 1 0 2.0 0a1.0 1.0 0 1 0 -2.0 0M81.8 32.4a1.0 1.0 0 1 0 2.0 0a1.0 1.0 0 1 0 -2.0 0M74.0 38.9a1.0 1.0 0 1 0 2.0 0a1.0 1.0 0 1 0 -2.0 0M107.2 32.4a1.0 1.0 0 1 0 2.0 0a1.0 1.0 0 1 0 -2.0 0M89.6 43.4a1.0 1.0 0 1 0 2.0 0a1.0 1.0 0 1 0 -2.0 0M87.7 48.6a1.0 1.0 0 1 0 2.0 0a1.0 1.0 0 1 0 -2.0 0M109.1 44.7a1.0 1.0 0 1 0 2.0 0a1.0 1.0 0 1 0 -2.0 0M114.9 45.4a1.0 1.0 0 1 0 2.0 0a1.0 1.0 0 1 0 -2.0 0M116.9 31.1a1.0 1.0 0 1 0 2.0 0a1.0 1.0 0 1 0 -2.0 0M117.6 33.0a1.0 1.0 0 1 0 2.0 0a1.0 1.0 0 1 0 -2.0 0M120.2 36.9a1.0 1.0 0 1 0 2.0 0a1.0 1.0 0 1 0 -2.0 0M124.7 42.8a1.0 1.0 0 1 0 2.0 0a1.0 1.0 0 1 0 -2.0 0M113.0 50.6a1.0 1.0 0 1 0 2.0 0a1.0 1.0 0 1 0 -2.0 0M56.4 71.6a1.0 1.0 0 1 0 2.0 0a1.0 1.0 0 1 0 -2.0 0M59.0 82.4a1.0 1.0 0 1 0 2.0 0a1.0 1.0 0 1 0 -2.0 0M61.0 86.3a1.0 1.0 0 1 0 2.0 0a1.0 1.0 0 1 0 -2.0 0M87.0 53.1a1.0 1.0 0 1 0 2.0 0a1.0 1.0 0 1 0 -2.0 0M93.5 52.8a1.0 1.0 0 1 0 2.0 0a1.0 1.0 0 1 0 -2.0 0M99.3 58.6a1.0 1.0 0 1 0 2.0 0a1.0 1.0 0 1 0 -2.0 0M66.8 65.8a1.0 1.0 0 1 0 2.0 0a1.0 1.0 0 1 0 -2.0 0M70.8 65.1a1.0 1.0 0 1 0 2.0 0a1.0 1.0 0 1 0 -2.0 0M72.0 65.1a1.0 1.0 0 1 0 2.0 0a1.0 1.0 0 1 0 -2.0 0M88.3 61.9a1.0 1.0 0 1 0 2.0 0a1.0 1.0 0 1 0 -2.0 0M122.1 68.4a1.0 1.0 0 1 0 2.0 0a1.0 1.0 0 1 0 -2.0 0M65.5 69.7a1.0 1.0 0 1 0 2.0 0a1.0 1.0 0 1 0 -2.0 0M64.9 72.3a1.0 1.0 0 1 0 2.0 0a1.0 1.0 0 1 0 -2.0 0M70.8 74.2a1.0 1.0 0 1 0 2.0 0a1.0 1.0 0 1 0 -2.0 0M81.8 73.6a1.0 1.0 0 1 0 2.0 0a1.0 1.0 0 1 0 -2.0 0M92.2 71.6a1.0 1.0 0 1 0 2.0 0a1.0 1.0 0 1 0 -2.0 0M94.8 74.9a1.0 1.0 0 1 0 2.0 0a1.0 1.0 0 1 0 -2.0 0M90.2 77.5a1.0 1.0 0 1 0 2.0 0a1.0 1.0 0 1 0 -2.0 0M83.1 79.4a1.0 1.0 0 1 0 2.0 0a1.0 1.0 0 1 0 -2.0 0M75.3 78.8a1.0 1.0 0 1 0 2.0 0a1.0 1.0 0 1 0 -2.0 0M64.9 77.5a1.0 1.0 0 1 0 2.0 0a1.0 1.0 0 1 0 -2.0 0M70.8 88.6a1.0 1.0 0 1 0 2.0 0a1.0 1.0 0 1 0 -2.0 0M74.0 91.8a1.0 1.0 0 1 0 2.0 0a1.0 1.0 0 1 0 -2.0 0M70.8 93.8a1.0 1.0 0 1 0 2.0 0a1.0 1.0 0 1 0 -2.0 0"/><path fill="#2412d8" d="M114.9 5.7a1.0 1.0 0 1 0 2.0 0a1.0 1.0 0 1 0 -2.0 0M101.9 27.1a1.0 1.0 0 1 0 2.0 0a1.0 1.0 0 1 0 -2.0 0M85.1 30.4a1.0 1.0 0 1 0 2.0 0a1.0 1.0 0 1 0 -2.0 0M83.8 31.7a1.0 1.0 0 1 0 2.0 0a1.0 1.0 0 1 0 -2.0 0M82.4 34.3a1.0 1.0 0 1 0 2.0 0a1.0 1.0 0 1 0 -2.0 0M79.8 37.6a1.0 1.0 0 1 0 2.0 0a1.0 1.0 0 1 0 -2.0 0M75.3 38.9a1.0 1.0 0 1 0 2.0 0a1.0 1.0 0 1 0 -2.0 0M78.6 42.8a1.0 1.0 0 1 0 2.0 0a1.0 1.0 0 1 0 -2.0 0M81.2 42.1a1.0 1.0 0 1 0 2.0 0a1.0 1.0 0 1 0 -2.0 0M82.4 40.8a1.0 1.0 0 1 0 2.0 0a1.0 1.0 0 1 0 -2.0 0M100.7 42.1a1.0 1.0 0 1 0 2.0 0a1.0 1.0 0 1 0 -2.0 0M83.8 46.6a1.0 1.0 0 1 0 2.0 0a1.0 1.0 0 1 0 -2.0 0M90.2 49.2a1.0 1.0 0 1 0 2.0 0a1.0 1.0 0 1 0 -2.0 0M96.8 47.9a1.0 1.0 0 1 0 2.0 0a1.0 1.0 0 1 0 -2.0 0M118.8 31.7a1.0 1.0 0 1 0 2.0 0a1.0 1.0 0 1 0 -2.0 0M119.5 42.8a1.0 1.0 0 1 0 2.0 0a1.0 1.0 0 1 0 -2.0 0M127.3 42.1a1.0 1.0 0 1 0 2.0 0a1.0 1.0 0 1 0 -2.0 0M126.7 46.0a1.0 1.0 0 1 0 2.0 0a1.0 1.0 0 1 0 -2.0 0M121.4 47.9a1.0 1.0 0 1 0 2.0 0a1.0 1.0 0 1 0 -2.0 0M62.3 55.4a1.0 1.0 0 1 0 2.0 0a1.0 1.0 0 1 0 -2.0 0M58.4 89.9a1.0 1.0 0 1 0 2.0 0a1.0 1.0 0 1 0 -2.0 0M60.3 95.1a1.0 1.0 0 1 0 2.0 0a1.0 1.0 0 1 0 -2.0 0M51.9 97.3a1.0 1.0 0 1 0 2.0 0a1.0 1.0 0 1 0 -2.0 0M61.7 100.9a1.0 1.0 0 1 0 2.0 0a1.0 1.0 0 1 0 -2.0 0M76.6 52.1a1.0 1.0 0 1 0 2.0 0a1.0 1.0 0 1 0 -2.0 0M104.6 53.4a1.0 1.0 0 1 0 2.0 0a1.0 1.0 0 1 0 -2.0 0M101.3 56.7a1.0 1.0 0 1 0 2.0 0a1.0 1.0 0 1 0 -2.0 0M66.2 64.5a1.0 1.0 0 1 0 2.0 0a1.0 1.0 0 1 0 -2.0 0M85.1 63.9a1.0 1.0 0 1 0 2.0 0a1.0 1.0 0 1 0 -2.0 0M77.2 74.9a1.0 1.0 0 1 0 2.0 0a1.0 1.0 0 1 0 -2.0 0M75.9 75.6a1.0 1.0 0 1 0 2.0 0a1.0 1.0 0 1 0 -2.0 0M77.9 74.2a1.0 1.0 0 1 0 2.0 0a1.0 1.0 0 1 0 -2.0 0M79.8 74.9a1.0 1.0 0 1 0 2.0 0a1.0 1.0 0 1 0 -2.0 0M92.2 74.9a1.0 1.0 0 1 0 2.0 0a1.0 1.0 0 1 0 -2.0 0M94.2 77.5a1.0 1.0 0 1 0 2.0 0a1.0 1.0 0 1 0 -2.0 0M72.0 75.6a1.0 1.0 0 1 0 2.0 0a1.0 1.0 0 1 0 -2.0 0M71.4 84.0a1.0 1.0 0 1 0 2.0 0a1.0 1.0 0 1 0 -2.0 0M72.7 83.4a1.0 1.0 0 1 0 2.0 0a1.0 1.0 0 1 0 -2.0 0M74.0 84.6a1.0 1.0 0 1 0 2.0 0a1.0 1.0 0 1 0 -2.0 0M74.7 83.4a1.0 1.0 0 1 0 2.0 0a1.0 1.0 0 1 0 -2.0 0M75.3 87.9a1.0 1.0 0 1 0 2.0 0a1.0 1.0 0 1 0 -2.0 0M77.2 89.9a1.0 1.0 0 1 0 2.0 0a1.0 1.0 0 1 0 -2.0 0M66.8 96.4a1.0 1.0 0 1 0 2.0 0a1.0 1.0 0 1 0 -2.0 0M91.6 85.3a1.0 1.0 0 1 0 2.0 0a1.0 1.0 0 1 0 -2.0 0M124.1 97.6a1.0 1.0 0 1 0 2.0 0a1.0 1.0 0 1 0 -2.0 0M125.3 99.6a1.0 1.0 0 1 0 2.0 0a1.0 1.0 0 1 0 -2.0 0"/></g>
</g>
<rect x="51.75" y="265.50" width="130.4" height="101.8" fill="none" stroke="#1a1a1a" stroke-width="1.45"/>
<path d="M47.15 288.99H51.75M47.15 328.15H51.75M47.15 367.30H51.75M51.75 367.30V371.90M90.10 367.30V371.90M128.46 367.30V371.90M166.81 367.30V371.90" stroke="#1a1a1a" stroke-width="1.2" fill="none"/>
<text x="51.85" y="262.00" font-size="10">(g)</text>
<text x="182.65" y="262.00" font-size="10" text-anchor="end">ΔRMSE: -0.005 (-0.3%)</text>
<text x="45.15" y="292.59" font-size="10" text-anchor="end">32°N</text>
<text x="45.15" y="331.75" font-size="10" text-anchor="end">27°N</text>
<text x="45.15" y="370.90" font-size="10" text-anchor="end">22°N</text>
<clipPath id="cp7"><rect x="195.00" y="265.50" width="130.4" height="101.8"/></clipPath>
<g clip-path="url(#cp7)">
<use href="#cont" transform="translate(195.00,265.50)"/>
<g transform="translate(195.00,265.50)"><path fill="#dcf8fd" d="M37.7 16.1a1.0 1.0 0 1 0 2.0 0a1.0 1.0 0 1 0 -2.0 0M26.3 29.8a1.0 1.0 0 1 0 2.0 0a1.0 1.0 0 1 0 -2.0 0M20.1 33.4a1.0 1.0 0 1 0 2.0 0a1.0 1.0 0 1 0 -2.0 0M0.6 34.0a1.0 1.0 0 1 0 2.0 0a1.0 1.0 0 1 0 -2.0 0M28.2 38.9a1.0 1.0 0 1 0 2.0 0a1.0 1.0 0 1 0 -2.0 0M41.9 41.8a1.0 1.0 0 1 0 2.0 0a1.0 1.0 0 1 0 -2.0 0M45.8 39.1a1.0 1.0 0 1 0 2.0 0a1.0 1.0 0 1 0 -2.0 0M52.3 26.5a1.0 1.0 0 1 0 2.0 0a1.0 1.0 0 1 0 -2.0 0M95.2 12.9a1.0 1.0 0 1 0 2.0 0a1.0 1.0 0 1 0 -2.0 0M71.8 13.5a1.0 1.0 0 1 0 2.0 0a1.0 1.0 0 1 0 -2.0 0M80.9 18.7a1.0 1.0 0 1 0 2.0 0a1.0 1.0 0 1 0 -2.0 0M92.6 16.1a1.0 1.0 0 1 0 2.0 0a1.0 1.0 0 1 0 -2.0 0M109.5 21.3a1.0 1.0 0 1 0 2.0 0a1.0 1.0 0 1 0 -2.0 0M123.8 21.3a1.0 1.0 0 1 0 2.0 0a1.0 1.0 0 1 0 -2.0 0M116.0 34.3a1.0 1.0 0 1 0 2.0 0a1.0 1.0 0 1 0 -2.0 0M96.5 39.5a1.0 1.0 0 1 0 2.0 0a1.0 1.0 0 1 0 -2.0 0M70.7 2.7a1.0 1.0 0 1 0 2.0 0a1.0 1.0 0 1 0 -2.0 0M4.8 11.7a1.0 1.0 0 1 0 2.0 0a1.0 1.0 0 1 0 -2.0 0M36.2 11.1a1.0 1.0 0 1 0 2.0 0a1.0 1.0 0 1 0 -2.0 0M74.8 11.7a1.0 1.0 0 1 0 2.0 0a1.0 1.0 0 1 0 -2.0 0M83.0 11.8a1.0 1.0 0 1 0 2.0 0a1.0 1.0 0 1 0 -2.0 0M92.5 11.8a1.0 1.0 0 1 0 2.0 0a1.0 1.0 0 1 0 -2.0 0M65.3 15.6a1.0 1.0 0 1 0 2.0 0a1.0 1.0 0 1 0 -2.0 0M75.7 24.1a1.0 1.0 0 1 0 2.0 0a1.0 1.0 0 1 0 -2.0 0M70.0 30.3a1.0 1.0 0 1 0 2.0 0a1.0 1.0 0 1 0 -2.0 0M68.7 34.0a1.0 1.0 0 1 0 2.0 0a1.0 1.0 0 1 0 -2.0 0M75.4 34.8a1.0 1.0 0 1 0 2.0 0a1.0 1.0 0 1 0 -2.0 0M125.2 33.1a1.0 1.0 0 1 0 2.0 0a1.0 1.0 0 1 0 -2.0 0M65.5 39.7a1.0 1.0 0 1 0 2.0 0a1.0 1.0 0 1 0 -2.0 0M68.5 36.9a1.0 1.0 0 1 0 2.0 0a1.0 1.0 0 1 0 -2.0 0M64.8 43.9a1.0 1.0 0 1 0 2.0 0a1.0 1.0 0 1 0 -2.0 0M68.9 43.0a1.0 1.0 0 1 0 2.0 0a1.0 1.0 0 1 0 -2.0 0M73.1 42.6a1.0 1.0 0 1 0 2.0 0a1.0 1.0 0 1 0 -2.0 0M111.7 46.1a1.0 1.0 0 1 0 2.0 0a1.0 1.0 0 1 0 -2.0 0M88.1 56.3a1.0 1.0 0 1 0 2.0 0a1.0 1.0 0 1 0 -2.0 0M51.0 62.3a1.0 1.0 0 1 0 2.0 0a1.0 1.0 0 1 0 -2.0 0M45.5 66.6a1.0 1.0 0 1 0 2.0 0a1.0 1.0 0 1 0 -2.0 0M119.2 66.6a1.0 1.0 0 1 0 2.0 0a1.0 1.0 0 1 0 -2.0 0M65.4 74.6a1.0 1.0 0 1 0 2.0 0a1.0 1.0 0 1 0 -2.0 0M118.8 75.9a1.0 1.0 0 1 0 2.0 0a1.0 1.0 0 1 0 -2.0 0M61.7 79.7a1.0 1.0 0 1 0 2.0 0a1.0 1.0 0 1 0 -2.0 0M61.6 83.9a1.0 1.0 0 1 0 2.0 0a1.0 1.0 0 1 0 -2.0 0M55.3 90.4a1.0 1.0 0 1 0 2.0 0a1.0 1.0 0 1 0 -2.0 0M93.5 89.4a1.0 1.0 0 1 0 2.0 0a1.0 1.0 0 1 0 -2.0 0M96.2 87.8a1.0 1.0 0 1 0 2.0 0a1.0 1.0 0 1 0 -2.0 0"/><path fill="#fdf8d8" d="M59.4 21.3a1.0 1.0 0 1 0 2.0 0a1.0 1.0 0 1 0 -2.0 0M36.1 41.8a1.0 1.0 0 1 0 2.0 0a1.0 1.0 0 1 0 -2.0 0M54.9 46.3a1.0 1.0 0 1 0 2.0 0a1.0 1.0 0 1 0 -2.0 0M18.5 28.2a1.0 1.0 0 1 0 2.0 0a1.0 1.0 0 1 0 -2.0 0M4.2 27.5a1.0 1.0 0 1 0 2.0 0a1.0 1.0 0 1 0 -2.0 0M70.6 10.6a1.0 1.0 0 1 0 2.0 0a1.0 1.0 0 1 0 -2.0 0M64.1 25.0a1.0 1.0 0 1 0 2.0 0a1.0 1.0 0 1 0 -2.0 0M73.4 29.2a1.0 1.0 0 1 0 2.0 0a1.0 1.0 0 1 0 -2.0 0M121.0 29.2a1.0 1.0 0 1 0 2.0 0a1.0 1.0 0 1 0 -2.0 0M126.1 45.9a1.0 1.0 0 1 0 2.0 0a1.0 1.0 0 1 0 -2.0 0M84.6 51.1a1.0 1.0 0 1 0 2.0 0a1.0 1.0 0 1 0 -2.0 0M100.8 53.1a1.0 1.0 0 1 0 2.0 0a1.0 1.0 0 1 0 -2.0 0M110.7 51.3a1.0 1.0 0 1 0 2.0 0a1.0 1.0 0 1 0 -2.0 0M51.1 57.8a1.0 1.0 0 1 0 2.0 0a1.0 1.0 0 1 0 -2.0 0M42.7 60.1a1.0 1.0 0 1 0 2.0 0a1.0 1.0 0 1 0 -2.0 0M55.1 65.5a1.0 1.0 0 1 0 2.0 0a1.0 1.0 0 1 0 -2.0 0M116.0 66.0a1.0 1.0 0 1 0 2.0 0a1.0 1.0 0 1 0 -2.0 0M89.4 90.3a1.0 1.0 0 1 0 2.0 0a1.0 1.0 0 1 0 -2.0 0M103.0 88.4a1.0 1.0 0 1 0 2.0 0a1.0 1.0 0 1 0 -2.0 0M41.7 99.2a1.0 1.0 0 1 0 2.0 0a1.0 1.0 0 1 0 -2.0 0M79.6 99.5a1.0 1.0 0 1 0 2.0 0a1.0 1.0 0 1 0 -2.0 0M93.6 99.4a1.0 1.0 0 1 0 2.0 0a1.0 1.0 0 1 0 -2.0 0M98.2 99.6a1.0 1.0 0 1 0 2.0 0a1.0 1.0 0 1 0 -2.0 0"/><path fill="#80d3f7" d="M20.4 6.7a1.0 1.0 0 1 0 2.0 0a1.0 1.0 0 1 0 -2.0 0M29.2 15.8a1.0 1.0 0 1 0 2.0 0a1.0 1.0 0 1 0 -2.0 0M58.2 16.1a1.0 1.0 0 1 0 2.0 0a1.0 1.0 0 1 0 -2.0 0M25.7 21.9a1.0 1.0 0 1 0 2.0 0a1.0 1.0 0 1 0 -2.0 0M43.8 29.5a1.0 1.0 0 1 0 2.0 0a1.0 1.0 0 1 0 -2.0 0M30.8 30.4a1.0 1.0 0 1 0 2.0 0a1.0 1.0 0 1 0 -2.0 0M19.8 40.1a1.0 1.0 0 1 0 2.0 0a1.0 1.0 0 1 0 -2.0 0M51.0 47.3a1.0 1.0 0 1 0 2.0 0a1.0 1.0 0 1 0 -2.0 0M108.9 3.1a1.0 1.0 0 1 0 2.0 0a1.0 1.0 0 1 0 -2.0 0M112.8 5.1a1.0 1.0 0 1 0 2.0 0a1.0 1.0 0 1 0 -2.0 0M114.7 2.4a1.0 1.0 0 1 0 2.0 0a1.0 1.0 0 1 0 -2.0 0M117.9 4.4a1.0 1.0 0 1 0 2.0 0a1.0 1.0 0 1 0 -2.0 0M123.1 5.1a1.0 1.0 0 1 0 2.0 0a1.0 1.0 0 1 0 -2.0 0M77.0 7.0a1.0 1.0 0 1 0 2.0 0a1.0 1.0 0 1 0 -2.0 0M85.4 7.6a1.0 1.0 0 1 0 2.0 0a1.0 1.0 0 1 0 -2.0 0M91.9 6.4a1.0 1.0 0 1 0 2.0 0a1.0 1.0 0 1 0 -2.0 0M97.1 9.6a1.0 1.0 0 1 0 2.0 0a1.0 1.0 0 1 0 -2.0 0M99.1 8.9a1.0 1.0 0 1 0 2.0 0a1.0 1.0 0 1 0 -2.0 0M101.7 8.3a1.0 1.0 0 1 0 2.0 0a1.0 1.0 0 1 0 -2.0 0M105.6 14.8a1.0 1.0 0 1 0 2.0 0a1.0 1.0 0 1 0 -2.0 0M113.4 10.9a1.0 1.0 0 1 0 2.0 0a1.0 1.0 0 1 0 -2.0 0M121.2 10.2a1.0 1.0 0 1 0 2.0 0a1.0 1.0 0 1 0 -2.0 0M67.9 27.8a1.0 1.0 0 1 0 2.0 0a1.0 1.0 0 1 0 -2.0 0M88.7 16.1a1.0 1.0 0 1 0 2.0 0a1.0 1.0 0 1 0 -2.0 0M100.4 21.9a1.0 1.0 0 1 0 2.0 0a1.0 1.0 0 1 0 -2.0 0M113.4 23.2a1.0 1.0 0 1 0 2.0 0a1.0 1.0 0 1 0 -2.0 0M121.2 24.6a1.0 1.0 0 1 0 2.0 0a1.0 1.0 0 1 0 -2.0 0M125.1 27.8a1.0 1.0 0 1 0 2.0 0a1.0 1.0 0 1 0 -2.0 0M93.2 32.4a1.0 1.0 0 1 0 2.0 0a1.0 1.0 0 1 0 -2.0 0M95.9 31.1a1.0 1.0 0 1 0 2.0 0a1.0 1.0 0 1 0 -2.0 0M102.4 34.9a1.0 1.0 0 1 0 2.0 0a1.0 1.0 0 1 0 -2.0 0M103.0 31.1a1.0 1.0 0 1 0 2.0 0a1.0 1.0 0 1 0 -2.0 0M86.8 38.2a1.0 1.0 0 1 0 2.0 0a1.0 1.0 0 1 0 -2.0 0M87.4 40.1a1.0 1.0 0 1 0 2.0 0a1.0 1.0 0 1 0 -2.0 0M90.0 36.9a1.0 1.0 0 1 0 2.0 0a1.0 1.0 0 1 0 -2.0 0M97.8 35.6a1.0 1.0 0 1 0 2.0 0a1.0 1.0 0 1 0 -2.0 0M100.4 36.2a1.0 1.0 0 1 0 2.0 0a1.0 1.0 0 1 0 -2.0 0M103.0 40.8a1.0 1.0 0 1 0 2.0 0a1.0 1.0 0 1 0 -2.0 0M91.3 42.1a1.0 1.0 0 1 0 2.0 0a1.0 1.0 0 1 0 -2.0 0M103.0 43.4a1.0 1.0 0 1 0 2.0 0a1.0 1.0 0 1 0 -2.0 0M108.9 40.1a1.0 1.0 0 1 0 2.0 0a1.0 1.0 0 1 0 -2.0 0M118.6 39.5a1.0 1.0 0 1 0 2.0 0a1.0 1.0 0 1 0 -2.0 0M83.5 44.7a1.0 1.0 0 1 0 2.0 0a1.0 1.0 0 1 0 -2.0 0M92.6 46.0a1.0 1.0 0 1 0 2.0 0a1.0 1.0 0 1 0 -2.0 0M97.8 48.6a1.0 1.0 0 1 0 2.0 0a1.0 1.0 0 1 0 -2.0 0M101.7 49.9a1.0 1.0 0 1 0 2.0 0a1.0 1.0 0 1 0 -2.0 0M119.9 47.3a1.0 1.0 0 1 0 2.0 0a1.0 1.0 0 1 0 -2.0 0M63.4 59.3a1.0 1.0 0 1 0 2.0 0a1.0 1.0 0 1 0 -2.0 0M51.7 66.4a1.0 1.0 0 1 0 2.0 0a1.0 1.0 0 1 0 -2.0 0M43.8 71.6a1.0 1.0 0 1 0 2.0 0a1.0 1.0 0 1 0 -2.0 0M56.2 71.6a1.0 1.0 0 1 0 2.0 0a1.0 1.0 0 1 0 -2.0 0M36.7 80.1a1.0 1.0 0 1 0 2.0 0a1.0 1.0 0 1 0 -2.0 0M41.9 82.7a1.0 1.0 0 1 0 2.0 0a1.0 1.0 0 1 0 -2.0 0M53.6 82.4a1.0 1.0 0 1 0 2.0 0a1.0 1.0 0 1 0 -2.0 0M45.8 77.5a1.0 1.0 0 1 0 2.0 0a1.0 1.0 0 1 0 -2.0 0M65.3 52.8a1.0 1.0 0 1 0 2.0 0a1.0 1.0 0 1 0 -2.0 0M80.2 53.1a1.0 1.0 0 1 0 2.0 0a1.0 1.0 0 1 0 -2.0 0M93.2 53.1a1.0 1.0 0 1 0 2.0 0a1.0 1.0 0 1 0 -2.0 0M106.9 56.7a1.0 1.0 0 1 0 2.0 0a1.0 1.0 0 1 0 -2.0 0M121.2 53.4a1.0 1.0 0 1 0 2.0 0a1.0 1.0 0 1 0 -2.0 0M123.1 54.1a1.0 1.0 0 1 0 2.0 0a1.0 1.0 0 1 0 -2.0 0M126.4 54.8a1.0 1.0 0 1 0 2.0 0a1.0 1.0 0 1 0 -2.0 0M66.6 56.7a1.0 1.0 0 1 0 2.0 0a1.0 1.0 0 1 0 -2.0 0M73.8 57.4a1.0 1.0 0 1 0 2.0 0a1.0 1.0 0 1 0 -2.0 0M77.0 57.4a1.0 1.0 0 1 0 2.0 0a1.0 1.0 0 1 0 -2.0 0M79.6 61.2a1.0 1.0 0 1 0 2.0 0a1.0 1.0 0 1 0 -2.0 0M80.9 59.9a1.0 1.0 0 1 0 2.0 0a1.0 1.0 0 1 0 -2.0 0M84.1 58.0a1.0 1.0 0 1 0 2.0 0a1.0 1.0 0 1 0 -2.0 0M95.2 61.2a1.0 1.0 0 1 0 2.0 0a1.0 1.0 0 1 0 -2.0 0M99.1 62.6a1.0 1.0 0 1 0 2.0 0a1.0 1.0 0 1 0 -2.0 0M105.6 58.6a1.0 1.0 0 1 0 2.0 0a1.0 1.0 0 1 0 -2.0 0M109.5 60.6a1.0 1.0 0 1 0 2.0 0a1.0 1.0 0 1 0 -2.0 0M118.6 61.2a1.0 1.0 0 1 0 2.0 0a1.0 1.0 0 1 0 -2.0 0M123.8 59.3a1.0 1.0 0 1 0 2.0 0a1.0 1.0 0 1 0 -2.0 0M126.4 59.3a1.0 1.0 0 1 0 2.0 0a1.0 1.0 0 1 0 -2.0 0M66.6 71.0a1.0 1.0 0 1 0 2.0 0a1.0 1.0 0 1 0 -2.0 0M70.5 64.5a1.0 1.0 0 1 0 2.0 0a1.0 1.0 0 1 0 -2.0 0M72.4 65.1a1.0 1.0 0 1 0 2.0 0a1.0 1.0 0 1 0 -2.0 0M94.6 68.4a1.0 1.0 0 1 0 2.0 0a1.0 1.0 0 1 0 -2.0 0M101.7 64.5a1.0 1.0 0 1 0 2.0 0a1.0 1.0 0 1 0 -2.0 0M106.9 62.6a1.0 1.0 0 1 0 2.0 0a1.0 1.0 0 1 0 -2.0 0M117.3 71.0a1.0 1.0 0 1 0 2.0 0a1.0 1.0 0 1 0 -2.0 0M127.7 64.5a1.0 1.0 0 1 0 2.0 0a1.0 1.0 0 1 0 -2.0 0M84.8 72.3a1.0 1.0 0 1 0 2.0 0a1.0 1.0 0 1 0 -2.0 0M69.2 80.8a1.0 1.0 0 1 0 2.0 0a1.0 1.0 0 1 0 -2.0 0M67.2 81.4a1.0 1.0 0 1 0 2.0 0a1.0 1.0 0 1 0 -2.0 0M72.4 82.7a1.0 1.0 0 1 0 2.0 0a1.0 1.0 0 1 0 -2.0 0M66.6 86.6a1.0 1.0 0 1 0 2.0 0a1.0 1.0 0 1 0 -2.0 0M70.5 88.6a1.0 1.0 0 1 0 2.0 0a1.0 1.0 0 1 0 -2.0 0M73.8 91.8a1.0 1.0 0 1 0 2.0 0a1.0 1.0 0 1 0 -2.0 0M67.9 90.5a1.0 1.0 0 1 0 2.0 0a1.0 1.0 0 1 0 -2.0 0M78.3 82.7a1.0 1.0 0 1 0 2.0 0a1.0 1.0 0 1 0 -2.0 0M84.1 85.3a1.0 1.0 0 1 0 2.0 0a1.0 1.0 0 1 0 -2.0 0M80.9 93.8a1.0 1.0 0 1 0 2.0 0a1.0 1.0 0 1 0 -2.0 0M105.6 82.1a1.0 1.0 0 1 0 2.0 0a1.0 1.0 0 1 0 -2.0 0M103.0 84.0a1.0 1.0 0 1 0 2.0 0a1.0 1.0 0 1 0 -2.0 0M99.8 84.0a1.0 1.0 0 1 0 2.0 0a1.0 1.0 0 1 0 -2.0 0M106.9 87.9a1.0 1.0 0 1 0 2.0 0a1.0 1.0 0 1 0 -2.0 0M106.9 91.8a1.0 1.0 0 1 0 2.0 0a1.0 1.0 0 1 0 -2.0 0M125.1 75.6a1.0 1.0 0 1 0 2.0 0a1.0 1.0 0 1 0 -2.0 0M127.7 80.1a1.0 1.0 0 1 0 2.0 0a1.0 1.0 0 1 0 -2.0 0M118.6 89.2a1.0 1.0 0 1 0 2.0 0a1.0 1.0 0 1 0 -2.0 0M116.0 91.8a1.0 1.0 0 1 0 2.0 0a1.0 1.0 0 1 0 -2.0 0M125.1 93.8a1.0 1.0 0 1 0 2.0 0a1.0 1.0 0 1 0 -2.0 0M127.7 93.1a1.0 1.0 0 1 0 2.0 0a1.0 1.0 0 1 0 -2.0 0M106.9 95.1a1.0 1.0 0 1 0 2.0 0a1.0 1.0 0 1 0 -2.0 0M113.4 100.2a1.0 1.0 0 1 0 2.0 0a1.0 1.0 0 1 0 -2.0 0M125.1 100.2a1.0 1.0 0 1 0 2.0 0a1.0 1.0 0 1 0 -2.0 0M116.0 97.6a1.0 1.0 0 1 0 2.0 0a1.0 1.0 0 1 0 -2.0 0"/><path fill="#fdbb84" d="M18.8 9.2a1.0 1.0 0 1 0 2.0 0a1.0 1.0 0 1 0 -2.0 0M30.5 9.6a1.0 1.0 0 1 0 2.0 0a1.0 1.0 0 1 0 -2.0 0M54.9 21.3a1.0 1.0 0 1 0 2.0 0a1.0 1.0 0 1 0 -2.0 0M54.9 31.7a1.0 1.0 0 1 0 2.0 0a1.0 1.0 0 1 0 -2.0 0M60.1 38.9a1.0 1.0 0 1 0 2.0 0a1.0 1.0 0 1 0 -2.0 0M77.6 2.4a1.0 1.0 0 1 0 2.0 0a1.0 1.0 0 1 0 -2.0 0M93.2 1.8a1.0 1.0 0 1 0 2.0 0a1.0 1.0 0 1 0 -2.0 0M97.1 3.1a1.0 1.0 0 1 0 2.0 0a1.0 1.0 0 1 0 -2.0 0M125.1 3.8a1.0 1.0 0 1 0 2.0 0a1.0 1.0 0 1 0 -2.0 0M124.4 16.8a1.0 1.0 0 1 0 2.0 0a1.0 1.0 0 1 0 -2.0 0M121.2 18.1a1.0 1.0 0 1 0 2.0 0a1.0 1.0 0 1 0 -2.0 0M112.8 19.4a1.0 1.0 0 1 0 2.0 0a1.0 1.0 0 1 0 -2.0 0M69.2 24.6a1.0 1.0 0 1 0 2.0 0a1.0 1.0 0 1 0 -2.0 0M77.0 27.8a1.0 1.0 0 1 0 2.0 0a1.0 1.0 0 1 0 -2.0 0M94.6 21.3a1.0 1.0 0 1 0 2.0 0a1.0 1.0 0 1 0 -2.0 0M91.9 26.5a1.0 1.0 0 1 0 2.0 0a1.0 1.0 0 1 0 -2.0 0M125.1 36.2a1.0 1.0 0 1 0 2.0 0a1.0 1.0 0 1 0 -2.0 0M52.3 69.7a1.0 1.0 0 1 0 2.0 0a1.0 1.0 0 1 0 -2.0 0M56.8 74.9a1.0 1.0 0 1 0 2.0 0a1.0 1.0 0 1 0 -2.0 0M41.2 78.1a1.0 1.0 0 1 0 2.0 0a1.0 1.0 0 1 0 -2.0 0M49.1 79.4a1.0 1.0 0 1 0 2.0 0a1.0 1.0 0 1 0 -2.0 0M36.1 84.6a1.0 1.0 0 1 0 2.0 0a1.0 1.0 0 1 0 -2.0 0M51.0 89.9a1.0 1.0 0 1 0 2.0 0a1.0 1.0 0 1 0 -2.0 0M52.9 86.6a1.0 1.0 0 1 0 2.0 0a1.0 1.0 0 1 0 -2.0 0M49.7 96.4a1.0 1.0 0 1 0 2.0 0a1.0 1.0 0 1 0 -2.0 0M97.8 54.1a1.0 1.0 0 1 0 2.0 0a1.0 1.0 0 1 0 -2.0 0M115.4 55.4a1.0 1.0 0 1 0 2.0 0a1.0 1.0 0 1 0 -2.0 0M103.0 60.6a1.0 1.0 0 1 0 2.0 0a1.0 1.0 0 1 0 -2.0 0M77.0 67.1a1.0 1.0 0 1 0 2.0 0a1.0 1.0 0 1 0 -2.0 0M103.0 67.8a1.0 1.0 0 1 0 2.0 0a1.0 1.0 0 1 0 -2.0 0M105.6 66.4a1.0 1.0 0 1 0 2.0 0a1.0 1.0 0 1 0 -2.0 0M125.1 65.8a1.0 1.0 0 1 0 2.0 0a1.0 1.0 0 1 0 -2.0 0M71.1 73.6a1.0 1.0 0 1 0 2.0 0a1.0 1.0 0 1 0 -2.0 0M83.5 68.4a1.0 1.0 0 1 0 2.0 0a1.0 1.0 0 1 0 -2.0 0M75.1 83.4a1.0 1.0 0 1 0 2.0 0a1.0 1.0 0 1 0 -2.0 0M110.8 90.5a1.0 1.0 0 1 0 2.0 0a1.0 1.0 0 1 0 -2.0 0M108.9 82.1a1.0 1.0 0 1 0 2.0 0a1.0 1.0 0 1 0 -2.0 0M112.8 75.6a1.0 1.0 0 1 0 2.0 0a1.0 1.0 0 1 0 -2.0 0M121.2 93.1a1.0 1.0 0 1 0 2.0 0a1.0 1.0 0 1 0 -2.0 0"/><path fill="#3c8af4" d="M16.6 16.8a1.0 1.0 0 1 0 2.0 0a1.0 1.0 0 1 0 -2.0 0M116.0 12.9a1.0 1.0 0 1 0 2.0 0a1.0 1.0 0 1 0 -2.0 0M87.4 20.6a1.0 1.0 0 1 0 2.0 0a1.0 1.0 0 1 0 -2.0 0M85.4 31.1a1.0 1.0 0 1 0 2.0 0a1.0 1.0 0 1 0 -2.0 0M75.7 39.5a1.0 1.0 0 1 0 2.0 0a1.0 1.0 0 1 0 -2.0 0M78.3 39.5a1.0 1.0 0 1 0 2.0 0a1.0 1.0 0 1 0 -2.0 0M83.5 42.1a1.0 1.0 0 1 0 2.0 0a1.0 1.0 0 1 0 -2.0 0M95.9 42.1a1.0 1.0 0 1 0 2.0 0a1.0 1.0 0 1 0 -2.0 0M112.1 39.5a1.0 1.0 0 1 0 2.0 0a1.0 1.0 0 1 0 -2.0 0M118.6 43.4a1.0 1.0 0 1 0 2.0 0a1.0 1.0 0 1 0 -2.0 0M77.6 45.4a1.0 1.0 0 1 0 2.0 0a1.0 1.0 0 1 0 -2.0 0M58.8 60.6a1.0 1.0 0 1 0 2.0 0a1.0 1.0 0 1 0 -2.0 0M45.8 80.1a1.0 1.0 0 1 0 2.0 0a1.0 1.0 0 1 0 -2.0 0M58.8 82.4a1.0 1.0 0 1 0 2.0 0a1.0 1.0 0 1 0 -2.0 0M47.1 85.9a1.0 1.0 0 1 0 2.0 0a1.0 1.0 0 1 0 -2.0 0M47.1 92.4a1.0 1.0 0 1 0 2.0 0a1.0 1.0 0 1 0 -2.0 0M114.7 61.9a1.0 1.0 0 1 0 2.0 0a1.0 1.0 0 1 0 -2.0 0M121.2 60.6a1.0 1.0 0 1 0 2.0 0a1.0 1.0 0 1 0 -2.0 0M71.1 77.5a1.0 1.0 0 1 0 2.0 0a1.0 1.0 0 1 0 -2.0 0M70.5 93.8a1.0 1.0 0 1 0 2.0 0a1.0 1.0 0 1 0 -2.0 0M77.0 90.5a1.0 1.0 0 1 0 2.0 0a1.0 1.0 0 1 0 -2.0 0M91.3 85.3a1.0 1.0 0 1 0 2.0 0a1.0 1.0 0 1 0 -2.0 0M108.2 78.8a1.0 1.0 0 1 0 2.0 0a1.0 1.0 0 1 0 -2.0 0M117.3 96.4a1.0 1.0 0 1 0 2.0 0a1.0 1.0 0 1 0 -2.0 0"/><path fill="#ee2531" d="M41.6 24.9a1.0 1.0 0 1 0 2.0 0a1.0 1.0 0 1 0 -2.0 0M4.8 24.3a1.0 1.0 0 1 0 2.0 0a1.0 1.0 0 1 0 -2.0 0M8.1 45.4a1.0 1.0 0 1 0 2.0 0a1.0 1.0 0 1 0 -2.0 0M64.6 2.4a1.0 1.0 0 1 0 2.0 0a1.0 1.0 0 1 0 -2.0 0M106.9 5.1a1.0 1.0 0 1 0 2.0 0a1.0 1.0 0 1 0 -2.0 0M127.7 3.8a1.0 1.0 0 1 0 2.0 0a1.0 1.0 0 1 0 -2.0 0M107.6 23.9a1.0 1.0 0 1 0 2.0 0a1.0 1.0 0 1 0 -2.0 0M80.2 30.4a1.0 1.0 0 1 0 2.0 0a1.0 1.0 0 1 0 -2.0 0M108.9 35.6a1.0 1.0 0 1 0 2.0 0a1.0 1.0 0 1 0 -2.0 0M112.1 34.3a1.0 1.0 0 1 0 2.0 0a1.0 1.0 0 1 0 -2.0 0M84.1 38.9a1.0 1.0 0 1 0 2.0 0a1.0 1.0 0 1 0 -2.0 0M93.2 38.2a1.0 1.0 0 1 0 2.0 0a1.0 1.0 0 1 0 -2.0 0M90.0 45.4a1.0 1.0 0 1 0 2.0 0a1.0 1.0 0 1 0 -2.0 0M103.0 46.6a1.0 1.0 0 1 0 2.0 0a1.0 1.0 0 1 0 -2.0 0M117.3 48.6a1.0 1.0 0 1 0 2.0 0a1.0 1.0 0 1 0 -2.0 0M39.3 79.4a1.0 1.0 0 1 0 2.0 0a1.0 1.0 0 1 0 -2.0 0M51.7 81.4a1.0 1.0 0 1 0 2.0 0a1.0 1.0 0 1 0 -2.0 0M47.8 89.9a1.0 1.0 0 1 0 2.0 0a1.0 1.0 0 1 0 -2.0 0M60.1 93.8a1.0 1.0 0 1 0 2.0 0a1.0 1.0 0 1 0 -2.0 0M49.7 99.6a1.0 1.0 0 1 0 2.0 0a1.0 1.0 0 1 0 -2.0 0M90.0 59.3a1.0 1.0 0 1 0 2.0 0a1.0 1.0 0 1 0 -2.0 0M77.0 69.7a1.0 1.0 0 1 0 2.0 0a1.0 1.0 0 1 0 -2.0 0M89.4 59.3a1.0 1.0 0 1 0 2.0 0a1.0 1.0 0 1 0 -2.0 0M96.5 67.8a1.0 1.0 0 1 0 2.0 0a1.0 1.0 0 1 0 -2.0 0M100.4 67.1a1.0 1.0 0 1 0 2.0 0a1.0 1.0 0 1 0 -2.0 0M79.6 78.1a1.0 1.0 0 1 0 2.0 0a1.0 1.0 0 1 0 -2.0 0M86.8 72.3a1.0 1.0 0 1 0 2.0 0a1.0 1.0 0 1 0 -2.0 0M90.0 71.6a1.0 1.0 0 1 0 2.0 0a1.0 1.0 0 1 0 -2.0 0M96.5 78.1a1.0 1.0 0 1 0 2.0 0a1.0 1.0 0 1 0 -2.0 0M66.6 85.3a1.0 1.0 0 1 0 2.0 0a1.0 1.0 0 1 0 -2.0 0M84.8 89.2a1.0 1.0 0 1 0 2.0 0a1.0 1.0 0 1 0 -2.0 0M104.3 74.9a1.0 1.0 0 1 0 2.0 0a1.0 1.0 0 1 0 -2.0 0"/><path fill="#a8072e" d="M50.0 9.9a1.0 1.0 0 1 0 2.0 0a1.0 1.0 0 1 0 -2.0 0M63.4 12.2a1.0 1.0 0 1 0 2.0 0a1.0 1.0 0 1 0 -2.0 0M64.6 12.2a1.0 1.0 0 1 0 2.0 0a1.0 1.0 0 1 0 -2.0 0M117.9 19.4a1.0 1.0 0 1 0 2.0 0a1.0 1.0 0 1 0 -2.0 0M97.8 20.0a1.0 1.0 0 1 0 2.0 0a1.0 1.0 0 1 0 -2.0 0M104.3 24.6a1.0 1.0 0 1 0 2.0 0a1.0 1.0 0 1 0 -2.0 0M117.3 30.4a1.0 1.0 0 1 0 2.0 0a1.0 1.0 0 1 0 -2.0 0M116.6 31.7a1.0 1.0 0 1 0 2.0 0a1.0 1.0 0 1 0 -2.0 0M81.6 31.7a1.0 1.0 0 1 0 2.0 0a1.0 1.0 0 1 0 -2.0 0M83.5 32.4a1.0 1.0 0 1 0 2.0 0a1.0 1.0 0 1 0 -2.0 0M99.1 33.0a1.0 1.0 0 1 0 2.0 0a1.0 1.0 0 1 0 -2.0 0M108.2 33.0a1.0 1.0 0 1 0 2.0 0a1.0 1.0 0 1 0 -2.0 0M120.6 36.2a1.0 1.0 0 1 0 2.0 0a1.0 1.0 0 1 0 -2.0 0M74.4 38.9a1.0 1.0 0 1 0 2.0 0a1.0 1.0 0 1 0 -2.0 0M82.2 38.9a1.0 1.0 0 1 0 2.0 0a1.0 1.0 0 1 0 -2.0 0M106.9 44.7a1.0 1.0 0 1 0 2.0 0a1.0 1.0 0 1 0 -2.0 0M127.1 43.4a1.0 1.0 0 1 0 2.0 0a1.0 1.0 0 1 0 -2.0 0M87.4 49.2a1.0 1.0 0 1 0 2.0 0a1.0 1.0 0 1 0 -2.0 0M113.4 50.6a1.0 1.0 0 1 0 2.0 0a1.0 1.0 0 1 0 -2.0 0M52.0 72.9a1.0 1.0 0 1 0 2.0 0a1.0 1.0 0 1 0 -2.0 0M43.8 87.9a1.0 1.0 0 1 0 2.0 0a1.0 1.0 0 1 0 -2.0 0M85.4 54.1a1.0 1.0 0 1 0 2.0 0a1.0 1.0 0 1 0 -2.0 0M86.8 53.4a1.0 1.0 0 1 0 2.0 0a1.0 1.0 0 1 0 -2.0 0M71.8 59.9a1.0 1.0 0 1 0 2.0 0a1.0 1.0 0 1 0 -2.0 0M65.9 65.8a1.0 1.0 0 1 0 2.0 0a1.0 1.0 0 1 0 -2.0 0M64.6 69.7a1.0 1.0 0 1 0 2.0 0a1.0 1.0 0 1 0 -2.0 0M88.1 61.9a1.0 1.0 0 1 0 2.0 0a1.0 1.0 0 1 0 -2.0 0M98.4 67.8a1.0 1.0 0 1 0 2.0 0a1.0 1.0 0 1 0 -2.0 0M103.6 69.1a1.0 1.0 0 1 0 2.0 0a1.0 1.0 0 1 0 -2.0 0M110.1 64.5a1.0 1.0 0 1 0 2.0 0a1.0 1.0 0 1 0 -2.0 0M75.1 78.8a1.0 1.0 0 1 0 2.0 0a1.0 1.0 0 1 0 -2.0 0M81.6 73.6a1.0 1.0 0 1 0 2.0 0a1.0 1.0 0 1 0 -2.0 0M91.9 74.9a1.0 1.0 0 1 0 2.0 0a1.0 1.0 0 1 0 -2.0 0M90.0 77.5a1.0 1.0 0 1 0 2.0 0a1.0 1.0 0 1 0 -2.0 0M82.9 79.4a1.0 1.0 0 1 0 2.0 0a1.0 1.0 0 1 0 -2.0 0M64.6 77.5a1.0 1.0 0 1 0 2.0 0a1.0 1.0 0 1 0 -2.0 0M74.4 88.6a1.0 1.0 0 1 0 2.0 0a1.0 1.0 0 1 0 -2.0 0M82.9 97.6a1.0 1.0 0 1 0 2.0 0a1.0 1.0 0 1 0 -2.0 0M118.6 82.1a1.0 1.0 0 1 0 2.0 0a1.0 1.0 0 1 0 -2.0 0M121.9 85.9a1.0 1.0 0 1 0 2.0 0a1.0 1.0 0 1 0 -2.0 0M123.1 81.4a1.0 1.0 0 1 0 2.0 0a1.0 1.0 0 1 0 -2.0 0M114.7 86.6a1.0 1.0 0 1 0 2.0 0a1.0 1.0 0 1 0 -2.0 0M103.0 97.0a1.0 1.0 0 1 0 2.0 0a1.0 1.0 0 1 0 -2.0 0M123.8 97.6a1.0 1.0 0 1 0 2.0 0a1.0 1.0 0 1 0 -2.0 0"/><path fill="#2412d8" d="M119.9 3.1a1.0 1.0 0 1 0 2.0 0a1.0 1.0 0 1 0 -2.0 0M121.2 4.4a1.0 1.0 0 1 0 2.0 0a1.0 1.0 0 1 0 -2.0 0M98.4 27.1a1.0 1.0 0 1 0 2.0 0a1.0 1.0 0 1 0 -2.0 0M101.7 27.1a1.0 1.0 0 1 0 2.0 0a1.0 1.0 0 1 0 -2.0 0M106.9 26.5a1.0 1.0 0 1 0 2.0 0a1.0 1.0 0 1 0 -2.0 0M110.8 28.4a1.0 1.0 0 1 0 2.0 0a1.0 1.0 0 1 0 -2.0 0M118.6 31.7a1.0 1.0 0 1 0 2.0 0a1.0 1.0 0 1 0 -2.0 0M84.8 28.4a1.0 1.0 0 1 0 2.0 0a1.0 1.0 0 1 0 -2.0 0M80.9 34.3a1.0 1.0 0 1 0 2.0 0a1.0 1.0 0 1 0 -2.0 0M114.1 36.9a1.0 1.0 0 1 0 2.0 0a1.0 1.0 0 1 0 -2.0 0M116.6 38.2a1.0 1.0 0 1 0 2.0 0a1.0 1.0 0 1 0 -2.0 0M80.2 42.1a1.0 1.0 0 1 0 2.0 0a1.0 1.0 0 1 0 -2.0 0M81.6 42.1a1.0 1.0 0 1 0 2.0 0a1.0 1.0 0 1 0 -2.0 0M79.6 41.4a1.0 1.0 0 1 0 2.0 0a1.0 1.0 0 1 0 -2.0 0M88.1 42.8a1.0 1.0 0 1 0 2.0 0a1.0 1.0 0 1 0 -2.0 0M99.8 42.1a1.0 1.0 0 1 0 2.0 0a1.0 1.0 0 1 0 -2.0 0M121.9 41.4a1.0 1.0 0 1 0 2.0 0a1.0 1.0 0 1 0 -2.0 0M125.1 42.1a1.0 1.0 0 1 0 2.0 0a1.0 1.0 0 1 0 -2.0 0M80.2 47.9a1.0 1.0 0 1 0 2.0 0a1.0 1.0 0 1 0 -2.0 0M97.8 44.1a1.0 1.0 0 1 0 2.0 0a1.0 1.0 0 1 0 -2.0 0M106.9 47.3a1.0 1.0 0 1 0 2.0 0a1.0 1.0 0 1 0 -2.0 0M94.6 47.9a1.0 1.0 0 1 0 2.0 0a1.0 1.0 0 1 0 -2.0 0M125.1 49.9a1.0 1.0 0 1 0 2.0 0a1.0 1.0 0 1 0 -2.0 0M75.7 48.6a1.0 1.0 0 1 0 2.0 0a1.0 1.0 0 1 0 -2.0 0M50.3 54.4a1.0 1.0 0 1 0 2.0 0a1.0 1.0 0 1 0 -2.0 0M62.1 55.4a1.0 1.0 0 1 0 2.0 0a1.0 1.0 0 1 0 -2.0 0M54.9 75.9a1.0 1.0 0 1 0 2.0 0a1.0 1.0 0 1 0 -2.0 0M62.1 76.2a1.0 1.0 0 1 0 2.0 0a1.0 1.0 0 1 0 -2.0 0M58.2 89.9a1.0 1.0 0 1 0 2.0 0a1.0 1.0 0 1 0 -2.0 0M60.1 95.1a1.0 1.0 0 1 0 2.0 0a1.0 1.0 0 1 0 -2.0 0M52.0 97.3a1.0 1.0 0 1 0 2.0 0a1.0 1.0 0 1 0 -2.0 0M61.4 100.9a1.0 1.0 0 1 0 2.0 0a1.0 1.0 0 1 0 -2.0 0M69.9 55.4a1.0 1.0 0 1 0 2.0 0a1.0 1.0 0 1 0 -2.0 0M76.4 52.1a1.0 1.0 0 1 0 2.0 0a1.0 1.0 0 1 0 -2.0 0M101.1 56.1a1.0 1.0 0 1 0 2.0 0a1.0 1.0 0 1 0 -2.0 0M104.3 53.4a1.0 1.0 0 1 0 2.0 0a1.0 1.0 0 1 0 -2.0 0M109.5 56.1a1.0 1.0 0 1 0 2.0 0a1.0 1.0 0 1 0 -2.0 0M111.4 54.8a1.0 1.0 0 1 0 2.0 0a1.0 1.0 0 1 0 -2.0 0M69.2 59.3a1.0 1.0 0 1 0 2.0 0a1.0 1.0 0 1 0 -2.0 0M112.8 63.2a1.0 1.0 0 1 0 2.0 0a1.0 1.0 0 1 0 -2.0 0M84.8 63.9a1.0 1.0 0 1 0 2.0 0a1.0 1.0 0 1 0 -2.0 0M93.2 64.5a1.0 1.0 0 1 0 2.0 0a1.0 1.0 0 1 0 -2.0 0M113.4 70.4a1.0 1.0 0 1 0 2.0 0a1.0 1.0 0 1 0 -2.0 0M122.5 68.4a1.0 1.0 0 1 0 2.0 0a1.0 1.0 0 1 0 -2.0 0M71.8 75.6a1.0 1.0 0 1 0 2.0 0a1.0 1.0 0 1 0 -2.0 0M76.4 74.9a1.0 1.0 0 1 0 2.0 0a1.0 1.0 0 1 0 -2.0 0M77.6 74.2a1.0 1.0 0 1 0 2.0 0a1.0 1.0 0 1 0 -2.0 0M94.6 74.9a1.0 1.0 0 1 0 2.0 0a1.0 1.0 0 1 0 -2.0 0M95.2 77.5a1.0 1.0 0 1 0 2.0 0a1.0 1.0 0 1 0 -2.0 0M72.4 78.8a1.0 1.0 0 1 0 2.0 0a1.0 1.0 0 1 0 -2.0 0M73.8 84.6a1.0 1.0 0 1 0 2.0 0a1.0 1.0 0 1 0 -2.0 0M71.1 84.0a1.0 1.0 0 1 0 2.0 0a1.0 1.0 0 1 0 -2.0 0M77.0 89.9a1.0 1.0 0 1 0 2.0 0a1.0 1.0 0 1 0 -2.0 0M66.6 96.4a1.0 1.0 0 1 0 2.0 0a1.0 1.0 0 1 0 -2.0 0M80.9 82.1a1.0 1.0 0 1 0 2.0 0a1.0 1.0 0 1 0 -2.0 0M85.4 93.1a1.0 1.0 0 1 0 2.0 0a1.0 1.0 0 1 0 -2.0 0M86.8 94.4a1.0 1.0 0 1 0 2.0 0a1.0 1.0 0 1 0 -2.0 0M103.0 93.1a1.0 1.0 0 1 0 2.0 0a1.0 1.0 0 1 0 -2.0 0M114.7 79.4a1.0 1.0 0 1 0 2.0 0a1.0 1.0 0 1 0 -2.0 0M116.0 79.4a1.0 1.0 0 1 0 2.0 0a1.0 1.0 0 1 0 -2.0 0M108.9 98.3a1.0 1.0 0 1 0 2.0 0a1.0 1.0 0 1 0 -2.0 0M121.2 98.3a1.0 1.0 0 1 0 2.0 0a1.0 1.0 0 1 0 -2.0 0M105.6 100.2a1.0 1.0 0 1 0 2.0 0a1.0 1.0 0 1 0 -2.0 0"/></g>
</g>
<rect x="195.00" y="265.50" width="130.4" height="101.8" fill="none" stroke="#1a1a1a" stroke-width="1.45"/>
<path d="M190.40 288.99H195.00M190.40 328.15H195.00M190.40 367.30H195.00M195.00 367.30V371.90M233.35 367.30V371.90M271.71 367.30V371.90M310.06 367.30V371.90" stroke="#1a1a1a" stroke-width="1.2" fill="none"/>
<text x="195.10" y="262.00" font-size="10">(h)</text>
<text x="325.90" y="262.00" font-size="10" text-anchor="end">ΔRMSE: -0.017 (-1.0%)</text>
<clipPath id="cp8"><rect x="338.25" y="265.50" width="130.4" height="101.8"/></clipPath>
<g clip-path="url(#cp8)">
<use href="#cont" transform="translate(338.25,265.50)"/>
<g transform="translate(338.25,265.50)"><path fill="#dcf8fd" d="M71.6 13.5a1.0 1.0 0 1 0 2.0 0a1.0 1.0 0 1 0 -2.0 0M80.6 10.9a1.0 1.0 0 1 0 2.0 0a1.0 1.0 0 1 0 -2.0 0M92.4 17.4a1.0 1.0 0 1 0 2.0 0a1.0 1.0 0 1 0 -2.0 0M106.6 20.0a1.0 1.0 0 1 0 2.0 0a1.0 1.0 0 1 0 -2.0 0M123.6 21.3a1.0 1.0 0 1 0 2.0 0a1.0 1.0 0 1 0 -2.0 0M115.8 34.3a1.0 1.0 0 1 0 2.0 0a1.0 1.0 0 1 0 -2.0 0M96.2 39.5a1.0 1.0 0 1 0 2.0 0a1.0 1.0 0 1 0 -2.0 0M71.6 33.0a1.0 1.0 0 1 0 2.0 0a1.0 1.0 0 1 0 -2.0 0M106.6 76.2a1.0 1.0 0 1 0 2.0 0a1.0 1.0 0 1 0 -2.0 0M113.1 77.5a1.0 1.0 0 1 0 2.0 0a1.0 1.0 0 1 0 -2.0 0M97.6 85.3a1.0 1.0 0 1 0 2.0 0a1.0 1.0 0 1 0 -2.0 0M110.6 87.9a1.0 1.0 0 1 0 2.0 0a1.0 1.0 0 1 0 -2.0 0M96.2 94.4a1.0 1.0 0 1 0 2.0 0a1.0 1.0 0 1 0 -2.0 0M118.4 77.5a1.0 1.0 0 1 0 2.0 0a1.0 1.0 0 1 0 -2.0 0M5.8 2.9a1.0 1.0 0 1 0 2.0 0a1.0 1.0 0 1 0 -2.0 0M114.3 7.2a1.0 1.0 0 1 0 2.0 0a1.0 1.0 0 1 0 -2.0 0M4.5 11.0a1.0 1.0 0 1 0 2.0 0a1.0 1.0 0 1 0 -2.0 0M70.3 10.9a1.0 1.0 0 1 0 2.0 0a1.0 1.0 0 1 0 -2.0 0M73.0 10.3a1.0 1.0 0 1 0 2.0 0a1.0 1.0 0 1 0 -2.0 0M101.4 14.6a1.0 1.0 0 1 0 2.0 0a1.0 1.0 0 1 0 -2.0 0M88.4 24.2a1.0 1.0 0 1 0 2.0 0a1.0 1.0 0 1 0 -2.0 0M32.2 33.2a1.0 1.0 0 1 0 2.0 0a1.0 1.0 0 1 0 -2.0 0M37.0 32.4a1.0 1.0 0 1 0 2.0 0a1.0 1.0 0 1 0 -2.0 0M65.1 39.3a1.0 1.0 0 1 0 2.0 0a1.0 1.0 0 1 0 -2.0 0M68.8 38.3a1.0 1.0 0 1 0 2.0 0a1.0 1.0 0 1 0 -2.0 0M50.9 42.0a1.0 1.0 0 1 0 2.0 0a1.0 1.0 0 1 0 -2.0 0M43.0 47.5a1.0 1.0 0 1 0 2.0 0a1.0 1.0 0 1 0 -2.0 0M100.2 45.9a1.0 1.0 0 1 0 2.0 0a1.0 1.0 0 1 0 -2.0 0M109.6 46.4a1.0 1.0 0 1 0 2.0 0a1.0 1.0 0 1 0 -2.0 0M56.2 58.0a1.0 1.0 0 1 0 2.0 0a1.0 1.0 0 1 0 -2.0 0M116.7 66.8a1.0 1.0 0 1 0 2.0 0a1.0 1.0 0 1 0 -2.0 0M106.1 71.9a1.0 1.0 0 1 0 2.0 0a1.0 1.0 0 1 0 -2.0 0M77.6 80.1a1.0 1.0 0 1 0 2.0 0a1.0 1.0 0 1 0 -2.0 0M97.8 90.4a1.0 1.0 0 1 0 2.0 0a1.0 1.0 0 1 0 -2.0 0M125.8 87.7a1.0 1.0 0 1 0 2.0 0a1.0 1.0 0 1 0 -2.0 0M41.1 93.6a1.0 1.0 0 1 0 2.0 0a1.0 1.0 0 1 0 -2.0 0"/><path fill="#fdf8d8" d="M16.3 16.8a1.0 1.0 0 1 0 2.0 0a1.0 1.0 0 1 0 -2.0 0M30.6 30.4a1.0 1.0 0 1 0 2.0 0a1.0 1.0 0 1 0 -2.0 0M54.6 31.7a1.0 1.0 0 1 0 2.0 0a1.0 1.0 0 1 0 -2.0 0M33.7 5.8a1.0 1.0 0 1 0 2.0 0a1.0 1.0 0 1 0 -2.0 0M49.5 5.6a1.0 1.0 0 1 0 2.0 0a1.0 1.0 0 1 0 -2.0 0M100.2 5.0a1.0 1.0 0 1 0 2.0 0a1.0 1.0 0 1 0 -2.0 0M19.1 13.9a1.0 1.0 0 1 0 2.0 0a1.0 1.0 0 1 0 -2.0 0M82.0 24.0a1.0 1.0 0 1 0 2.0 0a1.0 1.0 0 1 0 -2.0 0M14.2 30.4a1.0 1.0 0 1 0 2.0 0a1.0 1.0 0 1 0 -2.0 0M73.7 27.5a1.0 1.0 0 1 0 2.0 0a1.0 1.0 0 1 0 -2.0 0M116.7 27.6a1.0 1.0 0 1 0 2.0 0a1.0 1.0 0 1 0 -2.0 0M121.4 30.4a1.0 1.0 0 1 0 2.0 0a1.0 1.0 0 1 0 -2.0 0M63.3 34.8a1.0 1.0 0 1 0 2.0 0a1.0 1.0 0 1 0 -2.0 0M120.2 33.6a1.0 1.0 0 1 0 2.0 0a1.0 1.0 0 1 0 -2.0 0M126.0 32.6a1.0 1.0 0 1 0 2.0 0a1.0 1.0 0 1 0 -2.0 0M33.7 43.9a1.0 1.0 0 1 0 2.0 0a1.0 1.0 0 1 0 -2.0 0M50.8 51.4a1.0 1.0 0 1 0 2.0 0a1.0 1.0 0 1 0 -2.0 0M61.8 52.6a1.0 1.0 0 1 0 2.0 0a1.0 1.0 0 1 0 -2.0 0M102.2 50.6a1.0 1.0 0 1 0 2.0 0a1.0 1.0 0 1 0 -2.0 0M46.2 58.1a1.0 1.0 0 1 0 2.0 0a1.0 1.0 0 1 0 -2.0 0M121.6 57.3a1.0 1.0 0 1 0 2.0 0a1.0 1.0 0 1 0 -2.0 0M51.3 62.7a1.0 1.0 0 1 0 2.0 0a1.0 1.0 0 1 0 -2.0 0M82.0 61.1a1.0 1.0 0 1 0 2.0 0a1.0 1.0 0 1 0 -2.0 0M106.5 61.8a1.0 1.0 0 1 0 2.0 0a1.0 1.0 0 1 0 -2.0 0M42.1 66.7a1.0 1.0 0 1 0 2.0 0a1.0 1.0 0 1 0 -2.0 0M91.8 94.2a1.0 1.0 0 1 0 2.0 0a1.0 1.0 0 1 0 -2.0 0M74.0 98.6a1.0 1.0 0 1 0 2.0 0a1.0 1.0 0 1 0 -2.0 0M95.7 99.0a1.0 1.0 0 1 0 2.0 0a1.0 1.0 0 1 0 -2.0 0"/><path fill="#80d3f7" d="M20.2 6.7a1.0 1.0 0 1 0 2.0 0a1.0 1.0 0 1 0 -2.0 0M28.9 15.8a1.0 1.0 0 1 0 2.0 0a1.0 1.0 0 1 0 -2.0 0M59.9 21.3a1.0 1.0 0 1 0 2.0 0a1.0 1.0 0 1 0 -2.0 0M43.2 29.5a1.0 1.0 0 1 0 2.0 0a1.0 1.0 0 1 0 -2.0 0M52.1 26.5a1.0 1.0 0 1 0 2.0 0a1.0 1.0 0 1 0 -2.0 0M57.2 28.4a1.0 1.0 0 1 0 2.0 0a1.0 1.0 0 1 0 -2.0 0M19.8 33.4a1.0 1.0 0 1 0 2.0 0a1.0 1.0 0 1 0 -2.0 0M28.0 38.9a1.0 1.0 0 1 0 2.0 0a1.0 1.0 0 1 0 -2.0 0M35.8 41.8a1.0 1.0 0 1 0 2.0 0a1.0 1.0 0 1 0 -2.0 0M41.6 41.8a1.0 1.0 0 1 0 2.0 0a1.0 1.0 0 1 0 -2.0 0M45.6 39.1a1.0 1.0 0 1 0 2.0 0a1.0 1.0 0 1 0 -2.0 0M16.3 44.7a1.0 1.0 0 1 0 2.0 0a1.0 1.0 0 1 0 -2.0 0M50.8 47.3a1.0 1.0 0 1 0 2.0 0a1.0 1.0 0 1 0 -2.0 0M86.5 1.1a1.0 1.0 0 1 0 2.0 0a1.0 1.0 0 1 0 -2.0 0M108.6 3.1a1.0 1.0 0 1 0 2.0 0a1.0 1.0 0 1 0 -2.0 0M114.4 2.4a1.0 1.0 0 1 0 2.0 0a1.0 1.0 0 1 0 -2.0 0M117.7 4.4a1.0 1.0 0 1 0 2.0 0a1.0 1.0 0 1 0 -2.0 0M124.9 3.8a1.0 1.0 0 1 0 2.0 0a1.0 1.0 0 1 0 -2.0 0M127.4 3.8a1.0 1.0 0 1 0 2.0 0a1.0 1.0 0 1 0 -2.0 0M76.8 7.0a1.0 1.0 0 1 0 2.0 0a1.0 1.0 0 1 0 -2.0 0M85.2 7.6a1.0 1.0 0 1 0 2.0 0a1.0 1.0 0 1 0 -2.0 0M91.7 6.4a1.0 1.0 0 1 0 2.0 0a1.0 1.0 0 1 0 -2.0 0M98.9 8.9a1.0 1.0 0 1 0 2.0 0a1.0 1.0 0 1 0 -2.0 0M113.1 14.8a1.0 1.0 0 1 0 2.0 0a1.0 1.0 0 1 0 -2.0 0M120.9 10.2a1.0 1.0 0 1 0 2.0 0a1.0 1.0 0 1 0 -2.0 0M117.7 19.4a1.0 1.0 0 1 0 2.0 0a1.0 1.0 0 1 0 -2.0 0M112.5 19.4a1.0 1.0 0 1 0 2.0 0a1.0 1.0 0 1 0 -2.0 0M84.6 13.5a1.0 1.0 0 1 0 2.0 0a1.0 1.0 0 1 0 -2.0 0M88.4 16.1a1.0 1.0 0 1 0 2.0 0a1.0 1.0 0 1 0 -2.0 0M100.1 21.9a1.0 1.0 0 1 0 2.0 0a1.0 1.0 0 1 0 -2.0 0M91.7 26.5a1.0 1.0 0 1 0 2.0 0a1.0 1.0 0 1 0 -2.0 0M113.1 23.2a1.0 1.0 0 1 0 2.0 0a1.0 1.0 0 1 0 -2.0 0M120.9 24.6a1.0 1.0 0 1 0 2.0 0a1.0 1.0 0 1 0 -2.0 0M124.9 24.6a1.0 1.0 0 1 0 2.0 0a1.0 1.0 0 1 0 -2.0 0M95.6 31.1a1.0 1.0 0 1 0 2.0 0a1.0 1.0 0 1 0 -2.0 0M98.9 33.0a1.0 1.0 0 1 0 2.0 0a1.0 1.0 0 1 0 -2.0 0M124.9 36.2a1.0 1.0 0 1 0 2.0 0a1.0 1.0 0 1 0 -2.0 0M86.5 38.2a1.0 1.0 0 1 0 2.0 0a1.0 1.0 0 1 0 -2.0 0M89.8 36.9a1.0 1.0 0 1 0 2.0 0a1.0 1.0 0 1 0 -2.0 0M102.8 40.8a1.0 1.0 0 1 0 2.0 0a1.0 1.0 0 1 0 -2.0 0M106.6 39.5a1.0 1.0 0 1 0 2.0 0a1.0 1.0 0 1 0 -2.0 0M118.4 39.5a1.0 1.0 0 1 0 2.0 0a1.0 1.0 0 1 0 -2.0 0M121.6 41.4a1.0 1.0 0 1 0 2.0 0a1.0 1.0 0 1 0 -2.0 0M124.9 42.1a1.0 1.0 0 1 0 2.0 0a1.0 1.0 0 1 0 -2.0 0M126.8 43.4a1.0 1.0 0 1 0 2.0 0a1.0 1.0 0 1 0 -2.0 0M89.1 44.1a1.0 1.0 0 1 0 2.0 0a1.0 1.0 0 1 0 -2.0 0M92.4 46.0a1.0 1.0 0 1 0 2.0 0a1.0 1.0 0 1 0 -2.0 0M97.6 48.6a1.0 1.0 0 1 0 2.0 0a1.0 1.0 0 1 0 -2.0 0M75.4 48.6a1.0 1.0 0 1 0 2.0 0a1.0 1.0 0 1 0 -2.0 0M124.9 49.9a1.0 1.0 0 1 0 2.0 0a1.0 1.0 0 1 0 -2.0 0M46.9 61.2a1.0 1.0 0 1 0 2.0 0a1.0 1.0 0 1 0 -2.0 0M43.6 63.9a1.0 1.0 0 1 0 2.0 0a1.0 1.0 0 1 0 -2.0 0M57.9 65.1a1.0 1.0 0 1 0 2.0 0a1.0 1.0 0 1 0 -2.0 0M47.5 66.8a1.0 1.0 0 1 0 2.0 0a1.0 1.0 0 1 0 -2.0 0M43.6 71.6a1.0 1.0 0 1 0 2.0 0a1.0 1.0 0 1 0 -2.0 0M52.7 72.9a1.0 1.0 0 1 0 2.0 0a1.0 1.0 0 1 0 -2.0 0M36.4 80.1a1.0 1.0 0 1 0 2.0 0a1.0 1.0 0 1 0 -2.0 0M65.1 52.8a1.0 1.0 0 1 0 2.0 0a1.0 1.0 0 1 0 -2.0 0M98.2 53.4a1.0 1.0 0 1 0 2.0 0a1.0 1.0 0 1 0 -2.0 0M109.2 56.1a1.0 1.0 0 1 0 2.0 0a1.0 1.0 0 1 0 -2.0 0M120.9 53.4a1.0 1.0 0 1 0 2.0 0a1.0 1.0 0 1 0 -2.0 0M122.9 54.1a1.0 1.0 0 1 0 2.0 0a1.0 1.0 0 1 0 -2.0 0M126.1 54.8a1.0 1.0 0 1 0 2.0 0a1.0 1.0 0 1 0 -2.0 0M66.4 56.7a1.0 1.0 0 1 0 2.0 0a1.0 1.0 0 1 0 -2.0 0M79.4 61.2a1.0 1.0 0 1 0 2.0 0a1.0 1.0 0 1 0 -2.0 0M89.8 59.3a1.0 1.0 0 1 0 2.0 0a1.0 1.0 0 1 0 -2.0 0M91.1 56.1a1.0 1.0 0 1 0 2.0 0a1.0 1.0 0 1 0 -2.0 0M94.9 61.2a1.0 1.0 0 1 0 2.0 0a1.0 1.0 0 1 0 -2.0 0M109.2 60.6a1.0 1.0 0 1 0 2.0 0a1.0 1.0 0 1 0 -2.0 0M120.9 60.6a1.0 1.0 0 1 0 2.0 0a1.0 1.0 0 1 0 -2.0 0M123.6 59.3a1.0 1.0 0 1 0 2.0 0a1.0 1.0 0 1 0 -2.0 0M126.1 59.3a1.0 1.0 0 1 0 2.0 0a1.0 1.0 0 1 0 -2.0 0M127.4 56.7a1.0 1.0 0 1 0 2.0 0a1.0 1.0 0 1 0 -2.0 0M64.4 69.7a1.0 1.0 0 1 0 2.0 0a1.0 1.0 0 1 0 -2.0 0M67.0 66.4a1.0 1.0 0 1 0 2.0 0a1.0 1.0 0 1 0 -2.0 0M70.2 67.1a1.0 1.0 0 1 0 2.0 0a1.0 1.0 0 1 0 -2.0 0M76.8 67.1a1.0 1.0 0 1 0 2.0 0a1.0 1.0 0 1 0 -2.0 0M84.6 63.9a1.0 1.0 0 1 0 2.0 0a1.0 1.0 0 1 0 -2.0 0M100.1 65.8a1.0 1.0 0 1 0 2.0 0a1.0 1.0 0 1 0 -2.0 0M105.4 66.4a1.0 1.0 0 1 0 2.0 0a1.0 1.0 0 1 0 -2.0 0M113.1 71.0a1.0 1.0 0 1 0 2.0 0a1.0 1.0 0 1 0 -2.0 0M127.4 68.4a1.0 1.0 0 1 0 2.0 0a1.0 1.0 0 1 0 -2.0 0M89.8 77.5a1.0 1.0 0 1 0 2.0 0a1.0 1.0 0 1 0 -2.0 0M68.9 80.8a1.0 1.0 0 1 0 2.0 0a1.0 1.0 0 1 0 -2.0 0M102.8 83.4a1.0 1.0 0 1 0 2.0 0a1.0 1.0 0 1 0 -2.0 0M100.8 84.0a1.0 1.0 0 1 0 2.0 0a1.0 1.0 0 1 0 -2.0 0M106.6 87.2a1.0 1.0 0 1 0 2.0 0a1.0 1.0 0 1 0 -2.0 0M102.8 91.1a1.0 1.0 0 1 0 2.0 0a1.0 1.0 0 1 0 -2.0 0M120.9 84.0a1.0 1.0 0 1 0 2.0 0a1.0 1.0 0 1 0 -2.0 0M122.9 81.4a1.0 1.0 0 1 0 2.0 0a1.0 1.0 0 1 0 -2.0 0M127.4 82.7a1.0 1.0 0 1 0 2.0 0a1.0 1.0 0 1 0 -2.0 0M118.4 89.2a1.0 1.0 0 1 0 2.0 0a1.0 1.0 0 1 0 -2.0 0M122.2 90.5a1.0 1.0 0 1 0 2.0 0a1.0 1.0 0 1 0 -2.0 0M124.9 93.8a1.0 1.0 0 1 0 2.0 0a1.0 1.0 0 1 0 -2.0 0M120.9 100.9a1.0 1.0 0 1 0 2.0 0a1.0 1.0 0 1 0 -2.0 0"/><path fill="#fdbb84" d="M4.6 24.3a1.0 1.0 0 1 0 2.0 0a1.0 1.0 0 1 0 -2.0 0M3.7 27.5a1.0 1.0 0 1 0 2.0 0a1.0 1.0 0 1 0 -2.0 0M26.3 29.5a1.0 1.0 0 1 0 2.0 0a1.0 1.0 0 1 0 -2.0 0M59.9 38.9a1.0 1.0 0 1 0 2.0 0a1.0 1.0 0 1 0 -2.0 0M93.0 1.8a1.0 1.0 0 1 0 2.0 0a1.0 1.0 0 1 0 -2.0 0M101.4 8.3a1.0 1.0 0 1 0 2.0 0a1.0 1.0 0 1 0 -2.0 0M94.9 12.9a1.0 1.0 0 1 0 2.0 0a1.0 1.0 0 1 0 -2.0 0M124.2 16.8a1.0 1.0 0 1 0 2.0 0a1.0 1.0 0 1 0 -2.0 0M120.9 18.1a1.0 1.0 0 1 0 2.0 0a1.0 1.0 0 1 0 -2.0 0M68.9 24.6a1.0 1.0 0 1 0 2.0 0a1.0 1.0 0 1 0 -2.0 0M67.6 27.8a1.0 1.0 0 1 0 2.0 0a1.0 1.0 0 1 0 -2.0 0M74.8 22.6a1.0 1.0 0 1 0 2.0 0a1.0 1.0 0 1 0 -2.0 0M79.4 18.1a1.0 1.0 0 1 0 2.0 0a1.0 1.0 0 1 0 -2.0 0M116.4 32.4a1.0 1.0 0 1 0 2.0 0a1.0 1.0 0 1 0 -2.0 0M124.9 27.8a1.0 1.0 0 1 0 2.0 0a1.0 1.0 0 1 0 -2.0 0M93.0 32.4a1.0 1.0 0 1 0 2.0 0a1.0 1.0 0 1 0 -2.0 0M111.9 34.9a1.0 1.0 0 1 0 2.0 0a1.0 1.0 0 1 0 -2.0 0M97.6 35.6a1.0 1.0 0 1 0 2.0 0a1.0 1.0 0 1 0 -2.0 0M91.1 42.1a1.0 1.0 0 1 0 2.0 0a1.0 1.0 0 1 0 -2.0 0M102.8 46.6a1.0 1.0 0 1 0 2.0 0a1.0 1.0 0 1 0 -2.0 0M94.3 47.9a1.0 1.0 0 1 0 2.0 0a1.0 1.0 0 1 0 -2.0 0M71.6 49.2a1.0 1.0 0 1 0 2.0 0a1.0 1.0 0 1 0 -2.0 0M50.8 56.1a1.0 1.0 0 1 0 2.0 0a1.0 1.0 0 1 0 -2.0 0M47.5 71.0a1.0 1.0 0 1 0 2.0 0a1.0 1.0 0 1 0 -2.0 0M41.0 78.1a1.0 1.0 0 1 0 2.0 0a1.0 1.0 0 1 0 -2.0 0M35.8 85.3a1.0 1.0 0 1 0 2.0 0a1.0 1.0 0 1 0 -2.0 0M47.5 89.9a1.0 1.0 0 1 0 2.0 0a1.0 1.0 0 1 0 -2.0 0M50.8 89.9a1.0 1.0 0 1 0 2.0 0a1.0 1.0 0 1 0 -2.0 0M52.7 86.6a1.0 1.0 0 1 0 2.0 0a1.0 1.0 0 1 0 -2.0 0M49.4 96.4a1.0 1.0 0 1 0 2.0 0a1.0 1.0 0 1 0 -2.0 0M83.9 57.4a1.0 1.0 0 1 0 2.0 0a1.0 1.0 0 1 0 -2.0 0M102.8 60.6a1.0 1.0 0 1 0 2.0 0a1.0 1.0 0 1 0 -2.0 0M76.8 69.7a1.0 1.0 0 1 0 2.0 0a1.0 1.0 0 1 0 -2.0 0M93.0 64.5a1.0 1.0 0 1 0 2.0 0a1.0 1.0 0 1 0 -2.0 0M96.9 67.8a1.0 1.0 0 1 0 2.0 0a1.0 1.0 0 1 0 -2.0 0M98.9 67.1a1.0 1.0 0 1 0 2.0 0a1.0 1.0 0 1 0 -2.0 0M103.4 67.8a1.0 1.0 0 1 0 2.0 0a1.0 1.0 0 1 0 -2.0 0M84.6 72.3a1.0 1.0 0 1 0 2.0 0a1.0 1.0 0 1 0 -2.0 0M91.7 74.9a1.0 1.0 0 1 0 2.0 0a1.0 1.0 0 1 0 -2.0 0M67.0 81.4a1.0 1.0 0 1 0 2.0 0a1.0 1.0 0 1 0 -2.0 0M87.1 90.5a1.0 1.0 0 1 0 2.0 0a1.0 1.0 0 1 0 -2.0 0M119.6 94.4a1.0 1.0 0 1 0 2.0 0a1.0 1.0 0 1 0 -2.0 0M124.2 98.3a1.0 1.0 0 1 0 2.0 0a1.0 1.0 0 1 0 -2.0 0"/><path fill="#3c8af4" d="M57.9 16.4a1.0 1.0 0 1 0 2.0 0a1.0 1.0 0 1 0 -2.0 0M25.4 21.9a1.0 1.0 0 1 0 2.0 0a1.0 1.0 0 1 0 -2.0 0M32.8 49.2a1.0 1.0 0 1 0 2.0 0a1.0 1.0 0 1 0 -2.0 0M46.9 49.2a1.0 1.0 0 1 0 2.0 0a1.0 1.0 0 1 0 -2.0 0M104.1 1.1a1.0 1.0 0 1 0 2.0 0a1.0 1.0 0 1 0 -2.0 0M85.2 31.1a1.0 1.0 0 1 0 2.0 0a1.0 1.0 0 1 0 -2.0 0M80.6 34.3a1.0 1.0 0 1 0 2.0 0a1.0 1.0 0 1 0 -2.0 0M75.4 39.5a1.0 1.0 0 1 0 2.0 0a1.0 1.0 0 1 0 -2.0 0M87.8 42.8a1.0 1.0 0 1 0 2.0 0a1.0 1.0 0 1 0 -2.0 0M111.9 39.5a1.0 1.0 0 1 0 2.0 0a1.0 1.0 0 1 0 -2.0 0M55.9 71.6a1.0 1.0 0 1 0 2.0 0a1.0 1.0 0 1 0 -2.0 0M45.6 77.5a1.0 1.0 0 1 0 2.0 0a1.0 1.0 0 1 0 -2.0 0M46.2 80.1a1.0 1.0 0 1 0 2.0 0a1.0 1.0 0 1 0 -2.0 0M53.4 82.4a1.0 1.0 0 1 0 2.0 0a1.0 1.0 0 1 0 -2.0 0M46.9 85.9a1.0 1.0 0 1 0 2.0 0a1.0 1.0 0 1 0 -2.0 0M106.6 56.7a1.0 1.0 0 1 0 2.0 0a1.0 1.0 0 1 0 -2.0 0M105.4 58.6a1.0 1.0 0 1 0 2.0 0a1.0 1.0 0 1 0 -2.0 0M102.1 65.1a1.0 1.0 0 1 0 2.0 0a1.0 1.0 0 1 0 -2.0 0M102.8 65.8a1.0 1.0 0 1 0 2.0 0a1.0 1.0 0 1 0 -2.0 0M106.6 65.1a1.0 1.0 0 1 0 2.0 0a1.0 1.0 0 1 0 -2.0 0M117.1 71.0a1.0 1.0 0 1 0 2.0 0a1.0 1.0 0 1 0 -2.0 0"/><path fill="#ee2531" d="M18.5 28.2a1.0 1.0 0 1 0 2.0 0a1.0 1.0 0 1 0 -2.0 0M54.6 46.3a1.0 1.0 0 1 0 2.0 0a1.0 1.0 0 1 0 -2.0 0M64.4 2.4a1.0 1.0 0 1 0 2.0 0a1.0 1.0 0 1 0 -2.0 0M78.1 2.4a1.0 1.0 0 1 0 2.0 0a1.0 1.0 0 1 0 -2.0 0M109.9 29.1a1.0 1.0 0 1 0 2.0 0a1.0 1.0 0 1 0 -2.0 0M81.3 31.7a1.0 1.0 0 1 0 2.0 0a1.0 1.0 0 1 0 -2.0 0M102.8 31.1a1.0 1.0 0 1 0 2.0 0a1.0 1.0 0 1 0 -2.0 0M113.1 50.6a1.0 1.0 0 1 0 2.0 0a1.0 1.0 0 1 0 -2.0 0M39.1 79.4a1.0 1.0 0 1 0 2.0 0a1.0 1.0 0 1 0 -2.0 0M49.4 99.6a1.0 1.0 0 1 0 2.0 0a1.0 1.0 0 1 0 -2.0 0M98.9 62.6a1.0 1.0 0 1 0 2.0 0a1.0 1.0 0 1 0 -2.0 0M94.9 68.4a1.0 1.0 0 1 0 2.0 0a1.0 1.0 0 1 0 -2.0 0M76.1 75.6a1.0 1.0 0 1 0 2.0 0a1.0 1.0 0 1 0 -2.0 0M86.5 72.3a1.0 1.0 0 1 0 2.0 0a1.0 1.0 0 1 0 -2.0 0M66.4 85.3a1.0 1.0 0 1 0 2.0 0a1.0 1.0 0 1 0 -2.0 0"/><path fill="#a8072e" d="M18.9 9.3a1.0 1.0 0 1 0 2.0 0a1.0 1.0 0 1 0 -2.0 0M30.6 9.6a1.0 1.0 0 1 0 2.0 0a1.0 1.0 0 1 0 -2.0 0M49.7 9.9a1.0 1.0 0 1 0 2.0 0a1.0 1.0 0 1 0 -2.0 0M37.8 16.1a1.0 1.0 0 1 0 2.0 0a1.0 1.0 0 1 0 -2.0 0M54.6 21.3a1.0 1.0 0 1 0 2.0 0a1.0 1.0 0 1 0 -2.0 0M41.4 24.9a1.0 1.0 0 1 0 2.0 0a1.0 1.0 0 1 0 -2.0 0M9.1 41.8a1.0 1.0 0 1 0 2.0 0a1.0 1.0 0 1 0 -2.0 0M7.9 45.4a1.0 1.0 0 1 0 2.0 0a1.0 1.0 0 1 0 -2.0 0M63.1 12.2a1.0 1.0 0 1 0 2.0 0a1.0 1.0 0 1 0 -2.0 0M96.9 3.1a1.0 1.0 0 1 0 2.0 0a1.0 1.0 0 1 0 -2.0 0M106.6 5.1a1.0 1.0 0 1 0 2.0 0a1.0 1.0 0 1 0 -2.0 0M122.9 5.1a1.0 1.0 0 1 0 2.0 0a1.0 1.0 0 1 0 -2.0 0M64.4 12.2a1.0 1.0 0 1 0 2.0 0a1.0 1.0 0 1 0 -2.0 0M105.4 14.8a1.0 1.0 0 1 0 2.0 0a1.0 1.0 0 1 0 -2.0 0M97.6 20.0a1.0 1.0 0 1 0 2.0 0a1.0 1.0 0 1 0 -2.0 0M104.1 24.6a1.0 1.0 0 1 0 2.0 0a1.0 1.0 0 1 0 -2.0 0M117.1 30.4a1.0 1.0 0 1 0 2.0 0a1.0 1.0 0 1 0 -2.0 0M80.0 30.4a1.0 1.0 0 1 0 2.0 0a1.0 1.0 0 1 0 -2.0 0M86.5 32.4a1.0 1.0 0 1 0 2.0 0a1.0 1.0 0 1 0 -2.0 0M107.9 33.0a1.0 1.0 0 1 0 2.0 0a1.0 1.0 0 1 0 -2.0 0M106.6 35.6a1.0 1.0 0 1 0 2.0 0a1.0 1.0 0 1 0 -2.0 0M120.3 36.9a1.0 1.0 0 1 0 2.0 0a1.0 1.0 0 1 0 -2.0 0M74.1 38.9a1.0 1.0 0 1 0 2.0 0a1.0 1.0 0 1 0 -2.0 0M93.0 38.2a1.0 1.0 0 1 0 2.0 0a1.0 1.0 0 1 0 -2.0 0M94.9 35.6a1.0 1.0 0 1 0 2.0 0a1.0 1.0 0 1 0 -2.0 0M100.1 36.2a1.0 1.0 0 1 0 2.0 0a1.0 1.0 0 1 0 -2.0 0M81.3 42.1a1.0 1.0 0 1 0 2.0 0a1.0 1.0 0 1 0 -2.0 0M118.4 43.4a1.0 1.0 0 1 0 2.0 0a1.0 1.0 0 1 0 -2.0 0M115.1 44.7a1.0 1.0 0 1 0 2.0 0a1.0 1.0 0 1 0 -2.0 0M89.8 45.4a1.0 1.0 0 1 0 2.0 0a1.0 1.0 0 1 0 -2.0 0M86.5 49.9a1.0 1.0 0 1 0 2.0 0a1.0 1.0 0 1 0 -2.0 0M117.1 48.6a1.0 1.0 0 1 0 2.0 0a1.0 1.0 0 1 0 -2.0 0M51.4 72.3a1.0 1.0 0 1 0 2.0 0a1.0 1.0 0 1 0 -2.0 0M48.8 74.6a1.0 1.0 0 1 0 2.0 0a1.0 1.0 0 1 0 -2.0 0M55.3 74.9a1.0 1.0 0 1 0 2.0 0a1.0 1.0 0 1 0 -2.0 0M51.4 81.4a1.0 1.0 0 1 0 2.0 0a1.0 1.0 0 1 0 -2.0 0M43.6 87.9a1.0 1.0 0 1 0 2.0 0a1.0 1.0 0 1 0 -2.0 0M86.5 53.1a1.0 1.0 0 1 0 2.0 0a1.0 1.0 0 1 0 -2.0 0M93.0 52.8a1.0 1.0 0 1 0 2.0 0a1.0 1.0 0 1 0 -2.0 0M111.2 54.8a1.0 1.0 0 1 0 2.0 0a1.0 1.0 0 1 0 -2.0 0M71.6 59.9a1.0 1.0 0 1 0 2.0 0a1.0 1.0 0 1 0 -2.0 0M100.1 58.6a1.0 1.0 0 1 0 2.0 0a1.0 1.0 0 1 0 -2.0 0M118.4 61.2a1.0 1.0 0 1 0 2.0 0a1.0 1.0 0 1 0 -2.0 0M65.7 65.8a1.0 1.0 0 1 0 2.0 0a1.0 1.0 0 1 0 -2.0 0M72.2 65.1a1.0 1.0 0 1 0 2.0 0a1.0 1.0 0 1 0 -2.0 0M87.8 61.9a1.0 1.0 0 1 0 2.0 0a1.0 1.0 0 1 0 -2.0 0M89.8 65.8a1.0 1.0 0 1 0 2.0 0a1.0 1.0 0 1 0 -2.0 0M109.9 64.5a1.0 1.0 0 1 0 2.0 0a1.0 1.0 0 1 0 -2.0 0M120.9 72.3a1.0 1.0 0 1 0 2.0 0a1.0 1.0 0 1 0 -2.0 0M124.9 72.3a1.0 1.0 0 1 0 2.0 0a1.0 1.0 0 1 0 -2.0 0M81.3 73.6a1.0 1.0 0 1 0 2.0 0a1.0 1.0 0 1 0 -2.0 0M83.2 68.4a1.0 1.0 0 1 0 2.0 0a1.0 1.0 0 1 0 -2.0 0M90.4 71.6a1.0 1.0 0 1 0 2.0 0a1.0 1.0 0 1 0 -2.0 0M94.9 74.9a1.0 1.0 0 1 0 2.0 0a1.0 1.0 0 1 0 -2.0 0M96.9 78.8a1.0 1.0 0 1 0 2.0 0a1.0 1.0 0 1 0 -2.0 0M82.6 79.4a1.0 1.0 0 1 0 2.0 0a1.0 1.0 0 1 0 -2.0 0M72.9 78.8a1.0 1.0 0 1 0 2.0 0a1.0 1.0 0 1 0 -2.0 0M64.4 77.5a1.0 1.0 0 1 0 2.0 0a1.0 1.0 0 1 0 -2.0 0M72.2 82.7a1.0 1.0 0 1 0 2.0 0a1.0 1.0 0 1 0 -2.0 0M74.8 84.6a1.0 1.0 0 1 0 2.0 0a1.0 1.0 0 1 0 -2.0 0M74.1 88.6a1.0 1.0 0 1 0 2.0 0a1.0 1.0 0 1 0 -2.0 0M73.5 91.8a1.0 1.0 0 1 0 2.0 0a1.0 1.0 0 1 0 -2.0 0M70.2 93.8a1.0 1.0 0 1 0 2.0 0a1.0 1.0 0 1 0 -2.0 0M66.4 96.4a1.0 1.0 0 1 0 2.0 0a1.0 1.0 0 1 0 -2.0 0M84.6 89.2a1.0 1.0 0 1 0 2.0 0a1.0 1.0 0 1 0 -2.0 0M82.6 97.6a1.0 1.0 0 1 0 2.0 0a1.0 1.0 0 1 0 -2.0 0M91.1 85.3a1.0 1.0 0 1 0 2.0 0a1.0 1.0 0 1 0 -2.0 0M108.6 82.1a1.0 1.0 0 1 0 2.0 0a1.0 1.0 0 1 0 -2.0 0M102.8 90.5a1.0 1.0 0 1 0 2.0 0a1.0 1.0 0 1 0 -2.0 0M110.6 92.4a1.0 1.0 0 1 0 2.0 0a1.0 1.0 0 1 0 -2.0 0M113.8 80.8a1.0 1.0 0 1 0 2.0 0a1.0 1.0 0 1 0 -2.0 0M118.4 82.1a1.0 1.0 0 1 0 2.0 0a1.0 1.0 0 1 0 -2.0 0M124.9 83.4a1.0 1.0 0 1 0 2.0 0a1.0 1.0 0 1 0 -2.0 0M124.9 91.8a1.0 1.0 0 1 0 2.0 0a1.0 1.0 0 1 0 -2.0 0M105.4 98.3a1.0 1.0 0 1 0 2.0 0a1.0 1.0 0 1 0 -2.0 0M113.1 100.2a1.0 1.0 0 1 0 2.0 0a1.0 1.0 0 1 0 -2.0 0"/><path fill="#2412d8" d="M112.5 5.1a1.0 1.0 0 1 0 2.0 0a1.0 1.0 0 1 0 -2.0 0M119.6 3.1a1.0 1.0 0 1 0 2.0 0a1.0 1.0 0 1 0 -2.0 0M120.9 4.4a1.0 1.0 0 1 0 2.0 0a1.0 1.0 0 1 0 -2.0 0M115.8 12.9a1.0 1.0 0 1 0 2.0 0a1.0 1.0 0 1 0 -2.0 0M106.6 26.5a1.0 1.0 0 1 0 2.0 0a1.0 1.0 0 1 0 -2.0 0M98.2 27.1a1.0 1.0 0 1 0 2.0 0a1.0 1.0 0 1 0 -2.0 0M101.4 27.1a1.0 1.0 0 1 0 2.0 0a1.0 1.0 0 1 0 -2.0 0M111.2 28.4a1.0 1.0 0 1 0 2.0 0a1.0 1.0 0 1 0 -2.0 0M118.4 31.7a1.0 1.0 0 1 0 2.0 0a1.0 1.0 0 1 0 -2.0 0M84.6 31.7a1.0 1.0 0 1 0 2.0 0a1.0 1.0 0 1 0 -2.0 0M83.2 33.0a1.0 1.0 0 1 0 2.0 0a1.0 1.0 0 1 0 -2.0 0M102.1 34.9a1.0 1.0 0 1 0 2.0 0a1.0 1.0 0 1 0 -2.0 0M113.8 36.9a1.0 1.0 0 1 0 2.0 0a1.0 1.0 0 1 0 -2.0 0M116.4 38.2a1.0 1.0 0 1 0 2.0 0a1.0 1.0 0 1 0 -2.0 0M78.1 39.5a1.0 1.0 0 1 0 2.0 0a1.0 1.0 0 1 0 -2.0 0M78.7 35.6a1.0 1.0 0 1 0 2.0 0a1.0 1.0 0 1 0 -2.0 0M81.9 38.9a1.0 1.0 0 1 0 2.0 0a1.0 1.0 0 1 0 -2.0 0M83.9 38.9a1.0 1.0 0 1 0 2.0 0a1.0 1.0 0 1 0 -2.0 0M100.8 39.5a1.0 1.0 0 1 0 2.0 0a1.0 1.0 0 1 0 -2.0 0M79.4 41.4a1.0 1.0 0 1 0 2.0 0a1.0 1.0 0 1 0 -2.0 0M83.2 42.1a1.0 1.0 0 1 0 2.0 0a1.0 1.0 0 1 0 -2.0 0M95.6 42.1a1.0 1.0 0 1 0 2.0 0a1.0 1.0 0 1 0 -2.0 0M98.9 42.1a1.0 1.0 0 1 0 2.0 0a1.0 1.0 0 1 0 -2.0 0M108.6 40.1a1.0 1.0 0 1 0 2.0 0a1.0 1.0 0 1 0 -2.0 0M106.6 44.7a1.0 1.0 0 1 0 2.0 0a1.0 1.0 0 1 0 -2.0 0M77.4 45.4a1.0 1.0 0 1 0 2.0 0a1.0 1.0 0 1 0 -2.0 0M80.0 47.9a1.0 1.0 0 1 0 2.0 0a1.0 1.0 0 1 0 -2.0 0M83.2 44.7a1.0 1.0 0 1 0 2.0 0a1.0 1.0 0 1 0 -2.0 0M82.6 46.0a1.0 1.0 0 1 0 2.0 0a1.0 1.0 0 1 0 -2.0 0M97.6 44.1a1.0 1.0 0 1 0 2.0 0a1.0 1.0 0 1 0 -2.0 0M87.8 49.2a1.0 1.0 0 1 0 2.0 0a1.0 1.0 0 1 0 -2.0 0M91.1 48.6a1.0 1.0 0 1 0 2.0 0a1.0 1.0 0 1 0 -2.0 0M90.4 49.9a1.0 1.0 0 1 0 2.0 0a1.0 1.0 0 1 0 -2.0 0M119.6 47.3a1.0 1.0 0 1 0 2.0 0a1.0 1.0 0 1 0 -2.0 0M50.1 54.4a1.0 1.0 0 1 0 2.0 0a1.0 1.0 0 1 0 -2.0 0M61.8 55.4a1.0 1.0 0 1 0 2.0 0a1.0 1.0 0 1 0 -2.0 0M54.0 63.9a1.0 1.0 0 1 0 2.0 0a1.0 1.0 0 1 0 -2.0 0M52.1 65.8a1.0 1.0 0 1 0 2.0 0a1.0 1.0 0 1 0 -2.0 0M62.4 64.5a1.0 1.0 0 1 0 2.0 0a1.0 1.0 0 1 0 -2.0 0M56.6 75.2a1.0 1.0 0 1 0 2.0 0a1.0 1.0 0 1 0 -2.0 0M54.6 75.9a1.0 1.0 0 1 0 2.0 0a1.0 1.0 0 1 0 -2.0 0M61.8 74.9a1.0 1.0 0 1 0 2.0 0a1.0 1.0 0 1 0 -2.0 0M60.5 86.3a1.0 1.0 0 1 0 2.0 0a1.0 1.0 0 1 0 -2.0 0M57.9 89.9a1.0 1.0 0 1 0 2.0 0a1.0 1.0 0 1 0 -2.0 0M46.9 92.4a1.0 1.0 0 1 0 2.0 0a1.0 1.0 0 1 0 -2.0 0M59.9 95.1a1.0 1.0 0 1 0 2.0 0a1.0 1.0 0 1 0 -2.0 0M51.8 97.3a1.0 1.0 0 1 0 2.0 0a1.0 1.0 0 1 0 -2.0 0M69.6 55.4a1.0 1.0 0 1 0 2.0 0a1.0 1.0 0 1 0 -2.0 0M76.1 52.1a1.0 1.0 0 1 0 2.0 0a1.0 1.0 0 1 0 -2.0 0M101.4 56.1a1.0 1.0 0 1 0 2.0 0a1.0 1.0 0 1 0 -2.0 0M104.1 53.4a1.0 1.0 0 1 0 2.0 0a1.0 1.0 0 1 0 -2.0 0M115.1 55.4a1.0 1.0 0 1 0 2.0 0a1.0 1.0 0 1 0 -2.0 0M73.5 57.4a1.0 1.0 0 1 0 2.0 0a1.0 1.0 0 1 0 -2.0 0M76.8 57.4a1.0 1.0 0 1 0 2.0 0a1.0 1.0 0 1 0 -2.0 0M68.9 59.3a1.0 1.0 0 1 0 2.0 0a1.0 1.0 0 1 0 -2.0 0M112.5 63.2a1.0 1.0 0 1 0 2.0 0a1.0 1.0 0 1 0 -2.0 0M114.4 61.9a1.0 1.0 0 1 0 2.0 0a1.0 1.0 0 1 0 -2.0 0M116.4 61.9a1.0 1.0 0 1 0 2.0 0a1.0 1.0 0 1 0 -2.0 0M122.2 68.4a1.0 1.0 0 1 0 2.0 0a1.0 1.0 0 1 0 -2.0 0M70.9 73.6a1.0 1.0 0 1 0 2.0 0a1.0 1.0 0 1 0 -2.0 0M71.6 75.6a1.0 1.0 0 1 0 2.0 0a1.0 1.0 0 1 0 -2.0 0M77.4 74.2a1.0 1.0 0 1 0 2.0 0a1.0 1.0 0 1 0 -2.0 0M80.0 74.9a1.0 1.0 0 1 0 2.0 0a1.0 1.0 0 1 0 -2.0 0M94.9 77.5a1.0 1.0 0 1 0 2.0 0a1.0 1.0 0 1 0 -2.0 0M85.2 79.4a1.0 1.0 0 1 0 2.0 0a1.0 1.0 0 1 0 -2.0 0M80.0 78.1a1.0 1.0 0 1 0 2.0 0a1.0 1.0 0 1 0 -2.0 0M70.9 77.5a1.0 1.0 0 1 0 2.0 0a1.0 1.0 0 1 0 -2.0 0M72.2 79.4a1.0 1.0 0 1 0 2.0 0a1.0 1.0 0 1 0 -2.0 0M73.5 84.0a1.0 1.0 0 1 0 2.0 0a1.0 1.0 0 1 0 -2.0 0M70.9 84.0a1.0 1.0 0 1 0 2.0 0a1.0 1.0 0 1 0 -2.0 0M70.2 88.6a1.0 1.0 0 1 0 2.0 0a1.0 1.0 0 1 0 -2.0 0M76.8 90.5a1.0 1.0 0 1 0 2.0 0a1.0 1.0 0 1 0 -2.0 0M76.8 82.7a1.0 1.0 0 1 0 2.0 0a1.0 1.0 0 1 0 -2.0 0M80.6 82.1a1.0 1.0 0 1 0 2.0 0a1.0 1.0 0 1 0 -2.0 0M83.9 85.3a1.0 1.0 0 1 0 2.0 0a1.0 1.0 0 1 0 -2.0 0M85.2 93.1a1.0 1.0 0 1 0 2.0 0a1.0 1.0 0 1 0 -2.0 0M80.6 93.8a1.0 1.0 0 1 0 2.0 0a1.0 1.0 0 1 0 -2.0 0M98.9 76.2a1.0 1.0 0 1 0 2.0 0a1.0 1.0 0 1 0 -2.0 0M105.4 81.4a1.0 1.0 0 1 0 2.0 0a1.0 1.0 0 1 0 -2.0 0M107.9 85.3a1.0 1.0 0 1 0 2.0 0a1.0 1.0 0 1 0 -2.0 0M102.1 93.1a1.0 1.0 0 1 0 2.0 0a1.0 1.0 0 1 0 -2.0 0M114.4 86.6a1.0 1.0 0 1 0 2.0 0a1.0 1.0 0 1 0 -2.0 0M120.9 93.1a1.0 1.0 0 1 0 2.0 0a1.0 1.0 0 1 0 -2.0 0M117.1 96.4a1.0 1.0 0 1 0 2.0 0a1.0 1.0 0 1 0 -2.0 0M108.6 98.3a1.0 1.0 0 1 0 2.0 0a1.0 1.0 0 1 0 -2.0 0M105.4 100.2a1.0 1.0 0 1 0 2.0 0a1.0 1.0 0 1 0 -2.0 0"/></g>
</g>
<rect x="338.25" y="265.50" width="130.4" height="101.8" fill="none" stroke="#1a1a1a" stroke-width="1.45"/>
<path d="M333.65 288.99H338.25M333.65 328.15H338.25M333.65 367.30H338.25M338.25 367.30V371.90M376.60 367.30V371.90M414.96 367.30V371.90M453.31 367.30V371.90" stroke="#1a1a1a" stroke-width="1.2" fill="none"/>
<text x="338.35" y="262.00" font-size="10">(i)</text>
<text x="469.15" y="262.00" font-size="10" text-anchor="end">ΔRMSE: -0.019 (-1.2%)</text>
<text x="12.8" y="319.70" font-size="12.5" text-anchor="middle">U</text>
<path d="M473.6 274.20L477.80 269.90L482.0 274.20Z" fill="#a3002a"/><rect x="473.6" y="274.20" width="8.40" height="8.44" fill="#ee1b34"/><rect x="473.6" y="282.59" width="8.40" height="8.44" fill="#f43b3e"/><rect x="473.6" y="290.98" width="8.40" height="8.44" fill="#fca66a"/><rect x="473.6" y="299.37" width="8.40" height="8.44" fill="#fdd591"/><rect x="473.6" y="307.76" width="8.40" height="8.44" fill="#fffde2"/><rect x="473.6" y="316.15" width="8.40" height="8.44" fill="#e4fbff"/><rect x="473.6" y="324.54" width="8.40" height="8.44" fill="#9ae5f8"/><rect x="473.6" y="332.93" width="8.40" height="8.44" fill="#66c6f7"/><rect x="473.6" y="341.32" width="8.40" height="8.44" fill="#3a86f5"/><rect x="473.6" y="349.71" width="8.40" height="8.44" fill="#2a4ff3"/><path d="M473.6 358.10L477.80 362.50L482.0 358.10Z" fill="#1f0fd6"/>
<path d="M473.6 274.20L477.80 269.90L482.0 274.20V358.10L477.80 362.50L473.6 358.10Z" fill="none" stroke="#777" stroke-width="0.5"/>
<path d="M482.0 282.59h1.6" stroke="#999" stroke-width="0.7"/>
<text x="484.9" y="285.84" font-size="9">8</text>
<path d="M482.0 299.37h1.6" stroke="#999" stroke-width="0.7"/>
<text x="484.9" y="302.62" font-size="9">4</text>
<path d="M482.0 316.15h1.6" stroke="#999" stroke-width="0.7"/>
<text x="484.9" y="319.40" font-size="9">0</text>
<path d="M482.0 332.93h1.6" stroke="#999" stroke-width="0.7"/>
<text x="484.9" y="336.18" font-size="9">−4</text>
<path d="M482.0 349.71h1.6" stroke="#999" stroke-width="0.7"/>
<text x="484.9" y="352.96" font-size="9">−8</text>
<clipPath id="cp9"><rect x="51.75" y="390.55" width="130.4" height="101.8"/></clipPath>
<g clip-path="url(#cp9)">
<use href="#cont" transform="translate(51.75,390.55)"/>
<g transform="translate(51.75,390.55)"><path fill="#dcf8fd" d="M29.4 15.8a1.0 1.0 0 1 0 2.0 0a1.0 1.0 0 1 0 -2.0 0M5.1 24.2a1.0 1.0 0 1 0 2.0 0a1.0 1.0 0 1 0 -2.0 0M4.2 27.5a1.0 1.0 0 1 0 2.0 0a1.0 1.0 0 1 0 -2.0 0M26.8 29.4a1.0 1.0 0 1 0 2.0 0a1.0 1.0 0 1 0 -2.0 0M41.9 24.9a1.0 1.0 0 1 0 2.0 0a1.0 1.0 0 1 0 -2.0 0M43.7 29.4a1.0 1.0 0 1 0 2.0 0a1.0 1.0 0 1 0 -2.0 0M28.5 38.8a1.0 1.0 0 1 0 2.0 0a1.0 1.0 0 1 0 -2.0 0M36.3 41.8a1.0 1.0 0 1 0 2.0 0a1.0 1.0 0 1 0 -2.0 0M42.2 41.8a1.0 1.0 0 1 0 2.0 0a1.0 1.0 0 1 0 -2.0 0M46.0 39.1a1.0 1.0 0 1 0 2.0 0a1.0 1.0 0 1 0 -2.0 0M0.8 34.0a1.0 1.0 0 1 0 2.0 0a1.0 1.0 0 1 0 -2.0 0M51.2 47.2a1.0 1.0 0 1 0 2.0 0a1.0 1.0 0 1 0 -2.0 0M72.0 13.4a1.0 1.0 0 1 0 2.0 0a1.0 1.0 0 1 0 -2.0 0M81.2 10.8a1.0 1.0 0 1 0 2.0 0a1.0 1.0 0 1 0 -2.0 0M92.8 13.4a1.0 1.0 0 1 0 2.0 0a1.0 1.0 0 1 0 -2.0 0M118.8 35.6a1.0 1.0 0 1 0 2.0 0a1.0 1.0 0 1 0 -2.0 0M124.1 29.1a1.0 1.0 0 1 0 2.0 0a1.0 1.0 0 1 0 -2.0 0M107.2 49.8a1.0 1.0 0 1 0 2.0 0a1.0 1.0 0 1 0 -2.0 0M90.2 31.6a1.0 1.0 0 1 0 2.0 0a1.0 1.0 0 1 0 -2.0 0M42.2 82.6a1.0 1.0 0 1 0 2.0 0a1.0 1.0 0 1 0 -2.0 0M38.2 79.4a1.0 1.0 0 1 0 2.0 0a1.0 1.0 0 1 0 -2.0 0M53.8 93.1a1.0 1.0 0 1 0 2.0 0a1.0 1.0 0 1 0 -2.0 0M44.8 59.2a1.0 1.0 0 1 0 2.0 0a1.0 1.0 0 1 0 -2.0 0M103.2 80.1a1.0 1.0 0 1 0 2.0 0a1.0 1.0 0 1 0 -2.0 0M109.8 85.2a1.0 1.0 0 1 0 2.0 0a1.0 1.0 0 1 0 -2.0 0M116.2 85.2a1.0 1.0 0 1 0 2.0 0a1.0 1.0 0 1 0 -2.0 0M98.1 95.6a1.0 1.0 0 1 0 2.0 0a1.0 1.0 0 1 0 -2.0 0M118.8 99.6a1.0 1.0 0 1 0 2.0 0a1.0 1.0 0 1 0 -2.0 0M126.7 87.8a1.0 1.0 0 1 0 2.0 0a1.0 1.0 0 1 0 -2.0 0M14.3 5.5a1.0 1.0 0 1 0 2.0 0a1.0 1.0 0 1 0 -2.0 0M89.5 10.7a1.0 1.0 0 1 0 2.0 0a1.0 1.0 0 1 0 -2.0 0M110.3 10.1a1.0 1.0 0 1 0 2.0 0a1.0 1.0 0 1 0 -2.0 0M115.3 9.9a1.0 1.0 0 1 0 2.0 0a1.0 1.0 0 1 0 -2.0 0M103.2 15.7a1.0 1.0 0 1 0 2.0 0a1.0 1.0 0 1 0 -2.0 0M84.3 20.7a1.0 1.0 0 1 0 2.0 0a1.0 1.0 0 1 0 -2.0 0M110.4 20.7a1.0 1.0 0 1 0 2.0 0a1.0 1.0 0 1 0 -2.0 0M65.5 24.4a1.0 1.0 0 1 0 2.0 0a1.0 1.0 0 1 0 -2.0 0M74.9 24.1a1.0 1.0 0 1 0 2.0 0a1.0 1.0 0 1 0 -2.0 0M88.0 29.0a1.0 1.0 0 1 0 2.0 0a1.0 1.0 0 1 0 -2.0 0M74.8 32.8a1.0 1.0 0 1 0 2.0 0a1.0 1.0 0 1 0 -2.0 0M64.6 44.2a1.0 1.0 0 1 0 2.0 0a1.0 1.0 0 1 0 -2.0 0M65.3 47.3a1.0 1.0 0 1 0 2.0 0a1.0 1.0 0 1 0 -2.0 0M61.3 52.4a1.0 1.0 0 1 0 2.0 0a1.0 1.0 0 1 0 -2.0 0M83.5 50.8a1.0 1.0 0 1 0 2.0 0a1.0 1.0 0 1 0 -2.0 0M91.8 56.2a1.0 1.0 0 1 0 2.0 0a1.0 1.0 0 1 0 -2.0 0M116.7 57.9a1.0 1.0 0 1 0 2.0 0a1.0 1.0 0 1 0 -2.0 0M91.9 62.3a1.0 1.0 0 1 0 2.0 0a1.0 1.0 0 1 0 -2.0 0M63.8 66.6a1.0 1.0 0 1 0 2.0 0a1.0 1.0 0 1 0 -2.0 0M75.3 64.6a1.0 1.0 0 1 0 2.0 0a1.0 1.0 0 1 0 -2.0 0M74.9 71.1a1.0 1.0 0 1 0 2.0 0a1.0 1.0 0 1 0 -2.0 0M86.4 69.6a1.0 1.0 0 1 0 2.0 0a1.0 1.0 0 1 0 -2.0 0M100.7 71.0a1.0 1.0 0 1 0 2.0 0a1.0 1.0 0 1 0 -2.0 0M106.7 70.9a1.0 1.0 0 1 0 2.0 0a1.0 1.0 0 1 0 -2.0 0M58.8 75.0a1.0 1.0 0 1 0 2.0 0a1.0 1.0 0 1 0 -2.0 0M87.6 74.0a1.0 1.0 0 1 0 2.0 0a1.0 1.0 0 1 0 -2.0 0M111.3 76.1a1.0 1.0 0 1 0 2.0 0a1.0 1.0 0 1 0 -2.0 0M110.9 78.7a1.0 1.0 0 1 0 2.0 0a1.0 1.0 0 1 0 -2.0 0M64.3 88.1a1.0 1.0 0 1 0 2.0 0a1.0 1.0 0 1 0 -2.0 0M93.6 89.9a1.0 1.0 0 1 0 2.0 0a1.0 1.0 0 1 0 -2.0 0M112.4 88.7a1.0 1.0 0 1 0 2.0 0a1.0 1.0 0 1 0 -2.0 0M114.8 90.1a1.0 1.0 0 1 0 2.0 0a1.0 1.0 0 1 0 -2.0 0M42.0 92.6a1.0 1.0 0 1 0 2.0 0a1.0 1.0 0 1 0 -2.0 0M65.3 93.6a1.0 1.0 0 1 0 2.0 0a1.0 1.0 0 1 0 -2.0 0M68.6 94.0a1.0 1.0 0 1 0 2.0 0a1.0 1.0 0 1 0 -2.0 0M91.2 94.7a1.0 1.0 0 1 0 2.0 0a1.0 1.0 0 1 0 -2.0 0M55.1 96.8a1.0 1.0 0 1 0 2.0 0a1.0 1.0 0 1 0 -2.0 0M65.7 99.1a1.0 1.0 0 1 0 2.0 0a1.0 1.0 0 1 0 -2.0 0M82.7 98.3a1.0 1.0 0 1 0 2.0 0a1.0 1.0 0 1 0 -2.0 0M88.6 96.7a1.0 1.0 0 1 0 2.0 0a1.0 1.0 0 1 0 -2.0 0M114.9 99.0a1.0 1.0 0 1 0 2.0 0a1.0 1.0 0 1 0 -2.0 0"/><path fill="#fdf8d8" d="M16.8 16.7a1.0 1.0 0 1 0 2.0 0a1.0 1.0 0 1 0 -2.0 0M52.5 26.4a1.0 1.0 0 1 0 2.0 0a1.0 1.0 0 1 0 -2.0 0M55.2 31.6a1.0 1.0 0 1 0 2.0 0a1.0 1.0 0 1 0 -2.0 0M54.5 38.8a1.0 1.0 0 1 0 2.0 0a1.0 1.0 0 1 0 -2.0 0M55.2 46.2a1.0 1.0 0 1 0 2.0 0a1.0 1.0 0 1 0 -2.0 0M25.2 21.9a1.0 1.0 0 1 0 2.0 0a1.0 1.0 0 1 0 -2.0 0M51.2 55.3a1.0 1.0 0 1 0 2.0 0a1.0 1.0 0 1 0 -2.0 0M92.9 4.7a1.0 1.0 0 1 0 2.0 0a1.0 1.0 0 1 0 -2.0 0M70.6 11.0a1.0 1.0 0 1 0 2.0 0a1.0 1.0 0 1 0 -2.0 0M120.5 10.3a1.0 1.0 0 1 0 2.0 0a1.0 1.0 0 1 0 -2.0 0M64.1 19.0a1.0 1.0 0 1 0 2.0 0a1.0 1.0 0 1 0 -2.0 0M78.0 29.2a1.0 1.0 0 1 0 2.0 0a1.0 1.0 0 1 0 -2.0 0M83.8 29.3a1.0 1.0 0 1 0 2.0 0a1.0 1.0 0 1 0 -2.0 0M64.0 34.4a1.0 1.0 0 1 0 2.0 0a1.0 1.0 0 1 0 -2.0 0M77.9 34.5a1.0 1.0 0 1 0 2.0 0a1.0 1.0 0 1 0 -2.0 0M124.1 32.2a1.0 1.0 0 1 0 2.0 0a1.0 1.0 0 1 0 -2.0 0M31.2 38.5a1.0 1.0 0 1 0 2.0 0a1.0 1.0 0 1 0 -2.0 0M119.8 39.4a1.0 1.0 0 1 0 2.0 0a1.0 1.0 0 1 0 -2.0 0M61.3 49.0a1.0 1.0 0 1 0 2.0 0a1.0 1.0 0 1 0 -2.0 0M61.0 56.3a1.0 1.0 0 1 0 2.0 0a1.0 1.0 0 1 0 -2.0 0M96.9 64.4a1.0 1.0 0 1 0 2.0 0a1.0 1.0 0 1 0 -2.0 0M119.2 64.9a1.0 1.0 0 1 0 2.0 0a1.0 1.0 0 1 0 -2.0 0M110.1 72.0a1.0 1.0 0 1 0 2.0 0a1.0 1.0 0 1 0 -2.0 0M42.2 75.1a1.0 1.0 0 1 0 2.0 0a1.0 1.0 0 1 0 -2.0 0M126.1 79.3a1.0 1.0 0 1 0 2.0 0a1.0 1.0 0 1 0 -2.0 0M100.8 94.0a1.0 1.0 0 1 0 2.0 0a1.0 1.0 0 1 0 -2.0 0"/><path fill="#80d3f7" d="M19.4 9.3a1.0 1.0 0 1 0 2.0 0a1.0 1.0 0 1 0 -2.0 0M30.7 9.6a1.0 1.0 0 1 0 2.0 0a1.0 1.0 0 1 0 -2.0 0M51.9 8.2a1.0 1.0 0 1 0 2.0 0a1.0 1.0 0 1 0 -2.0 0M58.4 16.3a1.0 1.0 0 1 0 2.0 0a1.0 1.0 0 1 0 -2.0 0M31.1 30.3a1.0 1.0 0 1 0 2.0 0a1.0 1.0 0 1 0 -2.0 0M20.3 33.3a1.0 1.0 0 1 0 2.0 0a1.0 1.0 0 1 0 -2.0 0M9.6 41.8a1.0 1.0 0 1 0 2.0 0a1.0 1.0 0 1 0 -2.0 0M95.4 1.8a1.0 1.0 0 1 0 2.0 0a1.0 1.0 0 1 0 -2.0 0M101.9 8.2a1.0 1.0 0 1 0 2.0 0a1.0 1.0 0 1 0 -2.0 0M113.7 3.1a1.0 1.0 0 1 0 2.0 0a1.0 1.0 0 1 0 -2.0 0M116.2 15.4a1.0 1.0 0 1 0 2.0 0a1.0 1.0 0 1 0 -2.0 0M117.6 16.7a1.0 1.0 0 1 0 2.0 0a1.0 1.0 0 1 0 -2.0 0M121.4 18.0a1.0 1.0 0 1 0 2.0 0a1.0 1.0 0 1 0 -2.0 0M70.8 31.6a1.0 1.0 0 1 0 2.0 0a1.0 1.0 0 1 0 -2.0 0M85.1 31.6a1.0 1.0 0 1 0 2.0 0a1.0 1.0 0 1 0 -2.0 0M83.1 33.6a1.0 1.0 0 1 0 2.0 0a1.0 1.0 0 1 0 -2.0 0M97.4 31.6a1.0 1.0 0 1 0 2.0 0a1.0 1.0 0 1 0 -2.0 0M103.2 31.0a1.0 1.0 0 1 0 2.0 0a1.0 1.0 0 1 0 -2.0 0M108.4 32.9a1.0 1.0 0 1 0 2.0 0a1.0 1.0 0 1 0 -2.0 0M109.1 35.6a1.0 1.0 0 1 0 2.0 0a1.0 1.0 0 1 0 -2.0 0M118.8 31.6a1.0 1.0 0 1 0 2.0 0a1.0 1.0 0 1 0 -2.0 0M121.4 32.3a1.0 1.0 0 1 0 2.0 0a1.0 1.0 0 1 0 -2.0 0M125.3 36.2a1.0 1.0 0 1 0 2.0 0a1.0 1.0 0 1 0 -2.0 0M81.2 34.9a1.0 1.0 0 1 0 2.0 0a1.0 1.0 0 1 0 -2.0 0M80.5 36.8a1.0 1.0 0 1 0 2.0 0a1.0 1.0 0 1 0 -2.0 0M87.7 36.8a1.0 1.0 0 1 0 2.0 0a1.0 1.0 0 1 0 -2.0 0M95.4 40.1a1.0 1.0 0 1 0 2.0 0a1.0 1.0 0 1 0 -2.0 0M103.2 36.8a1.0 1.0 0 1 0 2.0 0a1.0 1.0 0 1 0 -2.0 0M111.1 39.4a1.0 1.0 0 1 0 2.0 0a1.0 1.0 0 1 0 -2.0 0M100.0 42.1a1.0 1.0 0 1 0 2.0 0a1.0 1.0 0 1 0 -2.0 0M101.9 42.7a1.0 1.0 0 1 0 2.0 0a1.0 1.0 0 1 0 -2.0 0M114.9 44.6a1.0 1.0 0 1 0 2.0 0a1.0 1.0 0 1 0 -2.0 0M125.3 40.8a1.0 1.0 0 1 0 2.0 0a1.0 1.0 0 1 0 -2.0 0M121.4 47.9a1.0 1.0 0 1 0 2.0 0a1.0 1.0 0 1 0 -2.0 0M96.8 47.9a1.0 1.0 0 1 0 2.0 0a1.0 1.0 0 1 0 -2.0 0M87.0 49.2a1.0 1.0 0 1 0 2.0 0a1.0 1.0 0 1 0 -2.0 0M83.1 47.9a1.0 1.0 0 1 0 2.0 0a1.0 1.0 0 1 0 -2.0 0M77.9 48.6a1.0 1.0 0 1 0 2.0 0a1.0 1.0 0 1 0 -2.0 0M59.0 60.6a1.0 1.0 0 1 0 2.0 0a1.0 1.0 0 1 0 -2.0 0M63.6 59.2a1.0 1.0 0 1 0 2.0 0a1.0 1.0 0 1 0 -2.0 0M48.0 66.8a1.0 1.0 0 1 0 2.0 0a1.0 1.0 0 1 0 -2.0 0M49.3 74.6a1.0 1.0 0 1 0 2.0 0a1.0 1.0 0 1 0 -2.0 0M46.0 79.4a1.0 1.0 0 1 0 2.0 0a1.0 1.0 0 1 0 -2.0 0M53.2 82.6a1.0 1.0 0 1 0 2.0 0a1.0 1.0 0 1 0 -2.0 0M48.0 89.8a1.0 1.0 0 1 0 2.0 0a1.0 1.0 0 1 0 -2.0 0M49.9 99.6a1.0 1.0 0 1 0 2.0 0a1.0 1.0 0 1 0 -2.0 0M87.0 53.0a1.0 1.0 0 1 0 2.0 0a1.0 1.0 0 1 0 -2.0 0M104.6 53.4a1.0 1.0 0 1 0 2.0 0a1.0 1.0 0 1 0 -2.0 0M121.4 53.4a1.0 1.0 0 1 0 2.0 0a1.0 1.0 0 1 0 -2.0 0M126.7 54.7a1.0 1.0 0 1 0 2.0 0a1.0 1.0 0 1 0 -2.0 0M66.8 56.6a1.0 1.0 0 1 0 2.0 0a1.0 1.0 0 1 0 -2.0 0M74.0 57.3a1.0 1.0 0 1 0 2.0 0a1.0 1.0 0 1 0 -2.0 0M83.8 57.3a1.0 1.0 0 1 0 2.0 0a1.0 1.0 0 1 0 -2.0 0M90.2 59.2a1.0 1.0 0 1 0 2.0 0a1.0 1.0 0 1 0 -2.0 0M95.4 61.2a1.0 1.0 0 1 0 2.0 0a1.0 1.0 0 1 0 -2.0 0M99.3 58.6a1.0 1.0 0 1 0 2.0 0a1.0 1.0 0 1 0 -2.0 0M105.8 58.6a1.0 1.0 0 1 0 2.0 0a1.0 1.0 0 1 0 -2.0 0M118.8 60.6a1.0 1.0 0 1 0 2.0 0a1.0 1.0 0 1 0 -2.0 0M126.7 59.2a1.0 1.0 0 1 0 2.0 0a1.0 1.0 0 1 0 -2.0 0M77.2 67.1a1.0 1.0 0 1 0 2.0 0a1.0 1.0 0 1 0 -2.0 0M88.3 61.8a1.0 1.0 0 1 0 2.0 0a1.0 1.0 0 1 0 -2.0 0M93.5 64.4a1.0 1.0 0 1 0 2.0 0a1.0 1.0 0 1 0 -2.0 0M95.4 68.3a1.0 1.0 0 1 0 2.0 0a1.0 1.0 0 1 0 -2.0 0M98.7 67.7a1.0 1.0 0 1 0 2.0 0a1.0 1.0 0 1 0 -2.0 0M100.7 67.1a1.0 1.0 0 1 0 2.0 0a1.0 1.0 0 1 0 -2.0 0M103.2 65.8a1.0 1.0 0 1 0 2.0 0a1.0 1.0 0 1 0 -2.0 0M106.5 65.8a1.0 1.0 0 1 0 2.0 0a1.0 1.0 0 1 0 -2.0 0M108.4 64.4a1.0 1.0 0 1 0 2.0 0a1.0 1.0 0 1 0 -2.0 0M113.7 70.3a1.0 1.0 0 1 0 2.0 0a1.0 1.0 0 1 0 -2.0 0M117.6 70.9a1.0 1.0 0 1 0 2.0 0a1.0 1.0 0 1 0 -2.0 0M125.3 65.8a1.0 1.0 0 1 0 2.0 0a1.0 1.0 0 1 0 -2.0 0M127.9 64.4a1.0 1.0 0 1 0 2.0 0a1.0 1.0 0 1 0 -2.0 0M76.6 75.5a1.0 1.0 0 1 0 2.0 0a1.0 1.0 0 1 0 -2.0 0M81.8 73.6a1.0 1.0 0 1 0 2.0 0a1.0 1.0 0 1 0 -2.0 0M91.6 82.0a1.0 1.0 0 1 0 2.0 0a1.0 1.0 0 1 0 -2.0 0M75.3 80.7a1.0 1.0 0 1 0 2.0 0a1.0 1.0 0 1 0 -2.0 0M78.6 82.6a1.0 1.0 0 1 0 2.0 0a1.0 1.0 0 1 0 -2.0 0M71.4 83.9a1.0 1.0 0 1 0 2.0 0a1.0 1.0 0 1 0 -2.0 0M84.4 85.2a1.0 1.0 0 1 0 2.0 0a1.0 1.0 0 1 0 -2.0 0M77.2 89.8a1.0 1.0 0 1 0 2.0 0a1.0 1.0 0 1 0 -2.0 0M77.9 90.4a1.0 1.0 0 1 0 2.0 0a1.0 1.0 0 1 0 -2.0 0M72.0 93.7a1.0 1.0 0 1 0 2.0 0a1.0 1.0 0 1 0 -2.0 0M88.3 90.4a1.0 1.0 0 1 0 2.0 0a1.0 1.0 0 1 0 -2.0 0M99.3 76.1a1.0 1.0 0 1 0 2.0 0a1.0 1.0 0 1 0 -2.0 0M107.2 78.1a1.0 1.0 0 1 0 2.0 0a1.0 1.0 0 1 0 -2.0 0M109.8 91.1a1.0 1.0 0 1 0 2.0 0a1.0 1.0 0 1 0 -2.0 0M110.4 82.0a1.0 1.0 0 1 0 2.0 0a1.0 1.0 0 1 0 -2.0 0M123.4 80.1a1.0 1.0 0 1 0 2.0 0a1.0 1.0 0 1 0 -2.0 0M118.8 89.1a1.0 1.0 0 1 0 2.0 0a1.0 1.0 0 1 0 -2.0 0M117.6 91.8a1.0 1.0 0 1 0 2.0 0a1.0 1.0 0 1 0 -2.0 0M120.2 93.1a1.0 1.0 0 1 0 2.0 0a1.0 1.0 0 1 0 -2.0 0M125.3 91.8a1.0 1.0 0 1 0 2.0 0a1.0 1.0 0 1 0 -2.0 0M103.2 93.1a1.0 1.0 0 1 0 2.0 0a1.0 1.0 0 1 0 -2.0 0M121.4 96.9a1.0 1.0 0 1 0 2.0 0a1.0 1.0 0 1 0 -2.0 0M121.4 100.8a1.0 1.0 0 1 0 2.0 0a1.0 1.0 0 1 0 -2.0 0M96.8 90.4a1.0 1.0 0 1 0 2.0 0a1.0 1.0 0 1 0 -2.0 0"/><path fill="#fdbb84" d="M59.7 21.2a1.0 1.0 0 1 0 2.0 0a1.0 1.0 0 1 0 -2.0 0M19.0 28.1a1.0 1.0 0 1 0 2.0 0a1.0 1.0 0 1 0 -2.0 0M77.2 6.9a1.0 1.0 0 1 0 2.0 0a1.0 1.0 0 1 0 -2.0 0M68.2 7.6a1.0 1.0 0 1 0 2.0 0a1.0 1.0 0 1 0 -2.0 0M86.3 9.6a1.0 1.0 0 1 0 2.0 0a1.0 1.0 0 1 0 -2.0 0M123.4 5.0a1.0 1.0 0 1 0 2.0 0a1.0 1.0 0 1 0 -2.0 0M125.3 3.7a1.0 1.0 0 1 0 2.0 0a1.0 1.0 0 1 0 -2.0 0M124.1 16.7a1.0 1.0 0 1 0 2.0 0a1.0 1.0 0 1 0 -2.0 0M100.7 16.7a1.0 1.0 0 1 0 2.0 0a1.0 1.0 0 1 0 -2.0 0M95.4 21.2a1.0 1.0 0 1 0 2.0 0a1.0 1.0 0 1 0 -2.0 0M98.1 19.9a1.0 1.0 0 1 0 2.0 0a1.0 1.0 0 1 0 -2.0 0M108.4 24.5a1.0 1.0 0 1 0 2.0 0a1.0 1.0 0 1 0 -2.0 0M113.7 19.3a1.0 1.0 0 1 0 2.0 0a1.0 1.0 0 1 0 -2.0 0M118.8 23.8a1.0 1.0 0 1 0 2.0 0a1.0 1.0 0 1 0 -2.0 0M124.1 25.1a1.0 1.0 0 1 0 2.0 0a1.0 1.0 0 1 0 -2.0 0M69.5 24.5a1.0 1.0 0 1 0 2.0 0a1.0 1.0 0 1 0 -2.0 0M92.2 25.8a1.0 1.0 0 1 0 2.0 0a1.0 1.0 0 1 0 -2.0 0M99.3 28.4a1.0 1.0 0 1 0 2.0 0a1.0 1.0 0 1 0 -2.0 0M113.0 32.9a1.0 1.0 0 1 0 2.0 0a1.0 1.0 0 1 0 -2.0 0M92.8 48.6a1.0 1.0 0 1 0 2.0 0a1.0 1.0 0 1 0 -2.0 0M58.4 65.1a1.0 1.0 0 1 0 2.0 0a1.0 1.0 0 1 0 -2.0 0M51.9 72.2a1.0 1.0 0 1 0 2.0 0a1.0 1.0 0 1 0 -2.0 0M56.4 71.6a1.0 1.0 0 1 0 2.0 0a1.0 1.0 0 1 0 -2.0 0M46.7 85.9a1.0 1.0 0 1 0 2.0 0a1.0 1.0 0 1 0 -2.0 0M61.0 86.3a1.0 1.0 0 1 0 2.0 0a1.0 1.0 0 1 0 -2.0 0M109.8 56.6a1.0 1.0 0 1 0 2.0 0a1.0 1.0 0 1 0 -2.0 0M81.2 59.9a1.0 1.0 0 1 0 2.0 0a1.0 1.0 0 1 0 -2.0 0M77.2 69.6a1.0 1.0 0 1 0 2.0 0a1.0 1.0 0 1 0 -2.0 0M85.1 63.8a1.0 1.0 0 1 0 2.0 0a1.0 1.0 0 1 0 -2.0 0M90.2 65.8a1.0 1.0 0 1 0 2.0 0a1.0 1.0 0 1 0 -2.0 0M103.9 67.7a1.0 1.0 0 1 0 2.0 0a1.0 1.0 0 1 0 -2.0 0M121.4 68.3a1.0 1.0 0 1 0 2.0 0a1.0 1.0 0 1 0 -2.0 0M92.2 74.8a1.0 1.0 0 1 0 2.0 0a1.0 1.0 0 1 0 -2.0 0M94.2 79.4a1.0 1.0 0 1 0 2.0 0a1.0 1.0 0 1 0 -2.0 0M65.5 77.4a1.0 1.0 0 1 0 2.0 0a1.0 1.0 0 1 0 -2.0 0M69.5 80.7a1.0 1.0 0 1 0 2.0 0a1.0 1.0 0 1 0 -2.0 0M73.3 89.1a1.0 1.0 0 1 0 2.0 0a1.0 1.0 0 1 0 -2.0 0M87.7 93.1a1.0 1.0 0 1 0 2.0 0a1.0 1.0 0 1 0 -2.0 0M107.2 88.5a1.0 1.0 0 1 0 2.0 0a1.0 1.0 0 1 0 -2.0 0M116.2 79.4a1.0 1.0 0 1 0 2.0 0a1.0 1.0 0 1 0 -2.0 0"/><path fill="#3c8af4" d="M38.0 16.1a1.0 1.0 0 1 0 2.0 0a1.0 1.0 0 1 0 -2.0 0M113.0 5.0a1.0 1.0 0 1 0 2.0 0a1.0 1.0 0 1 0 -2.0 0M64.9 12.1a1.0 1.0 0 1 0 2.0 0a1.0 1.0 0 1 0 -2.0 0M87.0 26.4a1.0 1.0 0 1 0 2.0 0a1.0 1.0 0 1 0 -2.0 0M105.8 31.6a1.0 1.0 0 1 0 2.0 0a1.0 1.0 0 1 0 -2.0 0"/><path fill="#ee2531" d="M64.9 2.4a1.0 1.0 0 1 0 2.0 0a1.0 1.0 0 1 0 -2.0 0M111.7 15.4a1.0 1.0 0 1 0 2.0 0a1.0 1.0 0 1 0 -2.0 0M104.6 20.6a1.0 1.0 0 1 0 2.0 0a1.0 1.0 0 1 0 -2.0 0M68.2 27.8a1.0 1.0 0 1 0 2.0 0a1.0 1.0 0 1 0 -2.0 0M107.2 23.8a1.0 1.0 0 1 0 2.0 0a1.0 1.0 0 1 0 -2.0 0M94.2 29.1a1.0 1.0 0 1 0 2.0 0a1.0 1.0 0 1 0 -2.0 0M85.7 34.2a1.0 1.0 0 1 0 2.0 0a1.0 1.0 0 1 0 -2.0 0M90.2 37.5a1.0 1.0 0 1 0 2.0 0a1.0 1.0 0 1 0 -2.0 0M93.5 38.1a1.0 1.0 0 1 0 2.0 0a1.0 1.0 0 1 0 -2.0 0M103.2 40.8a1.0 1.0 0 1 0 2.0 0a1.0 1.0 0 1 0 -2.0 0M112.3 39.4a1.0 1.0 0 1 0 2.0 0a1.0 1.0 0 1 0 -2.0 0M77.9 43.3a1.0 1.0 0 1 0 2.0 0a1.0 1.0 0 1 0 -2.0 0M111.1 44.0a1.0 1.0 0 1 0 2.0 0a1.0 1.0 0 1 0 -2.0 0M62.9 74.2a1.0 1.0 0 1 0 2.0 0a1.0 1.0 0 1 0 -2.0 0M113.7 52.1a1.0 1.0 0 1 0 2.0 0a1.0 1.0 0 1 0 -2.0 0M66.2 64.4a1.0 1.0 0 1 0 2.0 0a1.0 1.0 0 1 0 -2.0 0M71.4 88.5a1.0 1.0 0 1 0 2.0 0a1.0 1.0 0 1 0 -2.0 0M81.2 93.7a1.0 1.0 0 1 0 2.0 0a1.0 1.0 0 1 0 -2.0 0M85.1 91.1a1.0 1.0 0 1 0 2.0 0a1.0 1.0 0 1 0 -2.0 0"/><path fill="#a8072e" d="M107.2 5.0a1.0 1.0 0 1 0 2.0 0a1.0 1.0 0 1 0 -2.0 0M121.4 4.3a1.0 1.0 0 1 0 2.0 0a1.0 1.0 0 1 0 -2.0 0M127.9 5.0a1.0 1.0 0 1 0 2.0 0a1.0 1.0 0 1 0 -2.0 0M120.8 6.3a1.0 1.0 0 1 0 2.0 0a1.0 1.0 0 1 0 -2.0 0M105.8 14.8a1.0 1.0 0 1 0 2.0 0a1.0 1.0 0 1 0 -2.0 0M86.3 32.9a1.0 1.0 0 1 0 2.0 0a1.0 1.0 0 1 0 -2.0 0M74.0 40.1a1.0 1.0 0 1 0 2.0 0a1.0 1.0 0 1 0 -2.0 0M75.9 39.4a1.0 1.0 0 1 0 2.0 0a1.0 1.0 0 1 0 -2.0 0M99.3 39.4a1.0 1.0 0 1 0 2.0 0a1.0 1.0 0 1 0 -2.0 0M100.7 39.4a1.0 1.0 0 1 0 2.0 0a1.0 1.0 0 1 0 -2.0 0M107.8 40.8a1.0 1.0 0 1 0 2.0 0a1.0 1.0 0 1 0 -2.0 0M109.1 39.4a1.0 1.0 0 1 0 2.0 0a1.0 1.0 0 1 0 -2.0 0M89.6 41.4a1.0 1.0 0 1 0 2.0 0a1.0 1.0 0 1 0 -2.0 0M92.2 42.1a1.0 1.0 0 1 0 2.0 0a1.0 1.0 0 1 0 -2.0 0M96.1 42.1a1.0 1.0 0 1 0 2.0 0a1.0 1.0 0 1 0 -2.0 0M103.2 45.9a1.0 1.0 0 1 0 2.0 0a1.0 1.0 0 1 0 -2.0 0M124.7 42.7a1.0 1.0 0 1 0 2.0 0a1.0 1.0 0 1 0 -2.0 0M113.0 50.5a1.0 1.0 0 1 0 2.0 0a1.0 1.0 0 1 0 -2.0 0M127.3 47.9a1.0 1.0 0 1 0 2.0 0a1.0 1.0 0 1 0 -2.0 0M62.3 72.9a1.0 1.0 0 1 0 2.0 0a1.0 1.0 0 1 0 -2.0 0M60.3 93.7a1.0 1.0 0 1 0 2.0 0a1.0 1.0 0 1 0 -2.0 0M49.9 96.3a1.0 1.0 0 1 0 2.0 0a1.0 1.0 0 1 0 -2.0 0M76.6 52.1a1.0 1.0 0 1 0 2.0 0a1.0 1.0 0 1 0 -2.0 0M116.9 54.1a1.0 1.0 0 1 0 2.0 0a1.0 1.0 0 1 0 -2.0 0M103.2 61.2a1.0 1.0 0 1 0 2.0 0a1.0 1.0 0 1 0 -2.0 0M113.0 60.6a1.0 1.0 0 1 0 2.0 0a1.0 1.0 0 1 0 -2.0 0M71.4 73.6a1.0 1.0 0 1 0 2.0 0a1.0 1.0 0 1 0 -2.0 0M72.0 75.5a1.0 1.0 0 1 0 2.0 0a1.0 1.0 0 1 0 -2.0 0M77.9 74.2a1.0 1.0 0 1 0 2.0 0a1.0 1.0 0 1 0 -2.0 0M95.4 74.8a1.0 1.0 0 1 0 2.0 0a1.0 1.0 0 1 0 -2.0 0M83.8 79.4a1.0 1.0 0 1 0 2.0 0a1.0 1.0 0 1 0 -2.0 0M85.7 78.8a1.0 1.0 0 1 0 2.0 0a1.0 1.0 0 1 0 -2.0 0M80.5 78.8a1.0 1.0 0 1 0 2.0 0a1.0 1.0 0 1 0 -2.0 0M76.6 79.4a1.0 1.0 0 1 0 2.0 0a1.0 1.0 0 1 0 -2.0 0M77.2 78.8a1.0 1.0 0 1 0 2.0 0a1.0 1.0 0 1 0 -2.0 0M74.7 78.8a1.0 1.0 0 1 0 2.0 0a1.0 1.0 0 1 0 -2.0 0M72.7 78.1a1.0 1.0 0 1 0 2.0 0a1.0 1.0 0 1 0 -2.0 0M71.4 77.4a1.0 1.0 0 1 0 2.0 0a1.0 1.0 0 1 0 -2.0 0M80.5 82.0a1.0 1.0 0 1 0 2.0 0a1.0 1.0 0 1 0 -2.0 0M91.6 85.2a1.0 1.0 0 1 0 2.0 0a1.0 1.0 0 1 0 -2.0 0M74.0 91.8a1.0 1.0 0 1 0 2.0 0a1.0 1.0 0 1 0 -2.0 0M66.8 96.3a1.0 1.0 0 1 0 2.0 0a1.0 1.0 0 1 0 -2.0 0M103.2 86.6a1.0 1.0 0 1 0 2.0 0a1.0 1.0 0 1 0 -2.0 0M114.3 80.1a1.0 1.0 0 1 0 2.0 0a1.0 1.0 0 1 0 -2.0 0M124.7 76.1a1.0 1.0 0 1 0 2.0 0a1.0 1.0 0 1 0 -2.0 0M105.2 98.9a1.0 1.0 0 1 0 2.0 0a1.0 1.0 0 1 0 -2.0 0M113.0 96.9a1.0 1.0 0 1 0 2.0 0a1.0 1.0 0 1 0 -2.0 0M124.7 99.6a1.0 1.0 0 1 0 2.0 0a1.0 1.0 0 1 0 -2.0 0"/><path fill="#2412d8" d="M50.2 9.8a1.0 1.0 0 1 0 2.0 0a1.0 1.0 0 1 0 -2.0 0M63.6 12.1a1.0 1.0 0 1 0 2.0 0a1.0 1.0 0 1 0 -2.0 0M99.3 9.6a1.0 1.0 0 1 0 2.0 0a1.0 1.0 0 1 0 -2.0 0M120.2 3.1a1.0 1.0 0 1 0 2.0 0a1.0 1.0 0 1 0 -2.0 0M65.5 16.1a1.0 1.0 0 1 0 2.0 0a1.0 1.0 0 1 0 -2.0 0M98.1 25.1a1.0 1.0 0 1 0 2.0 0a1.0 1.0 0 1 0 -2.0 0M101.9 27.1a1.0 1.0 0 1 0 2.0 0a1.0 1.0 0 1 0 -2.0 0M104.6 24.5a1.0 1.0 0 1 0 2.0 0a1.0 1.0 0 1 0 -2.0 0M110.4 28.4a1.0 1.0 0 1 0 2.0 0a1.0 1.0 0 1 0 -2.0 0M111.7 29.7a1.0 1.0 0 1 0 2.0 0a1.0 1.0 0 1 0 -2.0 0M96.1 32.9a1.0 1.0 0 1 0 2.0 0a1.0 1.0 0 1 0 -2.0 0M100.0 33.6a1.0 1.0 0 1 0 2.0 0a1.0 1.0 0 1 0 -2.0 0M101.9 35.6a1.0 1.0 0 1 0 2.0 0a1.0 1.0 0 1 0 -2.0 0M117.6 30.3a1.0 1.0 0 1 0 2.0 0a1.0 1.0 0 1 0 -2.0 0M116.9 32.3a1.0 1.0 0 1 0 2.0 0a1.0 1.0 0 1 0 -2.0 0M78.6 38.8a1.0 1.0 0 1 0 2.0 0a1.0 1.0 0 1 0 -2.0 0M74.7 38.8a1.0 1.0 0 1 0 2.0 0a1.0 1.0 0 1 0 -2.0 0M83.8 38.8a1.0 1.0 0 1 0 2.0 0a1.0 1.0 0 1 0 -2.0 0M114.9 38.8a1.0 1.0 0 1 0 2.0 0a1.0 1.0 0 1 0 -2.0 0M83.8 42.1a1.0 1.0 0 1 0 2.0 0a1.0 1.0 0 1 0 -2.0 0M88.3 42.7a1.0 1.0 0 1 0 2.0 0a1.0 1.0 0 1 0 -2.0 0M98.1 42.7a1.0 1.0 0 1 0 2.0 0a1.0 1.0 0 1 0 -2.0 0M81.8 44.6a1.0 1.0 0 1 0 2.0 0a1.0 1.0 0 1 0 -2.0 0M83.1 45.9a1.0 1.0 0 1 0 2.0 0a1.0 1.0 0 1 0 -2.0 0M87.7 45.3a1.0 1.0 0 1 0 2.0 0a1.0 1.0 0 1 0 -2.0 0M92.8 44.6a1.0 1.0 0 1 0 2.0 0a1.0 1.0 0 1 0 -2.0 0M94.2 44.0a1.0 1.0 0 1 0 2.0 0a1.0 1.0 0 1 0 -2.0 0M95.4 43.3a1.0 1.0 0 1 0 2.0 0a1.0 1.0 0 1 0 -2.0 0M107.2 45.3a1.0 1.0 0 1 0 2.0 0a1.0 1.0 0 1 0 -2.0 0M118.8 43.3a1.0 1.0 0 1 0 2.0 0a1.0 1.0 0 1 0 -2.0 0M121.4 42.1a1.0 1.0 0 1 0 2.0 0a1.0 1.0 0 1 0 -2.0 0M117.6 49.8a1.0 1.0 0 1 0 2.0 0a1.0 1.0 0 1 0 -2.0 0M125.3 49.8a1.0 1.0 0 1 0 2.0 0a1.0 1.0 0 1 0 -2.0 0M90.2 48.6a1.0 1.0 0 1 0 2.0 0a1.0 1.0 0 1 0 -2.0 0M99.3 48.6a1.0 1.0 0 1 0 2.0 0a1.0 1.0 0 1 0 -2.0 0M72.0 49.2a1.0 1.0 0 1 0 2.0 0a1.0 1.0 0 1 0 -2.0 0M69.5 49.8a1.0 1.0 0 1 0 2.0 0a1.0 1.0 0 1 0 -2.0 0M62.3 76.1a1.0 1.0 0 1 0 2.0 0a1.0 1.0 0 1 0 -2.0 0M59.0 82.4a1.0 1.0 0 1 0 2.0 0a1.0 1.0 0 1 0 -2.0 0M53.2 86.6a1.0 1.0 0 1 0 2.0 0a1.0 1.0 0 1 0 -2.0 0M60.3 95.0a1.0 1.0 0 1 0 2.0 0a1.0 1.0 0 1 0 -2.0 0M52.3 97.2a1.0 1.0 0 1 0 2.0 0a1.0 1.0 0 1 0 -2.0 0M85.1 53.4a1.0 1.0 0 1 0 2.0 0a1.0 1.0 0 1 0 -2.0 0M92.8 52.8a1.0 1.0 0 1 0 2.0 0a1.0 1.0 0 1 0 -2.0 0M97.4 54.1a1.0 1.0 0 1 0 2.0 0a1.0 1.0 0 1 0 -2.0 0M101.9 56.0a1.0 1.0 0 1 0 2.0 0a1.0 1.0 0 1 0 -2.0 0M77.2 57.3a1.0 1.0 0 1 0 2.0 0a1.0 1.0 0 1 0 -2.0 0M109.8 62.5a1.0 1.0 0 1 0 2.0 0a1.0 1.0 0 1 0 -2.0 0M114.3 65.8a1.0 1.0 0 1 0 2.0 0a1.0 1.0 0 1 0 -2.0 0M116.9 61.8a1.0 1.0 0 1 0 2.0 0a1.0 1.0 0 1 0 -2.0 0M122.8 59.9a1.0 1.0 0 1 0 2.0 0a1.0 1.0 0 1 0 -2.0 0M72.7 61.8a1.0 1.0 0 1 0 2.0 0a1.0 1.0 0 1 0 -2.0 0M70.8 65.1a1.0 1.0 0 1 0 2.0 0a1.0 1.0 0 1 0 -2.0 0M72.7 65.1a1.0 1.0 0 1 0 2.0 0a1.0 1.0 0 1 0 -2.0 0M111.1 67.1a1.0 1.0 0 1 0 2.0 0a1.0 1.0 0 1 0 -2.0 0M66.8 72.2a1.0 1.0 0 1 0 2.0 0a1.0 1.0 0 1 0 -2.0 0M79.8 74.8a1.0 1.0 0 1 0 2.0 0a1.0 1.0 0 1 0 -2.0 0M90.2 77.4a1.0 1.0 0 1 0 2.0 0a1.0 1.0 0 1 0 -2.0 0M69.5 76.8a1.0 1.0 0 1 0 2.0 0a1.0 1.0 0 1 0 -2.0 0M64.9 75.5a1.0 1.0 0 1 0 2.0 0a1.0 1.0 0 1 0 -2.0 0M72.7 80.7a1.0 1.0 0 1 0 2.0 0a1.0 1.0 0 1 0 -2.0 0M72.7 82.6a1.0 1.0 0 1 0 2.0 0a1.0 1.0 0 1 0 -2.0 0M74.0 84.6a1.0 1.0 0 1 0 2.0 0a1.0 1.0 0 1 0 -2.0 0M66.8 85.2a1.0 1.0 0 1 0 2.0 0a1.0 1.0 0 1 0 -2.0 0M67.5 88.5a1.0 1.0 0 1 0 2.0 0a1.0 1.0 0 1 0 -2.0 0M104.6 74.8a1.0 1.0 0 1 0 2.0 0a1.0 1.0 0 1 0 -2.0 0M118.8 82.0a1.0 1.0 0 1 0 2.0 0a1.0 1.0 0 1 0 -2.0 0M125.3 82.6a1.0 1.0 0 1 0 2.0 0a1.0 1.0 0 1 0 -2.0 0"/></g>
</g>
<rect x="51.75" y="390.55" width="130.4" height="101.8" fill="none" stroke="#1a1a1a" stroke-width="1.45"/>
<path d="M47.15 414.04H51.75M47.15 453.20H51.75M47.15 492.35H51.75M51.75 492.35V496.95M90.10 492.35V496.95M128.46 492.35V496.95M166.81 492.35V496.95" stroke="#1a1a1a" stroke-width="1.2" fill="none"/>
<text x="51.85" y="387.05" font-size="10">(j)</text>
<text x="182.65" y="387.05" font-size="10" text-anchor="end">ΔRMSE: -0.008 (-0.5%)</text>
<text x="45.15" y="417.64" font-size="10" text-anchor="end">32°N</text>
<text x="45.15" y="456.80" font-size="10" text-anchor="end">27°N</text>
<text x="45.15" y="495.95" font-size="10" text-anchor="end">22°N</text>
<text x="51.75" y="506.75" font-size="10" text-anchor="middle">93°E</text>
<text x="90.10" y="506.75" font-size="10" text-anchor="middle">98°E</text>
<text x="128.46" y="506.75" font-size="10" text-anchor="middle">103°E</text>
<text x="166.81" y="506.75" font-size="10" text-anchor="middle">108°E</text>
<clipPath id="cp10"><rect x="195.00" y="390.55" width="130.4" height="101.8"/></clipPath>
<g clip-path="url(#cp10)">
<use href="#cont" transform="translate(195.00,390.55)"/>
<g transform="translate(195.00,390.55)"><path fill="#dcf8fd" d="M25.7 21.9a1.0 1.0 0 1 0 2.0 0a1.0 1.0 0 1 0 -2.0 0M43.5 29.4a1.0 1.0 0 1 0 2.0 0a1.0 1.0 0 1 0 -2.0 0M41.9 41.8a1.0 1.0 0 1 0 2.0 0a1.0 1.0 0 1 0 -2.0 0M71.8 13.4a1.0 1.0 0 1 0 2.0 0a1.0 1.0 0 1 0 -2.0 0M80.9 10.8a1.0 1.0 0 1 0 2.0 0a1.0 1.0 0 1 0 -2.0 0M92.6 13.4a1.0 1.0 0 1 0 2.0 0a1.0 1.0 0 1 0 -2.0 0M118.6 35.6a1.0 1.0 0 1 0 2.0 0a1.0 1.0 0 1 0 -2.0 0M123.8 29.1a1.0 1.0 0 1 0 2.0 0a1.0 1.0 0 1 0 -2.0 0M106.9 49.8a1.0 1.0 0 1 0 2.0 0a1.0 1.0 0 1 0 -2.0 0M103.0 77.4a1.0 1.0 0 1 0 2.0 0a1.0 1.0 0 1 0 -2.0 0M113.4 83.9a1.0 1.0 0 1 0 2.0 0a1.0 1.0 0 1 0 -2.0 0M109.5 95.6a1.0 1.0 0 1 0 2.0 0a1.0 1.0 0 1 0 -2.0 0M118.6 99.6a1.0 1.0 0 1 0 2.0 0a1.0 1.0 0 1 0 -2.0 0M97.8 96.9a1.0 1.0 0 1 0 2.0 0a1.0 1.0 0 1 0 -2.0 0M83.2 3.0a1.0 1.0 0 1 0 2.0 0a1.0 1.0 0 1 0 -2.0 0M105.4 10.1a1.0 1.0 0 1 0 2.0 0a1.0 1.0 0 1 0 -2.0 0M75.6 14.9a1.0 1.0 0 1 0 2.0 0a1.0 1.0 0 1 0 -2.0 0M14.5 20.1a1.0 1.0 0 1 0 2.0 0a1.0 1.0 0 1 0 -2.0 0M57.0 19.2a1.0 1.0 0 1 0 2.0 0a1.0 1.0 0 1 0 -2.0 0M64.0 18.4a1.0 1.0 0 1 0 2.0 0a1.0 1.0 0 1 0 -2.0 0M84.2 20.0a1.0 1.0 0 1 0 2.0 0a1.0 1.0 0 1 0 -2.0 0M33.4 26.0a1.0 1.0 0 1 0 2.0 0a1.0 1.0 0 1 0 -2.0 0M63.5 23.3a1.0 1.0 0 1 0 2.0 0a1.0 1.0 0 1 0 -2.0 0M79.1 25.0a1.0 1.0 0 1 0 2.0 0a1.0 1.0 0 1 0 -2.0 0M83.7 24.6a1.0 1.0 0 1 0 2.0 0a1.0 1.0 0 1 0 -2.0 0M110.4 23.0a1.0 1.0 0 1 0 2.0 0a1.0 1.0 0 1 0 -2.0 0M77.3 29.6a1.0 1.0 0 1 0 2.0 0a1.0 1.0 0 1 0 -2.0 0M91.5 30.1a1.0 1.0 0 1 0 2.0 0a1.0 1.0 0 1 0 -2.0 0M92.3 34.9a1.0 1.0 0 1 0 2.0 0a1.0 1.0 0 1 0 -2.0 0M92.8 57.5a1.0 1.0 0 1 0 2.0 0a1.0 1.0 0 1 0 -2.0 0M47.0 59.7a1.0 1.0 0 1 0 2.0 0a1.0 1.0 0 1 0 -2.0 0M42.7 65.3a1.0 1.0 0 1 0 2.0 0a1.0 1.0 0 1 0 -2.0 0M118.6 65.4a1.0 1.0 0 1 0 2.0 0a1.0 1.0 0 1 0 -2.0 0M73.1 69.9a1.0 1.0 0 1 0 2.0 0a1.0 1.0 0 1 0 -2.0 0M92.3 71.9a1.0 1.0 0 1 0 2.0 0a1.0 1.0 0 1 0 -2.0 0M107.2 70.4a1.0 1.0 0 1 0 2.0 0a1.0 1.0 0 1 0 -2.0 0M46.4 74.8a1.0 1.0 0 1 0 2.0 0a1.0 1.0 0 1 0 -2.0 0M56.1 80.6a1.0 1.0 0 1 0 2.0 0a1.0 1.0 0 1 0 -2.0 0M88.8 80.8a1.0 1.0 0 1 0 2.0 0a1.0 1.0 0 1 0 -2.0 0M109.9 79.3a1.0 1.0 0 1 0 2.0 0a1.0 1.0 0 1 0 -2.0 0M45.6 85.8a1.0 1.0 0 1 0 2.0 0a1.0 1.0 0 1 0 -2.0 0M63.6 99.5a1.0 1.0 0 1 0 2.0 0a1.0 1.0 0 1 0 -2.0 0M80.3 96.7a1.0 1.0 0 1 0 2.0 0a1.0 1.0 0 1 0 -2.0 0M103.0 96.7a1.0 1.0 0 1 0 2.0 0a1.0 1.0 0 1 0 -2.0 0M116.0 99.6a1.0 1.0 0 1 0 2.0 0a1.0 1.0 0 1 0 -2.0 0"/><path fill="#fdf8d8" d="M16.6 16.7a1.0 1.0 0 1 0 2.0 0a1.0 1.0 0 1 0 -2.0 0M29.2 15.8a1.0 1.0 0 1 0 2.0 0a1.0 1.0 0 1 0 -2.0 0M4.8 24.2a1.0 1.0 0 1 0 2.0 0a1.0 1.0 0 1 0 -2.0 0M52.3 26.4a1.0 1.0 0 1 0 2.0 0a1.0 1.0 0 1 0 -2.0 0M54.9 31.6a1.0 1.0 0 1 0 2.0 0a1.0 1.0 0 1 0 -2.0 0M28.2 38.8a1.0 1.0 0 1 0 2.0 0a1.0 1.0 0 1 0 -2.0 0M82.9 6.6a1.0 1.0 0 1 0 2.0 0a1.0 1.0 0 1 0 -2.0 0M88.7 5.6a1.0 1.0 0 1 0 2.0 0a1.0 1.0 0 1 0 -2.0 0M96.8 6.7a1.0 1.0 0 1 0 2.0 0a1.0 1.0 0 1 0 -2.0 0M1.6 16.8a1.0 1.0 0 1 0 2.0 0a1.0 1.0 0 1 0 -2.0 0M22.9 15.4a1.0 1.0 0 1 0 2.0 0a1.0 1.0 0 1 0 -2.0 0M78.8 16.8a1.0 1.0 0 1 0 2.0 0a1.0 1.0 0 1 0 -2.0 0M86.9 20.2a1.0 1.0 0 1 0 2.0 0a1.0 1.0 0 1 0 -2.0 0M102.8 20.2a1.0 1.0 0 1 0 2.0 0a1.0 1.0 0 1 0 -2.0 0M51.5 23.5a1.0 1.0 0 1 0 2.0 0a1.0 1.0 0 1 0 -2.0 0M61.1 29.9a1.0 1.0 0 1 0 2.0 0a1.0 1.0 0 1 0 -2.0 0M47.8 33.1a1.0 1.0 0 1 0 2.0 0a1.0 1.0 0 1 0 -2.0 0M13.7 38.7a1.0 1.0 0 1 0 2.0 0a1.0 1.0 0 1 0 -2.0 0M105.3 43.2a1.0 1.0 0 1 0 2.0 0a1.0 1.0 0 1 0 -2.0 0M46.9 47.0a1.0 1.0 0 1 0 2.0 0a1.0 1.0 0 1 0 -2.0 0M51.6 52.0a1.0 1.0 0 1 0 2.0 0a1.0 1.0 0 1 0 -2.0 0M96.2 58.3a1.0 1.0 0 1 0 2.0 0a1.0 1.0 0 1 0 -2.0 0M80.2 61.0a1.0 1.0 0 1 0 2.0 0a1.0 1.0 0 1 0 -2.0 0M60.4 71.4a1.0 1.0 0 1 0 2.0 0a1.0 1.0 0 1 0 -2.0 0M97.5 71.1a1.0 1.0 0 1 0 2.0 0a1.0 1.0 0 1 0 -2.0 0M42.7 75.4a1.0 1.0 0 1 0 2.0 0a1.0 1.0 0 1 0 -2.0 0M121.6 83.2a1.0 1.0 0 1 0 2.0 0a1.0 1.0 0 1 0 -2.0 0M92.3 89.6a1.0 1.0 0 1 0 2.0 0a1.0 1.0 0 1 0 -2.0 0M66.5 93.2a1.0 1.0 0 1 0 2.0 0a1.0 1.0 0 1 0 -2.0 0M114.6 92.6a1.0 1.0 0 1 0 2.0 0a1.0 1.0 0 1 0 -2.0 0M93.5 97.3a1.0 1.0 0 1 0 2.0 0a1.0 1.0 0 1 0 -2.0 0"/><path fill="#fdd28f" d="M115.2 21.1a1.0 1.0 0 1 0 2.0 0a1.0 1.0 0 1 0 -2.0 0M20.3 25.8a1.0 1.0 0 1 0 2.0 0a1.0 1.0 0 1 0 -2.0 0M115.9 34.5a1.0 1.0 0 1 0 2.0 0a1.0 1.0 0 1 0 -2.0 0M40.7 61.3a1.0 1.0 0 1 0 2.0 0a1.0 1.0 0 1 0 -2.0 0"/><path fill="#80d3f7" d="M19.2 9.3a1.0 1.0 0 1 0 2.0 0a1.0 1.0 0 1 0 -2.0 0M58.2 16.3a1.0 1.0 0 1 0 2.0 0a1.0 1.0 0 1 0 -2.0 0M3.9 27.5a1.0 1.0 0 1 0 2.0 0a1.0 1.0 0 1 0 -2.0 0M26.6 29.4a1.0 1.0 0 1 0 2.0 0a1.0 1.0 0 1 0 -2.0 0M0.6 34.0a1.0 1.0 0 1 0 2.0 0a1.0 1.0 0 1 0 -2.0 0M36.1 41.8a1.0 1.0 0 1 0 2.0 0a1.0 1.0 0 1 0 -2.0 0M9.4 41.8a1.0 1.0 0 1 0 2.0 0a1.0 1.0 0 1 0 -2.0 0M33.1 49.2a1.0 1.0 0 1 0 2.0 0a1.0 1.0 0 1 0 -2.0 0M51.0 47.2a1.0 1.0 0 1 0 2.0 0a1.0 1.0 0 1 0 -2.0 0M54.9 46.2a1.0 1.0 0 1 0 2.0 0a1.0 1.0 0 1 0 -2.0 0M71.8 3.1a1.0 1.0 0 1 0 2.0 0a1.0 1.0 0 1 0 -2.0 0M86.8 1.1a1.0 1.0 0 1 0 2.0 0a1.0 1.0 0 1 0 -2.0 0M93.2 1.8a1.0 1.0 0 1 0 2.0 0a1.0 1.0 0 1 0 -2.0 0M104.3 1.1a1.0 1.0 0 1 0 2.0 0a1.0 1.0 0 1 0 -2.0 0M112.8 5.0a1.0 1.0 0 1 0 2.0 0a1.0 1.0 0 1 0 -2.0 0M116.0 3.7a1.0 1.0 0 1 0 2.0 0a1.0 1.0 0 1 0 -2.0 0M117.9 5.6a1.0 1.0 0 1 0 2.0 0a1.0 1.0 0 1 0 -2.0 0M125.1 3.7a1.0 1.0 0 1 0 2.0 0a1.0 1.0 0 1 0 -2.0 0M85.4 7.6a1.0 1.0 0 1 0 2.0 0a1.0 1.0 0 1 0 -2.0 0M91.9 6.3a1.0 1.0 0 1 0 2.0 0a1.0 1.0 0 1 0 -2.0 0M102.4 8.2a1.0 1.0 0 1 0 2.0 0a1.0 1.0 0 1 0 -2.0 0M95.2 12.8a1.0 1.0 0 1 0 2.0 0a1.0 1.0 0 1 0 -2.0 0M108.9 14.1a1.0 1.0 0 1 0 2.0 0a1.0 1.0 0 1 0 -2.0 0M116.0 15.4a1.0 1.0 0 1 0 2.0 0a1.0 1.0 0 1 0 -2.0 0M121.2 10.2a1.0 1.0 0 1 0 2.0 0a1.0 1.0 0 1 0 -2.0 0M123.8 16.7a1.0 1.0 0 1 0 2.0 0a1.0 1.0 0 1 0 -2.0 0M71.8 17.3a1.0 1.0 0 1 0 2.0 0a1.0 1.0 0 1 0 -2.0 0M70.5 31.6a1.0 1.0 0 1 0 2.0 0a1.0 1.0 0 1 0 -2.0 0M113.4 23.2a1.0 1.0 0 1 0 2.0 0a1.0 1.0 0 1 0 -2.0 0M121.2 24.5a1.0 1.0 0 1 0 2.0 0a1.0 1.0 0 1 0 -2.0 0M86.8 26.4a1.0 1.0 0 1 0 2.0 0a1.0 1.0 0 1 0 -2.0 0M88.7 27.8a1.0 1.0 0 1 0 2.0 0a1.0 1.0 0 1 0 -2.0 0M97.8 25.1a1.0 1.0 0 1 0 2.0 0a1.0 1.0 0 1 0 -2.0 0M111.4 29.7a1.0 1.0 0 1 0 2.0 0a1.0 1.0 0 1 0 -2.0 0M97.1 31.6a1.0 1.0 0 1 0 2.0 0a1.0 1.0 0 1 0 -2.0 0M118.6 31.6a1.0 1.0 0 1 0 2.0 0a1.0 1.0 0 1 0 -2.0 0M121.2 32.3a1.0 1.0 0 1 0 2.0 0a1.0 1.0 0 1 0 -2.0 0M80.2 36.8a1.0 1.0 0 1 0 2.0 0a1.0 1.0 0 1 0 -2.0 0M90.0 37.5a1.0 1.0 0 1 0 2.0 0a1.0 1.0 0 1 0 -2.0 0M95.2 35.6a1.0 1.0 0 1 0 2.0 0a1.0 1.0 0 1 0 -2.0 0M103.0 36.8a1.0 1.0 0 1 0 2.0 0a1.0 1.0 0 1 0 -2.0 0M99.8 42.1a1.0 1.0 0 1 0 2.0 0a1.0 1.0 0 1 0 -2.0 0M101.7 42.7a1.0 1.0 0 1 0 2.0 0a1.0 1.0 0 1 0 -2.0 0M114.7 44.6a1.0 1.0 0 1 0 2.0 0a1.0 1.0 0 1 0 -2.0 0M124.4 42.7a1.0 1.0 0 1 0 2.0 0a1.0 1.0 0 1 0 -2.0 0M121.2 47.9a1.0 1.0 0 1 0 2.0 0a1.0 1.0 0 1 0 -2.0 0M125.1 49.8a1.0 1.0 0 1 0 2.0 0a1.0 1.0 0 1 0 -2.0 0M127.1 47.9a1.0 1.0 0 1 0 2.0 0a1.0 1.0 0 1 0 -2.0 0M96.5 47.9a1.0 1.0 0 1 0 2.0 0a1.0 1.0 0 1 0 -2.0 0M86.8 49.2a1.0 1.0 0 1 0 2.0 0a1.0 1.0 0 1 0 -2.0 0M77.6 48.6a1.0 1.0 0 1 0 2.0 0a1.0 1.0 0 1 0 -2.0 0M71.8 49.2a1.0 1.0 0 1 0 2.0 0a1.0 1.0 0 1 0 -2.0 0M50.3 54.3a1.0 1.0 0 1 0 2.0 0a1.0 1.0 0 1 0 -2.0 0M62.1 55.3a1.0 1.0 0 1 0 2.0 0a1.0 1.0 0 1 0 -2.0 0M63.4 59.2a1.0 1.0 0 1 0 2.0 0a1.0 1.0 0 1 0 -2.0 0M52.3 65.8a1.0 1.0 0 1 0 2.0 0a1.0 1.0 0 1 0 -2.0 0M47.8 70.9a1.0 1.0 0 1 0 2.0 0a1.0 1.0 0 1 0 -2.0 0M56.8 75.1a1.0 1.0 0 1 0 2.0 0a1.0 1.0 0 1 0 -2.0 0M39.3 79.4a1.0 1.0 0 1 0 2.0 0a1.0 1.0 0 1 0 -2.0 0M45.8 77.4a1.0 1.0 0 1 0 2.0 0a1.0 1.0 0 1 0 -2.0 0M46.4 80.1a1.0 1.0 0 1 0 2.0 0a1.0 1.0 0 1 0 -2.0 0M36.1 85.9a1.0 1.0 0 1 0 2.0 0a1.0 1.0 0 1 0 -2.0 0M58.2 89.8a1.0 1.0 0 1 0 2.0 0a1.0 1.0 0 1 0 -2.0 0M47.1 92.4a1.0 1.0 0 1 0 2.0 0a1.0 1.0 0 1 0 -2.0 0M49.7 99.6a1.0 1.0 0 1 0 2.0 0a1.0 1.0 0 1 0 -2.0 0M69.9 52.8a1.0 1.0 0 1 0 2.0 0a1.0 1.0 0 1 0 -2.0 0M86.8 53.0a1.0 1.0 0 1 0 2.0 0a1.0 1.0 0 1 0 -2.0 0M93.2 52.8a1.0 1.0 0 1 0 2.0 0a1.0 1.0 0 1 0 -2.0 0M126.4 54.7a1.0 1.0 0 1 0 2.0 0a1.0 1.0 0 1 0 -2.0 0M66.6 56.6a1.0 1.0 0 1 0 2.0 0a1.0 1.0 0 1 0 -2.0 0M73.8 57.3a1.0 1.0 0 1 0 2.0 0a1.0 1.0 0 1 0 -2.0 0M77.0 57.3a1.0 1.0 0 1 0 2.0 0a1.0 1.0 0 1 0 -2.0 0M74.4 63.1a1.0 1.0 0 1 0 2.0 0a1.0 1.0 0 1 0 -2.0 0M83.5 57.3a1.0 1.0 0 1 0 2.0 0a1.0 1.0 0 1 0 -2.0 0M95.2 61.2a1.0 1.0 0 1 0 2.0 0a1.0 1.0 0 1 0 -2.0 0M103.0 61.2a1.0 1.0 0 1 0 2.0 0a1.0 1.0 0 1 0 -2.0 0M122.5 59.2a1.0 1.0 0 1 0 2.0 0a1.0 1.0 0 1 0 -2.0 0M127.7 56.6a1.0 1.0 0 1 0 2.0 0a1.0 1.0 0 1 0 -2.0 0M77.0 67.1a1.0 1.0 0 1 0 2.0 0a1.0 1.0 0 1 0 -2.0 0M88.1 65.8a1.0 1.0 0 1 0 2.0 0a1.0 1.0 0 1 0 -2.0 0M91.9 65.1a1.0 1.0 0 1 0 2.0 0a1.0 1.0 0 1 0 -2.0 0M95.2 64.4a1.0 1.0 0 1 0 2.0 0a1.0 1.0 0 1 0 -2.0 0M100.4 65.8a1.0 1.0 0 1 0 2.0 0a1.0 1.0 0 1 0 -2.0 0M103.0 66.4a1.0 1.0 0 1 0 2.0 0a1.0 1.0 0 1 0 -2.0 0M113.4 68.3a1.0 1.0 0 1 0 2.0 0a1.0 1.0 0 1 0 -2.0 0M117.3 70.9a1.0 1.0 0 1 0 2.0 0a1.0 1.0 0 1 0 -2.0 0M125.1 65.8a1.0 1.0 0 1 0 2.0 0a1.0 1.0 0 1 0 -2.0 0M77.6 74.2a1.0 1.0 0 1 0 2.0 0a1.0 1.0 0 1 0 -2.0 0M81.6 73.6a1.0 1.0 0 1 0 2.0 0a1.0 1.0 0 1 0 -2.0 0M95.2 74.8a1.0 1.0 0 1 0 2.0 0a1.0 1.0 0 1 0 -2.0 0M90.0 77.4a1.0 1.0 0 1 0 2.0 0a1.0 1.0 0 1 0 -2.0 0M93.9 79.4a1.0 1.0 0 1 0 2.0 0a1.0 1.0 0 1 0 -2.0 0M69.2 80.7a1.0 1.0 0 1 0 2.0 0a1.0 1.0 0 1 0 -2.0 0M75.1 80.7a1.0 1.0 0 1 0 2.0 0a1.0 1.0 0 1 0 -2.0 0M84.1 85.2a1.0 1.0 0 1 0 2.0 0a1.0 1.0 0 1 0 -2.0 0M66.6 85.2a1.0 1.0 0 1 0 2.0 0a1.0 1.0 0 1 0 -2.0 0M73.1 89.1a1.0 1.0 0 1 0 2.0 0a1.0 1.0 0 1 0 -2.0 0M77.0 89.8a1.0 1.0 0 1 0 2.0 0a1.0 1.0 0 1 0 -2.0 0M77.6 90.4a1.0 1.0 0 1 0 2.0 0a1.0 1.0 0 1 0 -2.0 0M70.5 93.7a1.0 1.0 0 1 0 2.0 0a1.0 1.0 0 1 0 -2.0 0M88.1 90.4a1.0 1.0 0 1 0 2.0 0a1.0 1.0 0 1 0 -2.0 0M99.1 76.1a1.0 1.0 0 1 0 2.0 0a1.0 1.0 0 1 0 -2.0 0M103.0 86.6a1.0 1.0 0 1 0 2.0 0a1.0 1.0 0 1 0 -2.0 0M106.9 88.5a1.0 1.0 0 1 0 2.0 0a1.0 1.0 0 1 0 -2.0 0M124.4 76.1a1.0 1.0 0 1 0 2.0 0a1.0 1.0 0 1 0 -2.0 0M118.6 89.1a1.0 1.0 0 1 0 2.0 0a1.0 1.0 0 1 0 -2.0 0M117.3 91.8a1.0 1.0 0 1 0 2.0 0a1.0 1.0 0 1 0 -2.0 0M119.9 93.1a1.0 1.0 0 1 0 2.0 0a1.0 1.0 0 1 0 -2.0 0M125.1 91.8a1.0 1.0 0 1 0 2.0 0a1.0 1.0 0 1 0 -2.0 0M103.0 93.1a1.0 1.0 0 1 0 2.0 0a1.0 1.0 0 1 0 -2.0 0M124.4 99.6a1.0 1.0 0 1 0 2.0 0a1.0 1.0 0 1 0 -2.0 0M121.2 100.8a1.0 1.0 0 1 0 2.0 0a1.0 1.0 0 1 0 -2.0 0M96.5 90.4a1.0 1.0 0 1 0 2.0 0a1.0 1.0 0 1 0 -2.0 0M100.4 83.9a1.0 1.0 0 1 0 2.0 0a1.0 1.0 0 1 0 -2.0 0M119.9 72.2a1.0 1.0 0 1 0 2.0 0a1.0 1.0 0 1 0 -2.0 0"/><path fill="#fdbb84" d="M30.5 9.6a1.0 1.0 0 1 0 2.0 0a1.0 1.0 0 1 0 -2.0 0M54.9 21.2a1.0 1.0 0 1 0 2.0 0a1.0 1.0 0 1 0 -2.0 0M59.4 21.2a1.0 1.0 0 1 0 2.0 0a1.0 1.0 0 1 0 -2.0 0M30.8 30.3a1.0 1.0 0 1 0 2.0 0a1.0 1.0 0 1 0 -2.0 0M20.1 33.3a1.0 1.0 0 1 0 2.0 0a1.0 1.0 0 1 0 -2.0 0M45.8 39.1a1.0 1.0 0 1 0 2.0 0a1.0 1.0 0 1 0 -2.0 0M97.1 3.1a1.0 1.0 0 1 0 2.0 0a1.0 1.0 0 1 0 -2.0 0M108.9 3.7a1.0 1.0 0 1 0 2.0 0a1.0 1.0 0 1 0 -2.0 0M123.1 5.0a1.0 1.0 0 1 0 2.0 0a1.0 1.0 0 1 0 -2.0 0M77.0 6.9a1.0 1.0 0 1 0 2.0 0a1.0 1.0 0 1 0 -2.0 0M100.4 16.7a1.0 1.0 0 1 0 2.0 0a1.0 1.0 0 1 0 -2.0 0M69.2 24.5a1.0 1.0 0 1 0 2.0 0a1.0 1.0 0 1 0 -2.0 0M91.9 25.8a1.0 1.0 0 1 0 2.0 0a1.0 1.0 0 1 0 -2.0 0M106.9 26.4a1.0 1.0 0 1 0 2.0 0a1.0 1.0 0 1 0 -2.0 0M99.1 28.4a1.0 1.0 0 1 0 2.0 0a1.0 1.0 0 1 0 -2.0 0M51.0 56.0a1.0 1.0 0 1 0 2.0 0a1.0 1.0 0 1 0 -2.0 0M54.2 63.8a1.0 1.0 0 1 0 2.0 0a1.0 1.0 0 1 0 -2.0 0M56.2 71.6a1.0 1.0 0 1 0 2.0 0a1.0 1.0 0 1 0 -2.0 0M36.7 80.1a1.0 1.0 0 1 0 2.0 0a1.0 1.0 0 1 0 -2.0 0M41.2 78.1a1.0 1.0 0 1 0 2.0 0a1.0 1.0 0 1 0 -2.0 0M41.9 82.6a1.0 1.0 0 1 0 2.0 0a1.0 1.0 0 1 0 -2.0 0M43.8 87.8a1.0 1.0 0 1 0 2.0 0a1.0 1.0 0 1 0 -2.0 0M114.1 62.5a1.0 1.0 0 1 0 2.0 0a1.0 1.0 0 1 0 -2.0 0M117.3 61.2a1.0 1.0 0 1 0 2.0 0a1.0 1.0 0 1 0 -2.0 0M126.4 59.2a1.0 1.0 0 1 0 2.0 0a1.0 1.0 0 1 0 -2.0 0M77.0 69.6a1.0 1.0 0 1 0 2.0 0a1.0 1.0 0 1 0 -2.0 0M84.8 63.8a1.0 1.0 0 1 0 2.0 0a1.0 1.0 0 1 0 -2.0 0M98.4 67.7a1.0 1.0 0 1 0 2.0 0a1.0 1.0 0 1 0 -2.0 0M103.6 67.7a1.0 1.0 0 1 0 2.0 0a1.0 1.0 0 1 0 -2.0 0M110.8 63.8a1.0 1.0 0 1 0 2.0 0a1.0 1.0 0 1 0 -2.0 0M121.2 68.3a1.0 1.0 0 1 0 2.0 0a1.0 1.0 0 1 0 -2.0 0M127.7 68.3a1.0 1.0 0 1 0 2.0 0a1.0 1.0 0 1 0 -2.0 0M91.9 74.8a1.0 1.0 0 1 0 2.0 0a1.0 1.0 0 1 0 -2.0 0M80.9 93.7a1.0 1.0 0 1 0 2.0 0a1.0 1.0 0 1 0 -2.0 0M84.8 91.1a1.0 1.0 0 1 0 2.0 0a1.0 1.0 0 1 0 -2.0 0M87.4 93.1a1.0 1.0 0 1 0 2.0 0a1.0 1.0 0 1 0 -2.0 0M106.9 78.1a1.0 1.0 0 1 0 2.0 0a1.0 1.0 0 1 0 -2.0 0M110.1 82.0a1.0 1.0 0 1 0 2.0 0a1.0 1.0 0 1 0 -2.0 0M116.0 79.4a1.0 1.0 0 1 0 2.0 0a1.0 1.0 0 1 0 -2.0 0M104.9 98.9a1.0 1.0 0 1 0 2.0 0a1.0 1.0 0 1 0 -2.0 0M121.2 96.9a1.0 1.0 0 1 0 2.0 0a1.0 1.0 0 1 0 -2.0 0M103.0 82.6a1.0 1.0 0 1 0 2.0 0a1.0 1.0 0 1 0 -2.0 0M105.6 85.2a1.0 1.0 0 1 0 2.0 0a1.0 1.0 0 1 0 -2.0 0M123.8 71.6a1.0 1.0 0 1 0 2.0 0a1.0 1.0 0 1 0 -2.0 0"/><path fill="#3c8af4" d="M41.6 24.9a1.0 1.0 0 1 0 2.0 0a1.0 1.0 0 1 0 -2.0 0M63.4 12.1a1.0 1.0 0 1 0 2.0 0a1.0 1.0 0 1 0 -2.0 0M58.8 60.6a1.0 1.0 0 1 0 2.0 0a1.0 1.0 0 1 0 -2.0 0M62.7 64.4a1.0 1.0 0 1 0 2.0 0a1.0 1.0 0 1 0 -2.0 0M47.8 66.8a1.0 1.0 0 1 0 2.0 0a1.0 1.0 0 1 0 -2.0 0M54.2 72.2a1.0 1.0 0 1 0 2.0 0a1.0 1.0 0 1 0 -2.0 0M58.8 82.4a1.0 1.0 0 1 0 2.0 0a1.0 1.0 0 1 0 -2.0 0"/><path fill="#ee2531" d="M20.4 6.7a1.0 1.0 0 1 0 2.0 0a1.0 1.0 0 1 0 -2.0 0M78.9 3.1a1.0 1.0 0 1 0 2.0 0a1.0 1.0 0 1 0 -2.0 0M121.2 4.3a1.0 1.0 0 1 0 2.0 0a1.0 1.0 0 1 0 -2.0 0M91.9 18.6a1.0 1.0 0 1 0 2.0 0a1.0 1.0 0 1 0 -2.0 0M95.2 21.2a1.0 1.0 0 1 0 2.0 0a1.0 1.0 0 1 0 -2.0 0M100.4 21.9a1.0 1.0 0 1 0 2.0 0a1.0 1.0 0 1 0 -2.0 0M93.9 29.1a1.0 1.0 0 1 0 2.0 0a1.0 1.0 0 1 0 -2.0 0M84.1 29.1a1.0 1.0 0 1 0 2.0 0a1.0 1.0 0 1 0 -2.0 0M84.8 31.6a1.0 1.0 0 1 0 2.0 0a1.0 1.0 0 1 0 -2.0 0M82.9 33.6a1.0 1.0 0 1 0 2.0 0a1.0 1.0 0 1 0 -2.0 0M108.2 32.9a1.0 1.0 0 1 0 2.0 0a1.0 1.0 0 1 0 -2.0 0M80.9 34.9a1.0 1.0 0 1 0 2.0 0a1.0 1.0 0 1 0 -2.0 0M103.0 40.8a1.0 1.0 0 1 0 2.0 0a1.0 1.0 0 1 0 -2.0 0M108.9 39.4a1.0 1.0 0 1 0 2.0 0a1.0 1.0 0 1 0 -2.0 0M77.6 43.3a1.0 1.0 0 1 0 2.0 0a1.0 1.0 0 1 0 -2.0 0M110.8 44.0a1.0 1.0 0 1 0 2.0 0a1.0 1.0 0 1 0 -2.0 0M58.2 65.1a1.0 1.0 0 1 0 2.0 0a1.0 1.0 0 1 0 -2.0 0M51.7 69.6a1.0 1.0 0 1 0 2.0 0a1.0 1.0 0 1 0 -2.0 0M51.7 72.2a1.0 1.0 0 1 0 2.0 0a1.0 1.0 0 1 0 -2.0 0M60.1 93.7a1.0 1.0 0 1 0 2.0 0a1.0 1.0 0 1 0 -2.0 0M112.1 54.7a1.0 1.0 0 1 0 2.0 0a1.0 1.0 0 1 0 -2.0 0M90.0 59.2a1.0 1.0 0 1 0 2.0 0a1.0 1.0 0 1 0 -2.0 0"/><path fill="#a8072e" d="M51.7 8.2a1.0 1.0 0 1 0 2.0 0a1.0 1.0 0 1 0 -2.0 0M18.8 28.1a1.0 1.0 0 1 0 2.0 0a1.0 1.0 0 1 0 -2.0 0M106.9 5.0a1.0 1.0 0 1 0 2.0 0a1.0 1.0 0 1 0 -2.0 0M120.6 6.9a1.0 1.0 0 1 0 2.0 0a1.0 1.0 0 1 0 -2.0 0M105.6 14.8a1.0 1.0 0 1 0 2.0 0a1.0 1.0 0 1 0 -2.0 0M67.9 27.8a1.0 1.0 0 1 0 2.0 0a1.0 1.0 0 1 0 -2.0 0M107.6 23.8a1.0 1.0 0 1 0 2.0 0a1.0 1.0 0 1 0 -2.0 0M118.6 23.8a1.0 1.0 0 1 0 2.0 0a1.0 1.0 0 1 0 -2.0 0M112.8 32.9a1.0 1.0 0 1 0 2.0 0a1.0 1.0 0 1 0 -2.0 0M125.1 36.8a1.0 1.0 0 1 0 2.0 0a1.0 1.0 0 1 0 -2.0 0M73.8 40.1a1.0 1.0 0 1 0 2.0 0a1.0 1.0 0 1 0 -2.0 0M75.7 39.4a1.0 1.0 0 1 0 2.0 0a1.0 1.0 0 1 0 -2.0 0M93.2 38.1a1.0 1.0 0 1 0 2.0 0a1.0 1.0 0 1 0 -2.0 0M99.1 39.4a1.0 1.0 0 1 0 2.0 0a1.0 1.0 0 1 0 -2.0 0M100.4 39.4a1.0 1.0 0 1 0 2.0 0a1.0 1.0 0 1 0 -2.0 0M107.6 40.8a1.0 1.0 0 1 0 2.0 0a1.0 1.0 0 1 0 -2.0 0M112.1 39.4a1.0 1.0 0 1 0 2.0 0a1.0 1.0 0 1 0 -2.0 0M89.4 41.4a1.0 1.0 0 1 0 2.0 0a1.0 1.0 0 1 0 -2.0 0M95.9 42.1a1.0 1.0 0 1 0 2.0 0a1.0 1.0 0 1 0 -2.0 0M125.1 40.8a1.0 1.0 0 1 0 2.0 0a1.0 1.0 0 1 0 -2.0 0M112.8 50.5a1.0 1.0 0 1 0 2.0 0a1.0 1.0 0 1 0 -2.0 0M73.8 47.2a1.0 1.0 0 1 0 2.0 0a1.0 1.0 0 1 0 -2.0 0M62.1 74.2a1.0 1.0 0 1 0 2.0 0a1.0 1.0 0 1 0 -2.0 0M60.8 86.3a1.0 1.0 0 1 0 2.0 0a1.0 1.0 0 1 0 -2.0 0M49.7 96.3a1.0 1.0 0 1 0 2.0 0a1.0 1.0 0 1 0 -2.0 0M76.4 52.1a1.0 1.0 0 1 0 2.0 0a1.0 1.0 0 1 0 -2.0 0M109.5 56.0a1.0 1.0 0 1 0 2.0 0a1.0 1.0 0 1 0 -2.0 0M116.6 54.1a1.0 1.0 0 1 0 2.0 0a1.0 1.0 0 1 0 -2.0 0M121.2 52.1a1.0 1.0 0 1 0 2.0 0a1.0 1.0 0 1 0 -2.0 0M99.1 58.6a1.0 1.0 0 1 0 2.0 0a1.0 1.0 0 1 0 -2.0 0M112.8 60.6a1.0 1.0 0 1 0 2.0 0a1.0 1.0 0 1 0 -2.0 0M65.9 64.4a1.0 1.0 0 1 0 2.0 0a1.0 1.0 0 1 0 -2.0 0M69.9 65.8a1.0 1.0 0 1 0 2.0 0a1.0 1.0 0 1 0 -2.0 0M66.6 72.2a1.0 1.0 0 1 0 2.0 0a1.0 1.0 0 1 0 -2.0 0M71.1 73.6a1.0 1.0 0 1 0 2.0 0a1.0 1.0 0 1 0 -2.0 0M76.4 75.5a1.0 1.0 0 1 0 2.0 0a1.0 1.0 0 1 0 -2.0 0M84.8 71.6a1.0 1.0 0 1 0 2.0 0a1.0 1.0 0 1 0 -2.0 0M83.5 79.4a1.0 1.0 0 1 0 2.0 0a1.0 1.0 0 1 0 -2.0 0M85.4 78.8a1.0 1.0 0 1 0 2.0 0a1.0 1.0 0 1 0 -2.0 0M80.2 78.8a1.0 1.0 0 1 0 2.0 0a1.0 1.0 0 1 0 -2.0 0M76.4 79.4a1.0 1.0 0 1 0 2.0 0a1.0 1.0 0 1 0 -2.0 0M77.0 78.8a1.0 1.0 0 1 0 2.0 0a1.0 1.0 0 1 0 -2.0 0M74.4 78.8a1.0 1.0 0 1 0 2.0 0a1.0 1.0 0 1 0 -2.0 0M72.4 78.1a1.0 1.0 0 1 0 2.0 0a1.0 1.0 0 1 0 -2.0 0M64.6 75.5a1.0 1.0 0 1 0 2.0 0a1.0 1.0 0 1 0 -2.0 0M80.2 82.0a1.0 1.0 0 1 0 2.0 0a1.0 1.0 0 1 0 -2.0 0M71.1 83.9a1.0 1.0 0 1 0 2.0 0a1.0 1.0 0 1 0 -2.0 0M91.3 85.2a1.0 1.0 0 1 0 2.0 0a1.0 1.0 0 1 0 -2.0 0M71.1 88.5a1.0 1.0 0 1 0 2.0 0a1.0 1.0 0 1 0 -2.0 0M73.8 91.8a1.0 1.0 0 1 0 2.0 0a1.0 1.0 0 1 0 -2.0 0M66.6 96.3a1.0 1.0 0 1 0 2.0 0a1.0 1.0 0 1 0 -2.0 0M109.5 91.1a1.0 1.0 0 1 0 2.0 0a1.0 1.0 0 1 0 -2.0 0M110.8 91.8a1.0 1.0 0 1 0 2.0 0a1.0 1.0 0 1 0 -2.0 0M114.1 80.1a1.0 1.0 0 1 0 2.0 0a1.0 1.0 0 1 0 -2.0 0M118.6 82.0a1.0 1.0 0 1 0 2.0 0a1.0 1.0 0 1 0 -2.0 0M112.8 96.9a1.0 1.0 0 1 0 2.0 0a1.0 1.0 0 1 0 -2.0 0M114.7 86.6a1.0 1.0 0 1 0 2.0 0a1.0 1.0 0 1 0 -2.0 0M121.2 87.8a1.0 1.0 0 1 0 2.0 0a1.0 1.0 0 1 0 -2.0 0"/><path fill="#2412d8" d="M39.0 0.7a1.0 1.0 0 1 0 2.0 0a1.0 1.0 0 1 0 -2.0 0M50.0 9.8a1.0 1.0 0 1 0 2.0 0a1.0 1.0 0 1 0 -2.0 0M37.7 16.1a1.0 1.0 0 1 0 2.0 0a1.0 1.0 0 1 0 -2.0 0M119.9 3.1a1.0 1.0 0 1 0 2.0 0a1.0 1.0 0 1 0 -2.0 0M127.7 5.0a1.0 1.0 0 1 0 2.0 0a1.0 1.0 0 1 0 -2.0 0M64.6 12.1a1.0 1.0 0 1 0 2.0 0a1.0 1.0 0 1 0 -2.0 0M65.3 16.1a1.0 1.0 0 1 0 2.0 0a1.0 1.0 0 1 0 -2.0 0M99.1 9.6a1.0 1.0 0 1 0 2.0 0a1.0 1.0 0 1 0 -2.0 0M110.8 14.1a1.0 1.0 0 1 0 2.0 0a1.0 1.0 0 1 0 -2.0 0M117.3 16.7a1.0 1.0 0 1 0 2.0 0a1.0 1.0 0 1 0 -2.0 0M97.8 19.9a1.0 1.0 0 1 0 2.0 0a1.0 1.0 0 1 0 -2.0 0M104.3 24.5a1.0 1.0 0 1 0 2.0 0a1.0 1.0 0 1 0 -2.0 0M101.7 27.1a1.0 1.0 0 1 0 2.0 0a1.0 1.0 0 1 0 -2.0 0M110.1 28.4a1.0 1.0 0 1 0 2.0 0a1.0 1.0 0 1 0 -2.0 0M86.1 32.9a1.0 1.0 0 1 0 2.0 0a1.0 1.0 0 1 0 -2.0 0M85.4 34.2a1.0 1.0 0 1 0 2.0 0a1.0 1.0 0 1 0 -2.0 0M95.9 32.9a1.0 1.0 0 1 0 2.0 0a1.0 1.0 0 1 0 -2.0 0M99.8 33.6a1.0 1.0 0 1 0 2.0 0a1.0 1.0 0 1 0 -2.0 0M103.0 31.0a1.0 1.0 0 1 0 2.0 0a1.0 1.0 0 1 0 -2.0 0M105.6 31.6a1.0 1.0 0 1 0 2.0 0a1.0 1.0 0 1 0 -2.0 0M108.9 35.6a1.0 1.0 0 1 0 2.0 0a1.0 1.0 0 1 0 -2.0 0M117.3 30.3a1.0 1.0 0 1 0 2.0 0a1.0 1.0 0 1 0 -2.0 0M125.1 34.2a1.0 1.0 0 1 0 2.0 0a1.0 1.0 0 1 0 -2.0 0M78.3 38.8a1.0 1.0 0 1 0 2.0 0a1.0 1.0 0 1 0 -2.0 0M74.4 38.8a1.0 1.0 0 1 0 2.0 0a1.0 1.0 0 1 0 -2.0 0M83.5 38.8a1.0 1.0 0 1 0 2.0 0a1.0 1.0 0 1 0 -2.0 0M87.4 36.8a1.0 1.0 0 1 0 2.0 0a1.0 1.0 0 1 0 -2.0 0M114.7 38.8a1.0 1.0 0 1 0 2.0 0a1.0 1.0 0 1 0 -2.0 0M83.5 42.1a1.0 1.0 0 1 0 2.0 0a1.0 1.0 0 1 0 -2.0 0M88.1 42.7a1.0 1.0 0 1 0 2.0 0a1.0 1.0 0 1 0 -2.0 0M91.9 42.1a1.0 1.0 0 1 0 2.0 0a1.0 1.0 0 1 0 -2.0 0M97.8 42.7a1.0 1.0 0 1 0 2.0 0a1.0 1.0 0 1 0 -2.0 0M81.6 44.6a1.0 1.0 0 1 0 2.0 0a1.0 1.0 0 1 0 -2.0 0M82.9 45.9a1.0 1.0 0 1 0 2.0 0a1.0 1.0 0 1 0 -2.0 0M87.4 45.3a1.0 1.0 0 1 0 2.0 0a1.0 1.0 0 1 0 -2.0 0M92.6 44.6a1.0 1.0 0 1 0 2.0 0a1.0 1.0 0 1 0 -2.0 0M93.9 44.0a1.0 1.0 0 1 0 2.0 0a1.0 1.0 0 1 0 -2.0 0M103.0 45.9a1.0 1.0 0 1 0 2.0 0a1.0 1.0 0 1 0 -2.0 0M106.9 45.3a1.0 1.0 0 1 0 2.0 0a1.0 1.0 0 1 0 -2.0 0M118.6 43.3a1.0 1.0 0 1 0 2.0 0a1.0 1.0 0 1 0 -2.0 0M121.2 42.1a1.0 1.0 0 1 0 2.0 0a1.0 1.0 0 1 0 -2.0 0M117.3 49.8a1.0 1.0 0 1 0 2.0 0a1.0 1.0 0 1 0 -2.0 0M90.0 48.6a1.0 1.0 0 1 0 2.0 0a1.0 1.0 0 1 0 -2.0 0M92.6 48.6a1.0 1.0 0 1 0 2.0 0a1.0 1.0 0 1 0 -2.0 0M99.1 48.6a1.0 1.0 0 1 0 2.0 0a1.0 1.0 0 1 0 -2.0 0M82.9 47.9a1.0 1.0 0 1 0 2.0 0a1.0 1.0 0 1 0 -2.0 0M69.2 49.8a1.0 1.0 0 1 0 2.0 0a1.0 1.0 0 1 0 -2.0 0M62.7 76.1a1.0 1.0 0 1 0 2.0 0a1.0 1.0 0 1 0 -2.0 0M53.6 86.6a1.0 1.0 0 1 0 2.0 0a1.0 1.0 0 1 0 -2.0 0M60.1 95.0a1.0 1.0 0 1 0 2.0 0a1.0 1.0 0 1 0 -2.0 0M52.0 97.2a1.0 1.0 0 1 0 2.0 0a1.0 1.0 0 1 0 -2.0 0M65.3 52.8a1.0 1.0 0 1 0 2.0 0a1.0 1.0 0 1 0 -2.0 0M84.8 53.4a1.0 1.0 0 1 0 2.0 0a1.0 1.0 0 1 0 -2.0 0M97.1 54.1a1.0 1.0 0 1 0 2.0 0a1.0 1.0 0 1 0 -2.0 0M101.7 56.0a1.0 1.0 0 1 0 2.0 0a1.0 1.0 0 1 0 -2.0 0M104.3 53.4a1.0 1.0 0 1 0 2.0 0a1.0 1.0 0 1 0 -2.0 0M72.4 61.8a1.0 1.0 0 1 0 2.0 0a1.0 1.0 0 1 0 -2.0 0M105.6 58.6a1.0 1.0 0 1 0 2.0 0a1.0 1.0 0 1 0 -2.0 0M107.6 61.8a1.0 1.0 0 1 0 2.0 0a1.0 1.0 0 1 0 -2.0 0M121.2 61.2a1.0 1.0 0 1 0 2.0 0a1.0 1.0 0 1 0 -2.0 0M72.4 65.1a1.0 1.0 0 1 0 2.0 0a1.0 1.0 0 1 0 -2.0 0M108.2 64.4a1.0 1.0 0 1 0 2.0 0a1.0 1.0 0 1 0 -2.0 0M109.5 65.8a1.0 1.0 0 1 0 2.0 0a1.0 1.0 0 1 0 -2.0 0M71.8 75.5a1.0 1.0 0 1 0 2.0 0a1.0 1.0 0 1 0 -2.0 0M79.6 74.8a1.0 1.0 0 1 0 2.0 0a1.0 1.0 0 1 0 -2.0 0M91.3 82.0a1.0 1.0 0 1 0 2.0 0a1.0 1.0 0 1 0 -2.0 0M71.1 77.4a1.0 1.0 0 1 0 2.0 0a1.0 1.0 0 1 0 -2.0 0M69.2 76.8a1.0 1.0 0 1 0 2.0 0a1.0 1.0 0 1 0 -2.0 0M72.4 80.7a1.0 1.0 0 1 0 2.0 0a1.0 1.0 0 1 0 -2.0 0M78.3 82.6a1.0 1.0 0 1 0 2.0 0a1.0 1.0 0 1 0 -2.0 0M72.4 82.6a1.0 1.0 0 1 0 2.0 0a1.0 1.0 0 1 0 -2.0 0M73.8 84.6a1.0 1.0 0 1 0 2.0 0a1.0 1.0 0 1 0 -2.0 0M67.2 88.5a1.0 1.0 0 1 0 2.0 0a1.0 1.0 0 1 0 -2.0 0M104.3 74.8a1.0 1.0 0 1 0 2.0 0a1.0 1.0 0 1 0 -2.0 0M123.1 80.1a1.0 1.0 0 1 0 2.0 0a1.0 1.0 0 1 0 -2.0 0M125.1 82.6a1.0 1.0 0 1 0 2.0 0a1.0 1.0 0 1 0 -2.0 0"/></g>
</g>
<rect x="195.00" y="390.55" width="130.4" height="101.8" fill="none" stroke="#1a1a1a" stroke-width="1.45"/>
<path d="M190.40 414.04H195.00M190.40 453.20H195.00M190.40 492.35H195.00M195.00 492.35V496.95M233.35 492.35V496.95M271.71 492.35V496.95M310.06 492.35V496.95" stroke="#1a1a1a" stroke-width="1.2" fill="none"/>
<text x="195.10" y="387.05" font-size="10">(k)</text>
<text x="325.90" y="387.05" font-size="10" text-anchor="end">ΔRMSE: -0.011 (-0.7%)</text>
<text x="195.00" y="506.75" font-size="10" text-anchor="middle">93°E</text>
<text x="233.35" y="506.75" font-size="10" text-anchor="middle">98°E</text>
<text x="271.71" y="506.75" font-size="10" text-anchor="middle">103°E</text>
<text x="310.06" y="506.75" font-size="10" text-anchor="middle">108°E</text>
<clipPath id="cp11"><rect x="338.25" y="390.55" width="130.4" height="101.8"/></clipPath>
<g clip-path="url(#cp11)">
<use href="#cont" transform="translate(338.25,390.55)"/>
<g transform="translate(338.25,390.55)"><path fill="#dcf8fd" d="M16.3 16.7a1.0 1.0 0 1 0 2.0 0a1.0 1.0 0 1 0 -2.0 0M54.6 21.2a1.0 1.0 0 1 0 2.0 0a1.0 1.0 0 1 0 -2.0 0M71.6 13.4a1.0 1.0 0 1 0 2.0 0a1.0 1.0 0 1 0 -2.0 0M80.6 10.8a1.0 1.0 0 1 0 2.0 0a1.0 1.0 0 1 0 -2.0 0M92.4 13.4a1.0 1.0 0 1 0 2.0 0a1.0 1.0 0 1 0 -2.0 0M118.4 35.6a1.0 1.0 0 1 0 2.0 0a1.0 1.0 0 1 0 -2.0 0M123.6 29.1a1.0 1.0 0 1 0 2.0 0a1.0 1.0 0 1 0 -2.0 0M106.6 49.8a1.0 1.0 0 1 0 2.0 0a1.0 1.0 0 1 0 -2.0 0M109.2 77.4a1.0 1.0 0 1 0 2.0 0a1.0 1.0 0 1 0 -2.0 0M113.1 83.9a1.0 1.0 0 1 0 2.0 0a1.0 1.0 0 1 0 -2.0 0M109.2 100.8a1.0 1.0 0 1 0 2.0 0a1.0 1.0 0 1 0 -2.0 0M118.4 99.6a1.0 1.0 0 1 0 2.0 0a1.0 1.0 0 1 0 -2.0 0M97.6 96.9a1.0 1.0 0 1 0 2.0 0a1.0 1.0 0 1 0 -2.0 0M46.8 5.5a1.0 1.0 0 1 0 2.0 0a1.0 1.0 0 1 0 -2.0 0M97.4 5.7a1.0 1.0 0 1 0 2.0 0a1.0 1.0 0 1 0 -2.0 0M4.5 9.1a1.0 1.0 0 1 0 2.0 0a1.0 1.0 0 1 0 -2.0 0M89.2 11.4a1.0 1.0 0 1 0 2.0 0a1.0 1.0 0 1 0 -2.0 0M73.7 15.4a1.0 1.0 0 1 0 2.0 0a1.0 1.0 0 1 0 -2.0 0M82.0 15.0a1.0 1.0 0 1 0 2.0 0a1.0 1.0 0 1 0 -2.0 0M78.4 21.5a1.0 1.0 0 1 0 2.0 0a1.0 1.0 0 1 0 -2.0 0M56.7 27.6a1.0 1.0 0 1 0 2.0 0a1.0 1.0 0 1 0 -2.0 0M78.3 29.5a1.0 1.0 0 1 0 2.0 0a1.0 1.0 0 1 0 -2.0 0M47.1 46.8a1.0 1.0 0 1 0 2.0 0a1.0 1.0 0 1 0 -2.0 0M61.5 48.2a1.0 1.0 0 1 0 2.0 0a1.0 1.0 0 1 0 -2.0 0M110.2 48.5a1.0 1.0 0 1 0 2.0 0a1.0 1.0 0 1 0 -2.0 0M40.6 52.3a1.0 1.0 0 1 0 2.0 0a1.0 1.0 0 1 0 -2.0 0M96.3 51.0a1.0 1.0 0 1 0 2.0 0a1.0 1.0 0 1 0 -2.0 0M58.7 56.2a1.0 1.0 0 1 0 2.0 0a1.0 1.0 0 1 0 -2.0 0M111.9 56.3a1.0 1.0 0 1 0 2.0 0a1.0 1.0 0 1 0 -2.0 0M82.9 69.0a1.0 1.0 0 1 0 2.0 0a1.0 1.0 0 1 0 -2.0 0M115.7 70.7a1.0 1.0 0 1 0 2.0 0a1.0 1.0 0 1 0 -2.0 0M49.5 76.6a1.0 1.0 0 1 0 2.0 0a1.0 1.0 0 1 0 -2.0 0M91.1 74.3a1.0 1.0 0 1 0 2.0 0a1.0 1.0 0 1 0 -2.0 0M43.4 84.8a1.0 1.0 0 1 0 2.0 0a1.0 1.0 0 1 0 -2.0 0M114.5 92.8a1.0 1.0 0 1 0 2.0 0a1.0 1.0 0 1 0 -2.0 0M120.8 92.8a1.0 1.0 0 1 0 2.0 0a1.0 1.0 0 1 0 -2.0 0M66.0 99.0a1.0 1.0 0 1 0 2.0 0a1.0 1.0 0 1 0 -2.0 0M73.4 97.8a1.0 1.0 0 1 0 2.0 0a1.0 1.0 0 1 0 -2.0 0"/><path fill="#fdf8d8" d="M4.6 24.2a1.0 1.0 0 1 0 2.0 0a1.0 1.0 0 1 0 -2.0 0M52.1 26.4a1.0 1.0 0 1 0 2.0 0a1.0 1.0 0 1 0 -2.0 0M63.6 16.5a1.0 1.0 0 1 0 2.0 0a1.0 1.0 0 1 0 -2.0 0M111.8 16.1a1.0 1.0 0 1 0 2.0 0a1.0 1.0 0 1 0 -2.0 0M10.4 19.1a1.0 1.0 0 1 0 2.0 0a1.0 1.0 0 1 0 -2.0 0M46.4 25.5a1.0 1.0 0 1 0 2.0 0a1.0 1.0 0 1 0 -2.0 0M64.4 24.9a1.0 1.0 0 1 0 2.0 0a1.0 1.0 0 1 0 -2.0 0M11.2 29.1a1.0 1.0 0 1 0 2.0 0a1.0 1.0 0 1 0 -2.0 0M33.5 44.1a1.0 1.0 0 1 0 2.0 0a1.0 1.0 0 1 0 -2.0 0M45.9 56.2a1.0 1.0 0 1 0 2.0 0a1.0 1.0 0 1 0 -2.0 0M120.2 55.2a1.0 1.0 0 1 0 2.0 0a1.0 1.0 0 1 0 -2.0 0M84.4 66.7a1.0 1.0 0 1 0 2.0 0a1.0 1.0 0 1 0 -2.0 0M88.7 83.1a1.0 1.0 0 1 0 2.0 0a1.0 1.0 0 1 0 -2.0 0M91.1 87.9a1.0 1.0 0 1 0 2.0 0a1.0 1.0 0 1 0 -2.0 0M43.4 92.6a1.0 1.0 0 1 0 2.0 0a1.0 1.0 0 1 0 -2.0 0M61.4 97.3a1.0 1.0 0 1 0 2.0 0a1.0 1.0 0 1 0 -2.0 0M69.5 99.4a1.0 1.0 0 1 0 2.0 0a1.0 1.0 0 1 0 -2.0 0"/><path fill="#80d3f7" d="M18.9 9.3a1.0 1.0 0 1 0 2.0 0a1.0 1.0 0 1 0 -2.0 0M57.9 16.3a1.0 1.0 0 1 0 2.0 0a1.0 1.0 0 1 0 -2.0 0M25.4 21.9a1.0 1.0 0 1 0 2.0 0a1.0 1.0 0 1 0 -2.0 0M3.7 27.5a1.0 1.0 0 1 0 2.0 0a1.0 1.0 0 1 0 -2.0 0M41.6 41.8a1.0 1.0 0 1 0 2.0 0a1.0 1.0 0 1 0 -2.0 0M59.9 38.8a1.0 1.0 0 1 0 2.0 0a1.0 1.0 0 1 0 -2.0 0M19.6 40.1a1.0 1.0 0 1 0 2.0 0a1.0 1.0 0 1 0 -2.0 0M63.1 12.1a1.0 1.0 0 1 0 2.0 0a1.0 1.0 0 1 0 -2.0 0M86.5 1.1a1.0 1.0 0 1 0 2.0 0a1.0 1.0 0 1 0 -2.0 0M93.0 1.8a1.0 1.0 0 1 0 2.0 0a1.0 1.0 0 1 0 -2.0 0M96.9 3.1a1.0 1.0 0 1 0 2.0 0a1.0 1.0 0 1 0 -2.0 0M104.1 1.1a1.0 1.0 0 1 0 2.0 0a1.0 1.0 0 1 0 -2.0 0M112.5 5.0a1.0 1.0 0 1 0 2.0 0a1.0 1.0 0 1 0 -2.0 0M64.4 12.1a1.0 1.0 0 1 0 2.0 0a1.0 1.0 0 1 0 -2.0 0M85.2 7.6a1.0 1.0 0 1 0 2.0 0a1.0 1.0 0 1 0 -2.0 0M102.1 8.2a1.0 1.0 0 1 0 2.0 0a1.0 1.0 0 1 0 -2.0 0M94.9 12.8a1.0 1.0 0 1 0 2.0 0a1.0 1.0 0 1 0 -2.0 0M108.6 14.1a1.0 1.0 0 1 0 2.0 0a1.0 1.0 0 1 0 -2.0 0M115.8 15.4a1.0 1.0 0 1 0 2.0 0a1.0 1.0 0 1 0 -2.0 0M120.9 10.2a1.0 1.0 0 1 0 2.0 0a1.0 1.0 0 1 0 -2.0 0M70.2 31.6a1.0 1.0 0 1 0 2.0 0a1.0 1.0 0 1 0 -2.0 0M66.4 31.6a1.0 1.0 0 1 0 2.0 0a1.0 1.0 0 1 0 -2.0 0M113.1 23.2a1.0 1.0 0 1 0 2.0 0a1.0 1.0 0 1 0 -2.0 0M124.9 24.5a1.0 1.0 0 1 0 2.0 0a1.0 1.0 0 1 0 -2.0 0M91.7 25.8a1.0 1.0 0 1 0 2.0 0a1.0 1.0 0 1 0 -2.0 0M101.4 27.1a1.0 1.0 0 1 0 2.0 0a1.0 1.0 0 1 0 -2.0 0M111.2 28.4a1.0 1.0 0 1 0 2.0 0a1.0 1.0 0 1 0 -2.0 0M93.6 29.1a1.0 1.0 0 1 0 2.0 0a1.0 1.0 0 1 0 -2.0 0M98.9 33.6a1.0 1.0 0 1 0 2.0 0a1.0 1.0 0 1 0 -2.0 0M107.9 32.9a1.0 1.0 0 1 0 2.0 0a1.0 1.0 0 1 0 -2.0 0M117.1 30.3a1.0 1.0 0 1 0 2.0 0a1.0 1.0 0 1 0 -2.0 0M80.0 36.8a1.0 1.0 0 1 0 2.0 0a1.0 1.0 0 1 0 -2.0 0M89.8 37.5a1.0 1.0 0 1 0 2.0 0a1.0 1.0 0 1 0 -2.0 0M93.0 38.1a1.0 1.0 0 1 0 2.0 0a1.0 1.0 0 1 0 -2.0 0M102.8 36.8a1.0 1.0 0 1 0 2.0 0a1.0 1.0 0 1 0 -2.0 0M91.7 42.1a1.0 1.0 0 1 0 2.0 0a1.0 1.0 0 1 0 -2.0 0M97.6 42.7a1.0 1.0 0 1 0 2.0 0a1.0 1.0 0 1 0 -2.0 0M77.4 43.3a1.0 1.0 0 1 0 2.0 0a1.0 1.0 0 1 0 -2.0 0M93.6 44.0a1.0 1.0 0 1 0 2.0 0a1.0 1.0 0 1 0 -2.0 0M114.4 44.6a1.0 1.0 0 1 0 2.0 0a1.0 1.0 0 1 0 -2.0 0M118.4 43.3a1.0 1.0 0 1 0 2.0 0a1.0 1.0 0 1 0 -2.0 0M120.9 42.1a1.0 1.0 0 1 0 2.0 0a1.0 1.0 0 1 0 -2.0 0M124.2 42.7a1.0 1.0 0 1 0 2.0 0a1.0 1.0 0 1 0 -2.0 0M124.9 40.8a1.0 1.0 0 1 0 2.0 0a1.0 1.0 0 1 0 -2.0 0M120.9 47.9a1.0 1.0 0 1 0 2.0 0a1.0 1.0 0 1 0 -2.0 0M124.9 49.8a1.0 1.0 0 1 0 2.0 0a1.0 1.0 0 1 0 -2.0 0M92.4 48.6a1.0 1.0 0 1 0 2.0 0a1.0 1.0 0 1 0 -2.0 0M96.2 47.9a1.0 1.0 0 1 0 2.0 0a1.0 1.0 0 1 0 -2.0 0M98.9 48.6a1.0 1.0 0 1 0 2.0 0a1.0 1.0 0 1 0 -2.0 0M86.5 49.2a1.0 1.0 0 1 0 2.0 0a1.0 1.0 0 1 0 -2.0 0M68.9 49.8a1.0 1.0 0 1 0 2.0 0a1.0 1.0 0 1 0 -2.0 0M50.1 56.0a1.0 1.0 0 1 0 2.0 0a1.0 1.0 0 1 0 -2.0 0M63.1 59.2a1.0 1.0 0 1 0 2.0 0a1.0 1.0 0 1 0 -2.0 0M46.9 61.2a1.0 1.0 0 1 0 2.0 0a1.0 1.0 0 1 0 -2.0 0M47.5 66.8a1.0 1.0 0 1 0 2.0 0a1.0 1.0 0 1 0 -2.0 0M55.9 71.6a1.0 1.0 0 1 0 2.0 0a1.0 1.0 0 1 0 -2.0 0M56.6 74.8a1.0 1.0 0 1 0 2.0 0a1.0 1.0 0 1 0 -2.0 0M51.4 81.3a1.0 1.0 0 1 0 2.0 0a1.0 1.0 0 1 0 -2.0 0M46.9 85.9a1.0 1.0 0 1 0 2.0 0a1.0 1.0 0 1 0 -2.0 0M52.7 86.6a1.0 1.0 0 1 0 2.0 0a1.0 1.0 0 1 0 -2.0 0M46.9 92.4a1.0 1.0 0 1 0 2.0 0a1.0 1.0 0 1 0 -2.0 0M49.4 99.6a1.0 1.0 0 1 0 2.0 0a1.0 1.0 0 1 0 -2.0 0M65.1 52.8a1.0 1.0 0 1 0 2.0 0a1.0 1.0 0 1 0 -2.0 0M80.0 53.0a1.0 1.0 0 1 0 2.0 0a1.0 1.0 0 1 0 -2.0 0M101.4 56.0a1.0 1.0 0 1 0 2.0 0a1.0 1.0 0 1 0 -2.0 0M116.4 54.1a1.0 1.0 0 1 0 2.0 0a1.0 1.0 0 1 0 -2.0 0M122.9 53.4a1.0 1.0 0 1 0 2.0 0a1.0 1.0 0 1 0 -2.0 0M66.4 56.6a1.0 1.0 0 1 0 2.0 0a1.0 1.0 0 1 0 -2.0 0M76.8 57.3a1.0 1.0 0 1 0 2.0 0a1.0 1.0 0 1 0 -2.0 0M83.2 57.3a1.0 1.0 0 1 0 2.0 0a1.0 1.0 0 1 0 -2.0 0M94.9 61.2a1.0 1.0 0 1 0 2.0 0a1.0 1.0 0 1 0 -2.0 0M102.8 61.2a1.0 1.0 0 1 0 2.0 0a1.0 1.0 0 1 0 -2.0 0M117.1 61.2a1.0 1.0 0 1 0 2.0 0a1.0 1.0 0 1 0 -2.0 0M126.1 59.2a1.0 1.0 0 1 0 2.0 0a1.0 1.0 0 1 0 -2.0 0M89.8 65.8a1.0 1.0 0 1 0 2.0 0a1.0 1.0 0 1 0 -2.0 0M93.0 64.4a1.0 1.0 0 1 0 2.0 0a1.0 1.0 0 1 0 -2.0 0M94.9 68.3a1.0 1.0 0 1 0 2.0 0a1.0 1.0 0 1 0 -2.0 0M96.9 69.0a1.0 1.0 0 1 0 2.0 0a1.0 1.0 0 1 0 -2.0 0M98.2 67.7a1.0 1.0 0 1 0 2.0 0a1.0 1.0 0 1 0 -2.0 0M100.1 65.8a1.0 1.0 0 1 0 2.0 0a1.0 1.0 0 1 0 -2.0 0M103.4 69.0a1.0 1.0 0 1 0 2.0 0a1.0 1.0 0 1 0 -2.0 0M105.4 66.4a1.0 1.0 0 1 0 2.0 0a1.0 1.0 0 1 0 -2.0 0M117.1 63.1a1.0 1.0 0 1 0 2.0 0a1.0 1.0 0 1 0 -2.0 0M120.9 68.3a1.0 1.0 0 1 0 2.0 0a1.0 1.0 0 1 0 -2.0 0M124.9 65.8a1.0 1.0 0 1 0 2.0 0a1.0 1.0 0 1 0 -2.0 0M66.4 72.2a1.0 1.0 0 1 0 2.0 0a1.0 1.0 0 1 0 -2.0 0M89.8 77.4a1.0 1.0 0 1 0 2.0 0a1.0 1.0 0 1 0 -2.0 0M93.6 79.4a1.0 1.0 0 1 0 2.0 0a1.0 1.0 0 1 0 -2.0 0M83.2 79.4a1.0 1.0 0 1 0 2.0 0a1.0 1.0 0 1 0 -2.0 0M64.4 75.5a1.0 1.0 0 1 0 2.0 0a1.0 1.0 0 1 0 -2.0 0M68.9 80.7a1.0 1.0 0 1 0 2.0 0a1.0 1.0 0 1 0 -2.0 0M74.8 80.7a1.0 1.0 0 1 0 2.0 0a1.0 1.0 0 1 0 -2.0 0M70.9 83.9a1.0 1.0 0 1 0 2.0 0a1.0 1.0 0 1 0 -2.0 0M66.4 85.2a1.0 1.0 0 1 0 2.0 0a1.0 1.0 0 1 0 -2.0 0M72.9 89.1a1.0 1.0 0 1 0 2.0 0a1.0 1.0 0 1 0 -2.0 0M73.5 91.8a1.0 1.0 0 1 0 2.0 0a1.0 1.0 0 1 0 -2.0 0M84.6 89.1a1.0 1.0 0 1 0 2.0 0a1.0 1.0 0 1 0 -2.0 0M102.8 80.1a1.0 1.0 0 1 0 2.0 0a1.0 1.0 0 1 0 -2.0 0M127.4 82.0a1.0 1.0 0 1 0 2.0 0a1.0 1.0 0 1 0 -2.0 0M102.8 93.1a1.0 1.0 0 1 0 2.0 0a1.0 1.0 0 1 0 -2.0 0M124.2 99.6a1.0 1.0 0 1 0 2.0 0a1.0 1.0 0 1 0 -2.0 0M126.1 98.2a1.0 1.0 0 1 0 2.0 0a1.0 1.0 0 1 0 -2.0 0M96.2 90.4a1.0 1.0 0 1 0 2.0 0a1.0 1.0 0 1 0 -2.0 0M100.1 83.9a1.0 1.0 0 1 0 2.0 0a1.0 1.0 0 1 0 -2.0 0M119.6 72.2a1.0 1.0 0 1 0 2.0 0a1.0 1.0 0 1 0 -2.0 0"/><path fill="#fdbb84" d="M54.6 31.6a1.0 1.0 0 1 0 2.0 0a1.0 1.0 0 1 0 -2.0 0M28.0 38.8a1.0 1.0 0 1 0 2.0 0a1.0 1.0 0 1 0 -2.0 0M45.6 39.1a1.0 1.0 0 1 0 2.0 0a1.0 1.0 0 1 0 -2.0 0M64.4 2.4a1.0 1.0 0 1 0 2.0 0a1.0 1.0 0 1 0 -2.0 0M99.5 2.0a1.0 1.0 0 1 0 2.0 0a1.0 1.0 0 1 0 -2.0 0M108.6 3.1a1.0 1.0 0 1 0 2.0 0a1.0 1.0 0 1 0 -2.0 0M117.7 5.6a1.0 1.0 0 1 0 2.0 0a1.0 1.0 0 1 0 -2.0 0M85.9 9.6a1.0 1.0 0 1 0 2.0 0a1.0 1.0 0 1 0 -2.0 0M123.6 16.7a1.0 1.0 0 1 0 2.0 0a1.0 1.0 0 1 0 -2.0 0M100.1 16.7a1.0 1.0 0 1 0 2.0 0a1.0 1.0 0 1 0 -2.0 0M84.6 13.4a1.0 1.0 0 1 0 2.0 0a1.0 1.0 0 1 0 -2.0 0M68.9 24.5a1.0 1.0 0 1 0 2.0 0a1.0 1.0 0 1 0 -2.0 0M75.4 23.2a1.0 1.0 0 1 0 2.0 0a1.0 1.0 0 1 0 -2.0 0M94.9 21.2a1.0 1.0 0 1 0 2.0 0a1.0 1.0 0 1 0 -2.0 0M98.9 28.4a1.0 1.0 0 1 0 2.0 0a1.0 1.0 0 1 0 -2.0 0M85.9 31.0a1.0 1.0 0 1 0 2.0 0a1.0 1.0 0 1 0 -2.0 0M82.6 33.6a1.0 1.0 0 1 0 2.0 0a1.0 1.0 0 1 0 -2.0 0M101.4 31.0a1.0 1.0 0 1 0 2.0 0a1.0 1.0 0 1 0 -2.0 0M118.4 31.6a1.0 1.0 0 1 0 2.0 0a1.0 1.0 0 1 0 -2.0 0M124.9 34.2a1.0 1.0 0 1 0 2.0 0a1.0 1.0 0 1 0 -2.0 0M80.6 34.9a1.0 1.0 0 1 0 2.0 0a1.0 1.0 0 1 0 -2.0 0M87.1 36.8a1.0 1.0 0 1 0 2.0 0a1.0 1.0 0 1 0 -2.0 0M98.9 39.4a1.0 1.0 0 1 0 2.0 0a1.0 1.0 0 1 0 -2.0 0M61.8 55.3a1.0 1.0 0 1 0 2.0 0a1.0 1.0 0 1 0 -2.0 0M57.9 65.1a1.0 1.0 0 1 0 2.0 0a1.0 1.0 0 1 0 -2.0 0M36.4 80.1a1.0 1.0 0 1 0 2.0 0a1.0 1.0 0 1 0 -2.0 0M41.0 78.1a1.0 1.0 0 1 0 2.0 0a1.0 1.0 0 1 0 -2.0 0M53.4 82.4a1.0 1.0 0 1 0 2.0 0a1.0 1.0 0 1 0 -2.0 0M47.5 89.8a1.0 1.0 0 1 0 2.0 0a1.0 1.0 0 1 0 -2.0 0M104.1 53.4a1.0 1.0 0 1 0 2.0 0a1.0 1.0 0 1 0 -2.0 0M109.2 56.0a1.0 1.0 0 1 0 2.0 0a1.0 1.0 0 1 0 -2.0 0M127.4 56.6a1.0 1.0 0 1 0 2.0 0a1.0 1.0 0 1 0 -2.0 0M76.8 67.1a1.0 1.0 0 1 0 2.0 0a1.0 1.0 0 1 0 -2.0 0M76.8 69.6a1.0 1.0 0 1 0 2.0 0a1.0 1.0 0 1 0 -2.0 0M84.6 63.8a1.0 1.0 0 1 0 2.0 0a1.0 1.0 0 1 0 -2.0 0M109.2 65.8a1.0 1.0 0 1 0 2.0 0a1.0 1.0 0 1 0 -2.0 0M98.9 76.1a1.0 1.0 0 1 0 2.0 0a1.0 1.0 0 1 0 -2.0 0M106.6 82.6a1.0 1.0 0 1 0 2.0 0a1.0 1.0 0 1 0 -2.0 0M102.8 86.6a1.0 1.0 0 1 0 2.0 0a1.0 1.0 0 1 0 -2.0 0M115.8 79.4a1.0 1.0 0 1 0 2.0 0a1.0 1.0 0 1 0 -2.0 0M117.1 91.8a1.0 1.0 0 1 0 2.0 0a1.0 1.0 0 1 0 -2.0 0M119.6 90.4a1.0 1.0 0 1 0 2.0 0a1.0 1.0 0 1 0 -2.0 0M120.9 96.9a1.0 1.0 0 1 0 2.0 0a1.0 1.0 0 1 0 -2.0 0M102.8 82.6a1.0 1.0 0 1 0 2.0 0a1.0 1.0 0 1 0 -2.0 0M105.4 85.2a1.0 1.0 0 1 0 2.0 0a1.0 1.0 0 1 0 -2.0 0M123.6 71.6a1.0 1.0 0 1 0 2.0 0a1.0 1.0 0 1 0 -2.0 0"/><path fill="#3c8af4" d="M38.8 0.7a1.0 1.0 0 1 0 2.0 0a1.0 1.0 0 1 0 -2.0 0M49.7 9.8a1.0 1.0 0 1 0 2.0 0a1.0 1.0 0 1 0 -2.0 0M28.9 15.8a1.0 1.0 0 1 0 2.0 0a1.0 1.0 0 1 0 -2.0 0M35.8 41.8a1.0 1.0 0 1 0 2.0 0a1.0 1.0 0 1 0 -2.0 0M16.3 44.6a1.0 1.0 0 1 0 2.0 0a1.0 1.0 0 1 0 -2.0 0M32.8 49.2a1.0 1.0 0 1 0 2.0 0a1.0 1.0 0 1 0 -2.0 0M115.8 3.7a1.0 1.0 0 1 0 2.0 0a1.0 1.0 0 1 0 -2.0 0M86.5 26.4a1.0 1.0 0 1 0 2.0 0a1.0 1.0 0 1 0 -2.0 0M84.6 32.3a1.0 1.0 0 1 0 2.0 0a1.0 1.0 0 1 0 -2.0 0M102.8 34.9a1.0 1.0 0 1 0 2.0 0a1.0 1.0 0 1 0 -2.0 0M48.8 79.4a1.0 1.0 0 1 0 2.0 0a1.0 1.0 0 1 0 -2.0 0M57.9 89.8a1.0 1.0 0 1 0 2.0 0a1.0 1.0 0 1 0 -2.0 0M86.5 53.0a1.0 1.0 0 1 0 2.0 0a1.0 1.0 0 1 0 -2.0 0M102.1 65.1a1.0 1.0 0 1 0 2.0 0a1.0 1.0 0 1 0 -2.0 0M102.8 67.1a1.0 1.0 0 1 0 2.0 0a1.0 1.0 0 1 0 -2.0 0"/><path fill="#ee2531" d="M20.2 6.7a1.0 1.0 0 1 0 2.0 0a1.0 1.0 0 1 0 -2.0 0M30.6 30.3a1.0 1.0 0 1 0 2.0 0a1.0 1.0 0 1 0 -2.0 0M54.0 39.2a1.0 1.0 0 1 0 2.0 0a1.0 1.0 0 1 0 -2.0 0M68.3 7.6a1.0 1.0 0 1 0 2.0 0a1.0 1.0 0 1 0 -2.0 0M76.8 6.9a1.0 1.0 0 1 0 2.0 0a1.0 1.0 0 1 0 -2.0 0M91.7 18.6a1.0 1.0 0 1 0 2.0 0a1.0 1.0 0 1 0 -2.0 0M100.1 21.9a1.0 1.0 0 1 0 2.0 0a1.0 1.0 0 1 0 -2.0 0M102.8 40.8a1.0 1.0 0 1 0 2.0 0a1.0 1.0 0 1 0 -2.0 0M91.1 50.5a1.0 1.0 0 1 0 2.0 0a1.0 1.0 0 1 0 -2.0 0M61.8 74.2a1.0 1.0 0 1 0 2.0 0a1.0 1.0 0 1 0 -2.0 0M43.6 87.8a1.0 1.0 0 1 0 2.0 0a1.0 1.0 0 1 0 -2.0 0M50.8 89.8a1.0 1.0 0 1 0 2.0 0a1.0 1.0 0 1 0 -2.0 0M60.5 86.3a1.0 1.0 0 1 0 2.0 0a1.0 1.0 0 1 0 -2.0 0M126.1 54.7a1.0 1.0 0 1 0 2.0 0a1.0 1.0 0 1 0 -2.0 0M89.8 59.2a1.0 1.0 0 1 0 2.0 0a1.0 1.0 0 1 0 -2.0 0M77.4 74.2a1.0 1.0 0 1 0 2.0 0a1.0 1.0 0 1 0 -2.0 0M91.7 71.6a1.0 1.0 0 1 0 2.0 0a1.0 1.0 0 1 0 -2.0 0"/><path fill="#a8072e" d="M30.6 9.6a1.0 1.0 0 1 0 2.0 0a1.0 1.0 0 1 0 -2.0 0M51.4 8.2a1.0 1.0 0 1 0 2.0 0a1.0 1.0 0 1 0 -2.0 0M18.5 28.1a1.0 1.0 0 1 0 2.0 0a1.0 1.0 0 1 0 -2.0 0M43.6 29.4a1.0 1.0 0 1 0 2.0 0a1.0 1.0 0 1 0 -2.0 0M0.3 34.0a1.0 1.0 0 1 0 2.0 0a1.0 1.0 0 1 0 -2.0 0M7.9 45.3a1.0 1.0 0 1 0 2.0 0a1.0 1.0 0 1 0 -2.0 0M79.4 3.1a1.0 1.0 0 1 0 2.0 0a1.0 1.0 0 1 0 -2.0 0M106.6 5.0a1.0 1.0 0 1 0 2.0 0a1.0 1.0 0 1 0 -2.0 0M120.9 1.8a1.0 1.0 0 1 0 2.0 0a1.0 1.0 0 1 0 -2.0 0M122.9 5.0a1.0 1.0 0 1 0 2.0 0a1.0 1.0 0 1 0 -2.0 0M124.9 3.7a1.0 1.0 0 1 0 2.0 0a1.0 1.0 0 1 0 -2.0 0M127.4 5.0a1.0 1.0 0 1 0 2.0 0a1.0 1.0 0 1 0 -2.0 0M120.3 6.9a1.0 1.0 0 1 0 2.0 0a1.0 1.0 0 1 0 -2.0 0M122.2 10.2a1.0 1.0 0 1 0 2.0 0a1.0 1.0 0 1 0 -2.0 0M105.4 14.8a1.0 1.0 0 1 0 2.0 0a1.0 1.0 0 1 0 -2.0 0M67.6 27.8a1.0 1.0 0 1 0 2.0 0a1.0 1.0 0 1 0 -2.0 0M97.6 25.1a1.0 1.0 0 1 0 2.0 0a1.0 1.0 0 1 0 -2.0 0M107.3 23.8a1.0 1.0 0 1 0 2.0 0a1.0 1.0 0 1 0 -2.0 0M118.4 23.8a1.0 1.0 0 1 0 2.0 0a1.0 1.0 0 1 0 -2.0 0M106.6 26.4a1.0 1.0 0 1 0 2.0 0a1.0 1.0 0 1 0 -2.0 0M109.9 29.1a1.0 1.0 0 1 0 2.0 0a1.0 1.0 0 1 0 -2.0 0M83.9 29.1a1.0 1.0 0 1 0 2.0 0a1.0 1.0 0 1 0 -2.0 0M93.6 32.3a1.0 1.0 0 1 0 2.0 0a1.0 1.0 0 1 0 -2.0 0M94.9 34.9a1.0 1.0 0 1 0 2.0 0a1.0 1.0 0 1 0 -2.0 0M108.6 36.2a1.0 1.0 0 1 0 2.0 0a1.0 1.0 0 1 0 -2.0 0M111.9 33.6a1.0 1.0 0 1 0 2.0 0a1.0 1.0 0 1 0 -2.0 0M116.4 32.3a1.0 1.0 0 1 0 2.0 0a1.0 1.0 0 1 0 -2.0 0M124.9 36.8a1.0 1.0 0 1 0 2.0 0a1.0 1.0 0 1 0 -2.0 0M73.5 40.1a1.0 1.0 0 1 0 2.0 0a1.0 1.0 0 1 0 -2.0 0M75.4 39.4a1.0 1.0 0 1 0 2.0 0a1.0 1.0 0 1 0 -2.0 0M100.1 39.4a1.0 1.0 0 1 0 2.0 0a1.0 1.0 0 1 0 -2.0 0M107.3 40.8a1.0 1.0 0 1 0 2.0 0a1.0 1.0 0 1 0 -2.0 0M111.9 39.4a1.0 1.0 0 1 0 2.0 0a1.0 1.0 0 1 0 -2.0 0M89.1 41.4a1.0 1.0 0 1 0 2.0 0a1.0 1.0 0 1 0 -2.0 0M99.5 42.1a1.0 1.0 0 1 0 2.0 0a1.0 1.0 0 1 0 -2.0 0M110.6 44.0a1.0 1.0 0 1 0 2.0 0a1.0 1.0 0 1 0 -2.0 0M112.5 50.5a1.0 1.0 0 1 0 2.0 0a1.0 1.0 0 1 0 -2.0 0M126.8 47.9a1.0 1.0 0 1 0 2.0 0a1.0 1.0 0 1 0 -2.0 0M73.5 47.2a1.0 1.0 0 1 0 2.0 0a1.0 1.0 0 1 0 -2.0 0M62.4 65.1a1.0 1.0 0 1 0 2.0 0a1.0 1.0 0 1 0 -2.0 0M51.4 69.6a1.0 1.0 0 1 0 2.0 0a1.0 1.0 0 1 0 -2.0 0M52.1 72.2a1.0 1.0 0 1 0 2.0 0a1.0 1.0 0 1 0 -2.0 0M58.6 82.4a1.0 1.0 0 1 0 2.0 0a1.0 1.0 0 1 0 -2.0 0M59.9 93.7a1.0 1.0 0 1 0 2.0 0a1.0 1.0 0 1 0 -2.0 0M49.4 96.3a1.0 1.0 0 1 0 2.0 0a1.0 1.0 0 1 0 -2.0 0M111.9 53.4a1.0 1.0 0 1 0 2.0 0a1.0 1.0 0 1 0 -2.0 0M120.9 52.1a1.0 1.0 0 1 0 2.0 0a1.0 1.0 0 1 0 -2.0 0M93.0 60.6a1.0 1.0 0 1 0 2.0 0a1.0 1.0 0 1 0 -2.0 0M112.5 60.6a1.0 1.0 0 1 0 2.0 0a1.0 1.0 0 1 0 -2.0 0M113.8 62.5a1.0 1.0 0 1 0 2.0 0a1.0 1.0 0 1 0 -2.0 0M120.9 61.2a1.0 1.0 0 1 0 2.0 0a1.0 1.0 0 1 0 -2.0 0M122.2 59.2a1.0 1.0 0 1 0 2.0 0a1.0 1.0 0 1 0 -2.0 0M65.7 64.4a1.0 1.0 0 1 0 2.0 0a1.0 1.0 0 1 0 -2.0 0M87.8 61.8a1.0 1.0 0 1 0 2.0 0a1.0 1.0 0 1 0 -2.0 0M109.9 71.6a1.0 1.0 0 1 0 2.0 0a1.0 1.0 0 1 0 -2.0 0M112.5 70.3a1.0 1.0 0 1 0 2.0 0a1.0 1.0 0 1 0 -2.0 0M113.1 65.1a1.0 1.0 0 1 0 2.0 0a1.0 1.0 0 1 0 -2.0 0M127.4 68.3a1.0 1.0 0 1 0 2.0 0a1.0 1.0 0 1 0 -2.0 0M70.9 73.6a1.0 1.0 0 1 0 2.0 0a1.0 1.0 0 1 0 -2.0 0M71.6 75.5a1.0 1.0 0 1 0 2.0 0a1.0 1.0 0 1 0 -2.0 0M81.3 73.6a1.0 1.0 0 1 0 2.0 0a1.0 1.0 0 1 0 -2.0 0M94.9 74.8a1.0 1.0 0 1 0 2.0 0a1.0 1.0 0 1 0 -2.0 0M80.0 78.8a1.0 1.0 0 1 0 2.0 0a1.0 1.0 0 1 0 -2.0 0M76.8 78.8a1.0 1.0 0 1 0 2.0 0a1.0 1.0 0 1 0 -2.0 0M74.1 78.8a1.0 1.0 0 1 0 2.0 0a1.0 1.0 0 1 0 -2.0 0M72.2 78.1a1.0 1.0 0 1 0 2.0 0a1.0 1.0 0 1 0 -2.0 0M70.9 77.4a1.0 1.0 0 1 0 2.0 0a1.0 1.0 0 1 0 -2.0 0M91.1 85.2a1.0 1.0 0 1 0 2.0 0a1.0 1.0 0 1 0 -2.0 0M70.9 88.5a1.0 1.0 0 1 0 2.0 0a1.0 1.0 0 1 0 -2.0 0M76.8 89.8a1.0 1.0 0 1 0 2.0 0a1.0 1.0 0 1 0 -2.0 0M77.4 90.4a1.0 1.0 0 1 0 2.0 0a1.0 1.0 0 1 0 -2.0 0M70.2 93.7a1.0 1.0 0 1 0 2.0 0a1.0 1.0 0 1 0 -2.0 0M85.2 91.1a1.0 1.0 0 1 0 2.0 0a1.0 1.0 0 1 0 -2.0 0M86.5 93.1a1.0 1.0 0 1 0 2.0 0a1.0 1.0 0 1 0 -2.0 0M105.4 87.8a1.0 1.0 0 1 0 2.0 0a1.0 1.0 0 1 0 -2.0 0M109.2 91.1a1.0 1.0 0 1 0 2.0 0a1.0 1.0 0 1 0 -2.0 0M110.6 91.8a1.0 1.0 0 1 0 2.0 0a1.0 1.0 0 1 0 -2.0 0M113.8 80.1a1.0 1.0 0 1 0 2.0 0a1.0 1.0 0 1 0 -2.0 0M118.4 82.0a1.0 1.0 0 1 0 2.0 0a1.0 1.0 0 1 0 -2.0 0M124.9 83.3a1.0 1.0 0 1 0 2.0 0a1.0 1.0 0 1 0 -2.0 0M114.4 86.6a1.0 1.0 0 1 0 2.0 0a1.0 1.0 0 1 0 -2.0 0M114.4 87.8a1.0 1.0 0 1 0 2.0 0a1.0 1.0 0 1 0 -2.0 0M124.9 93.1a1.0 1.0 0 1 0 2.0 0a1.0 1.0 0 1 0 -2.0 0M104.7 98.9a1.0 1.0 0 1 0 2.0 0a1.0 1.0 0 1 0 -2.0 0M108.6 98.2a1.0 1.0 0 1 0 2.0 0a1.0 1.0 0 1 0 -2.0 0M117.1 96.3a1.0 1.0 0 1 0 2.0 0a1.0 1.0 0 1 0 -2.0 0M120.9 87.8a1.0 1.0 0 1 0 2.0 0a1.0 1.0 0 1 0 -2.0 0M106.6 94.3a1.0 1.0 0 1 0 2.0 0a1.0 1.0 0 1 0 -2.0 0"/><path fill="#2412d8" d="M37.5 16.1a1.0 1.0 0 1 0 2.0 0a1.0 1.0 0 1 0 -2.0 0M41.4 24.9a1.0 1.0 0 1 0 2.0 0a1.0 1.0 0 1 0 -2.0 0M19.8 33.3a1.0 1.0 0 1 0 2.0 0a1.0 1.0 0 1 0 -2.0 0M54.6 46.2a1.0 1.0 0 1 0 2.0 0a1.0 1.0 0 1 0 -2.0 0M119.6 3.1a1.0 1.0 0 1 0 2.0 0a1.0 1.0 0 1 0 -2.0 0M98.9 9.6a1.0 1.0 0 1 0 2.0 0a1.0 1.0 0 1 0 -2.0 0M117.1 16.7a1.0 1.0 0 1 0 2.0 0a1.0 1.0 0 1 0 -2.0 0M71.6 17.3a1.0 1.0 0 1 0 2.0 0a1.0 1.0 0 1 0 -2.0 0M104.1 24.5a1.0 1.0 0 1 0 2.0 0a1.0 1.0 0 1 0 -2.0 0M88.4 28.4a1.0 1.0 0 1 0 2.0 0a1.0 1.0 0 1 0 -2.0 0M95.6 31.6a1.0 1.0 0 1 0 2.0 0a1.0 1.0 0 1 0 -2.0 0M96.9 31.0a1.0 1.0 0 1 0 2.0 0a1.0 1.0 0 1 0 -2.0 0M105.4 31.6a1.0 1.0 0 1 0 2.0 0a1.0 1.0 0 1 0 -2.0 0M113.1 30.3a1.0 1.0 0 1 0 2.0 0a1.0 1.0 0 1 0 -2.0 0M120.9 36.8a1.0 1.0 0 1 0 2.0 0a1.0 1.0 0 1 0 -2.0 0M78.1 38.8a1.0 1.0 0 1 0 2.0 0a1.0 1.0 0 1 0 -2.0 0M74.1 38.8a1.0 1.0 0 1 0 2.0 0a1.0 1.0 0 1 0 -2.0 0M83.2 38.8a1.0 1.0 0 1 0 2.0 0a1.0 1.0 0 1 0 -2.0 0M114.4 38.8a1.0 1.0 0 1 0 2.0 0a1.0 1.0 0 1 0 -2.0 0M83.2 42.1a1.0 1.0 0 1 0 2.0 0a1.0 1.0 0 1 0 -2.0 0M87.8 42.7a1.0 1.0 0 1 0 2.0 0a1.0 1.0 0 1 0 -2.0 0M95.6 42.1a1.0 1.0 0 1 0 2.0 0a1.0 1.0 0 1 0 -2.0 0M101.4 42.7a1.0 1.0 0 1 0 2.0 0a1.0 1.0 0 1 0 -2.0 0M81.3 44.6a1.0 1.0 0 1 0 2.0 0a1.0 1.0 0 1 0 -2.0 0M82.6 45.9a1.0 1.0 0 1 0 2.0 0a1.0 1.0 0 1 0 -2.0 0M87.1 45.3a1.0 1.0 0 1 0 2.0 0a1.0 1.0 0 1 0 -2.0 0M92.4 44.6a1.0 1.0 0 1 0 2.0 0a1.0 1.0 0 1 0 -2.0 0M102.8 45.9a1.0 1.0 0 1 0 2.0 0a1.0 1.0 0 1 0 -2.0 0M106.6 45.3a1.0 1.0 0 1 0 2.0 0a1.0 1.0 0 1 0 -2.0 0M117.1 49.8a1.0 1.0 0 1 0 2.0 0a1.0 1.0 0 1 0 -2.0 0M89.8 48.6a1.0 1.0 0 1 0 2.0 0a1.0 1.0 0 1 0 -2.0 0M82.6 47.9a1.0 1.0 0 1 0 2.0 0a1.0 1.0 0 1 0 -2.0 0M77.4 48.6a1.0 1.0 0 1 0 2.0 0a1.0 1.0 0 1 0 -2.0 0M71.6 49.2a1.0 1.0 0 1 0 2.0 0a1.0 1.0 0 1 0 -2.0 0M83.2 49.8a1.0 1.0 0 1 0 2.0 0a1.0 1.0 0 1 0 -2.0 0M58.6 60.6a1.0 1.0 0 1 0 2.0 0a1.0 1.0 0 1 0 -2.0 0M54.0 63.8a1.0 1.0 0 1 0 2.0 0a1.0 1.0 0 1 0 -2.0 0M52.1 65.8a1.0 1.0 0 1 0 2.0 0a1.0 1.0 0 1 0 -2.0 0M43.6 71.6a1.0 1.0 0 1 0 2.0 0a1.0 1.0 0 1 0 -2.0 0M47.5 70.9a1.0 1.0 0 1 0 2.0 0a1.0 1.0 0 1 0 -2.0 0M53.4 72.9a1.0 1.0 0 1 0 2.0 0a1.0 1.0 0 1 0 -2.0 0M62.4 76.1a1.0 1.0 0 1 0 2.0 0a1.0 1.0 0 1 0 -2.0 0M45.6 77.4a1.0 1.0 0 1 0 2.0 0a1.0 1.0 0 1 0 -2.0 0M35.8 85.9a1.0 1.0 0 1 0 2.0 0a1.0 1.0 0 1 0 -2.0 0M59.9 95.0a1.0 1.0 0 1 0 2.0 0a1.0 1.0 0 1 0 -2.0 0M51.8 97.2a1.0 1.0 0 1 0 2.0 0a1.0 1.0 0 1 0 -2.0 0M69.6 52.8a1.0 1.0 0 1 0 2.0 0a1.0 1.0 0 1 0 -2.0 0M76.1 52.1a1.0 1.0 0 1 0 2.0 0a1.0 1.0 0 1 0 -2.0 0M84.6 53.4a1.0 1.0 0 1 0 2.0 0a1.0 1.0 0 1 0 -2.0 0M93.0 52.8a1.0 1.0 0 1 0 2.0 0a1.0 1.0 0 1 0 -2.0 0M96.9 54.1a1.0 1.0 0 1 0 2.0 0a1.0 1.0 0 1 0 -2.0 0M68.9 59.2a1.0 1.0 0 1 0 2.0 0a1.0 1.0 0 1 0 -2.0 0M73.5 57.3a1.0 1.0 0 1 0 2.0 0a1.0 1.0 0 1 0 -2.0 0M72.2 61.8a1.0 1.0 0 1 0 2.0 0a1.0 1.0 0 1 0 -2.0 0M74.1 63.1a1.0 1.0 0 1 0 2.0 0a1.0 1.0 0 1 0 -2.0 0M98.9 58.6a1.0 1.0 0 1 0 2.0 0a1.0 1.0 0 1 0 -2.0 0M105.4 58.6a1.0 1.0 0 1 0 2.0 0a1.0 1.0 0 1 0 -2.0 0M107.3 61.8a1.0 1.0 0 1 0 2.0 0a1.0 1.0 0 1 0 -2.0 0M69.6 65.8a1.0 1.0 0 1 0 2.0 0a1.0 1.0 0 1 0 -2.0 0M72.2 65.1a1.0 1.0 0 1 0 2.0 0a1.0 1.0 0 1 0 -2.0 0M107.9 64.4a1.0 1.0 0 1 0 2.0 0a1.0 1.0 0 1 0 -2.0 0M76.1 75.5a1.0 1.0 0 1 0 2.0 0a1.0 1.0 0 1 0 -2.0 0M79.4 74.8a1.0 1.0 0 1 0 2.0 0a1.0 1.0 0 1 0 -2.0 0M87.1 72.2a1.0 1.0 0 1 0 2.0 0a1.0 1.0 0 1 0 -2.0 0M76.1 79.4a1.0 1.0 0 1 0 2.0 0a1.0 1.0 0 1 0 -2.0 0M68.9 76.8a1.0 1.0 0 1 0 2.0 0a1.0 1.0 0 1 0 -2.0 0M72.2 80.7a1.0 1.0 0 1 0 2.0 0a1.0 1.0 0 1 0 -2.0 0M80.0 82.0a1.0 1.0 0 1 0 2.0 0a1.0 1.0 0 1 0 -2.0 0M78.1 82.6a1.0 1.0 0 1 0 2.0 0a1.0 1.0 0 1 0 -2.0 0M72.2 82.6a1.0 1.0 0 1 0 2.0 0a1.0 1.0 0 1 0 -2.0 0M73.5 84.6a1.0 1.0 0 1 0 2.0 0a1.0 1.0 0 1 0 -2.0 0M83.9 85.2a1.0 1.0 0 1 0 2.0 0a1.0 1.0 0 1 0 -2.0 0M67.0 88.5a1.0 1.0 0 1 0 2.0 0a1.0 1.0 0 1 0 -2.0 0M66.4 96.3a1.0 1.0 0 1 0 2.0 0a1.0 1.0 0 1 0 -2.0 0M80.6 93.7a1.0 1.0 0 1 0 2.0 0a1.0 1.0 0 1 0 -2.0 0M87.8 90.4a1.0 1.0 0 1 0 2.0 0a1.0 1.0 0 1 0 -2.0 0M104.1 74.8a1.0 1.0 0 1 0 2.0 0a1.0 1.0 0 1 0 -2.0 0M122.9 77.4a1.0 1.0 0 1 0 2.0 0a1.0 1.0 0 1 0 -2.0 0M124.9 91.8a1.0 1.0 0 1 0 2.0 0a1.0 1.0 0 1 0 -2.0 0"/></g>
</g>
<rect x="338.25" y="390.55" width="130.4" height="101.8" fill="none" stroke="#1a1a1a" stroke-width="1.45"/>
<path d="M333.65 414.04H338.25M333.65 453.20H338.25M333.65 492.35H338.25M338.25 492.35V496.95M376.60 492.35V496.95M414.96 492.35V496.95M453.31 492.35V496.95" stroke="#1a1a1a" stroke-width="1.2" fill="none"/>
<text x="338.35" y="387.05" font-size="10">(l)</text>
<text x="469.15" y="387.05" font-size="10" text-anchor="end">ΔRMSE: -0.009 (-0.5%)</text>
<text x="338.25" y="506.75" font-size="10" text-anchor="middle">93°E</text>
<text x="376.60" y="506.75" font-size="10" text-anchor="middle">98°E</text>
<text x="414.96" y="506.75" font-size="10" text-anchor="middle">103°E</text>
<text x="453.31" y="506.75" font-size="10" text-anchor="middle">108°E</text>
<text x="12.8" y="444.75" font-size="12.5" text-anchor="middle">V</text>
<path d="M473.6 399.25L477.80 394.95L482.0 399.25Z" fill="#a3002a"/><rect x="473.6" y="399.25" width="8.40" height="8.44" fill="#ee1b34"/><rect x="473.6" y="407.64" width="8.40" height="8.44" fill="#f43b3e"/><rect x="473.6" y="416.03" width="8.40" height="8.44" fill="#fca66a"/><rect x="473.6" y="424.42" width="8.40" height="8.44" fill="#fdd591"/><rect x="473.6" y="432.81" width="8.40" height="8.44" fill="#fffde2"/><rect x="473.6" y="441.20" width="8.40" height="8.44" fill="#e4fbff"/><rect x="473.6" y="449.59" width="8.40" height="8.44" fill="#9ae5f8"/><rect x="473.6" y="457.98" width="8.40" height="8.44" fill="#66c6f7"/><rect x="473.6" y="466.37" width="8.40" height="8.44" fill="#3a86f5"/><rect x="473.6" y="474.76" width="8.40" height="8.44" fill="#2a4ff3"/><path d="M473.6 483.15L477.80 487.55L482.0 483.15Z" fill="#1f0fd6"/>
<path d="M473.6 399.25L477.80 394.95L482.0 399.25V483.15L477.80 487.55L473.6 483.15Z" fill="none" stroke="#777" stroke-width="0.5"/>
<path d="M482.0 407.64h1.6" stroke="#999" stroke-width="0.7"/>
<text x="484.9" y="410.89" font-size="9">8</text>
<path d="M482.0 424.42h1.6" stroke="#999" stroke-width="0.7"/>
<text x="484.9" y="427.67" font-size="9">4</text>
<path d="M482.0 441.20h1.6" stroke="#999" stroke-width="0.7"/>
<text x="484.9" y="444.45" font-size="9">0</text>
<path d="M482.0 457.98h1.6" stroke="#999" stroke-width="0.7"/>
<text x="484.9" y="461.23" font-size="9">−4</text>
<path d="M482.0 474.76h1.6" stroke="#999" stroke-width="0.7"/>
<text x="484.9" y="478.01" font-size="9">−8</text>
<text x="117.25" y="521.9" font-size="12" text-anchor="middle">GMWR_6H minus CNTL</text>
<text x="260.50" y="521.9" font-size="12" text-anchor="middle">GMWR_3H minus CNTL</text>
<text x="403.75" y="521.9" font-size="12" text-anchor="middle">GMWR_1H minus CNTL</text>
</svg></body></html>
